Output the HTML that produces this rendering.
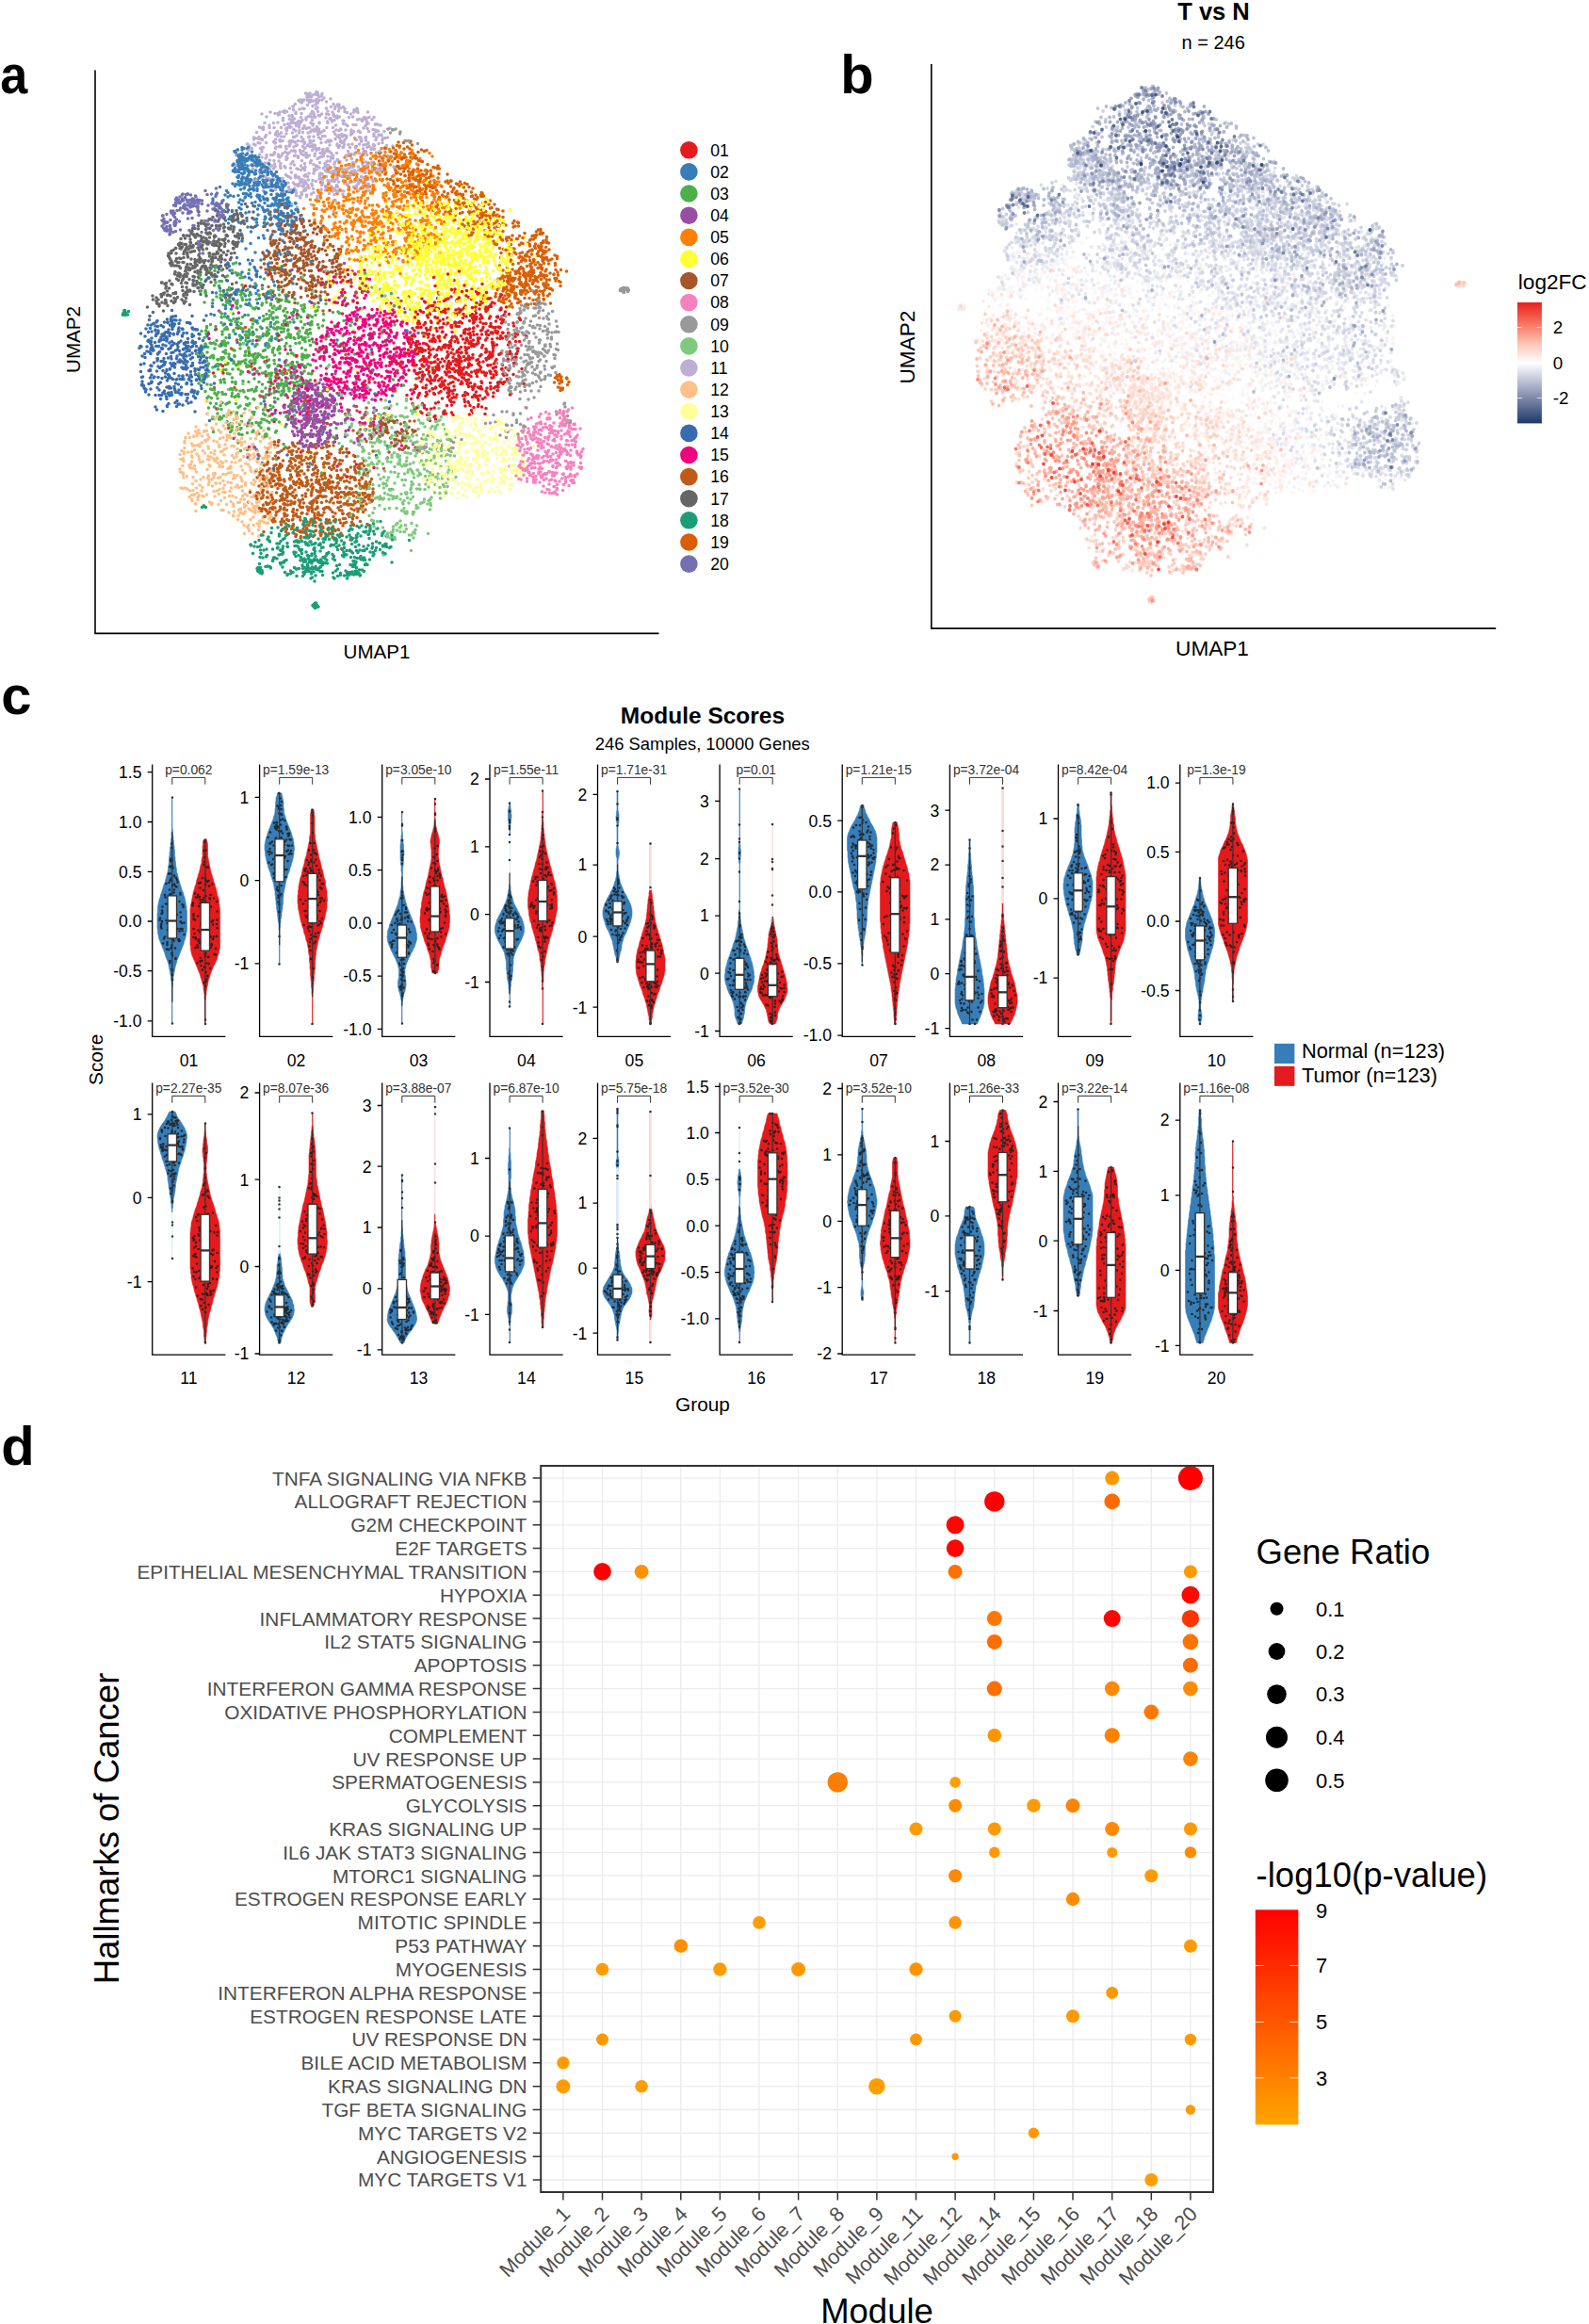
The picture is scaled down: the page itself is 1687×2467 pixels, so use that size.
<!DOCTYPE html>
<html lang="en"><head><meta charset="utf-8"><title>Figure</title>
<style>html,body{margin:0;padding:0;background:#fff}svg{display:block}text{font-family:'Liberation Sans', sans-serif}</style>
</head><body>
<svg width="1687" height="2467" viewBox="0 0 1687 2467">
<defs><linearGradient id="gd" x1="0" y1="0" x2="0" y2="1"><stop offset="0" stop-color="#FF0000"/><stop offset="1" stop-color="#FFA500"/></linearGradient><linearGradient id="gb" x1="0" y1="0" x2="0" y2="1"><stop offset="0" stop-color="#E7211C"/><stop offset="0.205" stop-color="#FA826E"/><stop offset="0.35" stop-color="#FDC8B9"/><stop offset="0.5" stop-color="#FFFFFF"/><stop offset="0.65" stop-color="#BEC3D7"/><stop offset="0.795" stop-color="#7D87AA"/><stop offset="1" stop-color="#1D3869"/></linearGradient></defs>
<rect width="1687" height="2467" fill="#fff"/>
<g id="pa">
<text transform="translate(0.2 99) scale(.9 1)" font-size="58" font-weight="bold">a</text>
<g transform="scale(.5)" stroke-width="7.2" stroke-linecap="round" fill="none">
<path stroke="#BEAED4" d="M638 212zm7 0zm10-12zm2 5zm6-3zm1 12zm8-19zm2 20zm0-16zm4 14zm6-14zm76 40zm-6-3zm-2-3zm-1 5zm-19-7zm-12-9zm0 8zm-1-4zm-8 5zm-3-10zm-15 9zm-19-2zm-4-6zm-5 16zm-2-1zm-5-21zm-35 17zm-14 4zm-53 5zm25 19zm10-17zm2-1zm8 8zm0 5zm13-10zm1 7zm5-8zm1 3zm0 7zm7-14zm22 13zm10-6zm18 14zm0-2zm15-18zm2 16zm1 3zm6-10zm3 7zm5-11zm6-1zm1 4zm11 6zm31-2zm10 2zm10-5zm0 7zm20 21zm-5 6zm0-1zm-11-5zm-3-6zm-4-6zm-14 11zm-6-13zm-6 0zm-24 20zm-6 2zm0 0zm-13-16zm-24 9zm-4 3zm-12-5zm-10-7zm-14 2zm-7-8zm-8 13zm-4-3zm-6-5zm-7 1zm-2 2zm0 4zm-12 5zm-11 0zm-4-11zm-17 16zm-40 19zm1 0zm13-10zm0 10zm3 2zm9-13zm4 0zm2 2zm6-6zm2 12zm19 1zm1-1zm10-4zm2-9zm6 0zm4 21zm7-10zm1 8zm1-4zm11-3zm3-14zm1 20zm9-17zm4 5zm2 9zm12 6zm0-7zm5 7zm3-12zm1 11zm10-18zm4 3zm19 13zm1-10zm15 8zm0 3zm0-19zm5 3zm0 16zm3-10zm7 8zm1-10zm8 10zm13-14zm15 6zm9-1zm0 9zm0-16zm16 16zm1-18zm1 20zm5-17zm12 11zm0-6zm1-4zm5 0zm16 17zm-19 21zm-22 0zm-3-17zm-2 3zm-9 12zm-2-7zm-2 0zm-22 4zm-14-5zm-10-8zm-22 17zm-13-14zm-2 5zm-3 4zm-10 9zm-2-19zm-5 4zm-3-6zm-2 2zm-10 15zm-7-3zm-12-6zm-5 11zm-6-10zm-13 2zm-3 3zm-1-2zm-2-9zm-3 7zm0 0zm-9-11zm-11 3zm-2 9zm-27-7zm-19 41zm12-12zm7 8zm13-8zm4 13zm4-7zm6-4zm1 6zm12 3zm8-4zm2 3zm2-17zm9 18zm8-7zm22 9zm12-13zm2-5zm6 18zm4-6zm1-1zm2-15zm0 16zm4 3zm12-9zm4-4zm0 11zm1-12zm6 0zm2-6zm4 0zm4 8zm6-4zm1 17zm4-14zm2 13zm27-8zm19 2zm1-11zm1 20zm6-4zm3 1zm11 2zm5 0zm4 0zm11-15zm56-3zm-50 21zm-23 0zm-1 1zm-13 19zm-1-5zm-4-11zm-5 12zm-4-2zm-12-9zm-2-4zm-4 4zm-6 1zm-9 7zm-4-6zm0 2zm0-7zm0 11zm-2-14zm-9 1zm-4-1zm-2 6zm-1 5zm-1 12zm-10-17zm-4-1zm-1 18zm-12-14zm-5 3zm0 2zm-30-3zm-2-10zm0 13zm-1-1zm-11 3zm-7-4zm-11 6zm-2-2zm-5-2zm-3-3zm-25 10zm-8-1zm-4-1zm-7-19zm-10 9zm8 30zm12-9zm13 5zm11-9zm3 9zm8-6zm4-1zm2 14zm7 5zm2 0zm2-7zm5-8zm2 3zm13 10zm9-12zm8-3zm3 11zm18-8zm8 11zm0-9zm4 4zm3-12zm5 9zm1-12zm2 0zm0 22zm8-1zm1-12zm4 13zm6-1zm5 1zm1-17zm12-2zm8 10zm6 1zm3-7zm6-5zm8-2zm1 2zm2 6zm15-7zm-126 24zm-15 8zm-15 0zm-7-8zm79 40z"/>
<path stroke="#FF7F00" d="M756 311zm87 21zm-3 3zm-12-3zm-13 2zm-27-9zm-48 4zm-8 5zm-12 11zm5 7zm9-1zm32-11zm10 18zm4-2zm13-11zm5-8zm17 19zm9-17zm3-1zm2 12zm9 7zm22-7zm0 7zm3-12zm1 9zm4-6zm36 14zm-14 6zm-8 15zm-2-5zm-30 3zm-6-1zm-1 1zm-7-8zm-39 7zm-61-15zm-8 0zm-6-5zm-11 8zm-4 9zm0-4zm-24 6zm-8 25zm1 3zm22-17zm31-6zm9 9zm3 10zm13-3zm5 6zm1-1zm17 1zm3-9zm2-6zm3 5zm14-12zm12 0zm11 12zm1-2zm2 5zm10 6zm2-17zm3 10zm10 1zm7-5zm2 13zm2-23zm1 0zm1 10zm1 6zm8 3zm5 2zm21-4zm8-10zm7 14zm1-20zm1 8zm38 37zm-3-12zm-2 0zm-2 2zm-12 4zm-1 3zm-5 3zm-1-1zm-8-21zm-21 23zm-6-13zm-10-7zm-21 7zm-2-3zm-3 3zm-13 7zm-1-9zm-2 11zm-3-9zm-1 10zm0-16zm-10 10zm-8 3zm-31-15zm-6 11zm-8-7zm-13 6zm0 7zm-20-3zm-5 1zm-5 2zm-11 4zm-3-20zm-5 14zm-2 1zm-11 5zm0-10zm-2 2zm-9 6zm-5-19zm-2 5zm19 23zm12 2zm9-2zm9-1zm6 10zm4 3zm2 2zm5-1zm3-6zm0-3zm11 2zm15-3zm9-5zm7 10zm0-10zm34 8zm10-9zm15 4zm15-7zm29 15zm13-9zm9-2zm3 1zm3-1zm4 4zm1 12zm2 2zm14-13zm24 16zm-17 1zm-12 11zm-5-3zm-5 2zm-12 11zm-3-7zm-4-5zm-2 9zm-1-7zm-12 3zm-12-4zm-12-2zm-7 5zm-13-15zm-2 3zm0 18zm-8-11zm-6-4zm-4 11zm-19 1zm-5 2zm-12-5zm0-7zm-4 9zm-5-1zm-5-11zm-24-3zm-5 10zm-15 3zm-37-11zm-14 3zm-16 12zm-3-19zm25 28zm16 17zm3-18zm1 18zm23-15zm15 1zm9 4zm7 3zm19-4zm6 1zm3-6zm0 11zm5-13zm14-1zm2 12zm1-14zm10 10zm21-5zm1 3zm12-4zm5 10zm0 0zm3 7zm6-14zm2-3zm13 14zm26-3zm9-6zm2-6zm2 16zm-19 13zm-3 2zm-4-4zm-2 4zm-16 4zm-9 4zm-4 2zm-2-4zm-2 4zm-5-16zm-2 14zm-8 4zm-18-12zm-4-8zm-8 15zm-15-15zm-6 3zm-4-4zm-2 4zm-6 9zm-15-8zm-9 4zm-7 11zm-8-17zm-12 6zm0-10zm-19 2zm-17 15zm-5 4zm-7-15zm33 29zm28-6zm24-5zm1 18zm22-12zm23 13zm3-9zm23 11zm6-12zm9 0zm1-9zm2 3zm1 13zm11 4zm5-1zm0-8zm6-3zm0 4zm23-11zm24 8zm-78 16zm-31 5zm-3-4zm-57 1zm38 27z"/>
<path stroke="#D95F02" d="M843 309zm32-1zm31 11zm-5 2zm-6-3zm-17 16zm-1-8zm-4-2zm-3 2zm-5-14zm-6 16zm-2 7zm-5-11zm-10 9zm-1-6zm-6-13zm-12 18zm-8 2zm-10-9zm2 25zm4 1zm2 3zm25-17zm5 16zm7 5zm5-22zm1 20zm15-13zm14-7zm3 14zm41 8zm-7 25zm-16-20zm-2-2zm-4 12zm-9 0zm-9 4zm-31-7zm-7-3zm-4-5zm-5 22zm1 7zm9 4zm9 1zm16-4zm6-1zm4 5zm4 1zm2 8zm17 2zm11-13zm4 5zm5-11zm5 4zm10 4zm5 11zm9-18zm5 7zm0-12zm6 18zm13-7zm16-4zm33 25zm0 14zm-21-1zm-1-13zm-2-8zm-18 5zm0 18zm-9-4zm-2-2zm-3-12zm-36 6zm-11-2zm-17-5zm-7 0zm-1 15zm-15-18zm-15 0zm51 31zm20-7zm15 17zm1-8zm2 13zm2-9zm13-4zm6 11zm7-17zm11 14zm3-6zm1 10zm28-17zm4 12zm7-15zm12 0zm5 10zm46 29zm-12 1zm-20 1zm-1-1zm0-13zm-12-5zm-2 15zm0-14zm-6 19zm-2-20zm-7 2zm0 10zm-3-3zm-5-7zm-1-1zm-65 1zm9 28zm18 0zm7 2zm5 6zm2-8zm34 13zm22-10zm26 11zm2-18zm11-2zm38 19zm9-12zm2 10zm11 18zm-8-3zm-4 5zm-2 8zm-10 2zm-12-8zm-4-3zm-11 1zm-3-1zm-4 4zm-4-13zm-2 0zm-12 12zm-10-11zm-8 2zm-15 9zm-4-3zm30 14zm1 8zm0 7zm7-3zm2-14zm4 8zm1 0zm9 11zm6-1zm1-10zm2 13zm0 1zm6-6zm2-1zm11-13zm10 12zm3-8zm8-4zm1 20zm6 0zm2-3zm0-13zm1 13zm5-17zm25 43zm-23-21zm-4 1zm-22 16zm0-12zm-8-1zm-1 18zm-5-6zm0 5zm-2-12zm0 3zm0-1zm-10-9zm-5 17zm-10-12zm-17-4zm-7 13zm-9 6zm-7-10zm5 30zm0-5zm11-3zm1-7zm1 20zm1-5zm4 2zm28-19zm1 6zm0-3zm4 18zm0-6zm5-10zm0-3zm3 17zm1-4zm3-6zm8 6zm8-6zm11 4zm0-5zm14 28zm-3 0zm-1-1zm-6-1zm-4 5zm-2-14zm-16 17zm0-11zm-1 12zm-3 0zm-3-17zm-3 14zm-7-13zm-4-3zm0 5zm-6 3zm-2 10zm-3-16zm-1 15zm0-17zm-10 22zm-2-1zm-5-15zm-3-2zm0 10zm-4-12zm-1 20zm-1-22zm-3 20zm-6-11zm-2 8zm-8-13zm-12 7zm-1-3zm-5 24zm10-4zm7 9zm1-3zm22 4zm14-13zm4 9zm14-2zm2 14zm0-23zm8 9zm20-7zm0 6zm10-5zm13-3zm-79 28zm105 159zm-5 3zm-3 8zm5 7zm4-2z"/>
<path stroke="#FFFF33" d="M1032 422zm-6 7zm-6-21zm-34 14zm-9 0zm-4-3zm-25 1zm-130 33zm37-10zm2-4zm7 5zm10-9zm7 18zm5 2zm7-17zm3 16zm8-9zm31-4zm12 6zm5-14zm17 0zm11 4zm14-2zm90 10zm-19 23zm-5-4zm-3-2zm-7 13zm-8-1zm-4-7zm-4 3zm-2-9zm-3-3zm-12 15zm-4 2zm-6-1zm-4-12zm-1 0zm-1 8zm-2-6zm-2 5zm-3 9zm-4-15zm-1-3zm-9 10zm-5-5zm-2 10zm-10-2zm-16 2zm-5 3zm0-8zm-7-9zm-21 8zm-8-8zm-10 16zm-28-21zm-2 4zm-14 3zm-1 2zm-16-9zm-1 2zm-12 14zm-6-10zm-2-3zm-9 13zm0 0zm7 15zm22-7zm22 15zm23 6zm0-8zm2-8zm1 5zm13 0zm1-1zm5 12zm2-9zm7 1zm8-11zm3 21zm1-5zm1-8zm3 3zm2 3zm3 5zm7-15zm8 7zm1-6zm6 14zm4-10zm3 4zm9 3zm2 0zm13-14zm4 11zm3 5zm0-7zm2 4zm5-12zm2 5zm14 6zm7 6zm0-14zm4-7zm18 9zm18 8zm4 3zm50 3zm-24 7zm-10 7zm-19 8zm-15-2zm-1 3zm-1-13zm-7-1zm-2-6zm-4 9zm-2-11zm-3 17zm-8-3zm-6-11zm-7 15zm-3 4zm-5-15zm-4-4zm-6-3zm-2 0zm-20-1zm-6 9zm-11 2zm-2 11zm-1-8zm-2-12zm-1 7zm-6 0zm-2-5zm-14 13zm-8-10zm-1 11zm0-5zm0-10zm-1-2zm-6 20zm-9-2zm-4-8zm-2 7zm-5-7zm-1-2zm-7 10zm-3-9zm-1 11zm-1-13zm-9 12zm-47 1zm-24 2zm-10-12zm-29 12zm-6-22zm2 46zm26-1zm9-7zm34 8zm2-16zm10 0zm3 16zm19-16zm5 0zm16 0zm8-6zm6 18zm3-19zm3 18zm9-8zm0-7zm1 5zm0 8zm3-15zm0 15zm1-6zm2 4zm1-14zm14 12zm6 7zm4-6zm1 3zm5 1zm2-8zm2 11zm9-4zm9-12zm1 16zm4-8zm7 7zm2 0zm4-4zm13-1zm3-14zm7 23zm3-10zm1-4zm0 11zm1-7zm3 2zm6 1zm2 1zm1-8zm6 8zm3 3zm5-2zm14 0zm5-6zm12 8zm12-13zm9-4zm3-2zm48 13zm-48 12zm-9 20zm-12-21zm-5 4zm-1 11zm-15 7zm-15-7zm-16 7zm-13-19zm-5 5zm0-3zm-3 12zm-14 5zm-3-10zm-11-3zm0-2zm-4-5zm-9 11zm-2-6zm-6-8zm-1 20zm-4-17zm-1-1zm-5 4zm-1 13zm-3 3zm-5 0zm-19-13zm-1 9zm-1-7zm-1-8zm-7 2zm-2 3zm-3 13zm0-3zm-7-6zm0-12zm-5 20zm-4 3zm-10-12zm-5-7zm-7 11zm-5 4zm-1-1zm-6-18zm-3 12zm-1 8zm-5-17zm-7 8zm-18-4zm-1 16zm-28-12zm-14 10zm-22-7zm-46 28zm17 5zm38-8zm13-14zm4 6zm2 15zm6-11zm13-5zm7-6zm2 7zm8 7zm9-8zm2 8zm18-6zm17 2zm13 3zm10 2zm16-5zm10-2zm6-6zm6 7zm13-9zm3 10zm0 11zm4-21zm4 8zm5 14zm1-1zm8-9zm37 10zm15-7zm3 7zm9-19zm1 1zm48 3zm3-1zm15 0zm16 27zm-19 10zm-13-16zm-22 0zm-2-1zm-2 7zm-52-6zm-15 12zm-11-11zm-7 10zm-6-12zm-12 11zm0 10zm-6-16zm-7 12zm-11 2zm-7-4zm-4-1zm-8-2zm-3-2zm-11 11zm-1 0zm-12-3zm-5-20zm-20 7zm-9 5zm-4-1zm-6 6zm-10-1zm0-12zm-7 15zm-10 2zm0-2zm-8 4zm-8-13zm-18-2zm-58 36zm82-18zm21 5zm5-3zm2 3zm2 9zm2-8zm9 14zm2-19zm13 19zm2-2zm16-3zm1-17zm28 19zm18-17zm2 10zm6-10zm5 19zm6 1zm10-6zm3-15zm8 5zm25 5zm0-5zm1 1zm15-5zm1 20zm14-18zm5 19zm5-19zm7-4zm6 0zm47 19zm5 11zm-54-2zm-20 2zm-25 4zm-4 0zm-3 3zm-17-12zm-2 6zm-9-3zm-8 8zm-4 6zm-13-7zm-5-4zm-28 15zm-2-14zm-4 8zm-2-4zm0 10zm0-19zm-19 18zm-7-9zm-2-12zm-11 19zm-15-3zm-15-5zm-46-1zm-95-4zm160 38zm36-19zm11 7zm1-6zm8 7zm28 1zm15 0zm1-4zm-147 34zm-30-10zm130 74zm-213 35zm-39 2zm-14 17zm-179 22zm347 54zm-156 0zm-31-5zm15 63zm173 25zm-96 10z"/>
<path stroke="#377EB8" d="M537 333zm-2-11zm0 12zm-3-3zm-3 4zm-4-19zm-11 2zm0-5zm-3 15zm-4 4zm-2-14zm-1 0zm-3 7zm-3-3zm0-1zm1 36zm6-6zm2-5zm3 7zm0 3zm1 3zm0-17zm2-3zm0 6zm1 13zm1 1zm0-2zm3-17zm1-1zm1 5zm5-4zm3-2zm8 13zm2-11zm2 10zm6-2zm5-7zm1 8zm4-1zm0 6zm13 3zm20 25zm-2-7zm-19-4zm-1-8zm-2 19zm-5-18zm-9 0zm-1 14zm-4 5zm-4-3zm-1-10zm-7-6zm-5 3zm-3-4zm-1 16zm-9-10zm-1 7zm-2-8zm-6 5zm-1 4zm-2-13zm-5 1zm-4-3zm4 33zm7-10zm2 7zm1 1zm4-1zm0-3zm14 1zm1-2zm0-3zm2 2zm4 14zm4-1zm2-12zm0 6zm25 3zm1-5zm9 12zm1-19zm0-1zm3 21zm8-8zm9 6zm2-12zm2 3zm4 0zm8 26zm-2 4zm-8 0zm-4-14zm-1 3zm-9 5zm-2 7zm-1 6zm-17-9zm-3 0zm-3 9zm-2-8zm-9-1zm-1-4zm-1-2zm-14 15zm-11-19zm-46 2zm-26 13zm10 21zm20-10zm1 12zm25-9zm4 3zm17 6zm28-10zm8 7zm3-1zm1-9zm2 16zm14-6zm4-1zm3-6zm3-4zm6-1zm8 4zm0-7zm1 10zm6-7zm3 1zm0 12zm5 5zm5-8zm15 23zm-1-3zm-14 2zm-21-8zm-5 0zm-10-3zm-3 8zm-1-4zm-16 5zm-10-5zm-15-4zm-59 4zm-4 14zm-6-6zm-2-7zm35 35zm25-13zm22 17zm9-11zm28 8zm23-15zm6 11zm8 1zm-2 27zm-7-9zm-24-1zm-24 3zm-27-9zm18 39zm0-12zm48 6zm-7 14zm-15 19zm-1 1zm-22-6zm-1-5zm-15-9zm-13 17zm-1-2zm-4-14zm-9-1zm-39 22zm-4-16zm-35 23zm32 14zm53-1zm31-15zm60 8zm-3 15zm-50 18zm-24-3zm-57-3zm-8 2zm-24 6zm62 6zm5 19zm3-3zm1 3zm0-11zm42-4zm11-5zm12 11zm-91 16zm-11-4zm-2 6zm-12-7zm-1 17zm-30 1zm-10 3zm65 19zm34-12zm14-2zm73 9zm-39 35zm-27-6zm-44 4zm-4-3zm-10-5zm-43-9zm54 21zm53 13zm152-12zm4 117zm76-3zm37 4zm-211 33zm121 34zm-27 23zm-58 16z"/>
<path stroke="#A65628" d="M657 469zm-16 6zm-2-5zm-2-5zm-8-3zm-10-3zm0 18zm-11 0zm-1-16zm-10 13zm-1-8zm4 20zm26 3zm3-7zm9 13zm7-14zm8 17zm36 5zm9-10zm2 9zm-5 8zm-8 10zm-18 3zm-8 2zm-6-10zm-4 3zm-4 4zm-16-11zm-2-5zm0 18zm-9 2zm0-19zm-4 6zm-2-8zm0 21zm-8-2zm-2-9zm-27 6zm4 21zm1 2zm2-11zm4 10zm3 7zm1-19zm12 14zm1-16zm6 5zm14 15zm9 1zm3-2zm2-10zm4 5zm10-9zm2 1zm1-5zm16 20zm3-15zm2-3zm17 9zm29-12zm0 5zm16 39zm-25-6zm-2 8zm-4-17zm-2 9zm0-14zm-20 2zm-10 8zm-2 5zm-10-7zm0-7zm-3 7zm-4 14zm-12-11zm0-5zm-1-5zm-8 17zm-3-1zm-2-15zm-2 10zm-19-11zm-9 1zm-8 12zm-4 2zm-25 3zm-3-12zm8 24zm8 3zm1 6zm18-7zm2 13zm7-5zm0-11zm2 1zm1-6zm8 4zm18 11zm5-13zm7 4zm14 2zm0 13zm3-5zm1-8zm12 2zm7 4zm5-15zm7 0zm6 21zm5-20zm16 0zm6 0zm4 10zm13 6zm29 23zm-28-17zm-55 4zm-10-4zm-10 5zm0 14zm-14-5zm0 1zm-18-3zm-9-9zm-26 4zm-3 9zm-9-9zm16 29zm13-5zm5 12zm41-11zm9 11zm16-6zm43 10zm18 69zm-273-19zm404 107zm-297-1zm190 14zm-216 28zm255 33zm14 8zm35 22zm-6-11zm-8 3zm-13-5zm-3-1zm-13-4zm-12 13zm-1-8zm9 22zm21 18zm2-2zm19-3zm2-15zm1-2zm15 4zm4 33zm-20-3zm-7 8zm-6-1zm-2-18zm-7 10zm-1-10z"/>
<path stroke="#666666" d="M422 450zm42 0zm13-1zm7-14zm19 18zm8 0zm14-14zm13-2zm86 34zm-88-8zm-19 6zm-12-3zm0-3zm-8-7zm-1 6zm-5 4zm-26 0zm-15 13zm-6-13zm-7 13zm-16-5zm-15 19zm1-2zm2-6zm5 0zm4 12zm3-17zm24 5zm0 9zm2 2zm8 6zm13-22zm12 20zm1-1zm2 2zm12-9zm2-10zm8 14zm5-7zm23-7zm9-1zm-27 25zm-14 17zm-4-4zm-19-12zm-6 2zm-17-5zm-3 14zm-7-14zm-5 14zm-1-7zm0 3zm-7-10zm0 8zm-2 8zm-2 6zm-1-15zm-12-7zm-6 21zm-5-11zm-8 12zm-10-9zm-1 10zm-3 0zm0-11zm-1 5zm-24 22zm1-5zm2 10zm2 3zm2-18zm0 4zm11 12zm15-2zm0-8zm10-10zm4 6zm20 12zm1 3zm19-12zm8 2zm2 0zm9-2zm6 9zm6-11zm6 5zm10 6zm0-9zm-9 31zm-3-6zm-1-11zm-11 13zm-10 3zm-14-14zm-10 12zm-2-12zm-6 2zm-1 1zm-4 18zm-2-21zm0 9zm-18 5zm-2-7zm-2 5zm-8-9zm-8 0zm-10 7zm-5-2zm-4-3zm14 33zm2-7zm2 10zm3-7zm1-5zm13 4zm14 0zm2 9zm14-18zm12 5zm0 11zm6-4zm0-11zm4 20zm1-19zm0 3zm2 3zm27 2zm15 15zm-65 7zm-2-5zm-5 6zm-1 0zm-8 8zm-2-13zm-7 10zm-6-15zm-3-1zm-9 1zm-12 22zm-7-19zm-1-1zm-6 9zm-9-9zm-7-3zm-11 32zm19 5zm6-11zm5 2zm10 12zm1-4zm17-8zm5 5zm2-7zm6 21zm23-22zm12 3zm57 6zm-182 18z"/>
<path stroke="#7570B3" d="M471 431zm-20 0zm-31-4zm-4-9zm-1-2zm-2 10zm-4-4zm-1 0zm0 8zm-3-16zm-16 12zm-2-4zm0 3zm-7 6zm-1-7zm-3 2zm-1-6zm-2 3zm-6 26zm6-12zm15 15zm2-15zm2 3zm11 12zm0-19zm1 3zm2 2zm3 0zm8 0zm25-2zm15 11zm1-10zm10 3zm-2 23zm-16 4zm-7 9zm-2-7zm-6 0zm-9 5zm-14 5zm-13-15zm-18 6zm-9 9zm-2-3zm0-2zm-2-17zm-18 14zm-2-6zm0 11zm-2-18zm-2 10zm3 16zm6 1zm8 10zm12-4zm10-3zm19 1zm36 5zm15-5zm5 13zm1-17zm-21 29zm-1-8zm-15 14zm9 18z"/>
<path stroke="#386CB0" d="M442 590zm62-6zm-39 23zm31 29zm51 8zm76 19zm-298 0zm5 29zm12-1zm5 3zm8-16zm6 12zm2-13zm0 4zm1-8zm2 21zm0-9zm1-13zm30 13zm5 0zm134-5zm-112 30zm-13-11zm-2-2zm-12 10zm-10-9zm0 14zm-7-16zm-2 9zm-10 4zm-10-9zm-1 7zm-4 10zm-4-4zm-13-7zm0-4zm-5 11zm-12-16zm-11 17zm-12 25zm2-4zm14 1zm4-14zm5 3zm0 14zm1-6zm2 5zm8-3zm7-13zm19 19zm21-13zm1-1zm4-3zm5 18zm2-13zm3-2zm2 8zm19-8zm12 8zm4-12zm73 4zm-65 33zm-4 7zm-10-3zm-4-7zm-12 2zm-6-5zm-7-8zm-3 18zm-2-9zm-9 9zm-6-8zm-19 4zm-9 1zm-1 6zm-5 0zm-6-17zm-1 12zm-1 4zm-8-22zm-6 7zm-3-4zm-18 27zm20 11zm3-8zm5-7zm19 17zm15-3zm21-15zm11 12zm12 8zm4-18zm5 17zm0-5zm12-3zm6 0zm1-12zm4 18zm4-11zm469 19zm-476 2zm-1 16zm-10-9zm-2-5zm-4 9zm0-1zm-2-11zm-8 5zm-5 6zm-1-1zm-13-6zm-2 6zm-6-7zm-7 16zm-13-15zm-2 3zm-1-7zm-16 17zm-19-2zm-1 3zm-13 13zm35 13zm3-5zm4 2zm9-15zm1 0zm3 3zm1 15zm7-13zm7 7zm2-5zm5-6zm9 15zm12-5zm7-2zm6 6zm9-11zm168-8zm-185 24zm-5 13zm-18 6zm-16-5zm-17 8zm0-2zm-1-14zm357 91zm88 29zm-130 27zm-11-10z"/>
<path stroke="#4DAF4A" d="M678 573zm-212 24zm49-8zm101 10zm215 24zm-41-13zm-219 10zm-57 2zm-27-11zm-5 12zm-7-3zm-10-12zm-7-8zm-22 17zm45 21zm2 4zm3-6zm2 10zm23-20zm12 11zm42-2zm1 7zm12-13zm9 5zm4 7zm17-2zm6 2zm12-6zm6 9zm14 3zm22-2zm12-12zm38 29zm-42-10zm-2 7zm-9-8zm-18 2zm-3 6zm-2-3zm-8 13zm-4 0zm-28-9zm-16-3zm-6 6zm-39-7zm-4-2zm-5-5zm-5 20zm-32-3zm-56 27zm8-4zm27 1zm22-13zm16 10zm3-14zm20 22zm6-15zm5 1zm21-4zm19-3zm1 10zm15 7zm14-7zm15-9zm8 8zm8 6zm12 1zm3-1zm0-6zm13 6zm36 3zm19-11zm17 3zm127 33zm-197-21zm-18 12zm-5 1zm-6 9zm-4 0zm-4-3zm-5-1zm-1-8zm-1-9zm-5-1zm-2 23zm-15-17zm-8-4zm-6 7zm-8 9zm-1-15zm-7-3zm-10 4zm-3 12zm-15 5zm-1-1zm-7-16zm-8 11zm-8-7zm-1 5zm0 3zm-5-8zm0 13zm-7-19zm-3 19zm-11-21zm-15 15zm-4-12zm-3 18zm-8-13zm0 6zm-30-5zm-2 2zm-2 2zm-1-7zm-35 41zm26-9zm3 5zm10-2zm8-8zm5-1zm14 7zm4-2zm4-9zm4 5zm14 13zm1 1zm15-11zm12-9zm4 4zm24-5zm13 21zm6-13zm1 0zm11 9zm17-18zm38 7zm12-3zm1 18zm10-10zm33-13zm36 14zm121 7zm-96 11zm-64-6zm-6 11zm-27-2zm-3 3zm-7-3zm-3 4zm-14-2zm-10-7zm-8 1zm-50-7zm-2 15zm-3-1zm-4-5zm-5 4zm-6-5zm-3 5zm-20 9zm-20-11zm-3 11zm-4-1zm-4-4zm-8-17zm-4 16zm-1-13zm0 12zm-4 0zm-17 1zm0-5zm-13-7zm3 24zm17 2zm3 3zm0-1zm9 11zm7-13zm17-3zm11-1zm14 1zm3 6zm3 1zm0-2zm6 1zm6-7zm1 2zm6 16zm44-11zm2-2zm30 2zm2 13zm2-7zm13 8zm7-3zm95-14zm94 32zm-180-13zm-16 7zm-12 4zm-2 9zm-14-9zm-10 11zm-5-23zm-4 11zm-6 4zm-6 8zm-3 0zm-2-8zm-14-15zm-4 0zm-17 12zm-3-9zm-26-1zm-11 17zm-7-9zm0 9zm-16 1zm-38-12zm-9-3zm0 12zm18 8zm12 22zm4-6zm27-8zm2 10zm42-8zm8-1zm1 3zm1-7zm12-6zm0 15zm7-7zm33 14zm2-8zm1 6zm2-5zm0-8zm11 2zm23-8zm6-1zm8 3zm202-1zm-203 45zm-29-5zm-30-11zm-7 6zm-30-11zm-15 5zm-12-1zm-25 11zm-21 1zm-8-3zm-25 1zm8 8zm12 21zm8-2zm9-3zm18 0zm11 3zm23-8zm3 5zm20-2zm4-13zm15 15zm25-4zm111 33zm-95-19zm-4 0zm-9 16zm-34-9zm-5-3zm-6-3zm-15 6zm-12 5zm-2 1zm-2-11zm-5 12zm-15 7zm-18-2zm-2-10zm-23-10zm83 32zm16 5zm0-4zm19-4zm123 10zm19 20zm-121 1zm-4-6zm-15 32z"/>
<path stroke="#F0027F" d="M736 573zm-49-6zm98 26zm-11 16zm-42 12zm-165 11zm153 0zm7-5zm1 14zm46-8zm47 12zm12 23zm-8-3zm-10 4zm-7-5zm-2 7zm-25-1zm-7-17zm-9 2zm-22 14zm-16-3zm-112 8zm97 20zm7-8zm19-10zm6 1zm19 18zm4 0zm5-11zm3 9zm1-11zm1 5zm14-15zm0 2zm19 20zm7-2zm3-17zm5 14zm6-7zm5 0zm1 2zm14 5zm2-5zm0 8zm12 26zm-1-11zm-33-2zm-4 9zm-1-4zm-10-9zm-3 2zm-7 6zm-1 7zm-11-10zm-3 4zm-3 3zm-1-4zm-14 3zm-6 6zm-5 0zm-25-15zm-12-4zm-3 8zm-27-11zm-1 14zm-8 6zm-2-3zm-3 3zm-237 3zm101 4zm126 19zm1-21zm14 14zm1 3zm22-15zm13 12zm9 4zm4-9zm8 9zm9-8zm4-3zm7 9zm1 5zm13 0zm1-12zm7 6zm19 2zm3 3zm3-6zm37 3zm36-5zm4-8zm-11 38zm-7-8zm-12 0zm-5-10zm-15 8zm0 8zm-4 6zm-4-20zm-7 3zm-4 0zm-4 3zm-20 11zm-4-12zm-2 14zm-7-14zm-1 4zm-13-12zm-4 12zm-1-4zm-4 14zm-4-2zm-6 1zm-1-18zm-1 13zm-9 0zm-3-15zm-6 15zm-19-8zm-31-7zm-12 8zm-2 11zm-97 2zm63 22zm79-20zm4 20zm9-6zm15-12zm5 4zm25 14zm2-9zm0 5zm6-1zm6-4zm4 9zm3-15zm32 4zm19-9zm13 0zm2 13zm4 6zm5-10zm5-9zm11 2zm-17 39zm-4-17zm-4 9zm-10-9zm-16 7zm0 4zm-1 6zm-4-10zm-5 4zm-6 8zm-2-12zm-9-2zm-29-2zm-3 20zm-8-16zm-4 5zm-22-3zm-10 11zm-1-7zm-2 3zm-7 7zm-3-10zm-2-1zm0 8zm-13-3zm-4-15zm-1 14zm-3-4zm-7-7zm-25 17zm-25-15zm-13 3zm-27 0zm-2 18zm41 6zm32 0zm39-1zm20 3zm5 5zm3-9zm4-3zm3 0zm0 5zm7 9zm4-7zm5-5zm9 2zm2 0zm0 12zm6-15zm1 17zm1-18zm0-3zm4 18zm2-5zm1-7zm1 10zm21 4zm9-2zm3-3zm2-14zm4 10zm3-8zm2-3zm11 12zm18-12zm19 10zm-74 12zm-26 4zm-21 2zm-24-1zm-68 5zm-19 2zm-8-3zm-172 19zm135 9zm15-2zm1 11zm53-19zm10 16zm119 13zm-7 8zm-16-5zm-6-2zm-14-6zm-12-3zm-68 4zm129 27zm5 16zm-234 17zm-41-3zm187 41z"/>
<path stroke="#E41A1C" d="M774 574zm-52 14zm31-6zm12 15zm259 6zm-8 18zm-5-2zm-9-5zm-35 4zm-1 4zm-35-1zm-32 2zm-119-11zm0 7zm-16-7zm-8 10zm-28-7zm-27-10zm58 38zm109-13zm28 4zm27 8zm6-9zm3-9zm14 12zm24 4zm1-4zm24-5zm6 4zm19 11zm4-12zm1 8zm5-13zm12 18zm8-3zm12-14zm19 37zm-10 1zm-1 1zm-32-18zm-20 5zm-7 9zm-2-6zm-3 11zm0-15zm-19 14zm-17-3zm-1 3zm-5-4zm-17-4zm-21-7zm-14-6zm-1 16zm-5-9zm-19 12zm-2 28zm3-7zm0 7zm3-8zm3 8zm15-21zm6 21zm15-9zm4-5zm5 14zm9-7zm2-13zm12 16zm4-3zm2-3zm2 8zm5 0zm22-12zm12-6zm5 17zm25-16zm14 6zm4-8zm0-2zm8 0zm0 14zm15 21zm-12 0zm-11-3zm-1 14zm-10-10zm-1-2zm-2 0zm-19-6zm-9 19zm-2-9zm-7 1zm-1-14zm0 0zm-6 20zm-1-10zm-1-9zm-2 11zm-6-10zm-3 2zm-1 6zm-24 8zm-1 2zm-26-21zm-4 19zm-2-12zm-19 13zm-2-15zm-2-4zm-25 5zm-11 27zm3 8zm3-16zm8 21zm8-12zm27-5zm2-1zm1-2zm3 0zm8 15zm2-13zm3 18zm3-5zm3 0zm2 1zm1-6zm20-7zm26 15zm3-2zm5-9zm12 2zm3-7zm1 4zm7 10zm2-5zm20-13zm1 8zm1 11zm29-19zm3 12zm24-7zm-4 21zm-5 12zm-8-6zm-3-6zm-3 5zm-16-1zm-10 13zm-2 4zm-5-22zm-1 10zm-5-2zm0 5zm-2-3zm-5-9zm-1 1zm0 17zm-1-3zm-10-8zm-7 10zm-3 2zm-11-5zm-6 4zm0-8zm-8 9zm-2-8zm-5-9zm-5 16zm-1-7zm0-2zm-3-10zm-1 3zm-12 1zm-6 4zm-1 3zm-12 6zm-12-8zm-3 3zm-1 1zm-12 0zm-15-14zm-12 8zm-3-7zm-319 23zm306 18zm12-10zm0 10zm4-11zm8 8zm9-15zm13 2zm5 14zm3 6zm2-22zm6 5zm1 3zm14 14zm4-13zm2-5zm1 17zm3 1zm6-6zm6-10zm2 2zm4 15zm1-16zm3 5zm3 7zm3-3zm13-12zm30-4zm10 8zm6-1zm0 15zm5-8zm4 6zm2-9zm12 5zm15 2zm10 9zm-14 1zm-5 15zm-10 0zm-13-10zm-2 1zm-2 0zm-2-9zm-9-1zm-39 3zm-2 20zm0-4zm-7-8zm-3-9zm-4 21zm-2-19zm-16 3zm-6 1zm-6-6zm-3 14zm-11-3zm-3 3zm-8-1zm-1 1zm-5-1zm-4-8zm-1 10zm-26-16zm-2 0zm-22 2zm20 23zm3 3zm13 2zm6 1zm8 6zm11 7zm2-14zm7 11zm2-15zm2-3zm0 15zm7-13zm0 8zm9 1zm2 12zm2-9zm6 6zm2-16zm21 19zm8-2zm2-16zm7 0zm6-5zm3 16zm10-11zm11 9zm10-4zm15 3zm27-7zm-37 20zm-22 5zm-12-6zm-3 2zm-15 12zm-1-2zm-6 9zm-1-22zm-1 8zm-22 6zm-6-1zm-3-4zm-2-9zm-49 1zm-7 16zm-21 0zm-3-10zm7 22zm21-3zm6 15zm8-13zm9 15zm20-11zm58 5zm4-12zm26 2zm-119 26zm-322 45zm0 34zm133 44z"/>
<path stroke="#999999" d="M849 284zm22 19zm461 309zm-7 6zm-2-3zm0-4zm-1 6zm-191 0zm8 30zm4 0zm2-2zm0-5zm9 4zm19 17zm-26-8zm-2 7zm-24-6zm-3-2zm-5 6zm-1 0zm-7 3zm-1-6zm-2 12zm-37 6zm44 22zm3-9zm1-3zm3-7zm15 19zm1-2zm34-5zm15-6zm-16 23zm-2 13zm0-20zm-1 12zm-2-8zm-7 1zm-19 5zm-22 3zm-1-3zm-5-11zm-14 4zm-3 18zm-1-8zm-8 2zm-2-14zm3 29zm4 2zm9 3zm3 7zm10-7zm10 2zm6 4zm1 2zm0-5zm21-8zm0-6zm13 13zm0-3zm10-1zm15-1zm-23 37zm-5-11zm-13 1zm-4-6zm-6-5zm0 1zm-7 12zm-39 5zm-11 1zm7 11zm1 5zm11-11zm1 0zm2 3zm5 16zm10-21zm3 18zm5 4zm9-21zm11 12zm29 16zm-12 7zm-8 3zm-6-9zm-27 8zm-5 2zm-1 2zm-1 4zm-1-14zm-9 14zm-35-9zm20 26zm40-12zm-2 29zm-56 26zm115 0zm24 9zm-108 9zm-66 7zm-127 33zm158-8zm50-10zm-158 43zm-27-10zm-24 2zm-1 0z"/>
<path stroke="#984EA3" d="M731 559zm-111 14zm-155 87zm253 75zm118 22zm-11 1zm-205 23zm18-5zm85-7zm-61 46zm-9-5zm-7 3zm-20-21zm-9 20zm18 27zm2-6zm3 3zm8 2zm5-20zm5 5zm11-5zm3-2zm10 20zm7-13zm1 2zm0 4zm2-5zm3 6zm3-4zm3 12zm8-9zm64 21zm-62 0zm-1 13zm0-17zm-2 9zm-4-14zm-2 19zm-3-11zm-1 0zm-5 2zm0-5zm0 10zm-5 2zm-4-18zm0 20zm-2 3zm-9-2zm0-14zm0 6zm-4-1zm-2-3zm0 3zm-1 8zm-1-3zm-3-17zm-17 19zm-13-15zm-2 1zm-5 10zm-7 8zm-34-9zm30 19zm3-6zm2-2zm1 2zm16-2zm11 2zm2 14zm0-17zm1 18zm2 0zm3-17zm0 8zm6 0zm4-9zm2 19zm15-19zm2 17zm8-15zm4 19zm0-5zm3-14zm6 7zm4 8zm1-11zm0 3zm1-6zm65 14zm17-5zm6-5zm-1 35zm-73-7zm-10 1zm-12 1zm-6-13zm-3 11zm-4 7zm-1 5zm-1-14zm-1 2zm-16 10zm-16-12zm-2-6zm0 3zm-7-4zm-4 18zm-2-14zm-2 2zm-10 3zm-3-6zm-3 6zm-1 17zm21 4zm16 1zm1 6zm2-13zm0 8zm17 1zm0-4zm1-4zm0 12zm1 7zm20-10zm1-10zm1 9zm32-8zm51 8zm17 12zm41 7zm-80 2zm-74-4zm-14-4zm-3 7zm-11 2zm-1-4zm-5 10zm-11-3zm-2-6zm-49 18z"/>
<path stroke="#FDC086" d="M469 853zm-29-1zm0 27zm49 2zm29-4zm17 10zm27-17zm7 14zm14 6zm-35 7zm-12 6zm-33-6zm-9 3zm-1 1zm-3 1zm-34-12zm-6 18zm-56 21zm0 1zm9-1zm19-16zm12 2zm1 20zm1-20zm5 8zm3 6zm39 0zm16-1zm14 3zm1-8zm18 8zm11-12zm3 5zm13 3zm1 3zm13 0zm2 18zm-4 4zm-8-2zm-20 3zm-30-8zm-9 8zm-35 6zm-3-10zm-1-4zm-41 1zm-32 5zm0-11zm-8 35zm5-1zm2-14zm8 0zm19 4zm26 12zm9-2zm2-10zm7 9zm11 10zm7-4zm13-12zm15 11zm3-2zm21-9zm7-3zm2 5zm5 11zm13-6zm6-12zm20 27zm0 12zm-9-5zm-5 1zm-13 3zm-26-2zm-1-6zm-9-8zm-2 21zm-30-11zm0-4zm-2 1zm-3 13zm-1-9zm-4 12zm-7-16zm-16 14zm-11-15zm-29 12zm-3-6zm-11-3zm-1-5zm-13 16zm1 10zm7-3zm13 2zm33 4zm7 1zm5-9zm0-1zm4 18zm45-17zm9 8zm8 8zm13 1zm5 3zm18-13zm36-3zm-13 20zm-8 16zm-5-15zm-8 7zm-34 11zm-12-19zm-13 1zm-6 19zm-3-17zm-3 7zm-11 2zm-3 0zm-20-2zm-61-7zm23 34zm4-14zm0 5zm12 12zm32-2zm5-8zm8-6zm13 8zm5 5zm1 5zm5-19zm11 4zm7 17zm19 1zm7-22zm1 18zm13 3zm13-20zm12 7zm0 19zm-1 0zm-5 16zm-6 0zm0 3zm-16-17zm-7 1zm-7-3zm0-1zm-10 21zm-27 0zm-10-9zm-25-11zm48 32zm7 4z"/>
<path stroke="#BF5B17" d="M533 679zm-42 61zm189 2zm53 3zm51 62zm55 23zm38-2zm-139 42zm20 2zm16 8zm119-6zm-80 24zm-41 2zm-7 12zm-43 43zm-14-9zm-15-2zm-7 6zm-15 1zm-3-7zm-8 3zm-2-2zm-16 12zm-12 2zm-3-11zm-16 4zm-61 16zm17-8zm0 9zm22-8zm29 12zm5 1zm4 4zm6-6zm3 10zm3-9zm7 4zm7-16zm15 3zm20 19zm1-1zm5-14zm1 3zm16 2zm16 5zm2-17zm7-1zm79 35zm-37 2zm-5-8zm-18 12zm-2-10zm-8 1zm-7 5zm-2 0zm-13-12zm-2-1zm-17 13zm-10-13zm-6 8zm-13 7zm-10-2zm-11-6zm-2-7zm-6 22zm-5-6zm-6-9zm-4 4zm0 11zm-4-18zm-7 3zm-4 8zm-6-1zm-12-10zm-7 8zm-2 0zm-3-9zm-11 13zm-1 5zm-7-19zm-6 34zm3-7zm1 13zm0 2zm1-14zm14-6zm6 20zm14 2zm3-12zm12-2zm1 2zm8 9zm4-2zm3-15zm7 18zm13-4zm3 3zm7-8zm2 9zm8-4zm1-5zm1-7zm4 11zm0 4zm14-12zm4 12zm2-5zm1-3zm2 7zm1-16zm5 13zm12 3zm5-7zm8-11zm5 13zm1-9zm7 0zm0 3zm9-1zm10 6zm0 7zm6-11zm3-8zm3 20zm4-19zm6 19zm46 11zm-39 6zm-6 6zm-11-4zm-2-11zm-2 14zm-1-3zm0-14zm-28 12zm-3 2zm-5 2zm-20-3zm-1-10zm-2 0zm-6 10zm-12-11zm-3 6zm-2 13zm-3-16zm0-2zm-22 4zm-3-8zm-6 8zm-5 8zm-20 4zm-7 1zm0-8zm-5 4zm-5-1zm-2 5zm-2-3zm0-8zm-2-5zm-2 5zm-1-4zm-1 1zm-2 10zm-10-12zm-34 4zm-6 8zm0-17zm-2 14zm-2 0zm-19 20zm24 13zm6-22zm14 12zm5-4zm3 12zm15-14zm1 13zm2-16zm5 10zm2 8zm1-17zm12 10zm1-1zm6-3zm1 2zm1-12zm0 9zm8-4zm2 11zm7-13zm15 8zm4-3zm1 6zm10-4zm1 12zm1-22zm8 10zm10-3zm5 14zm2-12zm3-5zm15 17zm6-3zm6-5zm5-1zm4 2zm3 1zm3-1zm5 1zm4-4zm6-3zm9-5zm0 18zm2-15zm3 1zm1-8zm13 6zm1 3zm2-3zm-33 37zm0-19zm-7 15zm-9-5zm-14 0zm-20 7zm-2-10zm-18 1zm-4 6zm-8-6zm-13-7zm-9 1zm-12 7zm-10 8zm-9-2zm-2-9zm-25-6zm-10 14zm14 30zm13-19zm9 11zm1-3zm8 13zm0-5zm7-17zm18 11zm2-6zm2-5zm10 5zm0 8zm9-1zm18-6zm12-4zm9 18zm3-20zm7 12zm37-9zm15 6zm-36 33zm-38-18zm-8 6zm-5 3zm-11-3zm-53 2zm-5-4zm101 33z"/>
<path stroke="#7FC97F" d="M823 605zm-16 9zm64 43zm-102-1zm-114 19zm-1 40zm45 60zm148 33zm-277-10zm-54 17zm-31 12zm296-5zm115 38zm-8 2zm-25-15zm0 4zm-80 4zm-15 32zm36-8zm5 2zm23 1zm8 3zm42-11zm2-8zm4-1zm24 11zm29 0zm4 35zm-18-16zm-2 11zm-12-17zm-3 0zm-51 15zm-39-5zm-2-7zm-1 16zm-15 2zm-12-10zm-2-11zm-13 13zm-10 0zm-19 3zm-13-8zm29 19zm1 17zm23-8zm6 2zm1-15zm2 11zm9-1zm5-4zm50 17zm3-9zm14 0zm9-2zm14-1zm0 9zm30 3zm29 24zm-21-2zm-7 2zm0-17zm-3 3zm-9 10zm-5-2zm-8-10zm-1 1zm-18-6zm-14-2zm-44 13zm-5 4zm-20-17zm-6 22zm-26-5zm-2-4zm-1-13zm16 36zm5 10zm11-10zm1-1zm20 3zm9 7zm7-20zm7 4zm1 5zm4-2zm11-7zm6 1zm40 15zm4-16zm35 6zm11 0zm5 34zm-7-11zm-24 16zm-17-2zm-6-4zm-20-2zm-1 0zm-15-13zm-12 1zm0 20zm-14-21zm-7 6zm-37-6zm-8 1zm-4-2zm-4 16zm-2-13zm-14 8zm14 31zm31 0zm31-14zm16 7zm18-5zm24-3zm21 18zm3-18zm1 2zm3 5zm17 7zm16-7zm-17 29zm-37-13zm-19 4zm-18 8zm-9 0zm-21 8zm-28-18zm-31-1zm-6 4zm-36 19zm23 0zm0 10zm72-11zm18 10zm10-10zm3 11zm20 10zm12-12zm13-5zm1 8zm-37 18zm-19-1zm-74 9zm10 23zm41 0zm6-4zm11 2zm9-1zm2 8zm22-7zm-7 15zm0 11zm0-12zm-19-1zm-24 11zm-1-11zm-1 11zm0 4zm-4-2z"/>
<path stroke="#FFFF99" d="M992 880zm7-1zm43 28zm-32-18zm-2 10zm-9-11zm-8 2zm-9-1zm-5 14zm-3 3zm-38 2zm-19 21zm27-12zm23-3zm8 9zm22 0zm8-11zm2 18zm9-14zm36 10zm0 7zm0 1zm20-8zm2-13zm6 22zm19-16zm15 6zm-12 17zm-4-4zm-6 13zm-21-12zm-2 16zm-4-5zm-9-13zm-27 21zm-2 1zm-24-5zm0-13zm-5 0zm-13 0zm-2-1zm-6-3zm-2 5zm-8-2zm-41 9zm-10-1zm-13-2zm-13-1zm6 35zm0-15zm14 7zm0 1zm6-5zm15 3zm10-4zm46 12zm31-15zm6 6zm1-8zm6 16zm7-1zm30 2zm7-15zm7 10zm7-14zm21 46zm-2-6zm-1-6zm-4 3zm-1 6zm-8-15zm-19 10zm-48 8zm-5 0zm-5-20zm0 5zm-1 4zm-20-8zm-1 12zm-13-13zm-3 0zm-13 4zm-1 5zm-2-3zm-5 3zm-1 5zm-5 1zm-3 2zm-30-18zm-13 2zm12 25zm7-3zm1 4zm7 8zm17-9zm17 10zm7 6zm16-15zm1 15zm23-10zm6 12zm13-9zm12-10zm17 15zm5-4zm3-9zm0-3zm30 8zm4-5zm3 5zm-57 25zm-26-3zm-4-6zm-3 18zm-11-14zm-18 3zm-5 10zm-11-5zm-28 8zm-2-8zm28 12z"/>
<path stroke="#F781BF" d="M1116 865zm80 15zm0-4zm2 9zm1 0zm5-11zm11-8zm5 34zm-2 11zm0-10zm-7-8zm-2 15zm0-10zm-9 6zm-3-3zm-7-2zm-2 6zm-16 1zm-5-17zm-5-1zm-23 12zm-38 28zm16 5zm6-17zm3 7zm7-5zm0 7zm1 7zm4-2zm10-7zm0-11zm0 22zm2-20zm16 13zm0-15zm8 23zm11-15zm7 6zm22 9zm6-4zm6-7zm12 29zm-3 6zm-10-1zm-4-14zm0 5zm-24 6zm-13-2zm-3-7zm-3-10zm0 14zm-6-2zm-7 8zm0-12zm-3-2zm-7-5zm-10 4zm-18 10zm-7-12zm-6 15zm-5-10zm-6 12zm-2-10zm-3-1zm12 21zm4-5zm5 0zm1 17zm3-5zm21-5zm7 4zm2 10zm8-20zm1 5zm1-7zm3 21zm19-13zm0 15zm2-12zm4-7zm11 15zm26-13zm7 26zm-24 15zm-3-16zm-4 4zm-21-5zm-9 15zm-13 0zm-13-3zm-4 4zm-8-13zm-3 12zm-4-11zm-3-10zm-44 6zm14 20zm10 8zm13-2zm13-3zm6 5zm11-7zm6 8zm11 9zm35-13zm11-5zm0 10zm5-1zm4-7zm0-3zm-38 28zm0 13zm-1-10zm-3 7zm-3-14zm-3 14zm-6 0zm-13-15z"/>
<path stroke="#1B9E77" d="M267 664zm-2-5zm-4 9zm168 409zm4-3zm2 2zm2 1zm305 20zm-93 5zm-72 19zm20 6zm12-4zm13-5zm35 9zm8-17zm33 11zm6 3zm46-11zm27 6zm9 6zm22-18zm61 40zm-49-9zm-4-10zm-3 4zm-20-4zm-8 0zm-9 2zm-19 19zm-1-7zm-14-6zm-6 4zm-9-3zm-2 11zm-4-8zm-4-4zm-2 12zm-11-14zm-5 11zm-8-12zm-4 18zm-1-7zm-10 0zm-10-15zm-8 21zm-4-8zm-6 9zm-11-22zm-15 2zm-18 12zm-3 2zm-51 2zm-10 13zm7 1zm50 8zm4-9zm0 12zm23 0zm2-13zm2 14zm8-6zm19-9zm15-5zm10 4zm14 18zm15-18zm11 1zm22 11zm1-1zm6 6zm13-17zm8 12zm12-11zm4 14zm4-8zm7 5zm9-16zm11 22zm15 19zm-40-14zm-12 19zm-5 0zm0-10zm-1-2zm-1-3zm-1 5zm-9-4zm-10-2zm-1 16zm-2-1zm-5-15zm-9-5zm-15 21zm-10-10zm-2-8zm-14-5zm-1 13zm-9 10zm-3-6zm-1-5zm-1 6zm-2 0zm-3-3zm0 1zm-7-2zm-6-14zm0 3zm-1 14zm-4 0zm0-5zm-2-2zm-2 12zm-4-6zm-1-3zm-3 4zm-1-5zm-4 0zm-6-9zm-26 10zm-4 2zm-4-15zm-5 19zm-3-17zm-13 13zm-21-7zm-12 23zm6 9zm1-8zm0 4zm0-7zm3 6zm1 4zm15-12zm2 1zm55 4zm1 15zm5-16zm9 8zm2 0zm0 4zm1-14zm3 8zm2-6zm8 7zm1 4zm2-14zm2 2zm4 1zm3 2zm3-1zm1 2zm8 3zm29-1zm2-11zm30 14zm8-15zm4 6zm0 13zm6-9zm6 0zm4 3zm-106 70z"/>
<path stroke="#BEAED4" d="M644 213zm5-15zm4 2zm0 13zm3-1zm5-6zm9 8zm1-1zm1-2zm2-15zm3 10zm6-2zm1 8zm74 21zm0-3zm-26 7zm-13-1zm-2-14zm-5 4zm-6 12zm-10-2zm-21-18zm0 19zm-3-6zm0-14zm-1 13zm-29 0zm-5-14zm-10 5zm-5 5zm-18 9zm0 4zm-3-2zm-35 11zm24-7zm21 22zm4 0zm4-4zm1-5zm5 7zm9-4zm5 2zm0-10zm1 8zm0-16zm20 20zm5 2zm0-15zm4 1zm7-4zm7-3zm15 1zm2 9zm3 2zm5-10zm0-2zm2 13zm5-5zm14 13zm20-15zm14 5zm11-4zm1 4zm4 10zm3-1zm2-13zm6 5zm26 25zm-6 7zm0 1zm-2-21zm-1 0zm-2 21zm-1-1zm-2-22zm-5 0zm-32 17zm-19-5zm-1 10zm-11-10zm-2 11zm-12-10zm-7-11zm-1 19zm-3-5zm-29 1zm-3-3zm0-4zm-2 12zm-1-6zm-1-4zm0-2zm0-5zm-5 5zm-2 4zm-4-2zm-12-3zm-4-6zm0 2zm-10 8zm-1-7zm-5-5zm-14 5zm-2-5zm-6 19zm-4-19zm-31 17zm-43 28zm17-16zm3-3zm2 13zm29-3zm33 9zm7-11zm6 3zm2 7zm4-10zm10 12zm4-9zm6 7zm0-1zm4-18zm1 8zm1 13zm5-3zm26-19zm6 9zm3 3zm4-2zm23 4zm4-2zm5-8zm1-4zm30 3zm1 8zm5 8zm10-5zm0 2zm2 6zm14-14zm23 12zm5 23zm-9-16zm-1 17zm-15 0zm-2-9zm-19-11zm-25 0zm-9 14zm-3-14zm-2 14zm-2 4zm-52 0zm-4 2zm-5-16zm-10 14zm-18 2zm0-8zm-2-11zm-4 7zm-7-2zm-11 1zm-1 11zm-1-11zm0-8zm-5 8zm-25 14zm-3-6zm0 4zm-5-20zm-3 12zm-4 5zm-4 0zm-19 5zm-15-2zm-6-17zm-3 3zm-4 1zm-27 10zm-1 22zm45 3zm9 5zm4-4zm6-19zm9 4zm1 12zm8-11zm10 1zm3 10zm15-16zm8 12zm4-5zm21 14zm16-13zm7 5zm21 8zm3-4zm2-3zm3 9zm15-11zm1 7zm6-16zm19 1zm2 19zm3-2zm4-3zm4-9zm0 10zm2-2zm5-9zm5 10zm9 3zm8-3zm12-10zm1 15zm12-9zm4-1zm1 8zm-2 11zm-1-6zm-6 2zm-20 12zm-4 2zm-24-14zm-26 10zm-5-1zm-4 7zm0-5zm-1 5zm-2-14zm-8 16zm0-15zm-12-3zm0 11zm-1 0zm-12-7zm-8-8zm-17 22zm-2-7zm-12 6zm-3 2zm-4-5zm0-1zm-1 0zm-6-4zm-47 7zm-17-17zm-6 18zm-20 2zm22 22zm5-20zm13 13zm6-5zm1 2zm0 3zm7-1zm27 6zm8-11zm6 0zm1 0zm4-4zm6 6zm0 2zm1-8zm1 6zm0-1zm3-9zm1 20zm7-5zm29-9zm13-6zm8 15zm4 2zm5 6zm17-23zm4 6zm4 5zm13-10zm6-1zm3 20zm3-3zm15-2zm3-8zm1 14zm-85 6zm-25 10zm-33-8zm-12 2zm-16 11zm-11-17zm59 25z"/>
<path stroke="#FF7F00" d="M755 296zm163 36zm-6-7zm-63 4zm-1 6zm-19 0zm-2-18zm-9 6zm-8-8zm-13 15zm-24-8zm-12-3zm-5 5zm-16 25zm2 0zm8 1zm8-10zm9-4zm7 18zm7-1zm1-7zm5-9zm4 16zm5 4zm12 1zm8-10zm3-2zm0 6zm8-15zm6 5zm23 9zm7-2zm6 9zm51 16zm-5-6zm-11 14zm-3 1zm-4-10zm-8-10zm-4 1zm-4 16zm-1-19zm-2 19zm0-20zm-8 14zm-1 6zm-49-14zm-19 2zm-1-1zm-23 8zm-1 6zm-6-18zm-4-1zm-8 8zm-1 6zm-6-5zm-6-3zm-3 10zm-3-4zm-20-8zm-9-3zm-3 6zm-10-9zm-16 27zm12 11zm4 1zm5 1zm0 4zm20-1zm11-18zm7 18zm1-5zm0 1zm26 0zm5-11zm20 5zm0 8zm24-8zm8-3zm1 5zm13 8zm5 4zm7-1zm5-19zm17 12zm5 6zm14-7zm5 5zm25-10zm2 0zm5-7zm14 31zm-12-9zm-1 2zm-9 3zm-3 1zm-21 15zm-1-18zm-2 11zm-5-9zm-5 0zm-4 5zm-2-6zm-25 10zm-4 1zm-9-12zm-20 17zm-5-11zm0 2zm-43-11zm-7 23zm-14-1zm-7-17zm-1 11zm-2-9zm-10 3zm-24 13zm-11-8zm-18 4zm-4 0zm-3-2zm-4 11zm6 7zm12 3zm4-10zm1 12zm0-11zm5 7zm8-3zm1 1zm1-6zm3 3zm1 16zm8-23zm4 9zm7 3zm1-7zm40 13zm1 1zm0-3zm24 5zm5-5zm6-10zm6 10zm3-3zm17 7zm2-14zm3-1zm8 2zm0 12zm5-9zm0-2zm10-3zm52 7zm4-8zm2 5zm1-7zm14 10zm0 9zm2-5zm9 7zm7-17zm-6 33zm-36-12zm-9 4zm0 6zm-5-1zm-22 7zm-6-5zm-3-9zm-1-2zm0 17zm-5 0zm-2-17zm-26-2zm-2 10zm-10-8zm-8 11zm-4-11zm-1 17zm-3-1zm-4-5zm-4 5zm0-18zm-9 16zm-9-12zm-4-4zm-1 22zm-1-7zm0 0zm-2-3zm-1 1zm-3-6zm-3 4zm-3-12zm-4 19zm-6-2zm-3-12zm-3-2zm-4 10zm-5 5zm-19-1zm-3 3zm-27-7zm-1 5zm-13-7zm-2 7zm14 13zm10-1zm2 15zm19 1zm2-20zm0 14zm4 3zm0-5zm1-9zm2 9zm2-13zm4 6zm21 15zm17-7zm1 7zm0 0zm1-10zm5-11zm5-1zm11 18zm1-13zm21 13zm3-1zm19-9zm3-1zm17 2zm5-7zm5 5zm7-6zm1 18zm2-15zm3 10zm3 5zm6-11zm16 14zm3-16zm6 12zm8-1zm3 1zm18 0zm-12 16zm0 4zm-17 5zm-13-18zm-19 8zm-29 13zm-8-13zm-5 7zm-19-4zm-1-5zm-32 7zm-42-11zm-3 6zm-2 1zm-16 25zm2-7zm14 6zm21-8zm4 4zm6 12zm29 4zm8-15zm11 0zm14 10zm9-14zm3 9zm2-5zm42-2zm-28 23zm-97-4zm-6 0zm8 25zm89 4z"/>
<path stroke="#D95F02" d="M857 303zm15-3zm10 30zm-10 4zm-2-18zm-14 18zm-14-7zm-2-8zm-3 7zm-6 7zm-23-9zm-2 1zm-1 17zm6-6zm34 7zm1 10zm1 4zm17-16zm0 0zm1 12zm22 5zm6-16zm4 1zm23 12zm-5 17zm-7-8zm-1 0zm-2 6zm-11-8zm-6 21zm-11-20zm-1 15zm0 0zm-3-12zm-5 12zm-8-5zm-15 10zm-16-2zm-7-1zm-4-10zm27 37zm22-9zm22-10zm2 18zm1-4zm9-10zm3 4zm1 5zm4-6zm4 2zm14 7zm33 3zm4-8zm6 7zm2-15zm5-5zm3 6zm7-3zm2 17zm52 20zm-18-17zm-2 5zm-9 9zm-2-9zm-3 8zm-6-5zm-15 14zm-2-10zm-19 4zm-17-7zm-17 7zm-47-13zm72 34zm2 2zm14-15zm4 1zm25 17zm5-15zm0 13zm5-8zm8 12zm4-7zm0 8zm3-2zm5-3zm13-8zm14 4zm41 27zm-7-3zm-18 9zm-19-20zm-4 1zm-10 4zm-6 12zm-2-17zm-6-1zm-4 4zm0 14zm-7-5zm-10 0zm-2 8zm-19-11zm-7 10zm-14-9zm29 13zm2-1zm7 14zm1-13zm10 1zm17 16zm8-15zm18-2zm38-1zm9 21zm11-6zm16 6zm4-1zm5-8zm4-4zm3 9zm15 6zm0 11zm-1-5zm-14 17zm-1 0zm-10-3zm-7-15zm-3 2zm0 12zm-44 4zm-4-14zm-29 0zm15 35zm6-18zm14 12zm9-13zm12 17zm0-7zm26-6zm12 7zm1 4zm6 2zm7-7zm0-5zm27 11zm-18 16zm-5 12zm-7-18zm-1 0zm-1 18zm-1-1zm-1-8zm-2 5zm-1-6zm-12-10zm-4 6zm-11 7zm-9-13zm-4 15zm-2 4zm-16 1zm-3-20zm-27 46zm0-6zm6 3zm5 1zm7-18zm1 20zm0-1zm6-7zm1 2zm7 3zm3-4zm0-15zm1 5zm5-2zm1-3zm0 2zm1 14zm0 2zm2-13zm0 7zm2 11zm7-16zm1 4zm3 11zm2-14zm6-7zm4 0zm2 4zm1 14zm5-5zm2 4zm3 4zm0-9zm5-4zm4 1zm3-2zm7 10zm6 0zm1-14zm10 11zm2 5zm2-5zm2-13zm1 6zm5 23zm-17 9zm-13-16zm-13 18zm-7 1zm-9-18zm-6 11zm-3-6zm-1 14zm-3-3zm-4-6zm0-9zm-2 15zm-4-12zm-2 12zm0-12zm-14 3zm-8 10zm-6-2zm-3-3zm-6 1zm-13 1zm-3 8zm-1 7zm16 11zm0-8zm10-8zm16 1zm5 17zm3-1zm17 4zm3 1zm10-10zm3 8zm1-21zm3 12zm4 6zm12-6zm-73 14zm126 161zm-5-9zm-11-2zm-1 8zm0-6zm-3-7zm0 3zm-3 9zm-2-10zm-4 5zm11 22zm5 0zm10-7z"/>
<path stroke="#FFFF33" d="M981 397zm55 31zm-32 0zm-10-2zm-87-7zm-27 11zm0 0zm-37 20zm24-6zm11-5zm1 2zm8-9zm1 1zm27 20zm5-17zm0 8zm22-12zm8 0zm1 12zm16-7zm3 6zm1-1zm4 0zm14-5zm9 6zm5-4zm3 15zm63 24zm-10-19zm-8 8zm0 0zm-9 11zm-7-13zm-4 11zm-16 2zm-15-12zm-1 1zm-22 12zm-2-6zm-11-10zm-2-7zm-3 1zm-2 9zm-7-1zm-1-1zm0-3zm-6 1zm-50 16zm-26-4zm-6-18zm-5 19zm-7-15zm-14 4zm-39 35zm46-8zm4 5zm27-7zm11 11zm5 0zm8-6zm1-14zm1 14zm4 0zm1-13zm1 14zm8-12zm8 17zm31-10zm8-7zm4 4zm2 4zm3 1zm8-3zm4 11zm4-4zm1-13zm4 0zm3 1zm3 16zm7-19zm7 19zm4 2zm2-9zm1-7zm5 2zm7 5zm15 4zm11 0zm11-7zm0 10zm52 18zm-38-3zm-2 11zm-16-17zm-23-3zm-7 2zm-3 14zm-13-15zm-2-3zm-4 6zm-2 5zm-1-2zm-8 8zm-1-14zm0 6zm-5 2zm0 10zm-7-18zm-1-2zm-2 0zm-1 2zm-6 3zm0-1zm-4 9zm-7 1zm-10-3zm-10 5zm-2-16zm-2 8zm-1-5zm-6 4zm-2 3zm-14-11zm-9 12zm-2-2zm-7 10zm0-18zm-1 5zm-1-4zm-2-2zm-9 17zm0 5zm-7 0zm-13-12zm-30-2zm-30 10zm-5-17zm-38 39zm11 1zm6-17zm12 9zm11 10zm3-4zm3-13zm1 10zm8 10zm0-15zm16 3zm25 5zm8-11zm6 5zm3-2zm6 6zm0 7zm10-14zm3 13zm5 2zm15-16zm6-5zm1 18zm1-18zm5 20zm4-16zm5 9zm1-2zm10 9zm1 1zm0-14zm2-2zm1-1zm1 13zm0 2zm14-11zm6-2zm2 2zm0 3zm3-9zm5-3zm3 2zm4 2zm0 5zm10 3zm5 9zm1-7zm5 5zm8-5zm8 6zm3-13zm18 13zm1-7zm22-12zm14 14zm4 17zm-13 15zm-1-2zm-3-14zm-11 16zm-8-9zm-1-2zm-2-3zm-2-7zm-13 4zm-10-3zm-16 11zm-2 8zm-4-6zm-4 0zm-15 0zm-5 1zm-7-7zm-1 12zm-6-22zm-8 10zm-5 2zm-1-7zm-11 1zm-4 4zm-2 10zm-9-6zm-7-12zm-1 18zm0 0zm-4-10zm-5-9zm-2 17zm-1-14zm-1 17zm-12-10zm-6-8zm-36 20zm-8-5zm-54-12zm-4 15zm-16-4zm-2-10zm-35 12zm-32 15zm35-7zm27 4zm3 14zm7-7zm9-9zm24 15zm14-17zm8-1zm4 1zm3-1zm26 13zm3-10zm6 7zm8 7zm2-1zm2-10zm11-8zm3 22zm10-20zm1 13zm18-6zm7 0zm1 11zm0-13zm7 3zm1 5zm1-8zm14-4zm0 17zm3-14zm1-5zm9 7zm18-5zm4 18zm1-20zm4 11zm5-7zm3 13zm3-17zm5 16zm11-1zm1 1zm5-14zm5 9zm5-6zm3 9zm19 2zm1-1zm4 4zm-6 8zm-2 2zm-18-1zm-6 11zm-2 0zm-3-3zm-15 1zm-6-4zm-4 12zm-5-1zm-4-2zm-3-14zm-8 17zm0-10zm-7 10zm-7-5zm-16 5zm-7-14zm-15-1zm-2 4zm-19-4zm-6-2zm-5 18zm-5-8zm-21-11zm-3 13zm-9-12zm-3 15zm-2 2zm-10-16zm-8 12zm-9-4zm-2 1zm-2-4zm-4-11zm-4 8zm-5 14zm0-10zm-7 11zm-7-17zm-1 3zm-19 0zm-4 1zm-4 5zm-49 3zm-18-17zm30 30zm60 8zm15-11zm4 16zm1-8zm19-2zm5-2zm6 6zm12-12zm6 6zm4 0zm6 4zm5-11zm0 16zm8 3zm1-1zm3-12zm6-3zm14 12zm3-16zm1 20zm4-12zm19 11zm9-13zm4 16zm2-19zm8 18zm10-21zm2 16zm7-2zm9-3zm18-10zm2 9zm0 5zm1-7zm6 14zm6-17zm6 0zm5 5zm1 7zm3-11zm-15 18zm-13 9zm-6-2zm-12 12zm-11 2zm-8-10zm-19 3zm-16-2zm-1 7zm-1 0zm-24-5zm-16-10zm-11 2zm-1 4zm-5-3zm-9-6zm-17 12zm-2-2zm-8 0zm-17-11zm-15 5zm11 23zm38 3zm5 2zm6 0zm0-1zm20 0zm61 5zm9-5zm7 12zm-21 25zm-23-20zm-14 15zm-438 73zm38-6zm250 9zm160 3zm-459 45zm238-9zm-194 22zm301 35z"/>
<path stroke="#377EB8" d="M544 335zm-2-4zm-4 2zm-3 0zm-5 0zm-3-20zm-2 13zm-3 3zm-4-14zm-3 11zm-7 8zm-14 17zm2-3zm4 11zm4-18zm0 3zm3-4zm0 13zm1-11zm1 14zm1 2zm0-1zm1-2zm1-18zm2 11zm1 1zm1 1zm4 7zm1 0zm3-20zm0 21zm1-17zm1 11zm0 7zm8-19zm1-4zm10 9zm3 0zm9 4zm3 2zm6 4zm5-7zm22 31zm-5-4zm-5-5zm-19-8zm-1 3zm-4 9zm-3-7zm-2-2zm-1 10zm-9 8zm-1-14zm0 12zm0-19zm-12 19zm-6-5zm-6 2zm0-17zm-6 19zm-18-17zm-28 34zm14 8zm20-14zm5 1zm5 10zm3-18zm4 16zm1-2zm0 1zm4-7zm5 12zm11 0zm7-3zm0-7zm0-4zm0 15zm0 0zm1-20zm1 8zm3-6zm5 5zm3 5zm5-9zm0 4zm2 5zm12-13zm2 11zm4-2zm3 4zm0-9zm3 7zm0-6zm4 9zm1-14zm6 14zm2-13zm5 22zm6 0zm6 2zm-11 13zm-2 9zm-2-22zm-5 8zm0 7zm-4-9zm-1 12zm-1-2zm-1-10zm-4-2zm-1-1zm-2 13zm0-4zm0 0zm-18 4zm-3-16zm-3 14zm-4-5zm-7-3zm-4 3zm-1-2zm-4 13zm-14-14zm-7 3zm-1 2zm-3-9zm-10 19zm-1-15zm-10 2zm-7-2zm-5 3zm-12 9zm-13-14zm7 29zm15-8zm18 21zm14-21zm28 4zm18 7zm2 4zm8-3zm3 9zm12-9zm8-14zm5 2zm2 19zm2 0zm0-21zm5 6zm3-4zm2 6zm17-8zm0 13zm1 22zm-3-6zm-10 0zm-3-3zm-2 5zm-4-3zm0 2zm-4 7zm-3 1zm-7-2zm-1-3zm-1 9zm-3 2zm-2-14zm-3-3zm-5 17zm-2-14zm-31 10zm0-7zm-5 1zm-33 6zm95 25zm-41 9zm-58 41zm19-19zm20 8zm63 2zm-6 34zm-55 3zm-1-1zm-12-14zm-3 21zm47 0zm-5 42zm-1-3zm-3 3zm-22 0zm0-17zm-13 15zm-25-6zm-9 7zm-30-10zm-16 32zm37-13zm1 9zm62-6zm26 2zm-57 33zm-65 0zm-4-18zm26 37zm13 0zm89-13zm23 13zm-14 21zm-32-12zm-29 20zm-3 15zm52-9zm8 154zm228 47zm11 23zm-278 8zm3 19zm228 24zm-12-2zm-65-3zm-43-2z"/>
<path stroke="#A65628" d="M574 450zm15-1zm1-2zm8-13zm35 16zm7 7zm-10 22zm-5-2zm-26-21zm-24 10zm23 24zm7 8zm2 2zm10-5zm5-14zm15 18zm8-8zm0-9zm22 4zm2 0zm13 7zm0-8zm0 4zm19 30zm-34 7zm-6-13zm-10 3zm-2-1zm-1 6zm-5-14zm-4 18zm-1-17zm-4 19zm-45-4zm-1 3zm-2-15zm-5 7zm-6-1zm-11 28zm8-8zm3 11zm10-9zm8-4zm0-1zm14 10zm5-3zm3-2zm12 8zm1-4zm12-5zm6-1zm0-7zm8 13zm1 7zm7-4zm6-3zm3 7zm7-22zm13 4zm18-1zm3 13zm3-5zm8 32zm-1-7zm-3 8zm-14-13zm-19 6zm-5 9zm-20 1zm-18-6zm-7 1zm-2 4zm-7-16zm-3 8zm0-3zm-8-10zm-9 9zm-3 1zm-7 3zm-17 4zm-3-12zm-2 10zm-6 4zm22 27zm1-20zm11-2zm6 4zm5 3zm1 15zm5-7zm2 0zm41-4zm4 3zm1 4zm25 4zm4-20zm12 20zm3-11zm25 10zm28-7zm-9 29zm-66 0zm0-10zm-3-7zm-5 17zm-6-20zm-6 7zm-8 9zm-3-8zm-9 9zm-11-7zm-25 11zm-5-16zm-9 15zm-3-11zm-6 1zm-32 15zm49 1zm13 1zm32 1zm9 4zm1-2zm54 13zm9-15zm32 4zm-79 107zm-150 11zm118 29zm132-3zm-133 70zm-35-2zm257 63zm-39-14zm-16 8zm-5-2zm-20 26zm30-10zm11 15zm15-13zm5 3zm27-7zm11 43zm-10-13zm-24-4zm-5 14zm-11-6zm-6-7zm-128 24zm123-4z"/>
<path stroke="#666666" d="M485 446zm8 3zm9-2zm105-6zm-46 32zm-37-10zm-10 8zm0-14zm-2 17zm-7-17zm-2 10zm-5-11zm-1 12zm-2-2zm-1 4zm-18-6zm-1 12zm-1-14zm-11 8zm-2-12zm-2 21zm-13-14zm-18 4zm-38 31zm12 1zm6-10zm11 7zm2-12zm5 15zm11-14zm9-3zm10 16zm10-14zm21 0zm9 1zm5 15zm13-2zm46-19zm62 11zm-115 14zm-3 13zm-9-6zm-10-1zm-7 5zm-2-6zm-11-2zm0 15zm-6-7zm-1-3zm-2 7zm-2-9zm0 9zm-3-2zm-9-1zm-4-11zm-7 6zm-3-7zm-1 5zm-1 13zm-6 2zm-10-3zm-5 3zm0-10zm-10 3zm-2-13zm-1 13zm-5 5zm-3-17zm-11 20zm-14 18zm9-14zm16 18zm7-15zm2-3zm1-1zm4 11zm1 5zm7 4zm7-17zm1 18zm12-1zm23 0zm9-10zm3-5zm4-6zm2 16zm4 5zm13-17zm-4 29zm-11 3zm-4 6zm-6-7zm-6 1zm-3-9zm-2 6zm-10 11zm-1-7zm-1-13zm0 12zm0 7zm-3-14zm-3 7zm-9-13zm0 2zm-3 9zm-2-2zm-1-2zm-1 9zm-4-3zm-9 5zm-6-1zm-1 6zm-14-10zm-3-8zm-2 7zm-2-10zm-9 10zm0-9zm7 27zm8-2zm2 0zm17 1zm12 14zm10-15zm1 8zm1 2zm3-6zm19-8zm12 7zm0 11zm17-9zm84 21zm-19 3zm-21 2zm-15-11zm-1 19zm-26-2zm-45-6zm-6 7zm-10-12zm-10 12zm-6 2zm-2-10zm-2 11zm-6-4zm-1-8zm-14 12zm-5 2zm-13-5zm-2-17zm-6 22zm-3-23zm-19 36zm9 8zm2-8zm6-11zm1 5zm1 12zm20-3zm6-6zm7-2zm13-6zm0 15zm84-12zm-118 21zm-18 1z"/>
<path stroke="#7570B3" d="M436 405zm38 20zm-14 6zm-2-14zm-34 9zm-5-2zm-5 6zm-2-2zm-1-5zm-3 7zm-6-5zm-4-13zm-16 6zm-28 37zm10-3zm3 0zm1-4zm1-12zm2 17zm3-20zm2 14zm6-1zm7-5zm3-7zm5 10zm1-8zm1 17zm5-13zm2 10zm5-13zm9 5zm0-4zm20 10zm12-4zm4-10zm8 4zm2-4zm5 16zm11-15zm1 1zm-10 22zm-14 12zm-2-3zm-16 10zm-13-4zm-6-16zm-14 6zm-33 3zm-1 7zm-3-12zm0 9zm-9-3zm-8 5zm-9-14zm6 29zm4 3zm6-9zm0 16zm50 1zm17-5zm31 22zm-12 0zm-23 23z"/>
<path stroke="#386CB0" d="M463 567zm30 13zm36 10zm13 21zm-91 10zm20 16zm340-9zm-77 21zm-361 22zm-8-12zm-51 31zm20-9zm22 3zm8-2zm5 10zm1-13zm34 8zm86 2zm296 28zm-363 2zm-1-10zm-6-9zm-7-2zm-19 9zm-3 7zm-7-11zm-1-4zm-10 11zm-3-11zm-6 14zm-3-8zm-4 10zm-4-7zm-5 2zm-2 6zm-20 2zm-7-13zm-5-7zm-11 10zm15 16zm6 17zm0-12zm3 11zm2 2zm7-7zm10-13zm1 17zm2 1zm1-8zm2-11zm4 13zm2-10zm6 4zm2 11zm3-14zm11 6zm18 8zm6-4zm9-11zm8 11zm6 5zm2 1zm45-11zm319 12zm63 13zm-361 8zm-55 4zm-2-1zm-1-10zm-6 3zm-4-10zm0-5zm-7 0zm-11 18zm-13-11zm-2 9zm-3-6zm-5-2zm-9-8zm-9 18zm0-13zm-25-2zm-5 14zm-11-17zm-11 2zm-4 13zm-6-3zm17 31zm17-9zm13-5zm12 10zm8-12zm2 9zm18 3zm1-12zm1-2zm4 6zm3-7zm8 9zm17 8zm1-15zm10-2zm131 28zm-131 9zm-5 4zm-5-3zm-18 3zm-3-9zm-6 13zm0-17zm-7 9zm-2-7zm-5 7zm-13-12zm-6 10zm-5-2zm-2 3zm-2 4zm-4-16zm-14 23zm-15-19zm-3 6zm-3 13zm-13-15zm-1 10zm-1-9zm1 15zm18 10zm10 13zm4-16zm4 16zm0-11zm16-6zm4 12zm21-18zm3 20zm4-1zm13 2zm8-21zm1 12zm1 3zm3 3zm8-2zm-5 13zm-15 11zm-2-11zm-17 13zm-5-7zm-18 6zm-5-15zm-23 22zm3 6zm81 4zm156 36zm-125-17zm395 25zm-283 65z"/>
<path stroke="#4DAF4A" d="M529 573zm-106 12zm33 3zm27-2zm17-7zm6 2zm5 2zm50 9zm19 26zm-23-5zm-15-11zm-16 13zm-15 4zm-9 4zm-14-7zm-15 11zm1 20zm7-5zm20 1zm2-18zm15-1zm15 1zm17 2zm16 1zm9 17zm15-5zm16-13zm6 13zm80 5zm41-12zm104 17zm-116 15zm-34 2zm-42-6zm-5-12zm-9 11zm-5-2zm-7 7zm-9-2zm-4-8zm-1 15zm-10-20zm-1 5zm-3-1zm-9-4zm-3 4zm-5 16zm-2-10zm-6 7zm-10-19zm-12 5zm-33-3zm-9 3zm-31 13zm-3-3zm2 10zm0 12zm1-11zm10 21zm2-20zm8 6zm14 3zm32 4zm1-8zm9 6zm6 8zm6-13zm12-5zm12 12zm20-6zm4 7zm2-13zm13 2zm41-5zm22 19zm2-12zm57 11zm130 24zm-146-2zm-69-6zm-1-8zm-6 2zm-16 2zm-4 6zm-1-12zm-7 20zm-11-2zm0-6zm-1 2zm-10-7zm-5-7zm-30-1zm-1 13zm-7 0zm-20 0zm-8 1zm-1-3zm-1-7zm-4 14zm-4-3zm-8-13zm-2-2zm-34 3zm-38-3zm-5 21zm0 20zm12-9zm10 12zm4-17zm6 11zm6-9zm38 5zm1-9zm17 19zm9-17zm9 8zm23 7zm3-16zm2-2zm5 23zm11 0zm4-2zm11-6zm3-6zm20 0zm8-1zm7-7zm14 2zm2 10zm12-6zm43 2zm105-3zm-144 18zm-34 13zm-20-7zm-13 15zm-49-20zm-10 9zm-4 5zm-3-8zm-2 12zm-6-9zm-11-8zm-3 9zm-22-11zm-36 19zm-23 3zm1 13zm4 10zm19-5zm17 1zm3-12zm1-2zm22 13zm6 4zm1-20zm2 22zm9-11zm2-3zm6 2zm5 7zm5-15zm22 19zm6-9zm13-8zm3 14zm1 2zm0-1zm10-8zm9-3zm0-6zm12 2zm24 2zm2 2zm10-3zm7 21zm-2 13zm-9 1zm-4 4zm-4-19zm-5 15zm-7-6zm-5-6zm-22 19zm-3-21zm-2 13zm-1 7zm-20-22zm-1 5zm-2 7zm-46 7zm-12-2zm-28-15zm-5-1zm-8 13zm-6 6zm-27-14zm-20 16zm0-21zm14 38zm43 6zm10-11zm5 2zm12 9zm4-7zm8 2zm14-4zm8 3zm16 0zm9 7zm7-7zm3 5zm8-6zm9 2zm3-15zm1 1zm1 21zm10-2zm2-18zm5 5zm22 11zm14-12zm70 12zm137-17zm-228 38zm-4 7zm0 0zm-20-3zm-42-16zm-9 13zm-14-9zm-10 9zm-7 2zm-16-17zm-9 1zm-30 18zm-6-15zm-3 11zm-10-12zm-6-3zm20 26zm28 8zm12 0zm17-8zm39 2zm4 11zm10 2zm2-14zm5-5zm28 21zm17-3zm37-17zm3 24zm-79 2zm-16 19zm-16-2zm-4-9zm-6-2zm-31-2zm-9 12zm-11-1zm-8-4zm-3-7zm-17-5zm24 27zm14-4zm22 6zm13-5zm110 9zm91 39zm-88 51z"/>
<path stroke="#F0027F" d="M677 574zm32 14zm15 11zm15-16zm9-7zm-63 24zm-23 43zm34-18zm57 3zm24-1zm83 28zm-23 8zm-10 1zm-7 2zm-3-5zm-17 4zm-17 3zm-26-15zm-3 17zm-4-4zm-119 1zm-124-3zm-13-15zm159 24zm64 16zm29-11zm19-5zm5 17zm1-7zm2 7zm10-12zm2-3zm13 16zm1-12zm1 8zm2-9zm13 8zm5-3zm9 3zm11-14zm15 12zm16 22zm-10-4zm-18 5zm-3 10zm-3-2zm-16-8zm-5-3zm-6-1zm-4-5zm-19 0zm-1 10zm-16 5zm-8-15zm-1-2zm-12 9zm-5 14zm-9-11zm-3-12zm-18 6zm-6 5zm-3-8zm-1 7zm-4-7zm-70-2zm-38 26zm14 19zm77-1zm9-5zm9-5zm7 4zm3 7zm2-11zm13-1zm4-2zm6 4zm16-9zm7-2zm4 11zm2-10zm9 10zm1-5zm3 7zm7-14zm7 12zm5-3zm4 4zm15 1zm3-11zm2 9zm1-10zm5 3zm9 3zm30-6zm4-2zm6 36zm-4-7zm-16 6zm-5-5zm-1 7zm-8-1zm-14 0zm-8-8zm-2 2zm-3 8zm-8 5zm-34 4zm-1-5zm-5-6zm-1-8zm-6 2zm-2 1zm-8 11zm-1-1zm-9-9zm-4-8zm-2 17zm-5-16zm-12 0zm-11 18zm-13-16zm-4 2zm-1 12zm0-4zm-8 1zm-1 3zm-3-14zm-6 19zm-136 5zm60 16zm11-19zm13 23zm16-16zm1 3zm2 2zm11 0zm16 8zm8-7zm21 1zm20-6zm0 2zm3 3zm5-11zm9 20zm9-2zm5 0zm0-2zm0-13zm11-4zm8 10zm10 6zm3-13zm0-2zm5 13zm1-1zm3-12zm1 5zm3 16zm7-20zm4 10zm3-11zm7 9zm17-3zm3 14zm1-18zm4 12zm6 4zm2-16zm0-2zm11 2zm1-3zm13-1zm8 7zm-20 27zm-17-4zm-23 15zm-12-18zm-8 17zm-8-20zm-4 11zm-4-6zm-8 15zm-9-6zm-3-2zm-23 6zm-1-16zm-28 7zm0 9zm-10-5zm-6-2zm-23 5zm-26-1zm-28 7zm-8-12zm-4-9zm-13 22zm-3-17zm-37-4zm-10 0zm33 32zm52-7zm27-3zm1 13zm0-11zm25 17zm27-11zm14-2zm13 13zm1-17zm19 15zm4 6zm4-18zm19 11zm4 3zm3-7zm21-10zm3 10zm6 7zm4 4zm1-16zm8 4zm4-2zm2-4zm3 4zm37 11zm14 3zm-93 10zm-40-7zm-31 3zm-2 13zm-38 3zm-7-5zm-20 2zm-36-7zm-19 10zm52 6zm0 14zm17-11zm92 5zm62-8zm-31 42zm-161-15zm-52 1zm158 18zm26 13zm11-14zm11 19zm65-19zm0 34zm-59 47z"/>
<path stroke="#E41A1C" d="M724 589zm16 8zm14-15zm210 13zm54 17zm-2 11zm-35-4zm-15-5zm-167 3zm-30 2zm-87-14zm-151 3zm-10-1zm206 40zm103-3zm71-4zm2 2zm29-1zm20-7zm6-4zm11 9zm6-7zm15-4zm24-4zm5 23zm2-8zm7-11zm11 6zm-7 27zm-10 10zm-12-19zm-7 15zm0-14zm-15-3zm-3 4zm-5 4zm-2 0zm-32 6zm-9-2zm-6-7zm-7 4zm-4-10zm-1 9zm-10-6zm-15 9zm-11 1zm4 24zm13 4zm3-4zm21-12zm0-1zm17 5zm1 9zm16 6zm0-2zm8-7zm2 8zm6-7zm7 1zm22-11zm2 11zm0-7zm1 5zm5-6zm8-1zm1 7zm4-9zm2 20zm14-2zm2-6zm3 7zm7 1zm6-1zm4 1zm28-9zm15-7zm-6 31zm-5-2zm-18 7zm-14 4zm-1-23zm-5 12zm-4-3zm0-3zm-14 9zm-2-9zm-2 16zm-1-8zm-10 0zm-4 8zm-14-14zm-6 8zm-4-12zm-9 4zm-1 3zm-38 4zm-3 5zm-5-11zm-13-8zm-6 15zm-7-12zm-2 9zm-12-2zm-18 7zm-5-17zm-1 16zm-6 6zm-1-2zm-44-21zm43 47zm0-18zm3 2zm3 5zm10-3zm2 4zm11 7zm11-8zm7 11zm4-23zm6 5zm8 14zm21 0zm4-4zm1-12zm3 19zm10-21zm4 20zm4-4zm4-17zm7 2zm3 1zm3 6zm5 6zm5-3zm6-2zm19-8zm15 11zm9-1zm40 28zm-6 0zm-8-11zm-5 6zm0-7zm-16 4zm-20-4zm-36 5zm0 7zm-7 3zm-1-3zm-5-11zm-1 13zm-1-18zm-9 23zm-3-7zm-8 7zm0-4zm-5-11zm-11 15zm-3-10zm0-10zm-2 13zm-34-7zm-10 9zm-1-18zm-2 0zm-2 13zm-3-10zm0 16zm-4 3zm-1-20zm-17 0zm-40 20zm-361 11zm375-5zm2 5zm46-3zm1 3zm3 1zm6 7zm3-3zm2-4zm9 13zm2-1zm2-3zm2-8zm1 3zm4 3zm1-4zm17 2zm4-15zm0 10zm3 4zm1-9zm6 9zm3 7zm9-20zm1 4zm1 13zm1 4zm2 1zm3-9zm3-2zm10-3zm0-5zm12 16zm5-2zm5-17zm18 6zm4 13zm9-16zm18 3zm24-4zm17 12zm13-10zm-8 42zm-36-10zm0 3zm-9 7zm0-2zm0-19zm-4 18zm-7 0zm-3-17zm-13 18zm-10-16zm-8 16zm-1-3zm-11-17zm-12 20zm-3-17zm-1 10zm-5-14zm-9 9zm-6-8zm0 1zm-13 17zm-5 2zm-9-17zm-9 14zm-11-13zm-4 5zm-10 0zm-7 4zm-17-4zm-3-8zm-301 6zm-112-8zm-21 0zm129 32zm171-8zm129 9zm3-5zm4 18zm32-3zm4-11zm0-2zm13-4zm15 15zm17 5zm24-22zm26 9zm3 1zm11-2zm2 14zm13-14zm4-3zm5 1zm-28 22zm-11-4zm-3 19zm-1 4zm0-16zm-12-4zm-5 18zm-11-8zm-4-13zm-15 4zm-4-1zm-4 2zm-4 6zm-7 10zm-24-5zm-38-12zm-233-3zm-2 35zm244 1zm10-8zm16-3zm25 12zm50 2zm26-16zm-98 26zm-107 11zm-138-5zm-154 69zm113-5zm102 1zm13 8zm-156 21zm138 22z"/>
<path stroke="#999999" d="M829 282zm31 17zm7 0zm468 317zm-2 3zm-3-4zm-3-4zm-2 10zm-2-9zm0 8zm-4-7zm-2 4zm-176 23zm24 26zm-22-2zm-5-10zm-1 16zm-3-16zm-18-3zm-9-3zm-7 17zm-2 2zm-18 22zm18-5zm4-10zm11 10zm12 7zm22 0zm7-15zm9 1zm2 1zm21 27zm-5-1zm-10 12zm-25-18zm-8 18zm-2-20zm-18 8zm-3 7zm-6-5zm-7-2zm-5-7zm-20 22zm5 19zm38 5zm4-18zm2 16zm21-19zm10 12zm14-14zm10 21zm-5 12zm-14-4zm-4-3zm-1-2zm-14 4zm0 7zm-10-10zm-7 17zm-4-8zm-2-1zm-3 13zm-11-6zm-11-8zm-8 4zm-8 11zm-2-19zm-8 18zm-3 7zm3 15zm14-6zm8-5zm25 4zm7-11zm12 15zm6-9zm31 4zm8 11zm-24 14zm-9-13zm-2 10zm-6 8zm-2-15zm-6-3zm0 0zm0 21zm-17-16zm-2-1zm-8 19zm-7-16zm-15 15zm-4-4zm-21 18zm23 0zm4 5zm2 3zm0-14zm8 5zm2-5zm7-3zm45 2zm51 35zm-95-9zm-56 34zm57-3zm13-12zm82-2zm9 30zm-112 3zm-20 6zm-36-5zm-86 35zm25 0zm98-16zm8-4zm22 2zm-162 40zm-5-12zm-12 11zm-1-12zm-26 9zm-3-2zm-12 1zm-6 6zm16 5z"/>
<path stroke="#984EA3" d="M782 620zm63 13zm15 30zm-206 24zm171 30zm-30-8zm-171 75zm15-10zm117 37zm-112 2zm-26-15zm-8 16zm-20-19zm-1 25zm39 16zm1-1zm3-6zm12 4zm16-14zm3 4zm6 5zm1 8zm2 3zm3-5zm0-7zm11-11zm15 23zm15-4zm30 2zm44 11zm-84-7zm-1 12zm-2-3zm-7 6zm-9-8zm-1-4zm-1 10zm-12 3zm-3-10zm-10-3zm-1 18zm-4-8zm-2-14zm0 13zm-7 0zm-9-6zm-6 10zm-7-5zm0-1zm-7 7zm-4 5zm-11 0zm-39-4zm43 16zm9 3zm4-11zm1 19zm6-16zm4 5zm4-11zm4 11zm3-1zm3 8zm1-12zm2 2zm3 14zm1-18zm1 16zm6 2zm1-4zm7-15zm2 14zm9-16zm11 13zm0 0zm0 6zm1-5zm9 0zm6 4zm6-16zm30 9zm2-5zm1 10zm66 9zm-3 6zm-19 2zm-41-8zm0-1zm-13 3zm-43-3zm-4 7zm-1-4zm-2 16zm-3 2zm-5-14zm-3 11zm-3 1zm0-16zm-1 8zm-1 8zm-1-6zm-1-8zm-1 5zm-7-6zm-5 9zm-3 2zm-2 4zm-1-19zm-21 17zm-2-1zm-4-8zm-7-6zm-4 10zm24 15zm0 8zm1-7zm7 16zm2-10zm8 0zm22 2zm2-9zm7 18zm3-12zm2-9zm12 17zm2-12zm0 10zm15-3zm18 2zm42 5zm20-18zm-43 26zm-68 3zm-8 4zm-12 1zm-12-12zm-3 11zm-2 0zm-1 1zm-9-11zm-16 3zm-95 31zm297 1z"/>
<path stroke="#FDC086" d="M481 885zm4-9zm49 10zm-5 15zm-23 8zm-4-20zm-22 8zm-6 7zm-23 6zm-13-8zm-22 4zm3 13zm14-3zm8 17zm12-21zm14 19zm7-2zm7 6zm6-10zm5-13zm6 8zm3-7zm42 18zm5-15zm13 12zm2-6zm-10 15zm-14 16zm-2-10zm-6 11zm-26-17zm-1 0zm-12 10zm-11 5zm-5 2zm-22-18zm-17 1zm-6 20zm-11-12zm-11 1zm-17-9zm-6 20zm4 22zm1-16zm34 18zm6-1zm4-18zm6 13zm1-7zm6 2zm8 8zm20-12zm26-2zm0 6zm3-9zm12 8zm13 6zm8-2zm10 8zm16-14zm1 4zm3 4zm4-6zm2-8zm0 38zm-13-15zm-3 14zm-4 2zm-12 3zm-15-17zm-15 4zm-38 17zm-7-19zm-1 3zm-12 14zm-1 2zm-9-20zm-36 7zm-26 2zm7 12zm27 13zm8 9zm17-16zm13 0zm4 12zm9 0zm7-5zm21-5zm4-2zm5 16zm10-9zm25-2zm3 4zm7-13zm3 10zm4-5zm3-1zm1 9zm8-5zm3 14zm-4 11zm-11-6zm-1 18zm-1-16zm-6 13zm-5-2zm-3 5zm0-4zm-6 4zm-3-14zm-11 8zm-5-7zm-28 11zm-13-16zm-8 2zm-1 10zm-26 1zm-7 4zm-2-1zm0-18zm-2 7zm-9 5zm-2-11zm-6 14zm-1-9zm-7 1zm-19-6zm23 24zm1 3zm7 6zm34 2zm1-3zm31 3zm38 0zm0-11zm3 13zm6-8zm7 5zm10-10zm0 7zm1 9zm4-11zm29 2zm-14 28zm-2 1zm-25 2zm0-12zm-7-4zm-20 0zm-1 7zm-14 7zm-22-13zm54 39zm0-7zm1 12zm17-15zm5-6zm5 0zm10 5zm-16 27zm-14-5z"/>
<path stroke="#BF5B17" d="M724 562zm-154 47zm-49 86zm-15 2zm-3 25zm231 31zm-113 16zm-166 54zm43 0zm259 40zm-205-23zm181 39zm45-13zm18 17zm-1 6zm-2 12zm13 26zm17-8zm-31 39zm-67-5zm-29 6zm-13-8zm-40 6zm-11-16zm-9 5zm-5 12zm-4-8zm-11 3zm-5 4zm-15-13zm-14 37zm11-7zm5-6zm16 10zm16 2zm1-20zm32 11zm10 1zm5 7zm3-8zm16 2zm11 1zm16 7zm11-4zm31 3zm20-2zm8 26zm-17-12zm-8 12zm-18-3zm-23-2zm-5-14zm-1 9zm-20 11zm-5 2zm-10-2zm-2-13zm-2-3zm-2 15zm-5-18zm-30 17zm-15-19zm-7 10zm-16-9zm0 8zm-2-3zm-1 12zm-2 0zm-1-7zm-8 4zm-9-4zm-11-7zm-5 10zm-4 5zm-8-4zm2 15zm6-6zm7 2zm5 20zm8-10zm1 4zm5-14zm1 3zm3-3zm3 20zm5-14zm0 11zm2-7zm2 11zm0-17zm1 14zm9-6zm15-9zm17-4zm3 12zm0 6zm3-2zm1 6zm7-17zm1 17zm2-11zm0 6zm10-18zm3 0zm12 11zm7-2zm4 12zm27-14zm1-6zm1 16zm2-11zm28-1zm6 6zm38 19zm-10 13zm-2-15zm-3 19zm0-22zm-12-1zm-5 16zm-4-3zm-6 1zm-5 3zm-2-12zm-9-1zm-2 13zm-2-4zm0 1zm-6-1zm-5 3zm-2 3zm-1-19zm-4 23zm-10-20zm-10 19zm-7 1zm-4-20zm-1 7zm-2 11zm-3-9zm-3-3zm-8-4zm-15 17zm-32-22zm-7 12zm-11 11zm-31-10zm-7-13zm-2 9zm0 11zm-28-7zm20 34zm8-7zm8-1zm0-15zm1 0zm10 0zm1 4zm5 18zm1-13zm1-2zm20 8zm5-7zm7 0zm19 3zm1-4zm28-1zm6 2zm26 14zm7-20zm3 10zm24 2zm20-6zm6-8zm10 5zm1 5zm14-6zm25-2zm-32 24zm-5 5zm-19-4zm-3 10zm-3-13zm-4 11zm-9 10zm-31-19zm-23 12zm-1-1zm0 10zm-8-22zm-1 18zm-1-4zm0-5zm-5-7zm0 3zm-1 16zm-10-11zm-21-8zm-8 5zm0-7zm-19 10zm-1-9zm-4 20zm-6-18zm-11 17zm-13-17zm0 6zm-6-9zm15 24zm6 2zm12 1zm1 6zm6-7zm4 12zm1 5zm23-3zm15-4zm0-9zm3-2zm3 8zm30-2zm11-1zm3-3zm27 2zm28 5zm32 0zm-59 21zm0-4zm-10 12zm-8-3zm-1-9zm-24 5zm-13-1zm-14 4zm-11-10zm-4 0zm0 9zm-1 3zm-9-7zm-1 4zm-15-6zm-6-4zm-47 0z"/>
<path stroke="#7FC97F" d="M692 575zm-59-21zm-17 25zm194 122zm-24 51zm-90 27zm-66 45zm96 14zm99-12zm18 32zm-13 4zm-88 19zm53-8zm22-7zm2 14zm3-15zm3 22zm25-4zm9 3zm18-13zm60 12zm-8 17zm-4-7zm-1 16zm-6-6zm-54 6zm-32-3zm-1-19zm-23-1zm0 20zm-5-5zm-17-11zm-53 30zm43-8zm9 17zm0-17zm6 6zm11 15zm3-19zm63 14zm7-7zm30 10zm45 0zm6 0zm3 18zm-22-4zm-17-4zm-38-4zm-4 17zm-15-20zm-6 2zm-18 1zm-9 7zm-13-8zm-11 1zm-10 1zm-6 0zm-3-1zm-17 20zm-8-22zm-1 7zm-15-8zm24 37zm14-10zm20 16zm2 1zm16-7zm10-2zm0-5zm12 3zm4 11zm15-1zm1-7zm8-9zm10 5zm65 11zm3 25zm-14-14zm-11-6zm-24 12zm-26 6zm-3-6zm-11-7zm-7 1zm-5-4zm-32 14zm-4-15zm-12 9zm-20-6zm-18 18zm18 4zm23-2zm1 23zm3-14zm7-4zm6 18zm4-17zm13 12zm36-3zm3 5zm13 1zm14-1zm2-9zm8-1zm3 4zm9-9zm14-1zm1 17zm2 4zm-41 6zm-10 0zm-15 16zm-5-16zm-36 15zm-2-15zm-4 13zm-2-11zm-11 6zm-26 6zm-7-16zm-21 10zm34 11zm16 2zm2-2zm11 2zm16-3zm8 3zm8 3zm26 10zm0 6zm9-10zm8-9zm7 10zm2-7zm6-7zm-3 26zm-52 8zm-8-6zm-36-3zm-25 8zm-24-8zm21 23zm3 2zm1 0zm6 17zm50-3zm33 5zm27 8zm-35 3zm-24-7zm-27 3zm0 8zm-2-4zm52 33zm-59 9z"/>
<path stroke="#FFFF99" d="M971 885zm63-1zm38 18zm-7 9zm-5-17zm-14 13zm-15-2zm-5-12zm-15 11zm-2-14zm-60 21zm-38 20zm0-13zm24 11zm8-6zm8-2zm0 6zm22-14zm3 9zm23 5zm3-1zm16-13zm2 12zm10-2zm11-11zm1 23zm6-3zm4-12zm5 15zm30-22zm7 12zm5 31zm-2-20zm-1 20zm-16-9zm-7 9zm-4 2zm-15-7zm-9 7zm-5-14zm-12 14zm-4-13zm-9 12zm-1-21zm-22 21zm-5-18zm-9 7zm-2-7zm-1 13zm-43 4zm-1-1zm-3-11zm-1-2zm-34-4zm-37 2zm37 20zm5 20zm3 2zm11 0zm10-4zm3-16zm6 21zm8-14zm12 12zm20-2zm1-1zm8-2zm25-1zm4-15zm46 13zm15 2zm36-1zm5-10zm1 1zm2 15zm-6 24zm-12 0zm-9-2zm0-15zm-2 3zm-15 6zm-5 2zm-27 6zm-3-3zm-3-14zm-28 19zm-2-5zm-2-16zm-1 5zm-7 14zm-4-19zm-5 12zm-6-3zm-4 6zm-1-15zm-8-1zm-2 22zm-7-19zm-9 3zm-8 16zm-3-22zm0 11zm-16 1zm-16-10zm-9 1zm16 40zm0-18zm3 15zm6-4zm9 10zm45-3zm8-3zm7 5zm8-1zm2 2zm0-13zm25 10zm8-5zm7-5zm6 6zm4-5zm23 8zm14 1zm2 1zm-5 11zm-27-6zm-11 4zm-6 6zm-17-8zm-6 19zm-2-9zm-2-11zm-6 7zm0 2zm-8-9zm-16 2zm-19 0zm-31 12zm-10-8z"/>
<path stroke="#F781BF" d="M1148 879zm17 8zm1-8zm17-4zm6-4zm6 10zm12-11zm25 40zm-10 1zm-8 0zm-4-4zm-1-4zm-8-3zm-2-8zm-3 0zm-2 11zm-25 8zm-1-23zm0 16zm-7 4zm-13-12zm-26 14zm-1-20zm-10 17zm-9 26zm8-15zm11 1zm13 4zm9 9zm1-19zm13 16zm5 1zm5-10zm2-8zm1 7zm2-1zm1 1zm1-5zm5 1zm4 12zm20-7zm3-5zm3 2zm2 10zm12 11zm-8 6zm-3 12zm-7-20zm-2 22zm-5-2zm-8-6zm-2-6zm-1 4zm-37-3zm0-5zm-1 11zm-6-4zm-2-9zm-20 15zm-11-8zm-6 12zm0-18zm6 41zm17-16zm3 12zm3-4zm2 0zm5-3zm2 5zm0-1zm12-4zm9 1zm7 7zm11-1zm8-15zm12 18zm5-17zm5 5zm22 4zm1-3zm-4 24zm-17-8zm-1 7zm-5 0zm-10 15zm-8-19zm-7 17zm-1-11zm-3 11zm-4-15zm0 2zm-1 12zm-7-2zm-6 6zm-3-2zm-6-10zm-4-3zm-3 4zm-1-12zm-12 9zm-9-4zm0 14zm-10-7zm-4-3zm-6-3zm17 32zm14 2zm0-7zm18-4zm1-3zm0-2zm26 12zm5 9zm10-13zm4 13zm4-5zm15 1zm-21 16zm-18-8zm-2 13zm-17 0zm-7-2z"/>
<path stroke="#1B9E77" d="M273 661zm-7 8zm-1-7zm-1-3zm-3 9zm329 452zm15 0zm2-8zm38-5zm7 17zm50-14zm10 17zm1-23zm28 23zm3-4zm24-7zm18 5zm47 25zm-1-10zm-33 14zm-4-16zm-11 9zm-1-9zm-17 4zm-8 2zm-1 8zm-3 3zm-9-10zm-24-5zm-12 6zm-13-4zm-31 1zm-5 11zm-9-15zm0 2zm-5 4zm-5 8zm-1-1zm-8 3zm0-3zm-3 0zm-4 2zm-18-13zm-11 12zm-20-18zm-3 19zm-1-2zm-4-3zm-10-9zm-25 22zm4 17zm15-15zm1 8zm2-11zm11 9zm13 0zm10-2zm11 1zm10-5zm21-1zm3 3zm5 8zm2-3zm9-11zm2-2zm1 1zm13 11zm11-9zm6 6zm3-1zm12 11zm4-14zm2-2zm10-4zm1 8zm12 6zm3-11zm1-4zm5 17zm11-14zm10 14zm15-9zm19 1zm1 12zm7-10zm7-10zm1 14zm11-12zm0 5zm3 1zm9 0zm-12 15zm-33 12zm-8 9zm-6-11zm-4 2zm-1-7zm-8 4zm-2 8zm-4-2zm-2 0zm-6 8zm-13-22zm-1 5zm-24-5zm-15 18zm-4-1zm-2 4zm-2-3zm-1-6zm-1 2zm-8-3zm-3-7zm-3 6zm0 0zm-13-1zm-8 0zm-8 4zm-42 8zm-8-12zm-7-2zm-16-2zm-13 1zm-1 14zm-4 14zm1-1zm2-5zm14-2zm11 3zm36 13zm11-4zm3-10zm5 3zm12-8zm0 1zm1 22zm0-16zm6 5zm1-2zm5 3zm8-5zm3 6zm4-11zm0 19zm4-14zm5-3zm6 16zm32 2zm6-6zm0 4zm8 1zm3-10zm3 5zm3 5zm2-5zm4 0zm2-2zm0-1zm6 5zm2-15zm2 9zm3 5zm1-1zm3 4zm-55 7zm-2-2zm-45 0zm-3 2zm13 57zm0 4zm-1-2zm-1-7zm-2 11zm0-10zm-2 7zm0-5zm-1 5zm-2-3z"/>
<path stroke="#BEAED4" d="M634 213zm8 0zm10-2zm0-6zm3-1zm3-6zm2 15zm3 2zm6-15zm2 1zm5 1zm12 6zm14 2zm79 28zm-22-3zm-22 4zm-8-12zm-6 2zm-20-2zm-10-11zm-19 3zm-10 6zm-7-8zm-4 6zm-7 8zm-5-13zm-5 14zm-8 6zm-5-12zm-8 4zm-21 8zm-20 0zm-12 23zm22-20zm6 19zm30 1zm1-5zm4-4zm5 9zm4-2zm8-4zm8-5zm5-3zm5-5zm3 13zm4-12zm12 3zm13 4zm17-5zm12 3zm9 9zm11-8zm4-7zm24 15zm1-5zm24-3zm34 23zm-25 6zm-2-14zm-4 12zm0-12zm-5 11zm-20-3zm-11 7zm-10 0zm-2 3zm-3 3zm0-4zm-8-14zm-4-3zm-10 11zm-1-1zm-9 2zm-20-5zm-6 6zm-24-11zm-5 14zm-5 2zm-2-10zm-9 9zm-8 1zm-6-15zm-8 15zm-14-9zm-10-2zm-5 14zm-3-6zm-4 7zm-13-15zm0-5zm-13 9zm0-5zm-4 2zm-4-2zm-6 11zm-6 11zm2 1zm7 10zm9-7zm28 0zm5-7zm3 22zm1-14zm1 13zm0-10zm5-1zm15 9zm1-9zm5 2zm2-10zm3 0zm14 9zm2-1zm13-8zm6 10zm4 7zm1-18zm3 18zm13-5zm3-14zm7 13zm20-7zm11 6zm4-11zm21 16zm9-9zm6 9zm0-15zm3 5zm10-3zm28 12zm19-13zm4 30zm-20 12zm-1-13zm-11-5zm-1 1zm-17 8zm-5-1zm-1-8zm-1 14zm-1-1zm-6-4zm-1 0zm-7-11zm-2 13zm-1 1zm-17 2zm-7-18zm-9 1zm-4 12zm-12 0zm0 8zm-3-11zm-3-1zm-1-5zm0 16zm-10-15zm-1 4zm-1 5zm-4-1zm-9-9zm-2 10zm-6-7zm-11 15zm-1-4zm-4-15zm-3 14zm-5-3zm-6 9zm-6-5zm-16-5zm-3 8zm-8-7zm-2 4zm-16-3zm-16 2zm0 4zm-7-20zm-2 0zm-1 9zm-3-7zm-2 13zm-11 19zm12 4zm11-5zm18 12zm15-11zm34 11zm3 1zm6-7zm2-11zm6 6zm1 7zm28-18zm3 9zm13 5zm5 1zm4 5zm15-16zm31-3zm30 7zm2 7zm9-3zm23 8zm2 2zm23-4zm-27 7zm-16-1zm-3 21zm-9-2zm-6-12zm-13 14zm-1-19zm-14 1zm-2 9zm-6 6zm-3-1zm0-15zm-4-2zm-4 0zm-1 15zm-9-2zm-5-5zm-1-4zm-5 0zm-4 2zm-12-4zm-2 15zm-4 4zm-2-1zm-1-10zm-4 10zm-11-17zm-1 5zm-2 15zm-8-15zm-14 14zm-3-21zm-12 16zm-8-11zm-19 13zm-1 0zm-31-14zm-4 11zm-13-14zm-7 20zm41 21zm28-6zm1 7zm9-16zm5 16zm8-10zm11 7zm3-1zm0-11zm3 8zm10-3zm8-9zm11 18zm0-1zm3-14zm8 12zm17-15zm2 19zm2-8zm3 1zm2-11zm28 0zm9 9zm6-7zm9 6zm-8 36zm-35-17zm-16 13zm-2-13zm-36 4zm-13-5zm-10 2zm-11-5zm-2 11zm-35-12zm-4 4zm20 21zm12 7z"/>
<path stroke="#FF7F00" d="M875 319zm0 8zm-23-3zm-4-11zm-6 9zm-12 11zm-10-18zm-3 15zm-10 2zm-8 0zm-7 0zm-21-4zm-5 5zm-22-2zm-42 25zm0 0zm13 2zm51 1zm4-14zm3 14zm22-11zm0 11zm16-9zm2-9zm41 12zm11-12zm4 5zm6-9zm10 11zm7-11zm10 26zm-19 20zm-1-7zm-37-10zm-12 9zm-16-13zm-4 19zm-1-16zm-5 16zm-1-9zm-17-7zm-1 11zm-4-13zm0 5zm-4 11zm-14 4zm-12-2zm-16-2zm-4-12zm-3 7zm-13-3zm-13 4zm-17 0zm7 29zm2-13zm48-7zm25 15zm5-4zm16 12zm1-2zm1-9zm3 6zm31 1zm3-4zm23-2zm0-10zm22 8zm1-4zm13 3zm1-6zm5-2zm3 0zm18 8zm6-10zm10 2zm4 8zm-5 29zm-8-11zm0 7zm-1 5zm-16-5zm-10 0zm-8 12zm-4-6zm-1-6zm-10 1zm-3-8zm-5 15zm-12-14zm-1 1zm0 14zm-16-14zm-3 15zm-13-20zm0 6zm-3 8zm-3-12zm-23-1zm-15 16zm-2-15zm-4 4zm-3 5zm-1 7zm-14-5zm-1-14zm-3 14zm-8-10zm-5 7zm-54 1zm-3-10zm-19 14zm-14 19zm21 10zm1-10zm21 6zm23-5zm3 8zm14-7zm1-9zm1 17zm13-9zm14 1zm18-13zm3 9zm11 13zm5 1zm5-3zm2-17zm12 14zm8-10zm0 9zm6 3zm29-6zm10-8zm12 0zm14 13zm7-10zm12 6zm8 1zm6 7zm7-4zm8-9zm2 0zm35 1zm-40 33zm-32 2zm-2-9zm-60 2zm-9 5zm-7-13zm-7-2zm-17 13zm-2-10zm-3 6zm-6 8zm-8-16zm-1 12zm-7-3zm-8-2zm-3-6zm-12 10zm-4 2zm-2 2zm-9-17zm-16 12zm-10-11zm-29-1zm12 29zm0 2zm8 13zm3-16zm11 0zm18 5zm15-11zm22 13zm12-5zm6 10zm3-3zm1-12zm9 8zm22-9zm4 18zm35-18zm5 11zm17 8zm15-14zm9 11zm12 0zm13 9zm-7-4zm0 4zm-4-2zm-15 13zm-6-13zm-2 17zm-2 0zm-10-13zm-8 12zm0-8zm-1 9zm-8 0zm-7-18zm-3 7zm-2-6zm-25 7zm-7 9zm-4-7zm-11-10zm-15 9zm-2 11zm-8-14zm-12 11zm-3-1zm-13-8zm0-7zm-19 14zm-15 3zm10 9zm2-3zm3 8zm1 13zm4-18zm15 0zm10-2zm6 21zm41-23zm1 5zm16 2zm6-7zm13 2zm27 2zm12-4zm-27 28zm-60 7zm-76 10z"/>
<path stroke="#D95F02" d="M846 302zm3 8zm39 13zm-26 11zm-4-18zm-5 19zm-23-13zm-13-8zm-10 35zm10 9zm8-16zm28-4zm7 20zm22-22zm7 5zm19 8zm15 7zm6 0zm1-4zm3 6zm17 12zm-18-1zm-2 9zm-15-16zm0 12zm-4 3zm-6 1zm-8-8zm-4 9zm-6-5zm-4 7zm-6-15zm0 1zm-1 4zm-7 0zm-2-7zm-7 9zm-3-9zm-16 4zm1 27zm27-11zm4 10zm6 4zm7 8zm5-21zm20 3zm5 8zm6 2zm2 0zm22-12zm4-2zm8 0zm11 6zm16 8zm11-1zm8 3zm27 29zm-4-13zm-3-5zm-2 6zm-8 2zm-24 6zm-8-10zm-1 0zm-4-3zm-4 0zm-5 18zm-1-20zm-13 14zm-3-13zm-12 3zm-21 16zm-53-21zm62 30zm3-4zm16 15zm22-7zm14 8zm8-12zm8 15zm1-17zm1 16zm13-8zm3 1zm1-10zm24 6zm7 11zm1-2zm19-3zm-8 29zm0-18zm-4 10zm-3 3zm-3 2zm-2-16zm-11 18zm-5-9zm-4 4zm-1 2zm-5-17zm-1 19zm-2-12zm0 8zm-5 0zm0-13zm-5 17zm-15-1zm-12 2zm-16-9zm-9-10zm30 23zm9 20zm5-1zm4-13zm25 3zm6 13zm2 0zm2-12zm5 12zm5-18zm1 13zm2-7zm7-10zm8 11zm80 1zm5 3zm12 21zm-6 9zm-5-10zm0-3zm-4 11zm-7-1zm-6-4zm0-14zm-4 4zm0 0zm-23-3zm-24 4zm-5-5zm-5 0zm-10 5zm-4-5zm-1 23zm-6-8zm-2-6zm11 24zm10-6zm22 8zm19 4zm2-3zm4-5zm3 11zm1-14zm4 8zm4 11zm8-12zm6-8zm5 2zm0 7zm3 7zm17 3zm6-8zm5 7zm-3 24zm-1-10zm0-4zm-24 0zm-4 10zm-14-7zm-8 6zm-4-15zm-9-1zm-7 17zm-2-14zm0-1zm-4 17zm-3 4zm-11-14zm-27 31zm4-2zm2-4zm4 2zm7 3zm4-13zm0 7zm3 7zm2 5zm1-7zm14 3zm8-9zm4-4zm1 8zm7-2zm1 0zm3-2zm6-5zm0 19zm3-11zm1 8zm2-6zm9-10zm1 14zm1-10zm8-7zm3 9zm15-3zm0 1zm11 14zm3 2zm13-23zm-39 29zm-6 1zm-2 2zm-2-4zm-1 19zm-1-4zm-9-9zm-4 7zm-4 4zm-25-1zm-5 3zm-1-22zm-1 1zm-5 7zm-7 3zm-1 3zm-3 5zm-2-8zm-9-3zm-6 6zm-10-5zm3 15zm1 15zm5-3zm1 6zm2-15zm3 7zm5-5zm2-3zm4 18zm7-14zm1 2zm1 0zm9 7zm1 0zm2-15zm47 10zm9-7zm6 16zm35 160zm-12 3zm-9-4zm-6 9z"/>
<path stroke="#FFFF33" d="M906 388zm85 38zm-22-2zm-37 5zm-26 0zm-12 2zm-7-16zm-70 40zm4-23zm45 2zm21 9zm9 3zm6 8zm21-9zm12-10zm16 5zm2 3zm10 4zm5 6zm33-18zm14 14zm0 3zm3-14zm7-3zm2 11zm14 7zm30 17zm-12 9zm-8-16zm-19 15zm-3-6zm-10 0zm-14-8zm-3-8zm-13 13zm-27-11zm-5 2zm-5 14zm-2-17zm-4 5zm-15-5zm-2 16zm-6-12zm0 3zm-6-4zm-2-3zm-4 22zm-9-18zm-14 11zm-11 5zm-5-20zm-6 18zm-3-18zm-6 22zm-2-2zm-2 1zm-3-1zm-4-11zm-18 1zm-7-10zm-36 38zm16-8zm52 5zm20-11zm2 16zm6-16zm9 1zm3 19zm4-16zm28 8zm8 5zm9-5zm1 5zm3-13zm11 1zm2 9zm4 1zm8 2zm3-7zm2-2zm2 4zm14-11zm6 3zm11-3zm3 4zm4 8zm2-3zm14-1zm1 4zm3-2zm3 2zm3 3zm8-7zm3 7zm1-3zm8-6zm-5 20zm-3 4zm-14 4zm-2-6zm-2 10zm-2 7zm-8-22zm0-1zm-1 4zm-3 16zm-1 1zm-10-19zm-8 15zm-3 3zm-5-1zm-8-5zm-4-1zm-6 6zm0-8zm-4-1zm-5 0zm-2 10zm-5-9zm-4 11zm-9-21zm-4 10zm0 8zm-4-8zm0-7zm-6 16zm-5-2zm-1-14zm-2 2zm-9 15zm-1-3zm0-3zm0-6zm-2 9zm0-13zm-5 15zm0-12zm-1 12zm-2-8zm-1 6zm-3 2zm-7-1zm-1-2zm-2-10zm-7 14zm-3-7zm-2 6zm-4-12zm-1-6zm-1 11zm-3-12zm-1 1zm-16 20zm-12-10zm-14 7zm-7 2zm-2-16zm-6 2zm-11 10zm-8 5zm-10-21zm3 41zm6 3zm0-3zm8-1zm0-17zm1 3zm1-1zm3 9zm30 6zm21-16zm11 21zm11-14zm12 12zm0-5zm1 1zm1-5zm2-9zm3 11zm3 3zm8-7zm3 12zm15-9zm1 5zm8-13zm2 15zm0 3zm0-6zm2 2zm0 1zm1-7zm8 9zm1-19zm1 12zm3 8zm4-9zm1-3zm5 3zm12-5zm5 2zm13-4zm7 4zm1 8zm0 0zm7-8zm6 5zm3-11zm6 11zm4 8zm1-15zm1-6zm0 5zm1-6zm4 3zm2 12zm3-11zm1 9zm2-4zm22 9zm5 3zm6-9zm3 5zm3-18zm0 46zm-3-17zm-1-5zm0 13zm-9-11zm-11 18zm-22-16zm0-3zm-3 21zm-6-16zm-8 6zm-6-11zm-14 17zm0-11zm-2 4zm-2 11zm-4-13zm-2-9zm-3 22zm0-19zm-2 3zm0 2zm-4 11zm-1-18zm-4 4zm-3 16zm-4-7zm-1-8zm-4 8zm-6 7zm-12-12zm-5-8zm-2 5zm-3-3zm0 2zm-7-1zm-2 3zm-1-3zm-5 2zm-2 12zm-9 3zm-3-2zm-1-7zm-1 11zm-7-23zm-8 20zm0-20zm-2 7zm-12 3zm-4-8zm-26 20zm-1-8zm-42-10zm-32-2zm-5 12zm-172-2zm-1 10zm135 18zm19-13zm26 13zm1-11zm2 14zm2-4zm14-14zm5 16zm2-5zm5 11zm4-16zm3 9zm5-7zm0-7zm15 9zm8 10zm24-2zm0-6zm24-7zm5 17zm16-8zm10-14zm7 8zm2-7zm4 3zm1-3zm4 16zm0-6zm5 5zm4-13zm7 15zm2-5zm7 4zm6-15zm2 0zm4 15zm1 4zm3-22zm2 6zm6-5zm6 5zm3 3zm5 7zm2-6zm8-7zm2-3zm5 1zm7 20zm11-16zm0 15zm17-1zm9 3zm11 7zm-9 3zm-4-2zm-6 1zm-2 5zm-4-11zm-13 7zm-13 3zm-1 6zm-14-10zm-3 12zm-9-15zm-5 1zm-11 1zm-2 3zm-1 9zm-2-16zm-12 10zm-2-9zm-7 6zm-2 3zm0 10zm-1-18zm-9 1zm-4-3zm0 20zm-3-16zm-3-3zm-6 17zm-8 2zm-2-6zm-2-10zm-15 7zm-9 0zm-11-13zm-2 19zm-12 0zm-20 1zm-4-15zm-13 7zm-1-8zm-3-3zm0 9zm-2 4zm-7 3zm-12 0zm-1-3zm-4-6zm-13-4zm-3 10zm-12-11zm-35-2zm-39 31zm16 3zm5-4zm80 8zm8-6zm22 4zm3 10zm14-5zm1-8zm5 6zm1-3zm2 4zm12-4zm12 7zm0-17zm16 15zm5-18zm16 4zm5 7zm16 2zm1-5zm0 13zm0 0zm8-8zm6 10zm24-7zm2-16zm8 16zm9-3zm11-6zm8 14zm13-10zm7 4zm1-7zm3-5zm2 10zm4 30zm-41-2zm-7-12zm0 15zm0-11zm-23 13zm-1-10zm-5 6zm-2 2zm-21-11zm0-2zm-7 11zm-3-9zm-11 0zm-8 12zm-1-10zm-18-10zm-11 5zm-7 12zm0-14zm-9 2zm-12 0zm0 3zm-4 7zm-17-8zm-1-4zm-3 9zm-19-11zm-145 2zm-172 11zm270 16zm91-7zm26 2zm0 10zm76-6zm14 25zm-445 44zm-43 21zm134 19zm211 94zm62-2zm-103 13zm-132 73z"/>
<path stroke="#377EB8" d="M549 334zm-14-4zm-17 5zm-3-2zm-3 0zm-2-5zm-5 2zm4 15zm1 9zm2-6zm3 7zm5-5zm2-12zm12 12zm1 1zm5-7zm3 2zm2 5zm0-12zm2 12zm0 0zm1-9zm4 8zm0-7zm4 13zm6-2zm28 28zm-2-7zm-1-10zm-7 8zm-1 9zm-2-13zm-1-4zm-7 0zm0 3zm-1 15zm-9 0zm-6-22zm-11 7zm-6-3zm-3 17zm-3-19zm-2-1zm0 10zm-1 0zm-4 11zm-4-16zm-12-7zm0 5zm-3 11zm-10 14zm16-3zm9 4zm1-3zm1 2zm7-6zm2 18zm0-7zm0-8zm8 7zm5-6zm5 4zm0 1zm12-7zm1 2zm9 9zm6-2zm1-5zm23 14zm6-15zm0 3zm17 12zm4 27zm-12-1zm-4-4zm-6-12zm-4-2zm0 13zm-4-11zm-4 11zm-1 6zm-6-12zm-3 5zm-3-3zm-4-8zm-13-2zm-1-3zm-9 18zm-6-12zm-14 4zm-1-7zm-10 0zm-6 15zm-6-2zm-26-15zm-32 13zm41 25zm29 5zm25-8zm2-8zm2 0zm11 13zm13-12zm3-4zm3 3zm3 13zm4-13zm5 18zm0 1zm0-1zm4-5zm5 4zm3-12zm6-2zm0 14zm3-16zm7 17zm11-8zm0-1zm6 13zm-18 13zm0-3zm-6 10zm-4-18zm0 15zm-3-15zm-6-2zm-27-2zm-6 18zm-3 2zm-1-13zm-2 3zm-1 8zm-15 4zm-22-9zm-38-4zm40 17zm7 10zm42 11zm9-11zm6-12zm2 7zm2-6zm2 4zm5 5zm17-2zm0 8zm30-6zm-41 37zm-23-10zm-52 0zm-18-5zm0-1zm44 25zm31 1zm2 12zm5-9zm17-3zm1-2zm46 20zm-42-3zm-19 14zm-6 4zm-21-12zm-41 2zm-17 18zm6 10zm25-1zm0-5zm1-6zm7 12zm28 10zm2 8zm-52 2zm-9 9zm-18 2zm-3-3zm-65 5zm-17-21zm84 43zm19 3zm41-17zm45 2zm-59 24zm-70 0zm5 17zm19 5zm41 6zm31 10zm0-8zm289 17zm-275 6zm-12 10zm-40-13zm-21-1zm-2 13zm-27 0zm43 7zm6 6zm6 5zm22-5zm2-1zm313 21zm-286 14zm-136 14zm284 48zm-60 15zm5 76z"/>
<path stroke="#A65628" d="M609 441zm59 32zm-7 5zm-2 0zm-15-8zm-20 4zm-14-14zm-5 19zm-9-1zm-22 0zm-12 3zm18 10zm27 9zm1-2zm2-6zm8 4zm1-3zm10 3zm0-11zm36 9zm8 3zm2-15zm5 9zm6-11zm21 43zm-19-7zm-25-4zm-1 8zm-2 2zm-12-18zm-3 6zm-3-6zm-6 4zm-5-2zm-7 9zm0 2zm-7-12zm-2-1zm-3 23zm-18-18zm0-1zm-2 9zm-10-1zm0 2zm-1-7zm-7-3zm-15 30zm2 12zm1-7zm8-1zm1-7zm12 3zm2 13zm2-8zm14-12zm7 10zm12 1zm20-11zm7 6zm2 8zm2 5zm4-11zm5 1zm6-6zm6 15zm12-20zm27 20zm6-1zm1-5zm1-14zm1 33zm-4 4zm-1-11zm-15-2zm-8 14zm-9 4zm-5-14zm-4 9zm-20-4zm-2 1zm-1-5zm-4 16zm-1-8zm-9-14zm-5 1zm-8 7zm0 1zm-8 14zm-6-23zm-4 21zm-2 1zm-11-2zm-5-13zm-1 12zm-4-5zm-2 2zm-8 7zm-1-2zm0 2zm-18-7zm17 14zm13-2zm5 17zm9-21zm0 8zm10 7zm7 6zm3 1zm14-22zm8 13zm2 5zm4 2zm14-9zm15 8zm28-18zm11 5zm8 0zm57 10zm-2 15zm-7-5zm-1 19zm-4-8zm-64-4zm-15-5zm-16 14zm-6-10zm0 1zm-1-7zm-6 5zm-4-6zm-2-1zm-1 12zm-26 9zm-12-18zm-33 18zm14 15zm19-8zm12-3zm15 6zm23-7zm8 4zm2 2zm8-2zm15-3zm55 15zm98 12zm-389 47zm204 21zm30 20zm30-8zm-254 42zm375 13zm-276 84zm275 22zm-6 4zm-12-1zm-4 10zm0 5zm-25 0zm-101-12zm117 22zm10-8zm2 6zm14 14zm3-14zm2 6zm11-10zm0 20zm1-13zm0-7zm0 14zm10-9zm17-5zm-15 36zm-8 0zm-21-5zm-139 1z"/>
<path stroke="#666666" d="M458 445zm24-6zm39-6zm17 17zm78 8zm-5 11zm-92 6zm-5-16zm-21 0zm-20-3zm-5 22zm-16-17zm-14 15zm-5-1zm-6-1zm-38 26zm8 0zm9-4zm5 2zm2 3zm8-1zm17-6zm1-9zm2 12zm22-17zm12 4zm1 7zm1-9zm8 2zm5 2zm1-6zm8 21zm4 1zm6-2zm69-2zm-72 16zm-3 9zm-3-8zm-5 12zm-1-11zm-17 7zm-7-4zm-3 2zm-1-5zm-1-8zm-4 5zm-1 8zm-4-2zm-2-7zm-11 1zm-7 1zm-8 9zm-11-6zm-7 4zm-6-13zm-1 14zm-6 3zm-12 0zm-5-6zm-1 0zm-6 8zm-11 11zm12 0zm7 10zm3-20zm13 8zm11-2zm14 8zm1-11zm8-1zm8-2zm6 10zm0 6zm6 2zm2 2zm5-1zm6 4zm5-19zm1 10zm19 9zm7-23zm2 9zm-25 35zm-4-16zm-18-2zm-3 16zm-2-2zm-6 6zm-1-4zm-2-1zm-3-3zm-6 2zm-2 4zm0 0zm-12-15zm-1 9zm-3 3zm-5-8zm0 9zm-2 3zm-2 0zm-11-16zm-7 12zm-17-11zm-6 38zm12-19zm0 2zm15 16zm2-3zm0-6zm1 1zm2-4zm2-7zm2 11zm6 6zm11-5zm1-11zm4 20zm21-18zm17 7zm7-8zm81 6zm-51 29zm-61-8zm-3 2zm-1-2zm-3-4zm-7 2zm-8-1zm-12 14zm-34-13zm-11 5zm-1 4zm-3 10zm-25 6zm8 11zm1 5zm5 2zm9-21zm3 19zm2-6zm1 5zm2-16zm14 16zm1-2zm16-5zm5 8zm3-4zm85-8zm6-5zm6-1zm-144 34zm-29 11z"/>
<path stroke="#7570B3" d="M459 400zm2 10zm-12 2zm-9 1zm-11 13zm-5-1zm-4 6zm-11-8zm-4 3zm-6-14zm-1 17zm-2-5zm-1-11zm-2 6zm-5 4zm0-11zm-1 1zm0 1zm-3 14zm-2 3zm-7-4zm-2 3zm-10 18zm0 1zm2 3zm7-16zm11 6zm8-5zm2 7zm7 4zm4 1zm9-17zm7 15zm2-15zm7 1zm21-1zm5 11zm7 10zm1-19zm1 4zm1-1zm6 7zm4 3zm7-5zm-7 18zm-1-3zm-5 3zm-2-4zm-11 14zm-46 9zm-38-2zm-1 2zm-10 0zm-5-7zm-3 1zm-5-2zm-1-1zm-3 10zm6 9zm3-4zm0 5zm1-9zm4 7zm2 10zm1-2zm1-6zm1-4zm5 7zm72-9zm24 5zm-39 29zm-4-5z"/>
<path stroke="#386CB0" d="M509 560zm-22 5zm-3-4zm-48 36zm24-10zm23 9zm32 20zm-36 10zm21-1zm158 15zm23-3zm-273 34zm-91 8zm4 11zm5-3zm6-3zm3 9zm14-9zm7 1zm11 4zm4-1zm3-8zm6 7zm2-7zm51 0zm7 34zm-21-14zm-3-1zm-5 14zm-3 2zm0-5zm0-14zm-9 23zm-11-20zm-11 10zm-16-2zm-6 12zm-3-14zm-6 9zm-11-6zm-3 1zm-2-9zm0 2zm-8 2zm-22 32zm16-11zm3 1zm10 1zm8 8zm1-10zm6 16zm20-7zm3-2zm3-3zm7 13zm1-6zm12 5zm1-11zm2 1zm5 9zm1-13zm7 10zm2-10zm1 8zm3-6zm1 0zm15 8zm0 6zm8-8zm-3 21zm-6-7zm-4 7zm-8-11zm-7 5zm-6-5zm-6 11zm-10 11zm-5-22zm-6 16zm-7-13zm-5 9zm-10-6zm-18 1zm-28-1zm-8 38zm7-17zm10 15zm2 0zm2-11zm13 12zm6-7zm4-3zm4-3zm1 0zm3-6zm3 18zm0-2zm8-14zm3 6zm0-2zm4 0zm3-2zm6-5zm8 12zm2 1zm7 3zm0-8zm2-8zm1 13zm11-5zm11 8zm10-14zm5-2zm2 8zm3 9zm1 1zm14 28zm-17-21zm-1 4zm-2 4zm-3 3zm-27-8zm-9 19zm-20-10zm-2 1zm-7-1zm-9-9zm-7 4zm-7 3zm-8-2zm-8-1zm-2 2zm0 0zm-4 9zm-21 7zm4 1zm1 5zm3 8zm1-5zm6 11zm33-8zm8 5zm2-11zm0 15zm5-6zm1 5zm5-17zm2 8zm1 4zm12 5zm42-19zm400 34zm-266-1zm-146-7zm-19 6zm-18 7zm-3 5zm-15-23zm-19 7zm5 26zm264 93zm-29 29z"/>
<path stroke="#4DAF4A" d="M577 573zm-76-15zm-6 2zm-2 14zm-23 0zm-12-8zm-2 9zm-11-1zm-18 19zm44 4zm39-7zm265-10zm-183 35zm-17 2zm-61-12zm-46 13zm-13-12zm-18 17zm-10-5zm0-16zm7 40zm18-5zm8-7zm8-4zm0 7zm34 7zm1 6zm1-8zm0 4zm10-10zm1 5zm14-10zm16 9zm0 0zm5-10zm7 18zm18-20zm18 2zm5 11zm9 2zm230 10zm-130 14zm-37-2zm0 8zm-12 1zm-4-1zm-23-9zm-6-3zm-18 14zm-5-11zm-13-5zm-11 9zm-3-16zm-1 21zm-15 2zm-101 22zm19-21zm10 7zm13 4zm7 10zm0-17zm55 2zm12 11zm6-11zm9-4zm0 21zm1-11zm9 6zm5 0zm1-9zm2 9zm3-5zm1 4zm0 2zm28-18zm19 13zm180 4zm-140 24zm-47-11zm-2 4zm-2 11zm-4-22zm-9 21zm-17-4zm0 4zm0-6zm-5-11zm-4 17zm-14-21zm-11 2zm-6 17zm-6-7zm-4-4zm-2 8zm-15 4zm-4-1zm-37-3zm-13-8zm0-3zm-68 2zm8 27zm1 1zm21 0zm16-2zm4 4zm1 1zm5-6zm26 12zm7-11zm11 9zm16-6zm25-2zm3 5zm16-15zm3 20zm2-4zm1 4zm22-5zm25 4zm24-13zm8 4zm-21 24zm-3 5zm-7 4zm0-11zm-17 2zm-31-4zm-11 4zm-1 11zm-3-17zm-8 16zm-5-6zm-18-7zm-6 14zm-4-12zm-6 13zm-3-20zm-1 9zm-6 9zm-1-10zm0-7zm-23 10zm-12 1zm0-6zm-7-2zm-8 13zm-7 0zm-1 1zm-14-8zm-3 3zm-16-8zm-2 2zm-11-2zm35 29zm11-7zm12 12zm19-1zm3-15zm4 6zm3-1zm3-6zm3 4zm20 19zm0-23zm15 22zm7-9zm12-11zm4 7zm4-1zm13 14zm0 1zm1-7zm13 5zm13-14zm2 11zm7-14zm3 5zm4 2zm3-10zm18 9zm10-3zm125 3zm-122 15zm-24 13zm-7 5zm-10 1zm-2-16zm-10-3zm0 19zm-2-3zm-6-14zm-13 3zm-10 16zm-4-10zm-3-11zm-1 18zm-20 0zm-50 4zm-24-10zm-8 2zm-12-8zm-28 10zm0-11zm12 18zm7 10zm5 1zm3 1zm1 7zm4 2zm12-4zm1 4zm29-9zm14 1zm11 0zm47-9zm8 14zm7-18zm2 8zm12 5zm1-10zm10 11zm9-5zm3 13zm5-19zm5-1zm5-2zm38 19zm36 23zm-72 3zm-15-10zm-9 0zm-36-6zm-9 16zm-48 0zm-4-18zm-12 19zm-9-21zm-9 0zm-5 13zm-4 2zm-43-11zm3 21zm19 12zm8-9zm36-4zm34 10zm5-9zm64 17zm3 0zm6-18zm20 1zm-45 30zm-10-6zm-5 2zm-7 19zm-15-21zm-2 7zm-4 6zm-15-4zm-23 10zm-3-8zm-23 7zm-15-20zm-3 2zm-17-1zm2 28zm39-3zm15 7zm1 1zm6 1zm22-6zm25 10zm3-5zm23-7zm96-1zm-158 41zm-14 2zm-5-17zm256 63zm-79 1z"/>
<path stroke="#F0027F" d="M725 621zm-10-21zm-16 37zm14 5zm18-4zm19 0zm84 20zm-1 9zm-32-10zm-6 13zm-5-13zm-5 14zm-25-13zm-1 10zm-5-6zm-2 9zm-4-7zm-12 7zm-129 18zm97-5zm13 9zm19-6zm0-7zm3-3zm2 4zm13 7zm3-8zm1-4zm13 2zm5 0zm8 12zm10 0zm8-7zm11-3zm1-3zm5 14zm3-4zm6-12zm2 16zm34-4zm15 23zm-16 2zm-4 4zm-2-8zm-15 4zm-13-11zm-24-1zm-14 17zm-1-4zm0 5zm-4-8zm-3 1zm-11-9zm-19 4zm-11 2zm-7-12zm-4 14zm-12-7zm-10 8zm-6-11zm-7 8zm-3 6zm-250-5zm229 20zm8 9zm2-14zm21-2zm5 5zm27 6zm4-8zm1 17zm1-22zm8 23zm16-22zm4 10zm16 3zm10-6zm13 5zm5-7zm9 15zm9-18zm11 17zm0-2zm9 5zm6-2zm1-12zm1 12zm9-18zm9 4zm22 2zm-19 21zm-2 7zm0 8zm-1 1zm-2-20zm-2 21zm-5-14zm-1 12zm-5-15zm-2 6zm0-7zm-1 0zm-11 10zm0-5zm-6-6zm-1 18zm-7-8zm-4 3zm-1 0zm-22-6zm-2-10zm-15 3zm-9 11zm-2 0zm-8-11zm-16 17zm-12-4zm-3-17zm-15 16zm-1-15zm-4 4zm-8 4zm-1-2zm-11 6zm-7-13zm-5 20zm-161 25zm14-6zm55-6zm8 7zm14-4zm90-11zm0 10zm13-7zm11-2zm4-2zm1 1zm5 1zm1 20zm3-9zm11-3zm1-10zm15 0zm0 1zm12 5zm6 12zm6-9zm5-6zm5 5zm2-1zm1-5zm11 18zm3 1zm1 1zm17-17zm16 7zm22 8zm26-14zm-51 26zm-4 2zm-4 5zm-9-14zm-34 20zm-7-18zm-5 9zm-6-4zm-2 12zm-9-3zm-4 6zm-11-23zm-4 23zm-1-16zm-5 14zm-8-15zm-4-6zm-7 20zm-12 0zm-2-7zm-1 0zm-11-10zm-3 14zm-6-4zm-55-2zm-57 6zm-9 3zm-4 26zm64-11zm6-6zm8 4zm2-3zm4 4zm39-10zm5 3zm4-3zm17 5zm7 9zm28-2zm14 1zm4-6zm1 6zm4 6zm26-16zm0 14zm2-11zm22 4zm10-8zm6 0zm1-2zm34 17zm22 28zm-104-11zm-20-6zm-13-1zm-1 1zm-10-4zm-43 9zm-14 13zm-41-11zm-3-8zm-27 4zm-55 25zm8 7zm7-8zm35 14zm17-6zm88-14zm83 42zm-14-4zm-19-5zm-122-9zm116 34zm39-9zm-240 85z"/>
<path stroke="#E41A1C" d="M573 581zm121 0zm13 15zm21-1zm193-6zm30-7zm24-6zm58 45zm-42-4zm-5-11zm-27 9zm-35-8zm-178 1zm-36 34zm28 3zm205-6zm4-3zm65 7zm24-9zm9 8zm20-16zm10 26zm-2 10zm-9-5zm0-3zm-2 4zm-19-7zm-7 3zm-1 4zm-3-6zm-1 4zm-11 12zm-21 2zm-15-3zm-8-4zm-2-7zm-6 2zm-16-2zm-7 1zm-3 5zm-1-1zm-25-12zm-3 18zm-6 3zm-8-7zm-7-4zm-192 0zm143 22zm38-7zm8 8zm14 3zm12-3zm1 3zm13-10zm22 11zm8 9zm18-12zm6-8zm7-3zm17 11zm2-11zm3 1zm14 14zm6 0zm9-15zm1 21zm13-20zm8 5zm5 5zm1-4zm22 13zm12-16zm15 38zm-24 1zm-15-8zm-5 7zm-7-8zm0 12zm-3-1zm-1-4zm-14-17zm-6 10zm-11-1zm-11-3zm-5 16zm-1 0zm-9-22zm-15 22zm-3-10zm-9 5zm-10 4zm-3-3zm-6-9zm-20-1zm-7 10zm-1 4zm-11 0zm-12-7zm-4-3zm-5 6zm-308-2zm245 29zm45 1zm2-10zm1-7zm0 14zm5 0zm3 0zm11-9zm6 11zm1-5zm2-12zm7 17zm8 2zm15-10zm7 1zm4-1zm1-7zm1 10zm1-7zm16-2zm15 10zm0-9zm2 14zm10-17zm4 6zm1-9zm2 13zm25 6zm13-14zm3 1zm1 6zm33-8zm13-1zm5 15zm-3 11zm-1 8zm-17 3zm-19-9zm-14-3zm-1 4zm-1 4zm-6 3zm-1-3zm-6-10zm-12 8zm-27 6zm-2-12zm-11-1zm-1 11zm-5-12zm-6 16zm-5 3zm0-8zm-18 8zm-14-4zm-19-5zm0-9zm-6 14zm0 4zm-5-4zm-10-18zm-3 6zm-21-1zm-236 5zm198 14zm49 1zm14 21zm6-1zm11-22zm3 21zm5-19zm4 16zm2-17zm10 15zm3-15zm5 9zm16-7zm11 16zm5-18zm1 18zm1-15zm1 0zm0 9zm4 7zm11 3zm3-11zm2-6zm6 1zm0 15zm14-18zm0 17zm3-13zm1 9zm2-5zm2 10zm4 0zm21-9zm6 9zm12-7zm8-2zm-4 16zm-22-1zm-18 0zm-17 3zm-13 0zm-11 8zm-3-11zm-4 18zm-2-4zm-7-3zm-6-3zm-3-2zm-7-2zm-16 13zm-3-11zm-13-3zm-4-7zm-6 22zm-14-18zm-3 4zm-1-3zm0 8zm-3 5zm-306-16zm276 45zm27-4zm14-17zm0 15zm2 4zm11-12zm1 1zm17-5zm11 2zm3 11zm2-18zm1 8zm7 6zm5-2zm23 5zm5 3zm11-9zm1-3zm2 15zm1-20zm0 19zm7-16zm1 1zm18 11zm8-13zm6 13zm8-5zm1-9zm1-4zm25 22zm-67 12zm-57 10zm-8-17zm-12 3zm-8 8zm-122-6zm76 18zm37 19zm20-6zm0-4zm17 1zm3 5zm39-10zm29 8zm-389 39zm116 68z"/>
<path stroke="#999999" d="M850 280zm-10-6zm-6 2zm-1-1zm-9-1zm38 25zm25 6zm446 307zm-3 2zm-7 0zm-6 1zm-189 30zm16-8zm5 7zm9 2zm-5 13zm-8-6zm-12 18zm-20-21zm-7 14zm-1-2zm-31 9zm-1 13zm26 0zm28-2zm14 8zm4-15zm12 18zm4-21zm22 21zm-4 12zm-7 1zm-49 1zm-3-2zm-2 12zm-19-14zm-9 15zm-8-8zm-1 4zm7 23zm25-15zm10 6zm8 9zm22 4zm16-5zm16 7zm-6 11zm-1 7zm-13-17zm-9 12zm-6-5zm-3 13zm0-15zm-3 18zm-7-20zm-5-1zm-1 14zm-17-7zm-18 11zm-4-1zm-15-7zm-8 6zm-3-17zm-11 26zm22 12zm32 7zm10-15zm6-3zm5 7zm18 11zm8-13zm1 7zm16-3zm4-3zm-12 18zm-7 3zm-47-5zm-10 6zm0 0zm-17 7zm-2-4zm-9-10zm9 30zm23 9zm9-11zm1 8zm2-12zm7-1zm4 14zm16 0zm54 28zm-64-14zm-58 30zm14 4zm0 3zm92-1zm15-5zm14 22zm-7-1zm-89 10zm-3-2zm-7-3zm-18 2zm-12-1zm-23-6zm-156 35zm12-6zm11 3zm48 0zm107-13zm1 14zm25-7zm-137 17zm-1 12zm-4-15zm-5 17zm-14-8zm-2 5zm-15-4zm-17 3zm-4-1zm-2 7zm-4-8zm-2 6zm-2 5zm-7-6zm-7-11z"/>
<path stroke="#984EA3" d="M583 574zm-3 56zm209 41zm-33 0zm-134-1zm266 37zm-193-4zm-78 40zm-32 41zm20-15zm76 8zm111 9zm-80 7zm-31 13zm-3 7zm-24-2zm-13-18zm-12 8zm-9 0zm-33 30zm19 8zm19-5zm7 1zm2-3zm1-12zm12 14zm6-16zm5 5zm5-3zm7 13zm5-10zm2 16zm9-9zm1-8zm1 7zm73-1zm16-4zm-25 38zm-44-15zm-2-2zm-13 16zm-10-9zm0-11zm-1 13zm-6-13zm-1 18zm-3-9zm-7 9zm-1-3zm-1-8zm-6-4zm-6 14zm-4-13zm0 14zm-2-17zm-3 2zm-3-4zm-5 18zm-3-6zm-3 4zm0 0zm-6-15zm-1 12zm-12-13zm-51 2zm46 24zm8 7zm7-4zm16 0zm18 15zm6-9zm3 1zm3-2zm3 11zm2-12zm4 8zm7-7zm7 12zm2-12zm1 1zm2 12zm1-22zm11 18zm15-11zm6 1zm51 2zm17-9zm-25 22zm-35 2zm-16 10zm-8-3zm-9 5zm-13-11zm-3 16zm-2-2zm0 4zm-4-14zm-1-4zm0 4zm-5 1zm-1-7zm-11 16zm-1-16zm-5 3zm-4 6zm-1-6zm-4 8zm-5 3zm-1 8zm-10-2zm-2-19zm-2 5zm-4 3zm0-9zm-95 9zm-31 33zm128-9zm1 3zm11-9zm5 12zm1-11zm5 11zm6-5zm11 4zm2-5zm7 1zm3-1zm0 9zm4-16zm14 4zm1 12zm2-6zm62 6zm1 5zm-52 3zm-17-2zm-14 2zm0 7zm-10 2zm-5-4zm-1 4zm-2-3zm-9 0zm-13-4zm-96 9zm-2-2zm9 17z"/>
<path stroke="#FDC086" d="M440 878zm20 7zm22-6zm4-8zm10 3zm6 11zm0-2zm2 1zm26-13zm18-6zm-16 39zm-12-3zm-9-3zm-7-10zm-7 3zm-1 0zm-3 8zm-15 11zm-19-10zm-59 20zm11 6zm0 1zm4-11zm0 0zm1 0zm2 9zm6-5zm5 6zm10-11zm25-2zm4 4zm1 1zm13 6zm8 6zm15 5zm52-8zm3-13zm24 36zm-7-11zm0 3zm-5 0zm-25 16zm-11-13zm-13 6zm-3-13zm-1 15zm-6-13zm-3-2zm-13 9zm-19-3zm-6 14zm-11-20zm-5 19zm-13-5zm-1-4zm-13-8zm-1 0zm-4 8zm-2-4zm-2 1zm-6 1zm-1 9zm-6-13zm0 17zm-25 6zm25 15zm0-12zm1 3zm14-2zm1 6zm25-14zm10 17zm2-6zm2 11zm7-3zm23 1zm5-9zm3 10zm25-17zm22 14zm11-6zm4-1zm14 28zm-21-14zm-2 9zm-8 2zm-11 4zm-19-3zm-24 5zm-51-6zm-27-8zm-8-3zm-17 3zm-3 14zm-2-1zm26 25zm17-9zm6-5zm11-3zm0 19zm1-6zm19-8zm5-2zm9 17zm7-6zm7 1zm6-16zm14 4zm10 17zm42-2zm3-17zm12 34zm-63 8zm-8-18zm-29 10zm-17-3zm-5 12zm-5-22zm-28 20zm-10-2zm-6 1zm-5 4zm-4-17zm-9-1zm56 29zm60 1zm4-1zm30 10zm3-1zm33 17zm-2 3zm-2-10zm-12 12zm-1 2zm-16-10zm-9-5zm-5-4zm-7 6zm-4 5zm-4-2zm-3-9zm-3 3zm-1 12zm-9-9zm-11 2zm-13-5zm-57 2zm98 23zm24 7zm11 10zm1-7zm1-6zm10-3zm8 1zm-50 23z"/>
<path stroke="#BF5B17" d="M852 639zm-166 21zm211 47zm-85-1zm-278 72zm72 9zm313-6zm-354 17zm84 51zm123 37zm42 1zm66 7zm-10 0zm-81 10zm-304 5zm107 26zm120-4zm38-17zm9 6zm4 7zm15 10zm-42 16zm-39-15zm-3 11zm-27-4zm-12 11zm-21-3zm-12 4zm0-14zm-3 15zm-5 1zm-24-13zm-7-8zm32 41zm5-14zm9 4zm2 0zm0 2zm3-3zm6 1zm0-1zm1 10zm14-4zm3-14zm2 9zm0-8zm7 20zm0-4zm3-13zm3-2zm26 2zm0 7zm15 6zm8-16zm14 8zm15-2zm22 37zm-4-20zm-4 1zm-2 2zm-3 6zm-7 4zm-29 1zm-4-12zm-13 3zm-7 4zm-2-9zm-11 2zm-33 12zm-13-12zm-3 14zm-7-6zm-3 6zm-6-6zm-8-5zm-17 0zm-15 0zm-14-5zm-1 16zm-11 28zm3-11zm15 9zm2-10zm4 5zm2 0zm3-11zm8-2zm3 11zm21-11zm6 14zm5 7zm3-6zm4-6zm1 10zm44 2zm2-18zm6 15zm1-17zm1 16zm0 4zm4-4zm7-2zm2-10zm4 11zm20-10zm4 8zm11 2zm12-6zm14-4zm9 9zm2 6zm7-6zm3-6zm3 31zm-12 4zm-14-15zm-3 14zm-7-19zm-5 21zm-4-15zm-8 12zm-3-16zm-3 19zm-9 2zm-3-18zm-7 9zm-9-12zm-1 6zm0 5zm0-4zm-5-4zm-3-5zm-11 9zm-3 12zm-1-16zm-1 9zm-5 8zm-10-19zm-3 9zm-1 8zm0-5zm-12-15zm-7 20zm-7-17zm-9 5zm-7-5zm-4 2zm-7 4zm-2-7zm-1 2zm-9 17zm-9-7zm-10-13zm-1 18zm-19-5zm-13 7zm2 6zm9-1zm10 9zm3 4zm6 8zm6-10zm1-1zm19-6zm3-3zm1 10zm5-13zm2 16zm27 5zm5 0zm2-9zm7 8zm6 2zm3-9zm1 7zm3-9zm6-9zm3 18zm17 2zm3-1zm23-11zm0-9zm3 10zm3-1zm15-2zm0 8zm29 2zm4 0zm7-4zm6-14zm-21 24zm-3 6zm-11 16zm-1-3zm-6-4zm-4-3zm-9 9zm-1-10zm-2-7zm-5-1zm-9 20zm0-13zm-19 13zm-5-22zm-1-1zm-12 20zm0-7zm-7 8zm-13-17zm-15 6zm-3 8zm-8-7zm-1 3zm-6 8zm-12-8zm-1-11zm0 20zm-1-8zm-4 1zm0-6zm-16-3zm-1 1zm-8-7zm-6 6zm-7-2zm-4 12zm-5-17zm-2 5zm25 21zm0 2zm20 16zm1-16zm11 7zm0-10zm7 18zm2-19zm0 14zm14 9zm9-4zm0-10zm7 8zm13-12zm3-4zm3 22zm1-1zm14-8zm1 3zm8-12zm2 14zm3-19zm6 17zm2-3zm3 6zm9 1zm11-14zm5-2zm12 0zm-48 23zm-9 11zm-4-14zm-6 3zm0-4zm-21 10zm-3 1zm-1-1zm-3-2zm-2-6zm-2 1zm-9-3z"/>
<path stroke="#7FC97F" d="M643 588zm21 31zm154 9zm-234 26zm52 52zm-119 24zm18 37zm342 93zm-58-10zm-367 35zm283-3zm45-5zm74 6zm8-17zm3 19zm8-13zm3 6zm3-14zm31 13zm2 4zm20-14zm9 34zm-7-9zm-2 1zm-18 17zm-6-19zm-6 15zm-4-7zm-5-1zm-4-6zm-1 19zm-24-7zm-2-4zm-19-3zm-30 12zm-15-2zm0-1zm-51-6zm-9 24zm26-4zm10-8zm28 19zm11-13zm18 12zm1-5zm7-1zm17-2zm12 6zm32 0zm14-2zm34-4zm-11 32zm-2-18zm-15 8zm-14 15zm-14-9zm-65-2zm-9-4zm-9-7zm-6 20zm-12-9zm-18 9zm-28-20zm-25 4zm40 28zm17 9zm28-18zm1 3zm17 17zm26-2zm0-3zm29 7zm7-20zm6 18zm4-2zm10 0zm10-1zm7-9zm0 4zm15-4zm13-3zm15 3zm-12 30zm-40 5zm-14-16zm-6 20zm-2-3zm-13 2zm-3-5zm-8-3zm-1 5zm-2-16zm-18 19zm-8-3zm-8-1zm-57-2zm19 29zm22-1zm5-1zm3-7zm32-1zm4 11zm16 0zm14-20zm24 1zm7-3zm20 8zm13 1zm16-4zm-18 20zm-4 11zm-12 3zm0-12zm-11 11zm-38-8zm-12-2zm-10 13zm-2-3zm-9 3zm-25-10zm-3 11zm-17 5zm0-1zm-43-18zm-33 21zm29 0zm6 6zm19 4zm10 12zm6-23zm5 17zm0-13zm21 19zm7-20zm8 20zm14-9zm2 9zm14-19zm24 7zm19 6zm20-15zm-56 29zm-2 5zm-13-6zm0 4zm-119 4zm56 13zm12 13zm22 4zm8 2zm1-15zm6-5zm24 5zm7 21zm-12 4zm-11-7zm-19 16zm-1-4zm-8-10zm-7 6z"/>
<path stroke="#FFFF99" d="M961 887zm7 0zm7-2zm90 14zm-7 2zm-2 0zm-1-10zm-2 11zm-45-1zm-9 2zm-16-6zm-2 12zm-4-20zm0 10zm-14-5zm-1 0zm-62 34zm11-15zm3 16zm0-7zm3 8zm4-7zm2 2zm31-8zm8 10zm4-13zm4 12zm7-8zm7 4zm5 0zm1 6zm20 2zm17-6zm14 5zm34-15zm12 1zm46 33zm-46 3zm-32 4zm-8 0zm-1-1zm-16-15zm-1-1zm-6 12zm-5-12zm-7 18zm-1-17zm0 2zm-36 12zm-19-9zm-3 5zm-6 5zm-3-11zm-10 4zm-10-1zm-1 9zm-25 3zm-1-14zm-7 35zm23-6zm16-10zm16-1zm10 15zm15-16zm5 0zm2 21zm2-9zm0-2zm1 4zm10-14zm3 11zm19 0zm1 8zm1-20zm1 9zm0-3zm14 2zm2-1zm5 6zm1-12zm17 3zm9 2zm4-6zm0 5zm2 8zm7 6zm13-14zm2 8zm3-11zm5 1zm9 12zm6 13zm-5 0zm-5 10zm-6-2zm-5 2zm-5 2zm-15-8zm-8 12zm-1-9zm-1 1zm-12-7zm-2 12zm-32-6zm-13 10zm-8-3zm-3-12zm-2 13zm-22-5zm-3 3zm-8-11zm-10 16zm-9-1zm-19-4zm-20 15zm3 2zm11 3zm1-7zm28-2zm2 9zm8 3zm4-9zm8 3zm36-10zm62 6zm2 2zm4 5zm3 1zm6-8zm4 16zm4-15zm-21 31zm-5-4zm-22 2zm-15-1zm-10-8zm-21 19zm-33-7zm-1-1zm-13-6z"/>
<path stroke="#F781BF" d="M1128 887zm17-2zm14-10zm30 2zm0 10zm8-14zm23 29zm-14-9zm-3-2zm-6-1zm-3 6zm-18 2zm-8 6zm-6-14zm-3 17zm-1-7zm-5 8zm-4-8zm-5-2zm-6 9zm-1-1zm-2 5zm-2-5zm-25 25zm3-17zm5 13zm10-1zm2 5zm3 3zm6-17zm6 3zm21 13zm0-5zm5-16zm1 0zm7 20zm1-8zm1-1zm6-7zm7-2zm0 18zm7-10zm4 13zm5-13zm15 7zm0-1zm-4 8zm-11 9zm-6-1zm-1 12zm-2-3zm-5 6zm-2-8zm-3 6zm-18-9zm-13 11zm-4-9zm-12 6zm-2-17zm-16 15zm-4-12zm-14 8zm0 30zm6-14zm18 17zm0-18zm1 3zm3 12zm2-7zm4-6zm15 12zm5-12zm2 12zm7-10zm1 7zm0 2zm4-14zm0 13zm6 6zm1-22zm1 22zm5-15zm17-3zm3 18zm5-2zm6 1zm7-20zm6 2zm2 19zm1 12zm-8 11zm-8-18zm-6 8zm-6-7zm-4 3zm-7 15zm-15-2zm-13-3zm-12 5zm-8-23zm-3 19zm-8-19zm-10 3zm-2 16zm-4-5zm-1-5zm-3 3zm0 3zm-1-1zm-4 0zm-5-5zm-2-6zm-2 30zm10-8zm13 0zm2-1zm0 1zm7 11zm0 2zm3 2zm1-13zm8 13zm3-10zm11 2zm7 4zm4-2zm2-8zm4 0zm3 12zm8 0zm12-9zm1 8zm6-9zm1 19zm6-21zm0 11zm5 4zm-42 20zm-11-5zm-4-1z"/>
<path stroke="#1B9E77" d="M271 668zm-7-8zm0 0zm-2 5zm385 436zm-47 23zm14-7zm11 8zm6-4zm13-7zm1-3zm3 16zm4-19zm12 7zm1-9zm15 13zm1-15zm1 21zm0 2zm10-18zm5 16zm9-3zm6-14zm33 8zm3 8zm10-7zm5 3zm23-4zm7-4zm9 10zm10 10zm-1 5zm-29-2zm-4-7zm-6 1zm-12 4zm-3 4zm-8 6zm-2 3zm-35-3zm-2 3zm-3-12zm-15 5zm-1 6zm-30-17zm-1 7zm-1 0zm-4 6zm-3-1zm-2 2zm-15 9zm-25-16zm-17-1zm0 4zm-23 2zm-15-4zm-13 15zm-10 5zm22 19zm6-7zm28-14zm2 8zm3-8zm2 14zm6 5zm9-20zm1 8zm29 6zm1 8zm9-3zm12-16zm5-1zm0 12zm1 8zm0-12zm1 7zm11-16zm0 16zm23-13zm14 10zm13 5zm1-9zm15 8zm9-10zm5 12zm4-5zm10 1zm0-1zm5-3zm12-11zm22 4zm0 15zm0-13zm7-5zm7 8zm-33 13zm-39 20zm-22-19zm-4 2zm-2 0zm-20 7zm-12 10zm-3-16zm-2 6zm-4-3zm-5 12zm-4-2zm-13-2zm-2 5zm-1-6zm-5-9zm-3-2zm-14 4zm-11-2zm-3-5zm-22 18zm-3 0zm-3-17zm-13 7zm-4 4zm-13-9zm-19 26zm0 8zm4-5zm1 8zm3 2zm12-16zm32 2zm5 11zm5 6zm7-9zm0 6zm30-3zm6-14zm1 2zm3 4zm23 6zm1-10zm26 13zm10-8zm20 13zm2-6zm4 3zm4 1zm2-16zm1-2zm1 19zm2-18zm1 11zm7 4zm3 5zm-27 6zm-69 6zm8 54zm-2 0zm-5-7z"/>
</g>
<path d="M101 74.4V672.4H699.5" stroke="#000" stroke-width="1.6" fill="none"/>
<text x="400" y="698.5" font-size="20.6" text-anchor="middle">UMAP1</text>
<text transform="translate(85 360.5) rotate(-90)" font-size="20.6" text-anchor="middle">UMAP2</text>
<g font-size="17.7">
<circle cx="731.4" cy="159.3" r="9.3" fill="#E41A1C"/><text x="754.2" y="165.6">01</text>
<circle cx="731.4" cy="182.4" r="9.3" fill="#377EB8"/><text x="754.2" y="188.7">02</text>
<circle cx="731.4" cy="205.5" r="9.3" fill="#4DAF4A"/><text x="754.2" y="211.8">03</text>
<circle cx="731.4" cy="228.7" r="9.3" fill="#984EA3"/><text x="754.2" y="235">04</text>
<circle cx="731.4" cy="251.8" r="9.3" fill="#FF7F00"/><text x="754.2" y="258.1">05</text>
<circle cx="731.4" cy="274.9" r="9.3" fill="#FFFF33"/><text x="754.2" y="281.2">06</text>
<circle cx="731.4" cy="298" r="9.3" fill="#A65628"/><text x="754.2" y="304.3">07</text>
<circle cx="731.4" cy="321.1" r="9.3" fill="#F781BF"/><text x="754.2" y="327.4">08</text>
<circle cx="731.4" cy="344.3" r="9.3" fill="#999999"/><text x="754.2" y="350.6">09</text>
<circle cx="731.4" cy="367.4" r="9.3" fill="#7FC97F"/><text x="754.2" y="373.7">10</text>
<circle cx="731.4" cy="390.5" r="9.3" fill="#BEAED4"/><text x="754.2" y="396.8">11</text>
<circle cx="731.4" cy="413.6" r="9.3" fill="#FDC086"/><text x="754.2" y="419.9">12</text>
<circle cx="731.4" cy="436.7" r="9.3" fill="#FFFF99"/><text x="754.2" y="443">13</text>
<circle cx="731.4" cy="459.9" r="9.3" fill="#386CB0"/><text x="754.2" y="466.2">14</text>
<circle cx="731.4" cy="483" r="9.3" fill="#F0027F"/><text x="754.2" y="489.3">15</text>
<circle cx="731.4" cy="506.1" r="9.3" fill="#BF5B17"/><text x="754.2" y="512.4">16</text>
<circle cx="731.4" cy="529.2" r="9.3" fill="#666666"/><text x="754.2" y="535.5">17</text>
<circle cx="731.4" cy="552.3" r="9.3" fill="#1B9E77"/><text x="754.2" y="558.6">18</text>
<circle cx="731.4" cy="575.5" r="9.3" fill="#D95F02"/><text x="754.2" y="581.8">19</text>
<circle cx="731.4" cy="598.6" r="9.3" fill="#7570B3"/><text x="754.2" y="604.9">20</text>
</g>
</g>
<g id="pb">
<text x="892.2" y="99.1" font-size="58" font-weight="bold">b</text>
<text x="1288.5" y="20.6" font-size="25.5" text-anchor="middle" font-weight="bold">T vs N</text>
<text x="1288.2" y="52.4" font-size="20" text-anchor="middle">n = 246</text>
<g transform="scale(.5)" stroke-width="7.6" stroke-linecap="round" fill="none" stroke-opacity="0.8">
<path stroke="#F6F4F6" d="M2516 403zm146 28zm-395 23zm307 17zm-198 7zm-248 0zm532 25zm11 8zm-2 16zm-37-10zm-53 1zm-211 5zm-71-7zm-113-3zm-28 32zm9 0zm25 0zm4 6zm0-9zm7 2zm25-2zm29 9zm21-5zm66-14zm9 4zm31-4zm21 3zm32-7zm90 11zm46-1zm87-8zm57 3zm229 7zm-228 31zm-51-11zm-58 7zm-97 0zm-19-13zm-13 11zm-20-6zm-22 4zm-44 4zm-24-7zm-21 3zm-27 7zm-38-1zm-14-1zm-5-15zm-21 0zm-4 13zm-14 2zm-12-11zm-10 3zm-4 13zm-8-17zm-19 19zm-5 0zm-11-7zm7 29zm8-9zm16-5zm2 1zm9 15zm4-6zm12-11zm4-4zm7 9zm82 9zm74-14zm7 9zm4-4zm48 9zm4-13zm15 10zm3-5zm16-2zm8-10zm55 9zm73 8zm32-17zm5 12zm66-7zm46 12zm99-13zm-61 37zm-30 2zm-83-7zm-88-12zm-11 0zm-5 7zm-38 0zm-43 8zm-14 4zm-51-7zm0-8zm-48 5zm-35 8zm-12 3zm-16 2zm-25-19zm-25 4zm0 6zm-4-3zm-9-6zm-9 16zm-3-15zm-9-5zm-29 16zm0-5zm-41 3zm-24-5zm-5 2zm-5 5zm-30 16zm32-5zm29 1zm87-2zm8 2zm22 10zm79-10zm16 15zm1-16zm18 18zm88-15zm21 7zm26-6zm1 15zm8-2zm42 3zm6-19zm17 18zm6 1zm4-21zm2 2zm5 14zm10 1zm6-6zm101 9zm7-2zm15-10zm0-9zm86 15zm28-12zm10 43zm-230-21zm-7 12zm-26-2zm-15 10zm-2-15zm-16 9zm-1-15zm-4 19zm-11 3zm-2-4zm-39 0zm-3-3zm-1 4zm-2-10zm-4-4zm-15 5zm-6 10zm-23-18zm-19 4zm-17 2zm-13 1zm-36 8zm-12-2zm-8-16zm-27 9zm-8 8zm-16-2zm-7 8zm-24-14zm-5 4zm-25-10zm-7 12zm-6-3zm-28-5zm-78 12zm-4-7zm-3 5zm-102-9zm68 32zm20-16zm53 1zm26 18zm61-15zm24 10zm15 6zm16-4zm27 0zm2-11zm1 4zm1-8zm14-1zm21 18zm17-6zm30 3zm86-8zm18 7zm33-8zm10 10zm15-9zm10-5zm23-2zm8 18zm11 4zm8-4zm7-16zm53 19zm50-6zm9 8zm6-3zm20-4zm11 2zm7 4zm10-1zm37-19zm16 11zm6-11zm20 7zm-20 15zm-16 17zm-14 3zm-25-20zm-11 12zm-33 11zm-13-2zm-28-8zm-37 3zm-3-6zm-11-6zm-10-3zm-35 12zm-9 4zm-2-7zm-7 11zm-39-6zm-49-10zm-31 12zm-12 5zm-29-16zm-15 10zm-40-3zm-9-4zm-9 0zm-12-2zm-4 2zm-20-3zm-12 4zm-7 12zm-1 0zm-2-21zm-15 7zm-28 1zm-13-3zm-7 13zm-32-2zm0-15zm-13 21zm-13-3zm-35-15zm30 35zm38-14zm0 10zm55 10zm18-1zm17-15zm38 4zm12 8zm74-10zm17 12zm11-3zm37 2zm6-9zm21-8zm7-2zm27 18zm3-18zm25 6zm5 5zm8-2zm15 5zm5 4zm2-5zm0-3zm1-9zm13 7zm0 7zm7-3zm137 11zm36 0zm62-4zm5-3zm-22 25zm-55 0zm-11-10zm-18 13zm-25-11zm-17-9zm-15 11zm-8 2zm-10-10zm-38-2zm-13 21zm-6-11zm-7 10zm-1-3zm-5-8zm-15 9zm-26 2zm-9-4zm0-7zm-5-5zm-4 6zm-2 5zm-1-11zm-20 14zm-22-9zm-4 12zm-4-19zm-6 8zm-11-11zm-16 4zm-6 14zm-4-5zm-2-8zm-35 14zm-62 1zm-9-19zm-31 22zm-2-2zm-25-13zm-26-5zm-5 4zm-16 14zm-17-7zm-69 6zm152 19zm6-3zm10-5zm13 11zm116 3zm50-13zm1 12zm5-14zm63-5zm4-1zm26 13zm2 0zm20-8zm5 9zm9-10zm33 5zm21 2zm2 3zm2-8zm3 5zm0 10zm28-13zm14 2zm25 6zm155 6zm5 9zm-20 3zm-75 1zm-44 0zm-12 5zm-48-4zm-13-10zm-1 15zm-13-7zm-29 13zm-17-11zm-11 6zm-2-14zm-4 17zm-11-19zm-9 17zm-17 2zm-58-7zm-9 1zm-11 0zm-19-12zm-7 17zm-8-2zm-13-18zm-35 4zm-5-3zm-5 0zm-2-1zm-16 12zm-18 7zm-32-10zm-13 13zm-17-2zm-16-17zm-122-1zm26 35zm138-5zm27 13zm10-10zm4 2zm2 0zm21 0zm28-6zm12 0zm30 15zm9-15zm14 1zm24 3zm52 8zm2-11zm5-3zm9 6zm16-6zm16 2zm33-2zm1 16zm6-19zm22 10zm24-1zm49-10zm-98 24zm-13 19zm-20-16zm-98 11zm-4-2zm-28 8zm-16-7zm-83-4zm-11-8zm0 7zm-3 2zm-10 7zm-24 2zm26 24zm59 1zm62-8zm36-3zm2-4zm47 12zm16-17zm11 4zm7 12zm49 1zm15-5zm33 0zm190 11zm-170 23zm-31-20zm-25 20zm-9-9zm-18 8zm-37-4zm-9-12zm-38-2zm-7 18zm-2-7zm-4-15zm-9 19zm-19-6zm-11 8zm-13-15zm-3 17zm-3-11zm-29 8zm-80 23zm78 1zm42-9zm27 5zm8-5zm15 0zm4 3zm19 5zm24-15zm2 18zm2-14zm3-7zm11 3zm3 18zm5-4zm29-9zm7-6zm4 1zm17 12zm14 1zm99-5zm21-3zm-30 32zm-63 5zm-11-1zm-38-17zm-1 9zm-1-8zm-22-4zm-21 22zm-17-18zm-4 8zm-3-2zm-4-8zm-10 2zm-1 5zm-24-7zm-18 3zm-24 6zm-132-11zm196 30zm21-6zm11 5zm3 6zm29-7zm28 9zm5-7zm88 0zm32-4zm-22 40zm-10-17zm-4 12zm-23 8zm-9-14zm-49-1zm-37-5zm-61 6zm-6 34zm6 1zm41-18zm1 14zm55-6zm9 1zm74-4zm148-1zm-47 22zm-158 7zm-31-3zm-49 7zm-128 2zm79 56zm-338 97z"/>
<path stroke="#F7F8FA" d="M2363 406zm382-12zm16 25zm-208 10zm-257-21zm15 43zm38 2zm191-3zm53-7zm91 12zm93-11zm-10 26zm-334-13zm-78 22zm-60-16zm-86 0zm-72 21zm69 17zm6-7zm2 5zm65-9zm3 12zm69 0zm40-1zm3-17zm1 11zm28-3zm87-12zm30 10zm110 4zm25 8zm110-14zm12 2zm-74 24zm-40 12zm-4-2zm-31-1zm-44-13zm-37 5zm-39 0zm-34 2zm-12-6zm-60 14zm-26-11zm-16 3zm-19 10zm-89-11zm-6 10zm-22-6zm-5 6zm-40 0zm-30-8zm-4 9zm-10-20zm-1 0zm-19 29zm54 3zm11-1zm25 0zm1-4zm34 12zm10 2zm69-15zm28 4zm12 14zm21 0zm18-20zm29 6zm14 6zm67-3zm24-1zm16-5zm49 6zm41-3zm4 10zm6-15zm5 13zm40-7zm65-4zm134 41zm-59-19zm-10 18zm-6-11zm-54-1zm-18 8zm-6-5zm-21-11zm-5 16zm-23-10zm-30-8zm-55 7zm-15 7zm-45 4zm-9-1zm-6-1zm-9-3zm-36-4zm-43-6zm-6 7zm-6-6zm-58 7zm-23-5zm-1 1zm-4-2zm-5-3zm-3 2zm-7 7zm-2-2zm-7-1zm-21 3zm-15-2zm-59 1zm-4-3zm-10 12zm-2-18zm-2 21zm-3-3zm-13-18zm-16 15zm-9 7zm-28-4zm-1-3zm-1-15zm-9 12zm46 20zm1 3zm38-6zm8 13zm1-10zm5 0zm58-7zm6 4zm3 15zm5-7zm73-5zm6 5zm18 8zm0-21zm23 5zm39 11zm22-6zm4-4zm43 3zm4-3zm5-3zm2 12zm0 6zm95-15zm30-4zm37 6zm30 1zm30 9zm41-4zm2 6zm57-16zm49 30zm-136-2zm-33-9zm-17 2zm-15 20zm-13-21zm-22 19zm-3-11zm-7-4zm-3-1zm-4 7zm-27-4zm-5 11zm-5-6zm-32 3zm-20 1zm-2 3zm-1-3zm-10-14zm-24 19zm-45-18zm-4 6zm-44 7zm-10-10zm-7 1zm-6-4zm-7 2zm-11-5zm-61 9zm-4 3zm-2 8zm-10-3zm-13-2zm-5-4zm-27 1zm-15-1zm-12 3zm-2 5zm-7-8zm-22-1zm-36-4zm-12 1zm-8-1zm-45-6zm-12 11zm-4 7zm-9 14zm2-8zm14 8zm36-8zm18 11zm47 4zm45-15zm8 18zm1-16zm42 6zm29 1zm16 9zm16-18zm7 5zm12 17zm0-15zm13 6zm29 5zm24-9zm12-1zm6-2zm27 3zm53 12zm46-8zm34 8zm46-8zm15-8zm13 11zm2-5zm2-1zm28 12zm2 0zm1 0zm1 0zm30-6zm20 4zm28-18zm59 14zm5-5zm16-11zm-12 46zm-45-15zm-18 11zm-9-5zm-17-6zm-26 11zm-5-8zm-43-5zm-5 3zm-29 7zm-6-1zm-16-4zm-20-3zm-7 7zm-2-14zm-17 21zm-22-9zm-24-3zm-45 14zm-5-10zm-10-2zm-11 6zm-1-8zm-7 11zm-50-20zm-17 1zm-16 8zm-22 6zm-1-6zm-11-4zm-9-2zm-72 17zm-31-16zm-16 17zm-36-12zm-142 21zm125 3zm32-8zm10 12zm1-2zm21-6zm13 15zm8 0zm43 0zm22-9zm8 2zm5-6zm1 7zm9-9zm21 8zm3 6zm23-17zm46 13zm7-7zm5-3zm1 4zm34 9zm1 4zm22-13zm42 8zm21-17zm27 23zm13-23zm14 3zm3 8zm36-9zm18 2zm37 19zm20-11zm37 10zm19-10zm0-1zm35 2zm26 10zm19-17zm45 15zm-41 23zm-22 0zm-42-18zm-65 8zm-4 12zm0-20zm-14 7zm-3 12zm-16-16zm-14 12zm-6-8zm-26-3zm-3 1zm-7 10zm0-3zm-6-2zm-9-4zm-9-2zm-19 0zm-11 5zm-2-2zm-76 0zm-1-7zm-13 20zm-25-14zm-10-8zm-1 12zm-40 11zm-30-10zm-24-3zm-13-4zm-22-5zm-43 21zm-3-1zm-53-12zm-3 4zm-32 29zm64 1zm7 3zm14-11zm18-4zm30 12zm19 4zm18-12zm17 10zm14-15zm10 11zm3-2zm37-2zm1-6zm2 6zm3-12zm4 19zm7-5zm2-4zm11 7zm4-13zm3 11zm41-15zm14 17zm20-10zm7 1zm2 9zm6-9zm3 8zm7 1zm6-18zm13 7zm43 4zm4-6zm5 5zm2-5zm10 10zm0-13zm29 15zm12 0zm32 4zm23-3zm43-13zm70 9zm-28 33zm-36-19zm-2 3zm-10 13zm-86 1zm-1-13zm-11-7zm-8 16zm-2 2zm-13-8zm-5 4zm-6 1zm-27-14zm-8 12zm-39 0zm-3-3zm-6 1zm-5 9zm-2-21zm-6 13zm-7-10zm-5 13zm0-2zm-4-2zm-35 2zm-2 1zm-20-12zm-1 20zm-1-23zm-37 18zm-5-14zm-13 0zm-3 12zm-38-15zm-35 2zm-55 5zm-4 13zm-31-18zm-2-1zm-7 36zm21-14zm59 21zm53-4zm10 6zm15-2zm15-19zm16 6zm62 9zm10 2zm7 4zm17-19zm3 9zm1 5zm58-1zm19-6zm12-9zm4 3zm14 5zm15 9zm2-17zm10 5zm6 1zm4-6zm3-2zm7 0zm55 1zm6 9zm15-2zm21 7zm30-5zm64 13zm7 5zm-122 5zm-4-1zm-31 12zm-13 1zm0-4zm-12-2zm-4 5zm-12-13zm-12-1zm-13-6zm-24 14zm-4-8zm-5 9zm-9 4zm-63-14zm-40 12zm-19-8zm-7-1zm-17 12zm-3-7zm-79-12zm-24 42zm17-18zm20 20zm11-21zm24 9zm10 2zm8-2zm15-5zm11 16zm20 0zm24-8zm29 7zm2-8zm7-11zm82 11zm6 6zm43-2zm12 4zm20-13zm12 8zm81-12zm17 0zm-78 44zm-108-14zm-57 1zm-25 12zm-34-15zm-12 4zm-3-9zm-177 15zm-4-9zm129 22zm26 3zm16 8zm2-12zm39 17zm51-20zm22 16zm39-8zm26-5zm3 8zm31 11zm60-21zm25 28zm-38 11zm-67-13zm-68 19zm-14-21zm-30 21zm-22-10zm-9-6zm-15 5zm-32-6zm-36 17zm-90-4zm93 6zm35 22zm24-11zm16-10zm6 2zm49 1zm38 4zm2 3zm52 5zm19-3zm1 1zm11 5zm22 22zm-9-15zm-8 7zm-16 9zm-2 1zm-9-4zm-16-10zm-46 13zm-6-2zm-9 2zm-13-13zm-6 14zm-20-19zm-5 9zm-15-8zm-38 15zm110 22zm10-3zm1 11zm10-13zm2-9zm1 2zm21 10zm13-5zm22-7zm37 19zm35 2zm65 24zm-40-5zm-22-7zm-7-8zm-15 2zm-24 16zm-18-5zm-8 6zm-24 1zm-30-21zm-46 8zm-12 8zm-12-10zm0 21zm3-2zm33 11zm23-6zm18 1zm14 13zm6-7zm11 9zm46-22zm13 9zm6-2zm89 5zm8 4zm13-8zm-20 16zm-10 2zm-129-3zm-46 10zm-34-7zm-1-1zm-61 21z"/>
<path stroke="#FFF8F7" d="M2413 446zm5 7zm-101 16zm-36 15zm108 9zm292-10zm37 3zm-228 41zm-353 20zm20-11zm34 11zm32 3zm36-1zm25-1zm22 0zm31-10zm48 4zm62-4zm59 9zm434-6zm-226 33zm-46-13zm-131 10zm-42-11zm-73 2zm-153 0zm-45-4zm-9 4zm-14 4zm-31-3zm33 35zm0-8zm8-5zm42-9zm37 17zm2 6zm41-5zm12 3zm20-12zm2 10zm6-8zm167-2zm20-4zm238 4zm296 16zm-504 3zm-4 1zm-90 15zm-64-18zm-32 7zm-38 13zm-15-14zm-3 0zm-19 6zm-17-1zm-4 2zm-13-11zm-1 6zm-10-3zm-1 6zm-29 3zm-1-1zm-37-6zm-10-3zm-1 7zm-31 8zm-51 9zm9 1zm3 6zm78-7zm18 2zm19-7zm11 5zm9 14zm32-19zm3 10zm20-11zm0 0zm31 0zm14 5zm2-5zm5 1zm49 16zm52-16zm66 21zm76-16zm9-1zm21-5zm4 19zm14-13zm58-6zm24 4zm72 11zm3-9zm113 4zm-172 23zm-53 12zm-45 1zm-41-18zm-19 11zm-3-11zm-5 19zm-40-13zm-9 8zm-13-10zm-18 13zm-20-16zm-58 8zm-8 2zm-24-8zm-8-4zm-1 7zm-42 8zm-2-14zm-19 17zm-62-4zm-9 2zm-3-7zm-46-2zm-65 10zm-56-9zm-3 34zm16-3zm5-9zm30 1zm1 5zm23 8zm19-10zm30-1zm1 11zm57-6zm0 3zm16-17zm16 13zm38-4zm33-6zm12 1zm18 6zm22 4zm3-14zm5 20zm2-18zm14 0zm50 10zm11 4zm13 2zm20-15zm18 8zm28 6zm0-18zm8 10zm15-6zm4 17zm21-5zm24 5zm28-22zm24 19zm27-1zm18 4zm88-23zm99 22zm-8 12zm-141-8zm-22 15zm-46 1zm-11-9zm-24 7zm-2 1zm-91-11zm-30 15zm-10-19zm-22 12zm-29-14zm-8 5zm-14 16zm-1 2zm-31-15zm-16 10zm-18-1zm-16-16zm-14 2zm-6 0zm-4 18zm-15-17zm-16 3zm-5-7zm-7 4zm-29 18zm-14-19zm-34 6zm-3 11zm-4 1zm-26-1zm-11-9zm-6-10zm-30 6zm-61-1zm-9 11zm-39-17zm90 34zm35 2zm17-7zm45 15zm9-9zm4 1zm11-4zm0-8zm19 8zm1 10zm14-18zm15 13zm21-2zm3 11zm11-4zm11-15zm17 15zm68-4zm18-11zm20-1zm59 18zm4-4zm28 2zm3-9zm34 14zm6-5zm13-4zm9 6zm18-8zm13 9zm6-12zm25-9zm18 20zm85-18zm31 17zm42 3zm10-7zm22-6zm32 2zm-210 29zm-7-5zm-16 11zm-52-10zm-20 8zm-13-11zm-16 3zm-26-10zm-11 0zm-4 21zm-25-4zm-27-9zm-4-1zm0 4zm-67-8zm-17 5zm-7-2zm-10-6zm-9 18zm-3-13zm-24 9zm-12-2zm-74-4zm-26 13zm-2-5zm-35 0zm-19-18zm-4 3zm-12 9zm-1-12zm-5 3zm3 38zm13-8zm72 1zm22-5zm3 9zm4-4zm13 2zm6-3zm22 11zm7 3zm31-13zm15 10zm16-7zm8 0zm30-11zm19 11zm1-5zm4-7zm20 13zm6 4zm0-8zm29 5zm13 8zm60-11zm7 10zm4-2zm53-18zm6 20zm5-16zm0 5zm5 8zm31-9zm19 3zm11 10zm5-11zm3 3zm7 4zm11-6zm10-13zm9 17zm13 5zm7-14zm127 24zm-22-7zm-59 17zm-32-17zm-7 7zm-94 8zm-46-13zm-3 7zm-18-9zm-12-1zm-58 5zm-15 2zm-4 7zm-35 5zm-1-8zm-12 6zm-3-10zm-4 5zm-38-1zm-24 10zm-10-19zm-22 1zm0 16zm-5-13zm-11-3zm-8 13zm-5 4zm-3-20zm-4 21zm-7-11zm-13 1zm-139 18zm9 4zm155 14zm10-18zm16 8zm22-7zm4 1zm23 15zm22-5zm36-17zm2 16zm10 0zm5 0zm0-13zm20 19zm7-17zm5-5zm6 7zm3 15zm73-15zm64 16zm13-7zm20-11zm4 4zm24 22zm-10 6zm-5 6zm-7-16zm-93 11zm-18 0zm-2 8zm-3-10zm-79 7zm-79 1zm-6-14zm-10 15zm-6-7zm-4-1zm-1-4zm-29 3zm-30-6zm-3-1zm-7 6zm-137-9zm208 26zm14 1zm28 7zm70 11zm16-18zm1 15zm13-1zm51-3zm5 6zm34-3zm7-3zm27-5zm1-6zm85 0zm-43 31zm-28 6zm-10-4zm-31-6zm-18-3zm-3 5zm-27 1zm-6 4zm-63 0zm-1 2zm-5-8zm-2-6zm-3 5zm-32 6zm-89 3zm-49 20zm70-9zm55-1zm30 0zm38 3zm1-5zm28 5zm40-2zm4 16zm8-13zm12-6zm4 17zm2 0zm6-13zm40 10zm2-2zm102-2zm-33 20zm-22 7zm-2-12zm-61 1zm-3 8zm-13-5zm-6 15zm-9-10zm-4-10zm-10-1zm-31 14zm-7-6zm-34 13zm-18-21zm-43 15zm-43-2zm-13-13zm-29 45zm85-6zm5-5zm89 0zm23 0zm46 8zm8 0zm17-12zm27 12zm6-15zm11 20zm0 0zm79-7zm10 25zm-34 0zm-80 0zm-18-13zm-8 1zm-1 17zm-13-14zm-4 2zm-7 6zm-2-6zm-19-5zm-31 9zm-21-12zm-49 2zm-42-2zm115 40zm33-9zm4 1zm21-5zm18-3zm14 14zm8 5zm8-7zm23-4zm4-3zm1 13zm171 1zm-179 11zm-94-6zm-149 141zm-168 28z"/>
<path stroke="#F0F1F5" d="M2323 330zm-35 3zm418 7zm-387 31zm-13-2zm-12 17zm455 21zm-56 11zm-250 13zm-52-8zm-9 6zm-50-1zm-91-6zm-82-6zm110 21zm10 4zm36 13zm44-17zm159 12zm31 0zm61-3zm16 7zm102-15zm43 30zm-5 3zm-124-8zm-6 1zm-30-3zm-45-1zm-55 2zm-41 12zm-65-9zm-16 0zm-47 4zm-86 10zm-37-15zm-87 11zm-8-19zm94 39zm43-7zm27 6zm97 9zm19-3zm14-17zm150 3zm126 11zm26 6zm49-10zm2-12zm97 35zm-26-1zm-30 2zm-35-1zm-75 1zm-11-1zm-15 2zm-5-8zm-10 7zm-17-5zm-11 11zm-11-19zm-118 13zm-14 2zm-14-6zm-36-3zm-19 16zm-29-4zm-11-3zm-7 3zm-4 3zm-17 0zm-40-20zm-34 20zm-40-20zm-27 13zm-24 4zm-12-8zm-23 1zm-8 6zm11 16zm8 0zm37 3zm6-2zm27-10zm18 10zm91-7zm23 8zm5-1zm37-7zm5 10zm13 6zm7 4zm11-9zm13 9zm17-22zm14 17zm57-3zm10-9zm1 4zm32 9zm127-18zm6 14zm61-9zm1 10zm3-7zm1-8zm27 5zm7-4zm113 12zm-2 32zm-27 0zm-42-8zm-74 1zm-22 0zm-32-13zm-17 18zm-46 2zm-118-12zm-5-5zm-29 4zm-17 5zm-11-3zm-12 11zm-22-13zm-48-8zm-5 22zm-5-14zm-45 8zm-87-7zm-6-5zm-9 3zm-4-7zm-24 14zm-5 0zm-3-7zm-31-2zm-10 17zm-6-1zm-14-22zm-3 15zm-3-15zm-27 36zm10 1zm7-5zm4 7zm21-2zm5-9zm7 18zm13-8zm4 4zm13-13zm1 12zm16-15zm11 16zm29-10zm32-7zm37-1zm31 18zm13 3zm20-10zm26-11zm28 19zm5-12zm0 5zm15 4zm0 6zm24-10zm0-1zm50-8zm5 11zm5 8zm71-4zm75-17zm10 18zm3-5zm6-11zm18 12zm32-6zm52 12zm23-14zm1-1zm4 16zm1-5zm85 3zm-19 16zm-57-1zm-7 5zm-12 7zm-30-19zm-9 19zm-3-18zm-16-3zm-16 21zm-3-13zm-11 13zm-14-23zm-15 18zm-6-7zm-24-1zm-4 6zm-49 4zm-23-14zm0 14zm-4-20zm-33 21zm-4-14zm-16-7zm-3 2zm-24 14zm-58-3zm-3 7zm-42-20zm-25 23zm-2-10zm-2 2zm-1 4zm-8-3zm-4-2zm-9-6zm-6 6zm-2-11zm-12 3zm-4-1zm-11 18zm-6-10zm-53-10zm-15-1zm-22 19zm-78-8zm-14 6zm-7 2zm-15-6zm-6-5zm-24 6zm-59 31zm103-16zm4-7zm17 4zm84 7zm20 3zm9-7zm2-1zm18 4zm18 10zm25-14zm29-4zm0 12zm49 9zm18-16zm4 8zm3-6zm23-8zm37 4zm21-1zm7 13zm8 2zm28-16zm0 0zm37 13zm17 7zm33-8zm6 5zm4-7zm2 10zm11-17zm7 10zm14 7zm7-4zm15 2zm7-1zm18-16zm14 14zm22-15zm7 7zm11 6zm7 0zm2-15zm37 6zm9 11zm8-2zm25 6zm1 0zm25-11zm43 35zm-8-21zm-69 18zm-86-2zm-7-4zm-8-6zm-14 1zm-5-1zm-7 16zm-1-14zm-26-7zm-3-1zm-6 0zm-8-1zm0 7zm-18 15zm-7-8zm-27-10zm-6 16zm-4-14zm-45-2zm-2 1zm-76-1zm-10 13zm-20-15zm-80 21zm-4-14zm-30 1zm-25-7zm-201 36zm112-10zm39 18zm72-19zm15-4zm26 12zm61 4zm0-16zm8 10zm3 8zm21-6zm12-12zm20 11zm10-8zm22 0zm10 14zm4 2zm11-14zm5 3zm23 0zm35 3zm9 12zm16-7zm3-5zm10 2zm2 6zm32-8zm11-2zm3-8zm1 8zm45-9zm12 3zm33-1zm15 21zm10 11zm-13 2zm-3-6zm-25 14zm-34-9zm-19-10zm-13 11zm-62-2zm-16 12zm-5-1zm-8 1zm-4-5zm-8-15zm-4 3zm-6 14zm0 2zm0-9zm-39 3zm-45-15zm-10 19zm-8-9zm-6 0zm-27 12zm-3-20zm-16 12zm-6-11zm-6 11zm-20-9zm-66 4zm-30 3zm-116 13zm93 1zm25 9zm4-7zm99 8zm0-8zm30-4zm12 13zm19 7zm36-10zm18-1zm9-7zm25 4zm18 11zm36-5zm11-12zm3 9zm5 2zm41-7zm5 6zm13 6zm21-10zm10 15zm18-15zm2-5zm16 20zm5 2zm1-10zm0-6zm14 13zm17-4zm9 4zm10-1zm29-10zm8 4zm14 4zm15 0zm19-8zm-4 37zm-36-21zm-18 13zm-18-10zm-12-2zm-41 9zm-35 2zm-13-9zm-8 12zm-2 2zm-20-17zm-6 19zm-16-8zm-23 5zm-18-15zm-6 5zm0 11zm-6 4zm-21-8zm-11-2zm-18-11zm-1 15zm-69 4zm-52-16zm-7 10zm-7 6zm-18 3zm-78 12zm1 11zm42-8zm96-6zm23 9zm9-6zm8 4zm26 4zm2-9zm19-3zm12 15zm25-16zm32 13zm9-9zm26 6zm13-12zm5 5zm12 1zm5-6zm47 12zm10-8zm7-6zm1 19zm7-6zm12-12zm16-2zm52 4zm39-4zm7 10zm14 33zm0 3zm-109-5zm-3-8zm-5-4zm-1-2zm-19 14zm-9 2zm-8-11zm-18-3zm-29 6zm-40 8zm-13-11zm-21 13zm-16-2zm-56-17zm-111 3zm-34 6zm-7 11zm-27-16zm-18 12zm-71-8zm200 19zm55-4zm70 11zm2-4zm17 0zm8-3zm21 6zm3-10zm9 13zm44-5zm27 0zm21-9zm27 2zm38 17zm-4 18zm-42 8zm-144-7zm-263-15zm120 37zm41 4zm84-4zm12 1zm15-14zm7 2zm20 9zm7-2zm28-8zm5 22zm26-15zm22 7zm5 3zm12 8zm-19 0zm-12 10zm-65 10zm-65-9zm-57 9zm-34-11zm-9 13zm18 6zm0 16zm48-5zm36-12zm3 1zm10 17zm9-11zm5 7zm26-3zm11 6zm12-18zm13-2zm1 15zm4-11zm17 15zm31-8zm6-13zm144 38zm-177-4zm-15 2zm-5 0zm-17-3zm-47 5zm-58-6zm64 25zm16 9zm6-5zm19 5zm40-12zm88 0zm11-2zm13 27zm-25 13zm-6-7zm-115 8zm-30-4zm-5-7zm-7 9zm-13-3zm-23-4zm25 32zm88-19zm5 22zm6-20zm6 20zm5-10zm12-11zm5 0zm62 2zm42 22zm-24-2zm-179 2zm-41 2z"/>
<path stroke="#FFF2EE" d="M2692 507zm-270 11zm-177-11zm-39 19zm-45-11zm-27 11zm609 2zm161 28zm-199 13zm-333 5zm-26-4zm-1-16zm-70 13zm-55-5zm-25 1zm-10-10zm-8 8zm-5-7zm-32 37zm38-10zm55 7zm243 9zm46-1zm16 0zm10-18zm47 11zm506 20zm-393 3zm-68 8zm-138-4zm-46 5zm-42-2zm-59-1zm-48-9zm-57-1zm-38-3zm-42 4zm-7-4zm-15 6zm130 23zm0 7zm41 0zm36 1zm7 3zm2-2zm44-11zm43 8zm234-16zm11 23zm79 11zm-42 10zm-91 1zm-6-12zm-30 13zm-11-7zm-13-4zm-21 0zm-1 4zm-9 3zm-131-17zm-13-1zm-57 10zm-2-10zm-7 7zm-29 10zm-33 0zm-9-11zm-24 0zm-207-6zm63 27zm5-3zm15 10zm50-9zm1 22zm11-9zm7 2zm42 0zm14 4zm30-8zm5-3zm28 2zm52-11zm1 15zm19-10zm1 1zm2-5zm90 14zm5 7zm3 1zm24-11zm5-9zm84 20zm43-20zm56 10zm172-5zm39 3zm-45 35zm-22-13zm-19 10zm-10-9zm-45 4zm-32 1zm-80 4zm-10-4zm-25-11zm-6 16zm-18-2zm-13-10zm-11 12zm-8-11zm-3-6zm-14 20zm-61-8zm-23-7zm-32-1zm-80 5zm-10 10zm-11-13zm-3 5zm-11-13zm-25 8zm-3 4zm-2-9zm-5 10zm-67 8zm-50-18zm-34 5zm-5 4zm-16-12zm-9 24zm55 3zm14 19zm6-15zm6 14zm2-17zm9 8zm1-1zm8 5zm4-14zm114 17zm31-17zm22 6zm21-6zm27 17zm4 3zm34-13zm5-7zm25 7zm25 2zm1-12zm4 12zm2-5zm36-5zm32 1zm38 19zm20 1zm16-22zm6 13zm100-4zm105 17zm-78 17zm-22-16zm-21 4zm-52 5zm-39 6zm-2 1zm-3-19zm-3 6zm-78 14zm-21-7zm-28-9zm-12 7zm-28 0zm-1 11zm-8-22zm-20 1zm-21 17zm-15-16zm-10 16zm-28-7zm-22 4zm-17-6zm-1-8zm-24 12zm0-5zm-1 7zm-6-5zm-44-4zm-12 11zm-3-14zm-1-1zm-12 4zm-20 9zm-47 4zm9 20zm36-10zm145 4zm21 12zm6-15zm7 9zm5-12zm5 4zm34 0zm42 7zm38-7zm17 11zm64-10zm62 5zm12 6zm29-3zm48-1zm2-16zm123 20zm14-14zm30 16zm43-7zm-57 18zm-27 2zm-20-8zm-132 9zm-4 7zm-17-15zm-7-1zm-39 14zm-32-3zm-8 0zm-6 0zm-13 8zm-10-13zm-10 9zm-34-10zm-21 1zm-14 8zm-3 0zm-4 3zm-5-12zm0-7zm-6 7zm0 10zm-16-13zm-46 5zm-15 7zm-1-5zm-4-8zm-24 17zm-3-13zm-6 7zm-9-2zm-20-10zm-4 4zm-35 16zm-45-2zm-36-11zm-22-10zm22 24zm104 14zm2 3zm12-14zm10 14zm4-14zm13 5zm6 3zm11-9zm5 21zm25-6zm3 4zm9 1zm3-10zm37 9zm8-4zm9-10zm5 4zm5-1zm23-10zm3 18zm67-17zm21 1zm147 18zm117-1zm-72 20zm-68-13zm-41 12zm-26-9zm-4 17zm-12-5zm-4-12zm-15 9zm-136 7zm-15-10zm-27-3zm-5-4zm-11-4zm-1 8zm-7 2zm-5 3zm-13 9zm-13-18zm-3 14zm-6-12zm-1 9zm-2-9zm-48 13zm9 21zm0-12zm72 2zm19-1zm0 11zm5-11zm15 3zm0-5zm10 0zm47 10zm22-2zm8 11zm17-22zm11 3zm5 9zm17-1zm83 4zm4-10zm0-5zm12 7zm0 12zm13-10zm39 14zm7-2zm82 2zm-112 18zm-12-16zm-18 10zm-45 6zm-38 1zm-16 1zm-22-9zm-8 4zm0-11zm-1-2zm-25 22zm-23-18zm-45 9zm-14-1zm-25-8zm-3 16zm-35-16zm-3 35zm32-4zm150 0zm14 2zm20 9zm22-12zm3 12zm1-11zm5-6zm18 8zm8 0zm3 6zm8-11zm10-7zm18 21zm5 21zm-5-12zm-17 12zm-11-19zm-2 0zm-4 6zm-1 6zm-11-11zm-5 6zm-15 6zm-97-3zm-48 25zm62-12zm10 21zm98-13zm7 7zm6-9zm1 9zm6-14zm24 11zm21 6zm1 5zm6-3zm7-13zm10-3zm15 11zm0 15zm-32 16zm-7-18zm-4 17zm-14-1zm-11-3zm-1-2zm-14 0zm-7 8zm-5-23zm-13 2zm-42 14zm-72-8zm-31 20zm34 9zm16-4zm98 0zm22-8zm29 8zm11-5zm109 2zm104 2zm18 1zm-213 29zm-36-11zm-35 19zm-36-17zm-27 8zm21 22zm57-10zm-94 67zm3 1zm3 26zm-74 20z"/>
<path stroke="#E8EAF1" d="M2283 330zm-11 6zm310 1zm37 31zm-307 3zm-7 4zm-142 25zm93-7zm38-5zm222 12zm251 14zm-19 7zm-154-5zm-14 10zm-194-14zm-1 18zm-17-17zm-7-4zm-17 16zm-59-13zm-28 14zm-1-4zm23 33zm1-4zm1-6zm56-8zm23-2zm8 8zm0-1zm39-8zm136 4zm60 17zm33-8zm7-15zm28 10zm21 6zm46-4zm51-11zm36 6zm-48 19zm-55 17zm-43-6zm-13 1zm-10 3zm-9-10zm-4-1zm-33 1zm-9 15zm-18-20zm-163 0zm-14 9zm-5 10zm-2-15zm-5 8zm0-5zm-19 9zm-3-1zm-5-11zm-3 2zm-21 13zm-53-18zm-51 18zm-113-18zm108 43zm37-1zm16-17zm2 4zm67 11zm26-11zm1-2zm9-3zm13 1zm1 10zm31 7zm20-20zm14 17zm39 4zm58-18zm26 13zm42-3zm31 5zm16 3zm3-9zm8-1zm9 4zm58-3zm16-6zm38 7zm0-7zm26 1zm59 10zm9-2zm28 6zm-84 12zm-13 11zm-18-13zm-38 14zm-32-15zm-17 15zm-26-14zm-21-2zm-3 15zm0-21zm-32 20zm-24-6zm-19 9zm-14-14zm-2 8zm-3-8zm-79 7zm-16 0zm-33-16zm-21 18zm-27 4zm-16-21zm-11 20zm-7 1zm0-14zm-14-7zm-8 0zm-13 18zm-4-3zm-7 6zm-55-19zm-8 0zm-32 5zm-9-5zm-12 19zm-60-10zm-10 10zm-10-1zm-6 6zm15 11zm32 7zm29-3zm2-5zm7 1zm37 8zm10-11zm1-4zm13 0zm33 6zm24 7zm64 0zm12-12zm14 2zm12-4zm48 3zm13 13zm42-16zm1 13zm20-13zm6 3zm25 2zm8 12zm14-23zm63 4zm2 11zm34-13zm10 7zm5-3zm0 2zm1 2zm8 5zm1-14zm22 14zm13 3zm9-16zm20 16zm22-10zm29 9zm5-16zm1 11zm26-2zm16 11zm38-1zm12 23zm-16-11zm-10-1zm-17 8zm-12 3zm-8-2zm-9 1zm-29-8zm-14-9zm-46 15zm-6-3zm-3 1zm-21-3zm-27 3zm-28 1zm-1 8zm-3-10zm-8-6zm-1 2zm-11-1zm-1 2zm-1 2zm-12 1zm-38-9zm-1 19zm-8-12zm-9 10zm-7 3zm-2-9zm-29 5zm-22 4zm-4-6zm-34 2zm-17-1zm-15-15zm-15 0zm0 8zm-4 2zm-24 9zm-4 0zm-13-2zm-10-14zm-39 14zm-4-20zm-1 3zm-5 4zm-4 9zm-1-6zm-3-4zm-7 11zm-4-9zm-23 4zm-1 8zm-17-3zm-13-3zm-57-12zm-1 2zm0 7zm-8 6zm-4-5zm-6-3zm-1 10zm-4-17zm-9 18zm-10-7zm-23 6zm-20-1zm-5 22zm12-9zm9 0zm34-5zm0-2zm7 19zm4-2zm23-17zm10 20zm55-20zm10 20zm47-15zm4 5zm10 12zm17-5zm14-13zm7 11zm12-9zm21-6zm8 17zm12-13zm14 2zm30-2zm10 6zm69-2zm13-6zm6 21zm54-17zm12 5zm5-1zm8 7zm2-14zm4 15zm19 5zm6-17zm15 15zm6-13zm16-2zm23-6zm45 17zm4-3zm13 4zm1-14zm27 13zm19-3zm2-3zm1 6zm5 4zm19-6zm1-2zm7-12zm52 10zm-24 14zm-84 14zm-31 3zm0-1zm-10 4zm-7-3zm-3-3zm-1 7zm-9-10zm-5-1zm-5-4zm-4 13zm-1 2zm-47-19zm-3-1zm-34 6zm-7 6zm-16-3zm-5-10zm-2-1zm-7 1zm-9 12zm-36-5zm-23 8zm-3 3zm-9-8zm-29 4zm-20-7zm-24 13zm0-2zm-1-10zm-65 11zm-4 0zm-10-4zm-45 3zm-24-4zm-13-4zm0-3zm-4 3zm-66-7zm-6 18zm-35-4zm-61-10zm-1-4zm-73 20zm67 8zm61-7zm35 9zm6 3zm38 0zm5 5zm47 0zm11 1zm18-15zm49 12zm38 7zm18-16zm95-7zm8 9zm10-1zm20 4zm11-7zm23 2zm8 9zm9-12zm5 15zm2 4zm19-13zm0 11zm7-14zm4 14zm17-8zm2-4zm12-5zm21 17zm10-2zm3-2zm8-10zm10-4zm13 19zm29-4zm0 3zm0-17zm49 10zm26 4zm5-7zm1-2zm4-1zm-47 23zm-31 1zm-29 4zm-20-1zm-2-3zm-11 7zm-2 8zm-4-8zm-12-3zm-21-6zm-3-6zm-6 6zm-10 9zm-14-15zm-7 18zm-43 2zm-10-6zm-44-6zm-6-7zm-35 13zm-1-2zm-7 6zm-121 5zm-24-10zm-49 1zm-3 0zm-46 6zm-274-16zm0 5zm207 21zm4 9zm39-1zm40-1zm48-7zm8 10zm73-8zm86 10zm1-18zm1 6zm10 0zm26 4zm0 9zm20-12zm22-2zm25 8zm23-7zm6 7zm28-1zm18-10zm6 5zm10-6zm18 19zm11-6zm9-1zm21-10zm18 19zm13-12zm22 13zm81-5zm2-4zm3 7zm5 15zm-2 11zm-6-21zm-28-2zm-19 3zm-21 4zm-27 3zm-11 0zm-42 0zm-24 0zm-2 10zm-1-20zm-15 19zm-4-10zm-106-5zm-22 5zm-45-8zm-7 4zm-3 7zm-13-8zm-20 11zm-44 4zm-14-17zm-32 10zm-3-12zm-71 1zm-3 10zm-41 4zm-17-6zm-2-3zm-9 16zm12 25zm158-17zm30 7zm23-3zm35-10zm27 1zm19 15zm16-7zm15 14zm6 0zm14-6zm9 1zm2-8zm8 3zm41-6zm11-2zm9 16zm1-14zm2-6zm16 15zm61 0zm2-2zm6 2zm5 6zm21-9zm10 3zm6-10zm35-3zm15 2zm19 14zm6-17zm1 10zm1-12zm1 35zm-13-3zm-52 6zm-1 0zm-41 9zm-11-21zm-5 0zm-5 3zm-17 11zm-17-9zm-2 9zm-6-10zm-32 11zm-4-6zm-14 11zm-9-2zm-5 3zm-12-9zm-6-2zm-4-6zm-8 1zm-19 3zm-34-10zm-6 1zm-9 12zm-31 2zm-23-3zm-20-4zm-10-3zm-2 9zm-53-6zm-10-3zm-222 17zm120 14zm117 2zm134 9zm26-2zm37 1zm31-12zm10-6zm17 10zm5 6zm3-18zm0 18zm7 2zm12-21zm6 13zm15 2zm30-6zm16 3zm27 4zm3-4zm1-12zm6 5zm17 13zm4 1zm1-11zm7 11zm35-2zm13-14zm1 15zm7-3zm28 4zm-2 24zm-6-17zm-28-3zm-8 17zm-25-2zm0-3zm-20 3zm-10 8zm-51-1zm-1-5zm-19-8zm-8 9zm-36-7zm-5-8zm-35 11zm-3 3zm-51-1zm-27-2zm-19 7zm-4-19zm-63 15zm140 9zm24 1zm4 15zm12-3zm14-15zm19 11zm25 4zm23-13zm83-1zm74 0zm-202 33zm-81 7zm-121 23zm64-9zm15 2zm94-9zm40 3zm10 11zm21-11zm12 19zm125-19zm16 1zm40 31zm-14-3zm-37 10zm-6-6zm-7-12zm-175 22zm-9-16zm-23 15zm-2-10zm-106 6zm-31-16zm41 38zm41 8zm11-4zm14 1zm1-1zm7 1zm9 3zm3-2zm30-19zm11 7zm61 2zm29 4zm23-14zm-21 31zm-3 2zm-4 7zm0-5zm-12 4zm-27-5zm-15-3zm-57 1zm-18-7zm80 36zm33 3zm14 6zm19-21zm23 19zm5-13zm123 3zm-61 27zm-28-14zm-45 22zm-4-8zm-32-6zm-29-3zm-33 0zm-21 23zm40 11zm180-11zm-21 23zm-115-1z"/>
<path stroke="#FEEBE6" d="M2240 497zm160 6zm-235 32zm121 36zm-161 20zm3 5zm45-7zm21 2zm68 8zm15-11zm41 11zm188-10zm99 10zm506 5zm-6-1zm-764 13zm-9-15zm-72 14zm-16-9zm-126 7zm-11 7zm-68 27zm74-9zm1-4zm14-8zm18 3zm112 1zm4-6zm14 7zm55 5zm323 22zm-36 11zm-29-4zm-14-12zm-5 5zm-43 1zm-13 5zm-180-5zm-23 9zm-3-1zm-25-3zm-8 7zm-29-9zm-1-1zm-2-10zm-34 17zm-61-9zm-17 7zm-8-18zm-14 21zm-60-20zm-10-1zm59 44zm14 2zm21 1zm4-17zm5-1zm13-2zm7 11zm61-9zm58 8zm15-2zm16 10zm46-17zm12 8zm7 8zm29-7zm5 9zm23-16zm102 6zm291 6zm131 28zm-168-6zm-224-11zm-25 8zm-13 10zm-22-3zm-38-14zm-19 16zm-30-12zm-8 10zm-8 1zm-1-10zm-38-11zm-20 4zm-23 3zm-16 9zm-2-12zm-1 15zm-4-4zm-9-6zm-13-8zm-41 14zm-11 6zm-8-15zm-18 5zm-8 8zm-2 2zm-13-10zm-23-10zm-9 0zm-3 16zm-12-10zm-11 1zm-2 6zm-24 3zm-2-1zm-6-10zm-8 22zm27 8zm99-3zm3 12zm2-14zm63 3zm4 13zm23-8zm7-9zm15-3zm19 9zm17 4zm12-8zm26 3zm35 11zm8-21zm12 9zm4 2zm1 3zm41-12zm7 10zm10 8zm29-21zm7 16zm11 4zm60-4zm10-3zm15-2zm215 6zm15-9zm-119 20zm-42 9zm-82 3zm-19-6zm-7 10zm-7 1zm-27-13zm-17 8zm-5-10zm-8 17zm-6-11zm-7-6zm-18 8zm-27-7zm-57 15zm-1 1zm-5-5zm-22-5zm0 3zm-29 3zm-59 2zm-2-9zm-6 11zm-4-8zm-14-3zm-10 1zm-9-8zm-9 7zm-15 9zm-81-13zm-64 21zm102-1zm2 19zm30-11zm21 0zm54-3zm34 3zm25 6zm0 5zm1-16zm1 11zm15-14zm6 9zm10-12zm7 11zm3 10zm137-14zm8-5zm8-1zm17-1zm5 14zm23 4zm14-11zm16 4zm1-5zm10-1zm28 4zm22-9zm5 21zm191 19zm-171 5zm-19-2zm-20-6zm-11-8zm-12 8zm-35-10zm-17 19zm-49-5zm-12-7zm-12 0zm-15 11zm-22-5zm-12-11zm-3 14zm-6-5zm-3-14zm-4 3zm-17 19zm-11-4zm0-3zm0 6zm-3-7zm-6 7zm-2-8zm0-2zm0 2zm-2-10zm-13-2zm-3 21zm-5-14zm-19 1zm-32 0zm-4-10zm-30 18zm-17-11zm-98-2zm-67 15zm109 9zm27 10zm24 0zm4-14zm5-1zm24 3zm10 7zm37-7zm4 6zm8-7zm5 21zm4 0zm13-4zm5-3zm2-11zm2 13zm25-13zm13 7zm3 8zm8-18zm3 19zm3-10zm9-10zm1 21zm46-8zm7 1zm22-15zm11 21zm2-9zm65 11zm166-7zm-43 9zm-90 7zm-9 2zm-3 4zm-8-6zm-94-5zm-26 8zm-19 7zm-27 3zm0-3zm-18-14zm-12 18zm-3-9zm-5-4zm0-4zm-7 0zm-5 16zm-1 2zm-5-2zm0-6zm-5-3zm-7-3zm-9 3zm-5-8zm-9 11zm-14-7zm3 23zm4 0zm34 7zm5-14zm1 8zm0 0zm5 9zm8-4zm2-4zm0-2zm8 13zm3-5zm8 5zm1-5zm47-9zm0 8zm48 2zm11 4zm15-1zm0-5zm11 9zm2-9zm9-1zm7 8zm136 16zm-29-2zm-20-5zm-10 16zm-50-11zm-2 2zm-4-9zm-41-3zm-5 17zm-7-2zm-2-13zm-8 8zm-6-7zm-6 2zm-10 6zm-2-12zm-13 20zm-16-13zm-60-2zm-5 14zm-6-10zm-10 13zm-21-19zm-74 19zm-17-19zm-89 35zm176 3zm4-13zm9 17zm8 1zm2-19zm4 0zm8-2zm8 9zm18-4zm11 16zm2-8zm42 2zm7-9zm16 1zm3 5zm23-6zm4-4zm32 6zm1 6zm1 7zm3-4zm42-18zm39 22zm3-1zm61-6zm53-10zm-26 37zm-56-15zm-22 6zm-5-2zm-3 8zm-29-14zm-4 16zm-3-5zm-33 1zm-55-1zm-8-2zm-28-9zm-30 13zm-36 2zm-58-16zm-11 5zm33 24zm91 9zm35 0zm31-6zm14 11zm11-16zm5 15zm17-5zm27-5zm8-3zm26 6zm4 12zm56-23zm19 0zm22 15zm-28 19zm-1-1zm-3 3zm-5-9zm-35 2zm-11 2zm-24 10zm-6-17zm-1 16zm-4 6zm-5-9zm-31 5zm-4-12zm-21 17zm-130-3zm-25 3zm85 16zm22-4zm66 8zm1-3zm2-13zm2 5zm28 0zm6 6zm10 6zm22-7zm2-12zm18 15zm33-8zm17 7zm46 7zm-111 5zm-1-3zm-2 10zm-73 6zm-7-3zm-3-11zm-7 21zm-25-15zm24 32zm8 6zm26-12zm-65 62zm-268 17zm172 22zm-131 19z"/>
<path stroke="#E0E2EC" d="M2609 264zm4 50zm-342 37zm56-1zm1-1zm3 6zm12 4zm245-13zm-52 33zm-236-15zm-5 12zm-5-12zm15 26zm33 6zm3-11zm249 20zm82 2zm144 23zm-2-8zm-86 9zm-10-2zm0-9zm-15-2zm-34 1zm-15 10zm-39-14zm-14-5zm-114 4zm-6 5zm-101 10zm-10-14zm-45 9zm-28-3zm-108-7zm58 24zm5 11zm47 2zm83-2zm2-2zm13-5zm106-9zm35 19zm7-7zm76 9zm6-3zm14-3zm27-10zm27-6zm4 1zm8 12zm4 4zm14 0zm16-3zm33-14zm47 12zm43 18zm-27 14zm-11 2zm-21-1zm-1-18zm-8 17zm-2-16zm-25 2zm-7 9zm-2 1zm-20 3zm-13-13zm-10-4zm-35 6zm-6 12zm-8-10zm-17 6zm-19-5zm-2-2zm-43-3zm-21 17zm-7-18zm-7 7zm-60 7zm-8-11zm-97-7zm-9 0zm-4 21zm-31-16zm-6 0zm-1 7zm-15-3zm0-6zm-54 8zm-33-10zm-8 9zm-37 6zm-1-6zm-30 9zm-21 2zm-8-5zm14 8zm16 14zm27-9zm9 0zm64 3zm90 7zm33-8zm12-7zm23 11zm48 6zm8-17zm22 1zm17 20zm13-6zm86 5zm3 0zm23-1zm9-7zm15-3zm17-10zm19 11zm7 5zm2-7zm7 12zm11 2zm61-5zm4-14zm102 8zm-30 15zm-34 0zm-21 16zm-32-14zm-33 3zm-54-7zm-1 12zm-5-13zm-3 22zm-6-15zm-16-1zm-1 2zm-3-1zm-3-1zm-2 1zm-4-3zm-17 6zm-14 5zm-9-8zm-9 5zm0 8zm-8-5zm-18 7zm-69-4zm-49 1zm-12-15zm-11-2zm-38 8zm-1 1zm-21 4zm-9 7zm-6-17zm-19 15zm-16 0zm-48-20zm-16 1zm-26 2zm-9-1zm-3 10zm-13-4zm-7 2zm-10-5zm-29 0zm-4 36zm21 4zm9-11zm18-3zm44 0zm10 5zm2-11zm107 18zm16-14zm4 17zm9-9zm9-4zm8 5zm15-9zm2 13zm13 3zm37-8zm14 2zm56-1zm8 9zm29-19zm3-3zm49 3zm5 0zm2 19zm20-23zm0 15zm6-9zm5-5zm8 3zm3-2zm12 16zm8-9zm6 6zm3-8zm7 1zm1 13zm4-11zm3 7zm36-5zm9 9zm9-13zm4-5zm16 12zm62 6zm13-2zm47 4zm4-9zm8-7zm18 16zm-32 5zm-36 3zm-10 5zm-1 3zm-4 2zm-8-9zm-6 2zm-28-8zm-6 9zm-15-7zm-16 12zm-32-12zm-5 3zm-25 8zm-4 3zm-6-10zm-13 11zm-6-9zm-12 11zm-6-15zm-5 14zm-11-14zm-40 5zm-3-5zm-5-4zm-5-2zm-23 18zm-1-4zm-8 5zm-21-10zm-42-7zm-22-2zm-76 2zm-9 5zm-27 10zm-2 3zm-2-11zm-7-7zm-1 0zm-5 6zm-16 1zm-32 14zm-2-13zm-2-5zm-78-2zm-62 3zm-6-1zm-11 0zm-7 16zm-32 15zm75 11zm5-10zm6 10zm50-16zm40 12zm23-1zm47-7zm44-6zm17 7zm2 1zm10 1zm12-14zm10 16zm2-1zm15-2zm9-13zm34 6zm20 9zm11 4zm17 1zm3 1zm18-5zm3 4zm45-8zm4-11zm64 8zm5-9zm7 10zm8 4zm13-7zm23 11zm11-14zm9 18zm25-2zm28-10zm1-5zm17 5zm7-6zm8 16zm9-14zm7 11zm8-7zm37 6zm1-2zm6-2zm6 24zm-30-4zm-2 0zm-21 13zm-36-17zm-45 5zm-9 13zm-10-20zm-38 18zm-2-2zm-1-12zm-4 6zm-11 6zm-7-3zm-3-15zm0 10zm-8 3zm-11 8zm-3-14zm-11 16zm-33-12zm-9 4zm-4-7zm-8-1zm-5 3zm-11 11zm-21-16zm-6-3zm-5 14zm-1-6zm-5-8zm-8 3zm-2 4zm-14-1zm-2-1zm-7-2zm-4-2zm-14 7zm-66-2zm-8 0zm-9 10zm-10 0zm-115-13zm-27 11zm-10-2zm-27-10zm-93 12zm-34-2zm173 10zm19 19zm34-5zm91 9zm2-16zm5-6zm47 10zm3-9zm5 9zm65 10zm6-4zm16-5zm0-11zm24 0zm26 15zm7 6zm11-15zm29 15zm1-13zm11 0zm1 0zm10-6zm3-3zm24 23zm7-21zm12 12zm16 4zm2 1zm2-8zm1 12zm11-13zm8-7zm3 2zm6 10zm24 7zm46-10zm8 3zm12-6zm4-8zm3 17zm30 24zm-32-7zm-33-6zm-26-3zm-64 10zm-37-11zm-30 1zm-6 0zm-3 4zm-2 0zm-18 1zm-2-3zm-46 9zm-6-10zm-6-3zm-14 7zm-32-3zm-18 7zm-62-5zm-113 8zm-13-14zm-22 15zm55 31zm17-3zm43-7zm24-10zm4 21zm71-1zm5-15zm33 14zm53-10zm18-9zm4 15zm33-6zm18-2zm4-2zm4-3zm20 13zm20-17zm21 11zm13-2zm2 0zm10 2zm41 6zm6-17zm10 22zm45-3zm25 2zm-31 17zm-36-11zm-29 15zm-3-13zm-3 2zm-31-7zm-40 3zm-7 1zm-33 2zm-4 1zm-17 1zm-24 6zm-8 2zm-3-13zm-3 1zm-2-4zm-19 17zm-2 4zm-59-12zm-19-8zm-15 9zm-316 11zm184 4zm104 19zm15-10zm12 10zm15-7zm64 8zm19-2zm5-12zm18 10zm17 5zm15-21zm15 2zm13 10zm5-4zm4 7zm53-1zm47-15zm4 14zm12 6zm12-19zm6 20zm9-14zm54 14zm2 8zm-24-5zm-28 6zm-30 2zm-18 3zm-10-1zm-2 9zm-12-4zm-13 4zm-41-15zm-22 0zm-3 9zm-2 3zm-23-16zm-39 2zm-101 12zm-26 4zm-11-5zm-61 9zm-72-21zm-12 22zm-59 19zm321-7zm30 1zm59-5zm6 9zm29-7zm19 3zm8-2zm23-6zm3 10zm10-11zm36 14zm2-16zm32 11zm41 6zm17 19zm-2-13zm-55 3zm-31 10zm-2-11zm-17 8zm-46 7zm-51 0zm-13-14zm-76 2zm-92 14zm-238 7zm430 11zm45-13zm142 28zm-1 2zm-1 17zm-15 0zm-24 0zm-43-10zm-100-2zm-73 12zm-21 10zm105 8zm171-3zm13 3zm8 8zm-70 11zm-14-1zm-14 8zm-9-5zm-11 8zm-13-9zm-10-10zm-3 11zm-1-1zm-8-2zm-7-10zm-2 0zm-4 19zm-22-15zm-23-4zm-18 21zm-13-19zm-33 14zm-23 6zm30 4zm67 11zm10-14zm24 9zm29 14zm30-2zm124 14zm-1 9zm-9-6zm-75-11zm-25 3zm-12 11zm-9-8zm-6 6zm-6-12zm-37 4zm-8-1zm-18 4zm-13-1zm-26 4zm-11 10zm-33-16zm-8-1zm-79-3zm120 35zm89-7zm14 11zm24-10zm115 32zm-14 0zm-46-7zm-1 11zm-11-5zm-32-15zm0 3zm-9 1zm-6 17zm-4-21zm-28 0zm-7 18zm-15-13zm-21 5zm-34-2zm27 30zm25 3zm40-10zm69 5zm26-10zm28 9zm8-6z"/>
<path stroke="#FEE5DE" d="M2258 574zm-101 2zm180 4zm410 10zm351 18zm-615 15zm-107-19zm-86 16zm-4-13zm-32 7zm-11 0zm-65-10zm-55 9zm-35 27zm52 7zm244-20zm193 39zm-149-5zm-50 9zm-57-1zm-19-12zm-48-3zm-115 16zm-39-19zm-63 2zm-1 3zm58 29zm37-13zm2 16zm11-8zm12 11zm28-7zm2 3zm26 3zm5 3zm41-6zm28-3zm70 0zm16 9zm10-16zm205 17zm136-21zm73 17zm-163 6zm-98 13zm-63-13zm-5 12zm-21 7zm-14-4zm-9-5zm-30-5zm-19 8zm-6 2zm-35-10zm-8 3zm-13 7zm-6-13zm-51 7zm-36-8zm-6 22zm-14-21zm-2-1zm-10 20zm-3-19zm-65 0zm-12 3zm-10 5zm-2 8zm12 9zm26 6zm36-2zm15-4zm25 2zm19 18zm15-20zm56 11zm1-14zm4 14zm20 5zm45-11zm62 15zm22-10zm1-6zm5 2zm27 10zm161-14zm298-1zm-133 39zm-159-10zm-1-9zm-43 2zm-27 18zm-59-11zm-11 5zm-28-1zm-55 4zm-48 3zm-37 1zm-35-6zm-7 5zm-8-10zm-6 2zm-29 5zm-44-7zm-1-6zm-4 7zm-14-10zm-35 10zm-10-11zm-56 31zm60 11zm9-15zm8 13zm11 4zm26-4zm22 3zm12-14zm13 0zm13 17zm52-14zm20 8zm10 1zm11-13zm1 10zm13 0zm13-8zm26 5zm91-1zm14-4zm1-5zm9 18zm6-7zm20-9zm11 3zm38 4zm119-7zm128 22zm-248 21zm-37-22zm-16 5zm-13 16zm0-19zm-31 6zm-15-7zm-7 7zm-21-8zm-11 9zm-8-5zm-1 10zm-23-6zm-10 5zm0 1zm-15-6zm-30 8zm-16-8zm-1 8zm-16-4zm-18-12zm-23 11zm-32 12zm9 1zm44 19zm6-18zm20 15zm18-10zm8 13zm7-8zm2-9zm27 17zm3-11zm4 8zm0 5zm19-6zm2-14zm3 15zm12-16zm4 22zm10-14zm4 8zm0-14zm6 21zm13-10zm2 6zm2-1zm11-11zm7-5zm0 15zm25-5zm25-5zm112 3zm-95 28zm-83 1zm-7-14zm-2 7zm-20-8zm-19 15zm-1-2zm-8-11zm-3 4zm-5-5zm-2 17zm-7-4zm-20 1zm-15-6zm-18-7zm-36 11zm-86 3zm-26-16zm175 39zm14 4zm23-14zm3 1zm3 15zm11-3zm14 2zm4-15zm3 18zm6-12zm2 12zm1-14zm38-6zm8 2zm4 9zm25 9zm2-13zm1-6zm7-3zm7 21zm21-17zm31 4zm4 12zm16-11zm17-8zm-14 37zm-1-15zm-7 15zm-6 5zm-45 2zm-6-16zm-47 8zm-11-1zm-67 10zm-12-9zm21 20zm9 3zm4-6zm5-3zm60 8zm9 0zm16-5zm2-6zm32 19zm20-8zm4-11zm48 20zm5-14zm4 1zm63 7zm22 2zm30-5zm-61 17zm-32 2zm-21-7zm-28 15zm-18-8zm-6-2zm-26 0zm-32-5zm-30 21zm-9-2zm-92-6zm-17-4zm25 24zm47-4zm45 16zm21-5zm8-4zm12-12zm1 22zm2-15zm18-6zm37 13zm36-8zm2 2zm6 6zm13-9zm20 13zm11-11zm119 19zm-97 0zm-38 20zm-16-4zm-28-16zm-79 19zm-4-9zm-22-4zm-153-4zm-12 8zm-214 34zm301-2zm66-7zm13-7zm38 5zm6 8zm4 0zm43-9zm132 13zm-63 3zm-70 0zm-22 14zm-132-12zm-131 39zm276 3zm1-4zm4-18zm10 19zm30-17zm-31 22zm-4 19zm-84-7zm-9 9zm-184-5zm189 8zm95 16zm-137 14zm-201 5zm15 33zm39-7zm31 4zm122 10zm0 10zm-71 4zm-16 21zm79-9zm12-4z"/>
<path stroke="#D8DBE7" d="M2594 281zm-304 25zm334-5zm-317 18zm-13 8zm-11 1zm-1 13zm7-5zm2 2zm19 14zm2-13zm4 19zm12-1zm16-4zm8 4zm53-11zm83 8zm217 12zm-7 15zm-18-15zm-15 10zm-33 6zm-224 1zm-15-17zm-31 10zm-2 5zm-2 0zm-55-21zm-21 1zm-10 44zm14-15zm12 9zm1 1zm5 3zm46-11zm18 11zm4 0zm9-6zm187-13zm89 13zm24 10zm1 0zm11-20zm31 19zm72-4zm4 16zm-151-10zm-17 19zm-14-14zm-9 4zm-94-5zm-126 13zm-25-1zm-13 1zm-8-12zm-17 11zm0-14zm-8 7zm-27-3zm-3 8zm-5 7zm-1-11zm-124 12zm-12 11zm17-1zm15 0zm70 6zm2-1zm18-10zm18 6zm3 4zm34-1zm15 4zm6-14zm4 9zm38-2zm0 10zm5-5zm96 2zm29-8zm81 5zm5-6zm28 8zm8-2zm9 0zm14-2zm16 6zm0-7zm13-1zm8 8zm10 5zm63-16zm3 17zm21-4zm3-2zm8-12zm1 0zm16 9zm21 3zm74 27zm-41-8zm-11 2zm-73 4zm-2-8zm-11 0zm-7-9zm-21 10zm-20 7zm-10-11zm-10 0zm-14 15zm-5-8zm-6-3zm-14-10zm-20 8zm-5 4zm-8 2zm-6 1zm-2-9zm-11 10zm-39-9zm-11-6zm-6 3zm-37-1zm-4 2zm0 13zm-3-14zm-10-2zm-45 13zm-8 5zm-2-15zm-6 8zm-29 0zm-16 3zm-1-3zm-4-11zm-4-3zm-6 10zm-10 1zm-8-1zm-22 0zm-63-4zm-22 12zm-10-18zm-20 17zm-32-12zm-20 18zm-51-19zm-9 4zm-3 4zm45 20zm25 4zm7-4zm10 12zm5 2zm2 0zm6-20zm1 10zm8 8zm2-12zm10 8zm6 1zm5 2zm5-12zm34 7zm43-6zm2 6zm41-9zm16 8zm7-12zm20 17zm10 5zm46-13zm6-1zm6-5zm34 9zm38-10zm29 10zm16 1zm27-11zm10 6zm3-2zm6 14zm2-14zm1-6zm5 7zm5 0zm4 15zm3-10zm1-11zm5 7zm23 5zm17 7zm2 0zm16-18zm9-3zm8 23zm6-10zm4 0zm1-10zm4 5zm2-3zm14 18zm25-21zm15 18zm5 1zm4-5zm9 1zm10-1zm1-4zm1 8zm19-5zm56 5zm4 21zm-8-16zm-4 9zm-20-7zm-3 16zm-17 3zm-13-2zm-5-5zm-7 7zm-32-22zm-4 22zm-13-3zm-1 1zm-27-9zm-38-8zm-20 2zm-28 13zm-23-13zm-1 7zm0 7zm-3-7zm-3-6zm-2 3zm-1 8zm-2-1zm-13 1zm-3-9zm-12 2zm-7 0zm-24 12zm-1-17zm-7-5zm-7 7zm-2 16zm-44-7zm-4-7zm-22 13zm-34-19zm-1 2zm-23 7zm-1 4zm-9-6zm-12 4zm-10 7zm-7-12zm-32 2zm-25-9zm-78 5zm-44-2zm-32 5zm-2-8zm-20-2zm-6 13zm-7 2zm-8-6zm-3 2zm-23 18zm3 6zm36-10zm18 20zm15-7zm20 2zm2-8zm6-1zm9-2zm102-3zm7 16zm32-17zm2 11zm13 9zm3-3zm4-3zm25-5zm4 5zm8-12zm10 14zm64-7zm22-5zm12 1zm8-3zm35 8zm3 3zm3 4zm8-7zm0 4zm4-10zm25 11zm15-8zm11-1zm5 16zm3-3zm6-16zm4 12zm4-3zm9 1zm33 6zm2-16zm13 16zm6 2zm12-2zm9-18zm4 21zm2-4zm1-19zm2 11zm34 7zm13-17zm14 16zm2-9zm4 2zm3 9zm3-18zm13 13zm22-2zm0-3zm23 7zm3 6zm11 23zm-34-2zm-10-12zm-3 7zm-1-3zm-23 3zm-11 5zm-28-1zm-19-18zm-3 13zm-38 5zm0-17zm-1 11zm-2 0zm-9 3zm-12-15zm-23 10zm-5 4zm-9-1zm-8-4zm-1 5zm-27 6zm-5-9zm-13 6zm-24-9zm-20 7zm-3 6zm-46-2zm-9-6zm-7 5zm-6-6zm-1 3zm-19-1zm-32-1zm-1 4zm-9-16zm-12 1zm-42 10zm-16 6zm-13-5zm-10 2zm-1-5zm-22 10zm-15-16zm-81 17zm-64-16zm-7 4zm-38-9zm45 42zm3-18zm195 3zm10 7zm28-2zm13 12zm1-9zm4 10zm30-10zm79-7zm1 17zm5 0zm18-16zm1 13zm26-1zm14-8zm24-8zm71 7zm14 8zm6-14zm36 13zm34-10zm0-1zm11-4zm17 19zm15-18zm1 14zm9 6zm3-10zm2-5zm9-4zm36 2zm28 43zm0-8zm-19-6zm-4-4zm-22 2zm-9 16zm-4-2zm-3-2zm-8-16zm0-3zm-1 6zm-3 1zm-5 2zm-6-7zm-1 19zm-7-3zm-13-18zm-19 17zm-12-17zm-17 23zm-10-18zm-1 11zm-14-6zm-1-7zm-1 16zm-7-9zm-14 0zm-21-1zm-35 13zm-2-10zm-25-7zm-11 3zm-18 14zm-11-20zm-42 12zm-30 6zm-86-13zm-149-2zm-168 1zm124 37zm23-15zm14-3zm14 10zm129-7zm92-2zm23 15zm33-3zm5-6zm16 2zm2 10zm7-6zm44 4zm27-14zm16 2zm2 12zm12 1zm42-15zm39 16zm24-9zm26-6zm13 9zm4-5zm17-3zm2-2zm11 7zm29-7zm3 13zm7-9zm1-8zm-10 24zm-2 4zm-7 6zm-30-6zm-3 12zm-29-5zm-6 8zm-11-5zm-1-2zm-4 10zm-14-6zm-27-11zm-84 17zm-29-19zm-4-2zm-9 20zm-29-2zm-7-18zm-13 2zm-53 5zm-30-6zm-123-2zm-268 21zm115 7zm329 10zm10-6zm5-5zm67 1zm116-2zm9 6zm28-5zm3 7zm36-5zm29 6zm15-4zm56 13zm-63 10zm-24-6zm-31 11zm-24-8zm-20 7zm-3 10zm-10-6zm-58-11zm-73 6zm-48 8zm-13 1zm-142 3zm-36-1zm254 11zm56-1zm33-1zm9 0zm2 13zm12-15zm5-3zm1 3zm38-2zm9-1zm5 21zm4-3zm31-17zm25 20zm4-17zm1 5zm13 6zm5 8zm-11 5zm-6 12zm-6 3zm-3-9zm-5 2zm-21 3zm-5-7zm-16-2zm-37 2zm-31 11zm-10-13zm-23 1zm-21-3zm-3 7zm-45-4zm-71-7zm72 40zm112-10zm34 16zm30-6zm5 7zm1-21zm29 14zm19-4zm18-2zm20 7zm3-17zm20 27zm-80 1zm-3 6zm-27 9zm-11-12zm-10 0zm-57 16zm-4-14zm-43 0zm-12-5zm-11-3zm82 45zm71-14zm48 8zm-112 20zm-29-11zm-63 1zm51 35zm9 1zm62 6zm44-4zm71-4zm22-11zm5 4zm4 4zm0 7zm0-7zm13 12zm-9 23zm-2-16zm-4-3zm-18 22zm-8-11zm-1 0zm-37-6zm-11 4zm-17-9zm-30 14zm-32-8zm-25 6zm-37-4zm-38 34zm13 1zm54-5zm42-5zm46 11zm4 1zm55-17zm-64 33zm-105 23zm29 6zm115 2zm16-9zm27-7zm42 42zm-4-9zm-1-14zm-19 20zm-33-9zm-3-2zm-18 6zm-1 7zm-4-1zm-7-9zm0 1zm-1 0zm-11-11zm-7 20zm-16-20zm-14 16zm-153-5zm107 13zm103 0zm12 2zm20-4zm21 2zm13-1zm-18 29z"/>
<path stroke="#FEDED5" d="M2280 572zm5 6zm483 14zm337 10zm-5 4zm-1-4zm-1-2zm-716 15zm-156-6zm-119 18zm20-2zm205 7zm15 32zm-300-8zm38 30zm11-8zm36 15zm14-17zm10 8zm7 3zm16-12zm15 13zm40-1zm46-15zm32 4zm46 10zm67 9zm45-4zm93 6zm-31 19zm-103-19zm-14 6zm-111-6zm-18 21zm-35-6zm-76 3zm-9 3zm0-1zm-36-5zm-6-16zm-28 17zm12 10zm2 17zm3-17zm1 12zm5-6zm3-9zm5 2zm1 17zm25-9zm12-1zm6-6zm5 0zm1 8zm26-9zm29 6zm21-7zm42 22zm1-1zm17-1zm104-14zm81-4zm44 9zm18-8zm52 17zm47-21zm16 25zm-71 4zm-59 18zm-13-1zm-12-5zm-22-4zm-42 8zm-49-8zm-8 8zm-16-12zm-2 4zm-24-4zm-17 5zm-2-2zm-25-11zm-12 19zm-15-4zm-16-6zm-4-1zm-27 11zm-11-16zm-11 15zm-33 1zm-4-14zm-7 6zm-8-8zm-42 7zm-45 33zm57 1zm27-21zm29 15zm16-15zm8 5zm23-1zm10 3zm16 7zm5-10zm12 0zm31 11zm15-14zm13 17zm20-14zm1 2zm6 16zm7-13zm47-1zm123-4zm19 8zm92-4zm-27 30zm-80 0zm-13-14zm-27 14zm-36-9zm-8 14zm-2-1zm-29 1zm-3-12zm-2 7zm-2 4zm-25-9zm-23 10zm-12 1zm-1-4zm-4-13zm-4 17zm-5-9zm-26-4zm-50 0zm-24-6zm-29 12zm-14-12zm-10 1zm-39 16zm-26 2zm-49 8zm44 15zm56-16zm6 14zm41-9zm3 3zm43-11zm90 4zm5 6zm12 2zm12 1zm4-3zm9-6zm4 8zm9-2zm16 10zm6-12zm2 3zm5 2zm51-8zm48 3zm26 2zm12-5zm64-5zm109 12zm-71 28zm-28-3zm-15 7zm-95 3zm-14 0zm-54-8zm-2-12zm-16 11zm-1 8zm0 1zm-8-21zm-24 4zm-18-6zm-5 13zm-5 10zm-6-12zm-1-11zm-4 13zm-9 10zm-25-4zm-3-18zm-12 19zm-8-7zm-33-8zm-61-4zm-22 3zm-47 0zm68 34zm17-10zm18-4zm0 4zm58 11zm2-10zm10 16zm9-2zm13-18zm25 20zm2-8zm17 7zm12 2zm0-12zm7 0zm27 6zm3-6zm17-3zm21 16zm14-23zm3 5zm53 2zm10 13zm37-3zm43-14zm77 15zm-87 29zm-11-3zm-48-12zm-40 4zm-12-10zm0 10zm-32 10zm-30-21zm-1 22zm-12-12zm-5-4zm-10 9zm-8-14zm-33 15zm-9 5zm-19-16zm-153 6zm197 35zm9-2zm41 2zm16-17zm18-3zm4-3zm25 9zm1 11zm2-18zm41 13zm35-6zm11 13zm19-10zm47 19zm-27-5zm-8 2zm-39 18zm-7-9zm-5 5zm-1 5zm-26-8zm-5 8zm-1-4zm-8-9zm-21-5zm-35 7zm-53-9zm-43 17zm29 26zm146 1zm31-10zm3-5zm0 6zm13 3zm3-2zm57-15zm55 22zm-47 12zm-16-2zm-11 14zm-4-2zm-38 3zm-36-5zm-57 0zm-12-10zm-11 8zm-7-15zm-14 1zm-34 7zm-29 14zm-12 13zm131-3zm130-2zm104 18zm-100 16zm-13-1zm-48-11zm-16 5zm-3 5zm-26-4zm-21-4zm-2 5zm-72-1zm-128 9zm-174-14zm169 31zm190-3zm47 3zm10-2zm87 3zm1-9zm-335 33zm213 22zm42-10zm-2 28zm-11 15zm-23-11zm-197 10zm-18 24zm57-9zm30 6zm75-10zm73 5zm-47 13zm-51 10zm-71 11zm-5-17zm-81 10zm-8 8zm0 7zm54 3zm20 2zm44 62zm-7 3z"/>
<path stroke="#D1D4E2" d="M2440 251zm198 36zm-324-3zm-14 20zm2-3zm26 2zm287 4zm30-3zm4 8zm-41 18zm-4-10zm-24-7zm-18 12zm-247 7zm-14-4zm-4-11zm-12 16zm-6-1zm12 15zm1 10zm2-2zm1-10zm2 0zm4 6zm10 2zm7-3zm25 3zm13-7zm6 7zm191-10zm40 15zm58 1zm13-8zm6-1zm37 7zm41 22zm-57-19zm-9 16zm-70 0zm-24-7zm-1 3zm-19 9zm-190-8zm-29 5zm-9-5zm-17 8zm-4-11zm-14 5zm-3 3zm-5 0zm-8 2zm-9-16zm-69 29zm23 8zm8-16zm17 21zm55-18zm24 11zm21-13zm2 21zm4-6zm9-3zm15-3zm11-7zm24 4zm18 5zm8-5zm7-2zm37 4zm39-8zm13 10zm69-10zm10 1zm3-2zm9 21zm22 1zm0-22zm9 21zm3-15zm64 4zm61 1zm4 27zm-8 1zm-13-8zm-5 15zm-14-22zm-50 3zm-1 3zm-3 8zm-3 4zm-1-10zm-1 11zm-18-2zm-43-6zm-14 7zm-15-4zm-84-13zm-31 16zm-18 4zm-5-21zm-10 8zm0 7zm-76 3zm-5-8zm-9 3zm0 0zm-14-10zm-3 12zm-12-14zm-8 1zm-79 16zm-9-12zm-53 11zm-27 2zm59 21zm23-1zm11 5zm0-19zm12 10zm66 7zm11-7zm9 3zm13 7zm2-10zm15 2zm6-10zm7 13zm2 6zm8-2zm3-8zm50-9zm21-4zm24 3zm8-3zm58 19zm42-13zm6 9zm7-14zm5 11zm20-3zm15-7zm20 11zm15-4zm2-5zm18 10zm0-1zm7 0zm5-10zm13 18zm10 2zm5-4zm9-9zm0-1zm14 5zm16 0zm6 7zm6-12zm10 6zm18 19zm-3 12zm-6-13zm-19 1zm0-4zm-2 16zm-1-7zm-5-13zm-21 12zm-1 4zm-2-11zm-7 6zm0 0zm-5 4zm-11-5zm-12 6zm-9 5zm-20-6zm-21-2zm-28 6zm-3-21zm-59 12zm-1 7zm-9-4zm-9-3zm-11-8zm-1 1zm-3 14zm-8-2zm-1-10zm-9-2zm-7-3zm-11 0zm-28-1zm-19 16zm-11 2zm-26 0zm0 4zm-14-5zm-1-12zm-18 16zm-30-2zm-25-1zm-85-15zm-11 15zm0-19zm0 14zm-12-8zm-8 8zm-1-6zm-12-6zm-19 15zm-8-6zm-15-5zm-50 5zm-11 2zm-7-9zm43 28zm9-4zm6 2zm6-1zm29-1zm8 8zm6 9zm25-1zm28-1zm80-2zm6 2zm6-13zm23 8zm9 2zm28-14zm37 9zm9-2zm5-2zm1 7zm19-2zm0 9zm4-6zm19 6zm0-7zm5-4zm1-8zm28 15zm0-13zm5 18zm7-8zm3-8zm5-4zm10 21zm41-10zm0-11zm12 18zm3-11zm4 12zm9-12zm10-7zm23-1zm2 11zm7 4zm5 0zm9-3zm14-9zm3 8zm10 6zm23-3zm5-13zm11 8zm16-4zm5 9zm6-10zm3 5zm21-1zm2 9zm18-1zm43-1zm2-7zm34 15zm-8 22zm-9-7zm-10-13zm-12 14zm-7-14zm-9 18zm-27-8zm-6 7zm-5-6zm-3 0zm-34 3zm-1-5zm-11-3zm-2 1zm-2 7zm-24-9zm-3 14zm-16-1zm-23-2zm-19-1zm-13-12zm-4 4zm-3-3zm-5 2zm0 0zm-3-2zm0 3zm-5-2zm-20 16zm-6-1zm-1-21zm-1 8zm-31 3zm-8-8zm-31 15zm-7-10zm-2 1zm-12 3zm-36 3zm-8-3zm-83 6zm-6-14zm-1 1zm-63 11zm-83-10zm-6 4zm-20 9zm-24-18zm-7 20zm-4-20zm-18 13zm-6-14zm-3 16zm-8-7zm-1 9zm-2-13zm-11 12zm0-15zm-4 5zm-15 3zm-5 4zm-3 31zm1-4zm23-1zm29 6zm4-9zm0-12zm36-2zm6 11zm6 5zm62 4zm56-17zm9-3zm22 12zm1-10zm18 10zm17-9zm0 19zm50-3zm54-7zm30 6zm14-2zm69-2zm10-7zm7 5zm3-9zm0 5zm13 15zm18-16zm12 11zm3 0zm0-14zm2 9zm1 1zm5-2zm13-11zm8 21zm9-15zm39-4zm14 5zm34-1zm63 16zm4-5zm16 4zm7-22zm9 7zm21-3zm-27 41zm-22-11zm-4-6zm0 9zm-6 9zm-4-2zm-6 3zm-2-10zm-3-8zm-4 2zm-21 14zm-50-4zm-18-6zm-16-7zm-4 6zm-15-5zm0 6zm-9-2zm-28 7zm-10-9zm0 5zm-28 2zm-109-2zm-5 1zm-27-4zm-50-6zm-38 7zm-43-4zm-9-4zm-10 18zm-49-5zm-110 7zm-9-18zm-7 2zm-12-2zm-1 4zm-28 9zm-5-5zm263 31zm24-7zm41-12zm2 1zm8-1zm89 12zm3 4zm36-13zm13 13zm37 3zm15 0zm4-4zm23-8zm39 10zm13-14zm3 7zm18 5zm35 2zm2-13zm15 5zm4 6zm2-13zm9 5zm3-4zm4 18zm6-21zm28 10zm4-6zm0-2zm6 20zm6-17zm34-2zm-12 22zm-4-1zm-15 7zm-11 0zm-2-2zm-13-5zm-1 21zm-8-9zm-4-7zm-17 6zm-8-3zm-39-8zm-20 20zm-14-4zm-14-9zm-11 7zm-20-9zm-22 13zm-16 2zm-36-18zm-1 14zm-1-13zm-39 11zm-22 8zm-43-11zm-25-11zm-44 6zm-26 7zm-202-12zm-140-1zm289 44zm184-9zm17-1zm6 6zm4-13zm20 5zm11 0zm31 11zm6-6zm17-9zm33-4zm49 12zm30-4zm70 2zm2 8zm19-14zm12 19zm2 17zm-38 0zm-12-15zm-3 13zm-3-7zm-34 6zm-40 2zm-19 4zm-9 2zm-21-18zm-7 6zm-16 9zm-44-16zm-42 18zm-121-2zm-27 25zm44-8zm201-3zm17-6zm14 14zm10-3zm52 7zm56-20zm23 12zm11 2zm19-10zm17 5zm-11 23zm-58 6zm-25-3zm-43 9zm-12-18zm-29 21zm-178-21zm-453 34zm537-8zm82 4zm139 6zm1 0zm24 31zm-16-1zm-44-3zm-10-17zm-8 6zm-60-6zm-4 7zm-28 2zm-48-3zm-9 1zm-163-7zm7 29zm137 4zm21-8zm36 6zm22 4zm151-10zm39 21zm11 0zm-5 20zm-47-12zm-55 12zm-60 4zm-7-3zm-24-8zm-240 18zm241 3zm17-4zm73 6zm131 28zm-10 8zm-4-10zm-203-3zm-48 0zm42 19zm204 0zm1-4zm14 31zm-12 15zm-28-3zm-21-5zm-38-7zm-12 12zm-14-6zm-157 22zm21-2zm61-3zm38 2zm23-6zm43-1zm48 17zm45 3zm6-10zm8 14zm-19 9zm-12 6zm-4 7zm-21-15zm-3 14zm-36-6zm-6-11zm-9 13zm0-2zm-1 2zm-22-6zm-1-9zm-22-1zm-30 11zm-67 0zm101 14zm39 18zm10 0zm7-6zm16-13zm2 10zm37 9zm9-6zm11-8zm1 0zm11 5zm-1 23zm-56 0zm0 12zm-4-9zm-3 4zm-5-8zm-20-3zm-15 1zm-2 14zm-20-16zm32 20zm18 2zm45 16z"/>
<path stroke="#FED8CD" d="M2236 575zm867 24zm-6 6zm-950 23zm540 8zm-307 33zm-43-3zm-180 2zm-21 27zm5-22zm51 14zm41-6zm89-7zm77-2zm23 5zm191 26zm-262 8zm-4-1zm-179 9zm-9-7zm-5 4zm-8 1zm-36-21zm-15 21zm-8 7zm9 3zm22 0zm22-5zm18 18zm13-6zm32 3zm0-6zm8-8zm39 12zm17-7zm315 15zm0 8zm-167 11zm-93-17zm-13 21zm-2 0zm-4 0zm-6-14zm-49 13zm-2-14zm-1-4zm-7 5zm-28 4zm-1-2zm-10-10zm-27 12zm-27 7zm-5-13zm-2-5zm-19 21zm-8 23zm3-20zm16 4zm4 17zm30-3zm16-10zm23 9zm158-7zm2-3zm6-1zm10 6zm16 8zm53-20zm65 11zm107 24zm-9 5zm-3 4zm-79-2zm-17 3zm-45-2zm-6-8zm-13 0zm-23 3zm-1 6zm-2-12zm-16 6zm-5 0zm-15-15zm-2 15zm-13-2zm-12-8zm-11 17zm-72-11zm-7-4zm-5 15zm-20-14zm-17 15zm-4-1zm-8-10zm-17-2zm-48-8zm-20 2zm30 30zm29-8zm22 1zm4 14zm4-3zm16-5zm33 4zm9 8zm5-7zm10-13zm1 3zm22-1zm1 17zm11-8zm1 2zm4-11zm68 3zm4 1zm1 10zm2-16zm0 6zm3 4zm1-4zm11-1zm13 10zm11 3zm8-12zm14 11zm9-8zm54-10zm54 8zm-51 36zm-17-1zm-45-15zm-22 3zm-2-6zm-2 20zm-6-14zm-1-3zm-10-3zm-7 14zm-1-8zm-7 16zm-11-19zm-2-1zm-4 18zm-3-4zm0-6zm-14 3zm-60 0zm-157-6zm-10-2zm63 20zm12 7zm9-7zm52 5zm22 16zm4-19zm4 17zm26-13zm34-8zm15 14zm9 0zm13 4zm4-12zm1 7zm5 3zm2-3zm3 3zm19-9zm3 12zm10-17zm3 11zm60 2zm62 7zm2-11zm20 7zm20-11zm16 11zm-61 24zm-1-11zm-11 0zm-64 8zm-16-15zm-18 18zm-20-8zm-1 13zm-6-16zm-20 16zm-5-15zm-1-8zm-22 6zm-64 8zm-36 5zm-85-4zm-2-13zm-44 28zm15 16zm183-8zm80 5zm6 3zm11-6zm24-9zm74 8zm2-8zm1 9zm12-5zm36 11zm1-22zm37 2zm100 16zm-127 26zm-95 1zm-17-16zm-8 8zm-3-8zm-40-3zm-13 12zm-26-14zm-4 9zm-3 3zm-28 4zm-221-4zm237 28zm24-4zm5 7zm6-5zm3-7zm29-5zm12 15zm9 1zm37 1zm21-2zm49-17zm26 6zm14 1zm48-7zm2 10zm39 19zm-2 11zm-84-9zm-6 3zm-21-3zm-24 10zm-30-13zm-6-3zm-15-1zm-11 18zm-15-2zm-34-15zm-15 2zm-306-3zm241 26zm31 5zm46-1zm18 0zm56 2zm3 11zm6-2zm1-9zm2-5zm41 18zm7-2zm4-13zm19 4zm62-10zm54 8zm32 10zm77 1zm-206 16zm-12-9zm-7 17zm-42-5zm-14-2zm-10 6zm-1-9zm-8 7zm-8-4zm-5-9zm-1 19zm-27-8zm-12-12zm-261 17zm-62-12zm31 26zm113 2zm29-2zm198-7zm15 19zm2-10zm62-9zm2 16zm26-13zm-35 33zm-226-11zm-74 23zm44 16zm13-15zm16-1zm36 17zm184-9zm6-6zm61 13zm-70 12zm-68 15zm-15-18zm-10 13zm-11-15zm-69 15zm-34-4zm-21 10zm-18-7zm-21-6zm-36 27zm16 8zm15-4zm89 2zm61-14zm57 32zm-8-11zm-10 5zm-1 11zm-62-15zm-12-1zm-13 19zm-7-11zm-109 16zm1 4zm57 3zm39-7zm10 2zm64 3zm-48 71zm-3 1z"/>
<path stroke="#C9CDDE" d="M2450 206zm153 54zm-28 20zm-53-7zm-198 18zm118 7zm90 1zm64 4zm54 4zm-5 7zm-55 8zm-4 2zm-41 9zm-201 1zm-20-1zm-8 2zm-4-14zm-3 7zm-28-10zm1 35zm4-11zm2-6zm1 10zm2-9zm4 12zm4-3zm13 0zm16-8zm0 1zm7 13zm10 4zm132-2zm13-6zm22 2zm21 8zm14-11zm2 0zm28 9zm18-2zm20-4zm6-9zm9 0zm61 15zm62 18zm-8 4zm-46-2zm-2-4zm-1 9zm-1-19zm-5 11zm-4 3zm-16-2zm-12-10zm-22 8zm-25-11zm-13 21zm-1-14zm-49 8zm-40-4zm-3 0zm-10-11zm-5 20zm-107-4zm-1 3zm-9-1zm-20-1zm-2-5zm-12 3zm-4-2zm-12 6zm-4-4zm-4 6zm-2 0zm-10-10zm-8-6zm-1 13zm-6-2zm-5 3zm-59 20zm41 3zm17 0zm10-4zm15 0zm3-10zm15 17zm2-3zm44-12zm5-5zm20 9zm8-3zm17 1zm5 9zm10-2zm42-8zm48 4zm46-6zm45 14zm9-10zm2 8zm7 1zm4-15zm3-2zm15 13zm9-5zm26 8zm14-6zm12-1zm39 8zm2-2zm1-15zm39 11zm20 32zm-26-3zm-14-9zm-15 8zm-9 0zm-10-4zm0-9zm-1 6zm-16 3zm-4 5zm-17-15zm-18 13zm-7-7zm-11 0zm-3-7zm0 16zm-13-8zm-27-8zm-17 6zm-4 10zm-57 3zm-8-21zm-1 7zm-1 4zm-5-11zm-12 2zm-17 5zm-21-1zm-14-3zm-37 1zm-31 7zm-14-5zm-5-4zm-2 16zm-4-14zm-1 11zm-10-4zm0 9zm-6-15zm-1 6zm-7 2zm-13-11zm-40 17zm-60-1zm-4-7zm-9 0zm-1 1zm-39-9zm-14 6zm-1-5zm-7 13zm-9-6zm-32 34zm116-15zm29 9zm1 7zm2-10zm0 6zm6-15zm20 5zm7-2zm17-6zm12 1zm6 2zm9 3zm16 14zm0-4zm0-13zm4 9zm8-3zm1 0zm4 9zm9-1zm14-16zm3 5zm52 13zm10-19zm13 5zm1 6zm83-9zm1 11zm17-9zm4 11zm3 0zm3 1zm2-12zm21 3zm7 9zm1-4zm11 5zm45 0zm16 3zm8-20zm2 6zm13 0zm11 16zm6-8zm14-5zm23 13zm2-15zm13-2zm8-3zm0 8zm5 3zm23 6zm3-6zm1-13zm3 18zm1-17zm26 0zm-22 44zm-7-20zm-6 5zm-14 1zm-22-4zm-15 14zm-9-16zm-10 1zm-5 21zm-11-23zm-6 23zm-44-19zm0 11zm-11-15zm-5 12zm-1-3zm-9-5zm-14 17zm-6-8zm-12-5zm-5 13zm-38-2zm-28 2zm-13-8zm-4-13zm-1 1zm-45 2zm-9 11zm-31 3zm-13 1zm-24-5zm-22 0zm-32-1zm-30-7zm-34 9zm-2-13zm-40 15zm-10 0zm-12-4zm-37-6zm-54 5zm-11 0zm-7 2zm-1 4zm-2 4zm11 8zm31 9zm12 8zm16-1zm6-2zm2-18zm10 1zm2 3zm13 15zm42-20zm4 23zm2-13zm7-2zm25-8zm15 13zm27-2zm9-11zm1 19zm9-3zm20-4zm22 4zm37-11zm16 6zm82-9zm11 21zm2-10zm11-6zm8-7zm11 19zm31-15zm15 12zm13 6zm2-17zm14 13zm8-3zm2-5zm0-8zm0 17zm4-5zm1 8zm4-2zm0 0zm2-19zm1 14zm2-12zm3 2zm4 3zm5-7zm3 3zm4 2zm10 7zm1 10zm1-9zm28 8zm14-7zm15-13zm14 13zm10 1zm3-15zm1 12zm2 3zm7 5zm7 1zm7-17zm9 7zm71 4zm14-11zm2-5zm2 5zm3 18zm12 15zm-23 9zm0-5zm-13-4zm-23-14zm-14 20zm-4-7zm-11 1zm-3 1zm-35 2zm-4-13zm-6 10zm-10-11zm-12 18zm-7 1zm-18-21zm-2 21zm-1-7zm-25-15zm-1 17zm-4-3zm-3-12zm-2 5zm-42 1zm-1 7zm-15 5zm-4-18zm0 0zm-21 10zm-1 9zm-4-2zm-43 0zm-12-4zm0-10zm-20-3zm-11 12zm-20 3zm-29 6zm-35-19zm-2 9zm-54-8zm-41 2zm-1 3zm-122-10zm-5 19zm-6-14zm-33-1zm-36-3zm-24 21zm61 19zm22-13zm7-4zm120 18zm10-14zm29-3zm32 13zm69-10zm4 4zm2-5zm1 19zm86 1zm40-14zm11 7zm9 0zm9 6zm10-10zm11-4zm6 2zm23-10zm1 16zm3-11zm1 2zm6 10zm6 1zm25-6zm10-12zm4 3zm36 1zm3 1zm31 16zm29-15zm4 9zm20-10zm12 9zm4-11zm10-3zm21 32zm-3 7zm-16 2zm-13-16zm-5 18zm-80-9zm-35-4zm-3 0zm-38 3zm-26 12zm-6-19zm-2 19zm-81-15zm-36 5zm-93 7zm-69-18zm-2 5zm-4 11zm-4-6zm-30 0zm-6-2zm0 4zm-21 11zm-3-19zm-116-4zm-21 2zm-25 0zm207 26zm88 4zm1 3zm31-2zm12-6zm26 0zm29-1zm3 2zm51 13zm77 0zm9 3zm17-4zm10 5zm29-15zm16 17zm26-10zm14 3zm1 6zm1-18zm5 4zm13-5zm27 10zm9 1zm2-4zm0-10zm0 18zm6 0zm2-10zm7-1zm26 11zm2 5zm20-15zm7 1zm-13 19zm-17 0zm-13 10zm-25-9zm-9 3zm-16 13zm-3-18zm-11 15zm-11-12zm-6 7zm-10-2zm-14 11zm-3 0zm-8-6zm-13-4zm-11 4zm-6-7zm-25 3zm-65 2zm-20 5zm-68 1zm-174 15zm200-3zm31-3zm3 13zm51-17zm10 0zm13 18zm36-2zm16 4zm13-10zm55-4zm26 0zm35 2zm35-1zm-6 33zm-58-15zm-35 7zm-6 3zm-76-5zm-5 8zm-51-8zm-8 6zm-15-4zm-156 19zm146 19zm61-2zm72 0zm34 1zm2 1zm51-2zm4 20zm-25-15zm-11 1zm-7 3zm-3 5zm-47 3zm-74 7zm-82-14zm157 26zm134 3zm-10 12zm-11 11zm-16 2zm-39-9zm-15 5zm-26 7zm-5-14zm-6 3zm-114 7zm-236-11zm236 30zm14 15zm63-12zm182 7zm11 14zm-244 23zm21 4zm48 2zm62-12zm25 4zm91 41zm-255 6zm149 2zm7 16zm30-10zm37 0zm12 11zm26-7zm30 19zm-12-10zm-7 11zm-5-8zm-29 12zm-6-1zm-5-10zm-1 0zm-7 4zm-8 0zm-15-2zm-1 11zm-13-1zm-36-13zm-72 13zm-18 7zm1 4zm53-1zm23 3zm23 9zm12 6zm10-5zm23-7zm81-4zm-20 37zm-5-9zm-7-5zm-2-1zm-3 18zm-25-1zm-7-17zm-15 19zm0-2zm-10-2zm-15-4zm-9-11zm-68 27zm17-4zm13 0zm18 17zm1-3zm21 1zm5 0zm23-4zm12 8zm27-1zm31-2zm6-8zm19 11zm3 3zm-33 20zm-24-5zm-3-7zm0 2zm-7-4zm-15 7zm-40-12zm22 24zm44 0z"/>
<path stroke="#FDD1C5" d="M3108 607zm-1-7zm-237 14zm-408 54zm-222-20zm-57 11zm-143-9zm91 23zm197 9zm124 2zm183 20zm-115 3zm-199 12zm-8-20zm-106 12zm-45-9zm-31 5zm-14 3zm-44 13zm27 7zm12 8zm32-2zm154-1zm292 6zm14-6zm-207 30zm-10-2zm-39 1zm-34-6zm-54 1zm-20-8zm-5 11zm-23-7zm-12-3zm-34 7zm-21 0zm-22 4zm-6-8zm-6-5zm-14 15zm0 19zm5 6zm25-10zm19-12zm28 1zm15 7zm1-5zm7 10zm15-7zm6 12zm88-7zm10-8zm30 10zm54 3zm12-16zm4 23zm7-23zm174 8zm41 7zm-98 30zm-62 0zm-96-16zm-6 6zm-10 0zm-48 11zm-110-14zm-5 13zm-21-9zm-17-11zm-6 0zm-4 11zm-64-1zm27 24zm38-11zm1 8zm31-2zm43 1zm7 11zm17-9zm31-7zm92-1zm8 15zm44 7zm114-22zm5 0zm44 37zm-93-1zm-37-7zm-5 6zm-17 10zm-17-11zm-14 6zm-4-17zm-16 21zm-2 0zm-33-9zm-16-5zm-3-7zm-2 18zm-23 5zm-6-4zm-23-6zm-6-8zm-21 1zm-99 0zm59 21zm62 6zm0 4zm17-12zm15 9zm23 4zm11 4zm15-4zm1-13zm2 14zm23-6zm2 1zm9-1zm18-6zm15 15zm0-3zm6-9zm29 15zm1-19zm5 21zm3-11zm37 4zm35-4zm47-10zm95 11zm-45 19zm-33 0zm-10 11zm-28-10zm-5-9zm-42 0zm-33 0zm-13 2zm-11 4zm-7 2zm-1 6zm-3 1zm-11-7zm0-8zm-20 4zm-9 7zm-11-5zm-32-5zm-9 14zm-17-4zm-1-1zm-19 11zm-15-18zm-10 1zm-40 4zm-52 8zm-14 29zm153-3zm53-17zm6-1zm28 23zm1-2zm14-9zm1-5zm1 16zm3-20zm17-2zm1 13zm10 1zm8-14zm4 16zm26-5zm17 1zm47 0zm47 3zm25-1zm-54 10zm-105 12zm-62-13zm-3 12zm-3-4zm-5 15zm-266 4zm205 20zm29-22zm9 5zm13-5zm83 4zm4 1zm38 7zm0 7zm4 3zm8-17zm25 7zm92 2zm-22 9zm-26 10zm-15-4zm-49 8zm-8-10zm-12 3zm-8 16zm-15-18zm-2-4zm0 15zm-22-13zm-129 2zm-18 17zm-158-5zm196 24zm76 0zm12-2zm8 0zm10 1zm6-11zm13-3zm33-2zm2 17zm12-14zm37 13zm102 20zm-75 1zm-17-7zm-12 10zm-30-9zm-5 4zm-15-4zm-24-4zm-47 7zm-94 6zm-19 7zm-11-11zm-128-6zm79 27zm30 9zm9-6zm44-10zm7 13zm155-3zm8 7zm34-14zm72 14zm6-8zm-39 32zm-52-5zm-51-9zm-33 0zm-97 18zm-32-7zm-41-10zm-20 17zm88 22zm15-6zm9-10zm1 5zm19 9zm9 3zm60-13zm24-2zm1-7zm50 18zm18-2zm11 0zm12-8zm22 5zm16 7zm8-11zm-150 38zm-45-12zm-29-1zm-6-10zm-1 2zm-9 7zm-6 2zm-48 3zm-17-14zm-21 7zm-9 13zm-7-2zm63 11zm4 4zm61 6zm7-9zm204-1zm-109 41zm-12-19zm-56 5zm-15-2zm0 9zm-5-11zm-8-2zm-4 1zm-1 17zm-6-15zm-2 10zm-5-11zm-15 15zm-32-13zm-24-3zm-26 25zm64-4zm0 6zm5-3zm22 8zm3-8zm0 0zm88-3zm3 9zm-70 62zm6 5z"/>
<path stroke="#C1C6D9" d="M2432 205zm63 19zm-11 9zm-142 3zm225 27zm-202 14zm-16-7zm-29-1zm-41 37zm22-12zm13 0zm57 4zm247-1zm16 7zm13-13zm24 15zm11 1zm-24 17zm-1-6zm-3 4zm-4 3zm-7 3zm-2 1zm-3-7zm-22-7zm-33 7zm-1-2zm-30-7zm-116 16zm-13 6zm-3-18zm-99 10zm-7 1zm-9-7zm-4 8zm-18-7zm-13 28zm5-5zm5-6zm7 4zm1 13zm13-16zm3 15zm12-17zm4 1zm12 3zm3-3zm6 4zm11 10zm28-12zm87-3zm5 15zm11 4zm35-2zm9 4zm32-3zm9-8zm3-3zm5 10zm3-17zm8 0zm1 4zm28 14zm16-4zm3-7zm38 13zm10-6zm12-9zm61 37zm-44 2zm-9-2zm-5-9zm-8 11zm-17-8zm-9-3zm-5 0zm-14-9zm-10-1zm-5 14zm-20-3zm-10 11zm-1-5zm-18-18zm-26 4zm-17 12zm-8-7zm-16-3zm-3 12zm-17-17zm-29 4zm-52 6zm-5 9zm-23-18zm-6 20zm-5-15zm-9 3zm-2-7zm-3 20zm-6-13zm-14 10zm-3-4zm-4-7zm-8-3zm-10 10zm-11 0zm0-16zm-15 8zm-4 7zm-4-10zm0 8zm0 7zm-4-1zm-3 4zm-84 21zm44-16zm89 14zm11 4zm0-21zm27 6zm11 11zm3 3zm1-5zm22-5zm14 10zm6-21zm7 4zm45 4zm5 7zm10-10zm5 6zm27-4zm10-6zm3 3zm5 5zm6-4zm7 13zm18-7zm23 12zm11-20zm12 15zm8-7zm9 6zm16-1zm16-6zm2 7zm0 2zm4-13zm3 9zm18-14zm10 15zm0-14zm54 14zm5 3zm20-7zm9 6zm26 14zm-10 1zm-15-6zm0 18zm-8-2zm-30-12zm-3 16zm-22-23zm-5 21zm-8-6zm-14-11zm-4 10zm-2 7zm-38-2zm-3-4zm-10-8zm-10 16zm-6-3zm-1-17zm-5 16zm-7-2zm-35-2zm-10 1zm-15-10zm-27 16zm-14-17zm-5 11zm-2 1zm-11-5zm-22-9zm-14-3zm-50 20zm-12-4zm-4-6zm-4-4zm-2 8zm-9-10zm-5 1zm-2 7zm-7-11zm-6 0zm-18 10zm-23 6zm-57-2zm-16 7zm0-5zm-2 1zm-8 5zm-26-17zm-10 1zm-3 11zm-30-16zm-13 8zm-12 37zm46-4zm36 3zm6 1zm3-23zm5 3zm10 9zm3-12zm3 12zm3 8zm0-15zm7 1zm6 10zm16 6zm6-22zm49 5zm8-3zm34 13zm5 1zm2 0zm10-1zm10 3zm36-6zm33 4zm15-8zm13-8zm11 15zm8-8zm10 7zm13-10zm15 13zm14-13zm1 4zm6 7zm13-6zm12-1zm5 12zm6 2zm87-14zm1 2zm17 8zm2-15zm9 13zm1-14zm2 11zm4 6zm40-1zm12-16zm6 10zm9 2zm2 3zm18 6zm17-19zm26 32zm-25 11zm0-17zm0 1zm-4-7zm-6 11zm-5 11zm-4-15zm-2 1zm-21-3zm-5 15zm-5-18zm-7 12zm-3-12zm-1 16zm-5 4zm-1-2zm-21-11zm-2 12zm-17-6zm-17-12zm-15-3zm-13 1zm-13 17zm-6 4zm-12-2zm-1 2zm-1-9zm-8 6zm-2-3zm-29 7zm-20-19zm-30 5zm-5 8zm-4 5zm-15-11zm-10-11zm0 23zm-47-18zm-2 10zm-15 7zm-12-21zm-14 6zm-8 3zm-16-10zm-3 7zm-32 0zm-16 6zm-29-5zm-27 7zm-21-14zm-30 17zm-18-6zm-10-1zm-2-9zm-4 19zm-12-5zm-4 3zm-64 4zm-19-18zm48 28zm25 0zm17 12zm3 2zm8-13zm45-1zm15 11zm82-15zm25-5zm12 2zm9 13zm6 8zm44-14zm24-7zm31 8zm16-7zm36 14zm13 2zm60 1zm2-18zm7 20zm26-16zm5 13zm9-13zm13 14zm6-4zm5-15zm14 20zm0-18zm11 3zm7-5zm36 11zm25-2zm12-5zm5 0zm5 1zm19 17zm8-15zm15 1zm12-6zm39 0zm5 30zm-33-3zm-4-6zm-19 4zm-21 6zm-35 1zm-15-11zm-3 6zm-8 15zm-21-13zm-7 1zm-1 7zm-4-2zm-4-2zm-12-10zm-14 8zm-16 11zm-8 0zm-9-19zm0 11zm-9-7zm-29 5zm-7 9zm-21-14zm-6 15zm-51-9zm-4 6zm-10-16zm-13 10zm-1-7zm-54 18zm-51-16zm-7 2zm-10-9zm-17 11zm-6-3zm-14 11zm-32-17zm-1-2zm-114 5zm-3 8zm-10-8zm-57 4zm-16-9zm-18 39zm107-13zm84 10zm26-10zm6 1zm48 7zm26 11zm46-8zm190-1zm15-3zm28-9zm1 7zm17 15zm51-21zm5 12zm7-11zm4 1zm4 8zm7 5zm12-10zm21 8zm0-1zm9-1zm1-7zm30 1zm8-2zm8 9zm15-11zm33 8zm6 9zm-3 23zm-8-2zm-10-4zm-3 8zm-5-1zm-21 3zm-22-19zm-27 7zm-2 12zm-24-22zm-43 2zm-7 2zm-11 17zm-2-8zm-23 7zm0-5zm-44 6zm-6-13zm-37 0zm-31 9zm-114-8zm-4-2zm-72 16zm-52-9zm-114 25zm173-12zm80 9zm56-1zm18 11zm110-4zm22-18zm7 6zm51-1zm39 2zm7 11zm2-8zm8-8zm22 17zm13-15zm37 2zm0 14zm17-18zm5 4zm4 11zm13-14zm-33 41zm-23-12zm-14 5zm-2-8zm-41 9zm-60-1zm-23-6zm-213 2zm83 36zm11-3zm145-9zm17-3zm119-5zm1 16zm21 13zm-252 16zm-94-16zm10 35zm73-16zm40 2zm136 12zm19-15zm47 38zm-7-6zm-74-3zm-70 10zm-128-1zm123 22zm131-1zm39-8zm-81 21zm-52 12zm-240 2zm-151 8zm378 21zm6-14zm90 5zm22 2zm7 3zm-520 17zm466 21zm123 37zm-102 8zm43 1zm14 9zm28 11zm16-16zm14 19zm-26 1zm-26 17zm-29-20zm-1 7zm-4 16zm-21-19zm-1 10zm-1 4zm-65-11zm-26 18zm108 6zm17 10zm4-7zm1 11zm12-15zm3 3zm27-7zm13 10zm11 8zm6 0zm5-20zm11 29zm-5 18zm-8-13zm-14 9zm-14-12zm-9-7zm-4 5zm-23 9zm-18-6zm-12 12zm-3-17zm-32 5zm-130 12zm140 6zm30 19zm26-14zm8-3zm14 14zm23-7zm1 8zm4 0zm6-9zm0 6zm-4 22zm-14 3zm-3-7zm-2 1zm-13-3zm-15-2zm-44 1zm-21 0zm-40-7zm150 24zm3 1zm-57 25z"/>
<path stroke="#FDCBBC" d="M2105 680zm230 17zm-73 2zm-17 19zm-60-6zm-15 3zm-19 4zm-7-21zm-8 3zm-31 14zm-23 24zm6-5zm10-2zm1-4zm1-2zm40 11zm44 1zm20-13zm284 16zm254 21zm-468-17zm-12 1zm-24 15zm-29-17zm-1 12zm-23-9zm-16 5zm-3 5zm-13-1zm-16 3zm-13 2zm0 2zm-15-9zm0-5zm-28 11zm-5 29zm16-14zm3 15zm42-19zm8 10zm25-9zm42 13zm1-4zm46 0zm27 1zm91 1zm40-2zm143 19zm-189 6zm-7-2zm-14-12zm-11 20zm-66-1zm-30-16zm-12 16zm-27-14zm-27-3zm-25-1zm-35 7zm-8 11zm-12-13zm-5 28zm56-5zm13 2zm9 2zm14-9zm2 13zm8-5zm2-4zm85 5zm147 3zm35-11zm84 10zm191-3zm-350 27zm-6 12zm-4-12zm-79-4zm-13 3zm-15 12zm-13-18zm-27 8zm-49-10zm-32 9zm101 20zm10-7zm18 12zm70-5zm20 13zm26-10zm6 7zm2 6zm28-18zm5 8zm3 10zm144 15zm-33-12zm-12 14zm-80-7zm-16 13zm-24-14zm-1 9zm-1 1zm-5-2zm-3 0zm-24-15zm-24 17zm-14-8zm-23 6zm-9-2zm-147 26zm27-15zm16 10zm56-5zm132 16zm46-2zm8-5zm126-4zm53-6zm69 33zm-203-7zm-22 9zm-29-13zm-3 13zm-8 5zm-9-4zm-10 4zm-11-10zm-1 10zm-1-21zm-13 11zm-4-7zm-18 8zm-25 0zm-161-1zm-8 1zm-9 14zm24 15zm200 0zm9 5zm10-22zm8 14zm19-14zm11 17zm14-16zm9 11zm4 0zm12 10zm1-9zm35 7zm18-5zm57-13zm44-2zm55 13zm-42 21zm-88 11zm-17-9zm-49 11zm-8-4zm-14-5zm-10 5zm-8-8zm-2 4zm-4 8zm-3-20zm-1 6zm-23 8zm-16 4zm-2-14zm-23-5zm-18-2zm-208 40zm33 0zm26-7zm11 14zm62-1zm6-17zm73 6zm0-3zm34 1zm7-2zm17-7zm0 6zm10 2zm14-1zm19 5zm0-5zm10-4zm86 15zm22-10zm4 19zm-29 18zm-14-1zm-3-1zm-5 0zm-7 2zm-3-20zm-7 1zm-4 3zm-13 0zm-19-3zm-52-2zm-53 6zm-9-1zm-6 14zm-7 0zm-32-8zm-64 10zm-25-16zm-9 5zm-22 22zm51 12zm10-18zm47 5zm0 14zm151-12zm24 1zm4 5zm5 1zm114 30zm-32-7zm-79 4zm-51-8zm-10-8zm-59-1zm-9 14zm-2-6zm-15 5zm-6-8zm-5-4zm-7 16zm-3-15zm-17 16zm-31-4zm4 25zm10-11zm65 16zm7-14zm0 0zm30-3zm93 15zm25-12zm33 11zm3-7zm2-7zm16 1zm11 10zm36-3zm13-6zm7 24zm-36-3zm-16 16zm-4 0zm-59-9zm-78 6zm-67 3zm0-7zm-58 7zm-5 1zm-15-5zm48 10zm20 10zm35 3zm6-12zm66 19zm22-7zm3-2zm1 0zm25-8zm6 16zm6-16zm2 17zm7-21zm7 7zm5-8zm2 16zm0-7zm1 3zm-9 12zm-5 11zm-3-2zm-22-1zm-1 4zm-43-11zm-26 10zm-4-8zm0 4zm-16 11zm-2-2zm-2-14zm-4 17zm-10-2zm-2-17zm-3 12zm-17 5zm-25-1zm-20-16zm-5 16zm0 2zm-6-4zm76 13zm5-2zm5 0zm5 15zm6-14zm41 2zm4 12zm3-16zm3 11zm14-1zm10 0zm11-2zm-80 60z"/>
<path stroke="#B9BFD4" d="M2447 183zm-1 6zm-13-3zm74 39zm-39-7zm-30 7zm-49 9zm-12 5zm-51 19zm22-4zm42-13zm28 20zm126-17zm13 6zm25 4zm1 0zm26 9zm-36 22zm-15-18zm-25 18zm-11-16zm-61 8zm-65 10zm-23-17zm-5 3zm-29 6zm-6 5zm-2-1zm-5-4zm0 4zm-52 26zm19-6zm12-5zm2 8zm53-15zm30 6zm12-7zm153 11zm15 3zm22-2zm18-4zm43 16zm-3 1zm-3 16zm-28-11zm-19 7zm-9-8zm-1 3zm-9 8zm-15 2zm-29-19zm-6 19zm-59-12zm-83-8zm-3 1zm-3 14zm-14-5zm-19-5zm-12 17zm-11-3zm-8 3zm-5-13zm-10 5zm-9 6zm-4-18zm-5 2zm-3 18zm-1-14zm-6-3zm-1 30zm9-3zm2 3zm4-4zm1 2zm13 5zm16-8zm2-6zm1 3zm8 3zm0-6zm3 7zm5 7zm4 1zm6-11zm0 7zm3-7zm31 19zm11-5zm38 2zm14-15zm21-3zm19 13zm14-7zm6 12zm21-4zm23-10zm3 0zm7 9zm11-4zm5-1zm6-8zm5 1zm1 14zm33 1zm1-9zm4 13zm9-20zm4 4zm3 10zm18-16zm19 13zm2 9zm23-12zm47 37zm-18-11zm-42-10zm-27 14zm-2-14zm-17 18zm-1-12zm0 4zm-23 11zm-3-14zm-61 10zm-6-5zm-19-10zm-12 8zm-3-6zm-36-3zm-7 12zm-2-4zm-18-9zm-17 16zm-7-8zm-1 11zm-24-1zm-4 0zm-28-6zm-8 3zm-8-8zm-12-2zm-2 4zm-4-7zm-4 7zm-12 2zm-1 9zm-1-11zm-12-1zm-3 13zm-21-2zm-16-3zm-111 28zm10 1zm6-7zm80 2zm55 4zm12-2zm0-11zm20 4zm13-4zm21-1zm5 10zm8-17zm5 6zm22 6zm11 8zm14-16zm11 6zm17-9zm17 15zm5-8zm15 1zm41-7zm0 16zm51-19zm14 16zm3-9zm15-7zm2 22zm11-9zm10-4zm2 13zm5-6zm14-11zm6-5zm0 11zm34-11zm11 22zm9-22zm7 3zm8 13zm17-6zm43 16zm-2 7zm-3 8zm-22-1zm-5-1zm-24 7zm-1-8zm-1 8zm-4 0zm-18-12zm-3 2zm-10 9zm-5 0zm-14-5zm-1 1zm-22-10zm-11 5zm-7-2zm-14 7zm0-3zm-48-9zm-36-4zm-74 18zm-8-1zm-11-1zm-15-16zm-2 22zm-2-18zm-31-5zm-28 20zm-2-1zm-7-14zm-1 7zm-15-7zm-50 6zm-68 9zm-49-16zm-6 8zm-1-4zm-9 5zm-1-8zm-4 11zm-22-10zm-1-6zm-29 38zm111 9zm6-14zm2 13zm111-4zm8-16zm3 16zm2-13zm5 5zm5-1zm3 5zm8 2zm19 7zm37-14zm73-3zm10-5zm45 8zm1 11zm31-20zm1 18zm7 0zm36 4zm29-3zm6-18zm5-1zm46 2zm10 21zm17-16zm15 3zm8 10zm0-10zm9-2zm12 0zm5 15zm8-9zm15 0zm1-2zm5 8zm31 5zm-38 2zm-11 19zm-4-22zm-2 8zm-43 8zm-18 5zm-23 1zm-15-4zm-8-13zm-14 6zm-19 6zm-36 2zm-4-5zm-13-12zm-32 12zm-17 2zm-1-13zm-26 1zm-17-4zm-25 19zm-31 1zm-56-18zm-41 4zm-65 8zm-38-12zm-53 7zm-33 8zm-1 6zm-6-2zm-39-3zm-5 2zm-3 2zm-8-6zm44 16zm15-7zm22 13zm31 9zm314-5zm40-13zm21 17zm19-22zm14 23zm59-1zm43 0zm8-5zm16 6zm1-7zm4 4zm1 1zm17-20zm11 11zm0 1zm54-1zm29 1zm30-6zm7 26zm-11-2zm-43 5zm-124 9zm-33-5zm-7-10zm-29 2zm-1-1zm-19 4zm-9-3zm-28 11zm-8 0zm-15 0zm-60-1zm-18 3zm-16-14zm-71 16zm-40-1zm-40-21zm-164 6zm391 22zm2 3zm16-1zm8-2zm79 16zm21-5zm10 6zm74-15zm14-2zm11-1zm50-1zm4 17zm17-5zm7-12zm3-3zm16 11zm1 1zm7 5zm41-8zm20 27zm-19 2zm-4-5zm-28-4zm-10 0zm-16-5zm-49 11zm-9 7zm-9-10zm-30 7zm-123-9zm-20 12zm-82 0zm-39-16zm-107 9zm-53 8zm-175-18zm-55 27zm416 18zm52-3zm191-11zm38-8zm7 13zm5-5zm21 5zm9 10zm28-22zm48 18zm-43 11zm-51 8zm-5-14zm-16 23zm-19-20zm-28-2zm-9 16zm-107-13zm-31 7zm-116-10zm-286 36zm438 8zm229 18zm-205 3zm26 6zm1 8zm190 1zm-55 32zm-11 52zm-125-13zm-17-7zm-57 26zm219 11zm10 96zm24-5zm2 11zm15-6zm26-3zm6 9zm1-4zm13 25zm-21-12zm-16 1zm-3 6zm-9-5zm-17 13zm-85 15zm44 7zm2-3zm35-9zm26 14zm24 0zm14-9zm16 1zm-6 20zm-14-3zm-10 8zm-4 7zm-7-18zm-8 19zm-25-1zm-31-14zm-15 2zm-30-1zm45 25zm37 15zm5-16zm14-1zm10 5zm23 9zm1 3zm22 11zm-46-1zm-32-3z"/>
<path stroke="#FDC3B3" d="M3109 600zm-11 3zm-5 0zm-742 33zm-259 31zm200 50zm-156-1zm-64 11zm20 8zm76 4zm30-11zm43-6zm159 20zm-124 21zm-61 4zm-16-9zm-14 1zm-28-2zm-7-8zm-9 14zm-17-14zm-21 9zm-8 6zm-20 13zm58 6zm1 1zm1 3zm63-14zm13 16zm16-21zm167 0zm14 19zm-35 15zm-81-5zm-40 3zm-60-5zm-15-2zm-5 8zm-87 14zm-8-11zm28 23zm9 0zm57 12zm176-13zm151 20zm-56 9zm-93-6zm-19-4zm-197 0zm-28 7zm152 15zm14 12zm7-8zm27 9zm20 7zm28-20zm44 19zm12-4zm36-2zm3-3zm38 8zm89 22zm-9 1zm-5-6zm-109 8zm-25-20zm-89 20zm-20-3zm-23-18zm-8 8zm-18-9zm-1 6zm-7 3zm-18 8zm-26 6zm-5-8zm-12 5zm-9-4zm-13 13zm41 0zm148 6zm40 6zm9-8zm6 14zm1-19zm13 13zm2 3zm31 0zm188 24zm-212-4zm-3-16zm-11 3zm-25 18zm-10-4zm-45-17zm-184 3zm40 29zm149 15zm14-10zm25 6zm15 0zm19 0zm19 1zm38-11zm0-8zm42 7zm17 4zm1-11zm3 5zm33 2zm-37 36zm-16-19zm-10 18zm-17-1zm-10-5zm-14 4zm-18 4zm-12-5zm-4-8zm-30-4zm-48 2zm-16-2zm-178 11zm-14-9zm27 39zm15-11zm130 9zm13 4zm23-6zm25 0zm3-2zm20-8zm13-3zm38 1zm0 4zm4-4zm5 12zm7-3zm10-2zm48-5zm2 5zm7 4zm41-10zm97 37zm-85-3zm-29-2zm-17-6zm-5-5zm-4 3zm-5 8zm-5-10zm-22 2zm-5 3zm-3 4zm-11 10zm-6-21zm-14 20zm-38-19zm-1 5zm-27 10zm-22-14zm-1 5zm-23-7zm-15 11zm-28-1zm0 11zm-4-12zm-109-1zm-9-2zm10 21zm16-2zm1-3zm110 4zm79 5zm19 1zm5 8zm25-5zm43-11zm4-1zm11 11zm19-12zm128 1zm-32 46zm-67-3zm-10-17zm-33 0zm-13-3zm-74 23zm-19-8zm-48 7zm-22-22zm-6 18zm-6-13zm-6 9zm48 14zm55 15zm20-7zm24 6zm3-16zm35 9zm1 9zm18-3zm2-13zm3 18zm3-22zm3 13zm5-10zm17-1zm18 19zm4-9zm15 33zm-2-19zm-8 13zm-8 3zm-7-5zm-23 5zm-25-18zm-12 1zm-46 4zm-20 9zm-3-10zm-22-2zm-23 6zm-35 1zm-44 19zm36-4zm0 22zm11-21zm1 7zm39-5zm14 19zm9-10zm4 11zm29-11zm34-4zm13-3zm0-1zm7 6zm8 11zm60-10zm15 19zm-58-5zm-6 21zm-15-8zm-36 6zm-41-15zm-7 10zm-8-10zm-8 8zm-6-12zm-39 0zm-55 19zm-6 2zm0-5zm0 6zm-2-4zm134 6zm4 0zm53 4zm2-2zm4 3zm5-3zm10-2zm7 9zm-98 61zm3-2zm-1 10zm-3-3z"/>
<path stroke="#B1B7CE" d="M2438 190zm-7-2zm5 6zm3 19zm7-12zm80 25zm-111 3zm-19 4zm-65-3zm3 28zm13 1zm47-1zm16-13zm25 4zm13 13zm107-1zm87 26zm-17-15zm-38 13zm-44 2zm-34-23zm-22 9zm-88 6zm-3-9zm-26 17zm-97 23zm58-5zm3-4zm6-10zm52 2zm7 15zm36-9zm1-10zm134 16zm62-14zm31 20zm-19 23zm-4-5zm-1 0zm-9-5zm-1 2zm-1-14zm-11 3zm-14 11zm-16 5zm-15-13zm-5 2zm-20-8zm-2 5zm-3 7zm-45 7zm-42 2zm-4-9zm-2 1zm-41-5zm-22-5zm-12 3zm-26 10zm-6-11zm-11 5zm-6 12zm-5-11zm-10 1zm0-6zm-6 5zm-6 3zm-7-5zm-4 9zm-7-1zm-4-16zm-2 40zm1-14zm7 9zm3-3zm1-1zm10-6zm22 19zm8-5zm13 1zm102 3zm15 0zm25-1zm6-3zm1 4zm15-3zm1-5zm9-1zm12 7zm1-13zm10 1zm16 11zm3-9zm25 6zm2 6zm2-7zm35 6zm12-16zm14 7zm7 9zm10-9zm16 5zm5-14zm22 7zm-1 30zm-13 8zm-1-1zm-8-2zm-6 1zm-9-19zm-1 12zm-2 9zm-6-17zm-1 6zm-1-3zm-2 0zm-2-2zm-1 0zm-3 16zm-10 0zm-12-13zm-6 2zm-28 10zm-18-9zm-10-8zm-13 5zm-14 0zm-5 14zm-4-10zm-10 2zm-2 8zm-8-10zm-2-11zm-14 1zm-11 9zm-7 6zm-16-11zm-12 6zm-7-2zm-10-8zm-6 9zm-3 9zm-2 1zm-9-16zm-38 6zm-6 11zm-1-20zm-2 0zm-1 20zm-12-15zm-7 12zm-1-10zm-10 10zm-8 1zm-25-10zm-128 30zm90-4zm63 9zm23-21zm7 1zm19 15zm2-1zm9-5zm6-3zm16 11zm11-2zm39 2zm27-9zm10 5zm19 8zm5-20zm27 0zm68 6zm3 6zm20-4zm13-4zm5 9zm9-7zm31-9zm2 12zm3 9zm8-7zm21 8zm12-16zm4 8zm29-13zm18 22zm37 15zm-56 1zm-1-9zm-10 10zm-15 7zm-3-18zm-11 17zm-32-6zm-4 4zm-30-7zm-1-2zm-159 6zm-9 4zm0-10zm-15 5zm-95 5zm-1-9zm-13 4zm-111-1zm-1 1zm-59-11zm-14 12zm-2 1zm-1-16zm-4 14zm-15-13zm-2 2zm-33 30zm17 6zm12-15zm58 2zm6 17zm23-5zm76 5zm25-12zm36 7zm18-7zm4-8zm55 1zm4 3zm52 10zm20-15zm9 7zm12 10zm32-12zm3 13zm78-15zm14 12zm35-4zm7 9zm1 1zm7-17zm9 9zm33 7zm2-2zm31-4zm4 7zm22-6zm89 28zm-115 3zm-8-9zm-4-6zm-2 16zm0-20zm-6 4zm-31 1zm-7-3zm-37-4zm-14 20zm-17-20zm-13 3zm-40 6zm-22 10zm-29-12zm-80 5zm-77 10zm-136-2zm-67-13zm-16-2zm-52-1zm-3-3zm-2 4zm-23-4zm58 38zm33-14zm140 4zm212 1zm6 6zm6 1zm69 0zm30 4zm18-12zm3 1zm4 11zm35 5zm10-17zm11 2zm25 13zm6-5zm23-16zm3 2zm23 15zm75-5zm2-12zm21 17zm-8 24zm-9-11zm-6 5zm-7 5zm-34 7zm-33-13zm-69 8zm-18 3zm-96-14zm-123 7zm-15-10zm-51 12zm-37 2zm-254 12zm202 9zm70-5zm254 9zm15-13zm22 2zm5 10zm17 0zm6 3zm95-19zm59 44zm-18-2zm-32-8zm-17-11zm-78 21zm-28-12zm-87-10zm-162 7zm-288-5zm170 41zm193-19zm78 3zm100 15zm65-15zm28 5zm20 1zm28-5zm4 12zm43 24zm-137-4zm-27 7zm-66-9zm-72 15zm51 7zm230-2zm-256 28zm-279 1zm510 33zm-336 8zm176 37zm152 61zm79 61zm-7 3zm22 22zm3-3zm3 5zm-2 24zm-35-3zm-4-8zm-19-11zm-6 13zm-57 2zm-12-13zm26 26zm7 3zm9-4zm4 15zm10-8zm3-9zm8 13zm23-10zm13-4zm15 8zm36 34zm-27-10zm-39 4zm-2 7zm-86-3zm27 26zm3-3zm21-3zm4-1zm5-3zm1-7zm0-1zm7 1zm8-1zm31 11zm3 0zm50 9zm-83 21zm-56-9zm-74 2zm140 33zm4 1z"/>
<path stroke="#FCBAAA" d="M3092 605zm-909 110zm-92-5zm47 17zm54 12zm0-16zm-20 21zm-61 22zm-34-22zm24 46zm19 1zm2-16zm14-3zm27-3zm38-1zm50 5zm166 8zm-11 18zm-203-2zm-1 10zm-9-13zm-32-1zm-19 0zm-7 16zm-37-10zm-15 15zm-3-7zm-3-9zm58 29zm5-1zm11 13zm3-18zm36 12zm34 0zm127 24zm-35 6zm-20-7zm-61-11zm-16 9zm-4-14zm-68 3zm-17 6zm137 15zm6 15zm7-7zm6 14zm73-8zm38 9zm4-17zm139 15zm133 2zm-112 5zm-71 5zm-72 11zm-106-3zm-2-15zm-6-1zm-20 0zm-16 8zm0-8zm-7 1zm-7 8zm-5-6zm-10 9zm-44 6zm-19 1zm24 26zm17-13zm32-4zm39 2zm8 7zm37-11zm8-1zm18 12zm83 7zm129-5zm-60 29zm-40 2zm-28 0zm-49-13zm0 2zm-13-11zm-36 3zm-2 17zm-22-14zm-17-6zm-23 12zm-81-13zm-2 21zm-32-6zm-2 26zm19-9zm72-1zm102 10zm14 4zm19-14zm8-5zm9 21zm14-18zm42 9zm1 6zm35-7zm40 21zm-9-5zm-35 13zm-37-10zm-10 15zm-23-5zm-8-14zm-11 10zm-12 3zm-39-5zm-12-8zm-9 10zm-74-6zm-31 1zm-4 13zm-8-4zm-15 4zm-9-16zm-3-6zm-24 18zm-2-6zm4 28zm16-9zm8-6zm45 21zm80-19zm49 4zm12 12zm24 1zm15-15zm19 7zm10-8zm6-1zm59 11zm0-13zm45 15zm38-9zm-56 20zm-39 8zm-6 11zm-1-9zm0-6zm-28 3zm-9-8zm-4 11zm-10 5zm-28 5zm-28-23zm-53 13zm-45 3zm-93-13zm-11 16zm-1-3zm9 25zm58-2zm43 8zm39-6zm11-14zm7 16zm19-3zm3-8zm27 12zm2-19zm18 8zm2-9zm24 22zm1-9zm29-3zm26-3zm20-4zm14 9zm12-6zm71 5zm-92 14zm-16 8zm-70 8zm-14-3zm-12-8zm0 6zm-9-10zm-21 1zm0 17zm-25-11zm-77-6zm43 30zm10 11zm18-15zm14-1zm10 4zm9-1zm4 10zm16 2zm10 4zm8-8zm10-4zm28-9zm41 19zm31 0zm0-20zm19 13zm9-5zm28-5zm20 9zm45 1zm-60 25zm-63 6zm-8-15zm-23 2zm-11-4zm-4 2zm-7 13zm-23-2zm-19-7zm-15-9zm-5 7zm-37-5zm-44 25zm79 2zm1 13zm27 4zm1-12zm24 5zm2-5zm42-6zm72-2zm7 11zm-124 17zm-9-2zm0-4zm-4 5zm-2-3zm-2-3zm-21 19zm-10 0zm-3-19zm-88 9zm-2 8zm119 29zm2-12zm37 4zm29 2zm9-13zm11 4zm4-1zm2-1zm11-4zm-104 68zm-5 4z"/>
<path stroke="#A9B0C9" d="M2449 184zm-21 15zm49-1zm57 25zm-13 7zm-25 6zm-12-4zm-25-2zm-23 0zm-22 7zm-29-12zm-17 6zm-8-2zm-22 20zm27-1zm31-6zm14 16zm7-15zm160 9zm23 10zm15 0zm10 6zm-45 6zm-6-7zm-5 5zm-32-6zm-9 15zm-4-11zm-89-2zm-1 18zm-17 1zm-128 14zm12-7zm2 13zm28 3zm29-18zm1 11zm21-4zm2 5zm44-8zm19 11zm28-18zm56 12zm11-13zm8 22zm2 0zm7-11zm23 10zm5-18zm53 9zm22-7zm31 27zm-29 9zm-17-7zm-12-6zm-7-4zm-11 9zm-4 4zm-8-4zm-1 2zm-6-3zm-6-2zm-4 11zm-30 5zm-12-7zm-30-10zm-5 1zm-4 4zm-25 2zm-3-3zm-20-7zm-5 8zm-9-8zm-29 15zm-31-5zm-19-8zm-7-4zm-2 3zm-33 7zm-38-6zm-7 36zm6-11zm1 5zm24-8zm0 1zm8 17zm4-17zm7 14zm1-6zm2-10zm5 5zm7 3zm2-9zm12 0zm1 6zm11-2zm11 4zm27 3zm45-3zm6 13zm19-13zm28 14zm3-3zm3-2zm4-16zm6 14zm30-5zm4-5zm17 5zm9-9zm10-1zm0 10zm21-1zm25-8zm11 17zm3-3zm4-2zm7-11zm58 36zm-70 5zm-14-7zm-1-11zm-8 14zm-61-2zm-11-9zm-1 3zm-6 5zm-14 0zm-12 2zm-9-12zm-1 5zm-1-2zm-2-3zm-7 1zm-3-1zm-9 6zm-8-3zm-3 7zm-19-3zm-4 6zm-19 7zm-16-20zm-2 14zm0 6zm-16-22zm-1 5zm-1-4zm-26 22zm-22-11zm-2 11zm-1-11zm-30 6zm-20-11zm-11 5zm-117 28zm43 1zm20-3zm59-11zm69 13zm3-15zm3 1zm20 4zm6 7zm3-5zm24-3zm6-4zm3 2zm18 18zm3-7zm4 0zm1-7zm15-4zm9 0zm15 4zm21 10zm35-7zm2-9zm51 2zm13 8zm21 2zm12-4zm3-7zm33 7zm8 8zm6-9zm16 13zm9-6zm73 5zm-26 21zm-15-6zm-29-7zm-23 5zm-34 2zm-45-3zm-78 4zm-11-2zm-91-3zm-12 7zm-99-11zm-8 3zm-13 12zm-111-5zm-5-7zm-3 6zm-2-1zm-6-1zm-44 6zm-4 16zm2 5zm1-9zm24-4zm11 5zm54-4zm3 13zm1-10zm13-1zm24 8zm170 12zm88-11zm0-11zm33 9zm39 3zm7-1zm33 0zm42-10zm9 1zm5 7zm19 8zm7-18zm38 16zm38-14zm3 11zm21 10zm10-8zm39 13zm-47 0zm-22 4zm-14-3zm-10 1zm-1 12zm-101-9zm-58 11zm-49-19zm-29 3zm-17 3zm-18 11zm-268 0zm-20-2zm-7 1zm-3-16zm-15 17zm-40-16zm-11 6zm57 35zm32-9zm20 5zm232-5zm78 9zm41-10zm8 12zm62-7zm17 7zm15 2zm10-22zm41 14zm13-7zm15 6zm26-4zm1 8zm17 2zm95 11zm-123-1zm-77 14zm-41-17zm-133 3zm-136 9zm-24 8zm-188-16zm523 19zm25 15zm149-11zm36 39zm-39-6zm-54-5zm-314 8zm108 13zm200 13zm37 1zm7-6zm36-5zm-48 24zm-16 3zm-279-8zm269 66zm-101-13zm-21-6zm-91 20zm194 12zm-227 26zm152 33zm151 4zm-175 18zm158 6zm-221 61zm139 3zm23-13zm169 77zm-12 4zm-21 1zm0 4zm-76-5zm31 24zm3 8zm59-3zm22-15zm-42 32zm-10-13zm-38 0zm-44 25zm33 0zm7 21zm36-13zm4-4zm11-1zm-70 22z"/>
<path stroke="#FCB2A1" d="M3098 599zm-959 62zm15 32zm-33 35zm41 14zm16-9zm-7 30zm-23-2zm-22-4zm-17 19zm60-7zm118 7zm-116 27zm-25 11zm-14-22zm-3 18zm-32-9zm-1 13zm-15-2zm43 6zm1 6zm4 6zm4-8zm3 6zm39-3zm175-1zm-49 25zm-53-6zm-5 6zm-53 13zm-60-11zm-9 10zm100 20zm6-4zm5 1zm9 0zm14 7zm2-12zm64 12zm3 0zm114-21zm16 19zm27-12zm-27 32zm-29 8zm-8 0zm-20-7zm-57 6zm-10-14zm-45 3zm-20-9zm-20 16zm-10-18zm-7 17zm-31-4zm-7 3zm-23 21zm15 5zm16 2zm31-8zm12 9zm21-20zm17 12zm32 8zm10-21zm14 6zm17 12zm6 2zm19-1zm98-19zm45 13zm200 30zm-292-6zm-35-3zm-29 3zm-5-11zm-13 2zm-6 15zm-24-17zm-72 9zm-26-7zm-1 16zm-34 3zm-21-14zm3 22zm14 14zm38-18zm27 5zm103 15zm25-6zm2-1zm37-6zm85 4zm172 21zm-114 2zm-47-1zm-85-2zm-32 10zm-22-8zm-19-9zm-17 17zm-101-8zm-13 2zm-45 28zm69 1zm25-3zm39 5zm19-9zm7 5zm6-9zm8 4zm1-12zm2 4zm27 6zm3-8zm4 19zm27-6zm28 5zm2-3zm15 5zm64-5zm3 1zm17-2zm59-16zm-15 38zm-15-13zm-1 3zm-23 12zm-16 4zm-48-6zm-22 9zm-8-23zm-1 23zm-30-7zm-17-3zm-4-12zm-1 8zm-3 11zm-2-15zm-38-4zm-23 13zm-12-5zm-35 13zm-14-13zm-17-8zm-1 0zm-61 24zm49 2zm81 3zm14 3zm6 8zm3-1zm0 6zm2-5zm3-6zm6-10zm5 14zm19-14zm0 9zm1 12zm24 1zm11-1zm12 1zm10-22zm2 2zm64 20zm10-19zm15 11zm1-15zm15 13zm33 26zm-37 0zm-17-8zm-18 2zm-8 3zm-9-1zm0 1zm-1 4zm-12-4zm-3 4zm-3 1zm-1 2zm-9-17zm-4 0zm-12 7zm-8 3zm-4 11zm-3-1zm-8-1zm-1 1zm-21-12zm-2 2zm-7 1zm-5-2zm-30 2zm-6-3zm-14-3zm-7 13zm-13 3zm-43-19zm40 37zm19 3zm55-1zm12-19zm30 8zm1 12zm19-10zm7-10zm2 3zm2 15zm8-1zm5 5zm3-17zm20 3zm5 8zm60 2zm47-3zm8 10zm-108 15zm-10-16zm-9 3zm-8 14zm-13-14zm-23 20zm-14-23zm-1 14zm-18 8zm-69 4zm0 16zm27-4zm97 8zm20-5zm18-14zm8 11zm28-10zm2 13zm32-12zm-40 37zm-5-7zm-3-1zm-1 5zm-5-4zm-28 2zm-31-3zm-1-3zm-7 15zm-2-2zm-22-10zm-23 10zm117 11zm15-2z"/>
<path stroke="#A1A8C3" d="M2428 188zm-30 26zm22-14zm0 1zm8 0zm6 3zm4-1zm8 7zm6-16zm8 6zm3-4zm16 19zm5-6zm28 18zm-20 7zm-42-9zm-6 12zm-3-11zm-1 10zm-41-15zm-50 5zm7 23zm82-6zm31 16zm11-13zm45 7zm29-2zm1-5zm80 41zm-62-23zm-4 13zm-17 9zm-22-2zm-33-3zm-26 5zm-6-9zm-10-8zm-3-3zm-3 2zm-8 10zm-50 9zm-59-2zm-15-4zm-36 25zm75-17zm12 10zm12 12zm11-15zm4 12zm20-20zm4 11zm0 10zm2-16zm2-3zm16 6zm18-5zm48-2zm13 12zm6-7zm13 13zm10-11zm5-1zm6-2zm11 2zm1 2zm10-4zm44 5zm24-10zm40 25zm-20 12zm0 5zm-30 3zm-6-11zm-31-2zm-27-8zm-5 21zm-28-12zm0 7zm-2-15zm-17 2zm-3 4zm-24 14zm-2-5zm-15-4zm-43 8zm-1 2zm-26-11zm-42-3zm-25 1zm-21 12zm-10-11zm-40 17zm32 8zm26-10zm10 11zm21 10zm12-13zm43-5zm34 0zm22 2zm7 2zm6 8zm4-9zm0 16zm41-9zm9 0zm8-12zm1 13zm0-6zm8-6zm16 10zm41-7zm20 2zm12-8zm2 23zm7-5zm73 4zm37 19zm-36-5zm-18 2zm-22-9zm-7 5zm-21-1zm-6 10zm-1 4zm-46-14zm-22 0zm-18 0zm-12-6zm-7 19zm-5-8zm-72-11zm-2 20zm-6-5zm-2-10zm-1 13zm-33-4zm-4-16zm-4 8zm0 1zm-6 12zm-1-17zm-2 0zm-9 11zm-18 1zm-12-10zm-3 3zm-10-9zm-38 7zm-20 12zm-136 21zm19 1zm10 4zm143-13zm45 3zm92-9zm22-2zm12 21zm11-20zm80 11zm70-11zm7 14zm7-11zm19-3zm77 19zm3-17zm0 16zm20-5zm-47 11zm-38 11zm-60 4zm-20 0zm-75-1zm-23-9zm-63 4zm-31 5zm-211-2zm-14 2zm-33-14zm-2 16zm-14-4zm-14-10zm-6-1zm-10 25zm1 4zm3-3zm55 1zm0 7zm52 5zm88 4zm30-1zm5-16zm133 4zm226 2zm64-2zm81 20zm-30-3zm-20 14zm-57-6zm-21-3zm-125 2zm-48-2zm-50 6zm-3-5zm-61 4zm-92-12zm-221 9zm41 24zm18 3zm206-5zm15-1zm10 14zm101 2zm3-22zm102 2zm27 11zm89-9zm106 15zm70 4zm-19 24zm-87-20zm-93 13zm-567-13zm132 33zm82 0zm259-2zm73-10zm175 12zm21-10zm16 8zm25-8zm-50 31zm-160-7zm-428 1zm627 27zm-61 29zm-1-5zm-71-2zm-31 6zm-9-3zm-26-1zm-140-3zm254 24zm-50 22zm112 237zm5 25zm-23 3zm85 1zm-16 32zm-6-2zm-30 2zm-39 2zm-16-5zm29 16zm89 37zm-44 24z"/>
<path stroke="#FCA998" d="M2118 679zm10 14zm81 12zm-54 10zm-31-14zm19 19zm63 19zm-25 26zm-107-3zm19 13zm47 16zm24-5zm14 2zm224-17zm15 33zm-268-2zm-4 7zm29 24zm127 1zm119-4zm-159 29zm-153-1zm128 15zm7 0zm60 13zm157 24zm-177-1zm-4-14zm-1 6zm-92 13zm10 19zm8-5zm1-14zm108 17zm23-15zm13 2zm85 15zm144 12zm-30 0zm-74 14zm-4-3zm-60 0zm-37-11zm-26 12zm-32-21zm-1 5zm-7 1zm-9-3zm-12 6zm-6-4zm-24-1zm-75 34zm55-14zm37 0zm61 1zm8 13zm52-2zm39 0zm31-1zm124 2zm18-4zm-167 27zm-32-2zm-15 12zm-43-13zm-3-8zm-3 2zm-10 1zm-5 8zm-3 2zm-11 9zm-41-10zm-7-6zm-35 6zm-3-2zm-21 6zm-2 22zm29-9zm81 3zm19 12zm22-8zm47-8zm3-2zm59 6zm7-7zm5 1zm3 18zm9-5zm42-4zm13 29zm-9-4zm-1-1zm-35-11zm-18 1zm-41 21zm-16-13zm-22 12zm-3 1zm-13-3zm-32-4zm-1-4zm-6-7zm-22 0zm-1 3zm-2 7zm-2 1zm-5-9zm-94 15zm-44-11zm31 19zm37 9zm53-10zm16 5zm29-7zm19 17zm20-17zm5 1zm5-1zm4 15zm2-5zm30-5zm1 6zm4-14zm6 13zm11-5zm23 2zm31 12zm14 0zm-1 5zm-60 9zm-4-11zm-3 0zm-5 6zm-23 2zm-61-7zm-24 15zm-3-12zm-8 9zm-22 21zm22 11zm25-7zm32-7zm16 8zm1-7zm3 14zm2-3zm2-15zm8 9zm4-7zm7-2zm18 15zm2-9zm11-2zm1 2zm3-6zm6 18zm8-7zm4-8zm7 0zm10 12zm111 0zm21-20zm16 20zm9-5zm-43 9zm-44 21zm-6-18zm-23 14zm-42 1zm-10-16zm-3-1zm-15 4zm-29 11zm-7-15zm-24 18zm-8 13zm4 1zm18 13zm99-3zm28 1zm1-16zm-101 41zm-120-4zm-1 3zm110 10zm84-1zm3-3zm5 5z"/>
<path stroke="#99A1BE" d="M2431 200zm17 5zm0-6zm1 4zm39 11zm17 1zm44 22zm-16-16zm-4 3zm-13 13zm-65-4zm-8-2zm-39-5zm-14-8zm-55 45zm51-4zm5-1zm5-14zm8 11zm17 2zm82-13zm10 11zm21-13zm11-2zm28 12zm4 0zm28 18zm-6 10zm-8-13zm-10 8zm-3-9zm-9 7zm-28 7zm-129-15zm-2 5zm-1 17zm-26-15zm-14 13zm-59 18zm8-7zm9-4zm34 8zm40 8zm1-18zm0 20zm10-3zm26 0zm6-11zm2 8zm16 1zm29-11zm5 3zm10-2zm43 15zm15-5zm39 5zm7-8zm7 8zm33-14zm11 28zm-32-1zm-4-6zm-2 6zm-8 0zm-20 11zm-12-22zm-19 1zm-18 5zm-13 10zm-5-12zm-14 3zm-23-6zm-21 17zm-4 5zm-23-16zm-11-1zm-6-5zm0 2zm-12-1zm-12 4zm-5 13zm-14-10zm-15 9zm-11-1zm-2-12zm-28-1zm-17 5zm-11 4zm94 20zm8-7zm14 11zm3-4zm6 14zm17-22zm2 14zm0-4zm5 1zm10 10zm40-10zm28-12zm15 11zm34 5zm29-14zm21 8zm28 2zm13 8zm67 16zm-48 11zm-9-12zm-7-4zm-14-1zm-99 3zm-14-6zm-1 8zm-68 8zm-19-19zm-1 8zm-78 14zm-40-20zm-8 13zm-164 27zm140-10zm18 1zm30 8zm11-16zm42 12zm86-13zm26 7zm21 1zm29 6zm92 3zm139 4zm-55 20zm-15 3zm-21-15zm-14 11zm-95 3zm-4-16zm-75 1zm-115 8zm-157-1zm-7 3zm-11-12zm-1 5zm-43 3zm0-7zm-3 3zm-16 0zm-17 11zm26 16zm21-6zm170-1zm43-1zm427 35zm-28-2zm-3-6zm-36 14zm-130-15zm-395 7zm-107 20zm270 13zm524 1zm-45 5zm-29 1zm-173 5zm-44 8zm-379 2zm442 7zm9 4zm117-4zm12 7zm84-2zm42 28zm-485 5zm370 35zm-6 2zm-399 13zm-141 16zm506 10zm34-17zm35 18zm-328 27zm322 21zm19 14zm-17 23zm32 178zm17 22zm5-3zm19-2zm9-8zm-50 78z"/>
<path stroke="#FBA08F" d="M2112 690zm45 43zm407 28zm-461 27zm26-13zm85 13zm223 15zm-298 18zm9-4zm380 33zm-132-9zm-3 12zm-147 4zm19 30zm45-12zm19 10zm6-19zm55 0zm-83 25zm-24 19zm-91-6zm50 15zm11 13zm4-20zm16 23zm7-12zm8 10zm30-14zm79 26zm-58-7zm-38 5zm-8 14zm-15-5zm-9 3zm-27-18zm-24-1zm-25 16zm5 11zm24 15zm42 1zm66-5zm8-14zm5 3zm19 0zm5-3zm9 6zm16 2zm72 2zm218 18zm-32 1zm-209 7zm-1-11zm-49 2zm-27-3zm-12 0zm-57 9zm-5-7zm-58 7zm-2 9zm-11 3zm-58-14zm89 34zm2-7zm11 13zm12-9zm59 7zm6-15zm0 4zm3 4zm9-1zm40-1zm34-1zm3 9zm11-5zm20 1zm49 0zm4 28zm-45 0zm-21-6zm-30-6zm-4 11zm-34-4zm-3 3zm-15 3zm-9-14zm-33-1zm-10 5zm-5 10zm-24 2zm-3-11zm-25 1zm-2 26zm35 6zm1-9zm20 2zm8 4zm3-4zm22-1zm8-12zm9-1zm16 12zm7 11zm15-21zm43 6zm26 12zm15-6zm39 9zm7 11zm-26 8zm-13-4zm-8 4zm-4 0zm-5-1zm-17-9zm-6 9zm-4-3zm-8 3zm-85-10zm-7-4zm-61 8zm20 16zm35 10zm76-2zm11-10zm1 10zm3 10zm16-8zm3-12zm11 20zm26-15zm6 5zm146 2zm-25 11zm-27 13zm-7 10zm-9-9zm-34-6zm-42 13zm-5-4zm-57-2zm-26 4zm28 27zm26-16zm17 3zm8 4zm-105 17zm46 25zm76 2z"/>
<path stroke="#919AB8" d="M2452 190zm-8-2zm-34 13zm18 10zm21-4zm9-15zm99 34zm-29-5zm-30-4zm-7 21zm-5-3zm-3-5zm-9 1zm-19 3zm-7-15zm-17 16zm-10-16zm-41 4zm-7 36zm9 2zm3 0zm5-10zm5-2zm1-6zm5-3zm8 7zm5 0zm7 8zm4-13zm8 17zm21-9zm17-4zm28 17zm5-12zm2-6zm41 15zm6 19zm-17-12zm-24 10zm-5 8zm-11-10zm-20 11zm-24-6zm-1-6zm-22-4zm-11-1zm-43 18zm-3-9zm-11-4zm11 26zm8 11zm16-22zm17 20zm21-10zm57-2zm14 4zm41 3zm11-13zm46 14zm69 26zm-70-6zm-26-4zm-2-1zm-6-1zm-16 13zm-6-16zm-17-1zm-5 18zm-32-6zm-14-14zm-16 6zm-61 0zm-74 10zm-27-15zm123 28zm27-1zm16 9zm7-11zm16 15zm5-5zm7-9zm40 10zm15-6zm11-3zm20 3zm3 0zm2 6zm89 1zm2 1zm15-8zm69 35zm-215 1zm-139-4zm-58-8zm-121 37zm325-12zm9 0zm178 37zm-123 0zm-26-10zm-71-2zm-139-10zm-192 22zm-31-1zm77 22zm540-14zm32 18zm36 11zm-80 3zm-30-8zm-82-5zm-214 5zm-9 5zm-59-8zm-189 9zm207 17zm437-2zm45 13zm51 23zm-4-4zm-159-8zm41 30zm8 5zm13 1zm93-11zm15 7zm-80 29zm-380 0zm-298-11zm738 51zm-306 4zm138 16zm27 26zm150 26zm-48 55zm81 8zm-218 57zm247 83zm-107 39zm65-6zm57 11zm-71 44z"/>
<path stroke="#FB9885" d="M2095 739zm177 20zm-188-12zm43 41zm54 9zm-47 12zm-18 26zm5-13zm122 55zm14 6zm12 4zm173 9zm-19 15zm-134 0zm0 0zm-13-10zm-8-1zm-1 2zm14 26zm5-2zm2 2zm48-13zm16 12zm119 20zm-31-11zm-33 23zm-28-18zm-18 15zm-11-7zm-28-3zm-20 13zm-51-5zm-4-8zm-69 30zm41-1zm9-13zm6 4zm9 10zm6-5zm18-2zm39 11zm17-18zm5 21zm32-6zm8 1zm6 0zm55 8zm-58 21zm-3-6zm-1-11zm-6 8zm-4-11zm-25 16zm-46-2zm-16 3zm-10 8zm29-3zm43 20zm25-20zm99 8zm162 25zm-36 0zm-77-9zm-51 8zm-3 1zm-14 11zm-33-13zm-19 4zm-33 9zm-11 2zm-16-2zm-3-19zm-20 20zm-113-16zm83 25zm16 14zm15-9zm12-4zm2 7zm5-7zm5 3zm32 4zm47 0zm11 6zm13-5zm20-5zm12 1zm53-9zm53 35zm-45 3zm-96-1zm-6 3zm-43-4zm-6 20zm10 2zm14-11zm16 11zm141-1zm-20 21zm-87 4zm-20 3zm-2-5zm-76-1zm9 34zm85-18zm19 17zm74-10zm-86 35zm-36-18zm-8 18zm-26-17zm-8 4zm-24 8z"/>
<path stroke="#8992B2" d="M2402 209zm10-5zm16-11zm2-1zm10 10zm120 35zm-53-18zm-15 19zm-6-19zm-5 7zm-4 13zm-74-10zm-24-2zm-22 32zm20-15zm10 7zm12 12zm6-14zm6 4zm4-8zm10 16zm24-4zm3 5zm20-13zm14-6zm46 10zm7-12zm13 14zm33 20zm-58-8zm-25 6zm-3 14zm-3-12zm-9 8zm-9 4zm-30-23zm-5 2zm-13 13zm-10 5zm-41-6zm-17-8zm27 19zm34 14zm19 0zm18 6zm16-13zm39-1zm24-1zm53 10zm14 17zm-75-9zm-19 16zm-42 3zm-11-10zm-33 0zm-137 6zm43 17zm137 8zm8-8zm8-8zm31 9zm1-8zm8 1zm5 16zm40-18zm66 10zm54 4zm19-4zm-196 35zm-6-19zm-27 8zm-125 13zm-36-14zm-4 23zm21-5zm224-3zm8 5zm34 2zm96 16zm118 7zm-363 1zm-274 13zm111 19zm60 7zm290-22zm-59 28zm-227 4zm-231-5zm14 24zm77 19zm472-15zm16 0zm10-1zm16 3zm54 22zm-3-2zm-29 14zm-498-12zm-47-3zm140 41zm286-8zm118-6zm5 6zm133 31zm-10 120zm25 219zm7 9zm97 32zm-23 27zm-87 7zm-18-1z"/>
<path stroke="#FB8F7C" d="M2206 758zm268 56zm-206 9zm-21 53zm17-7zm17 28zm-8 11zm-103 9zm158 8zm58 29zm-45 5zm-17-6zm-9-1zm-13 1zm-7-12zm-44 1zm-50 27zm96 3zm40 0zm24 3zm45 7zm124 24zm-7-5zm-154 1zm-12-4zm-5 6zm-1-16zm-9 11zm-1 3zm-1-1zm-5 1zm0 3zm-3-19zm-25 0zm-28 11zm-36 4zm-39 29zm22-10zm16-6zm7-5zm40 12zm38-13zm9 0zm13 6zm7-5zm12-1zm10 18zm186 24zm-4 5zm-81-22zm-22 8zm-10 11zm-103-19zm-21 1zm-28 3zm-100 12zm-4 9zm65 1zm27 12zm3-1zm92 0zm88-4zm17-10zm4 22zm38-18zm1 41zm-6-19zm-62 18zm-16-7zm-55 0zm-79-2zm-4 12zm110 13zm41 4zm14 5zm12-9zm22-12zm92 22zm-116 19zm-18 5zm-48-20zm-69 3zm84 34zm78 3zm-89 19zm-85 14z"/>
<path stroke="#818BAD" d="M2459 187zm-43 19zm79 8zm1-4zm28 26zm-106-18zm-88 42zm64-13zm11 6zm22 7zm13-6zm13-6zm56 4zm41-11zm16 1zm19 32zm-45-5zm-29 12zm-48-16zm-21 22zm-27-8zm-11-13zm-2 13zm2 18zm19 5zm5-5zm13-1zm4 5zm22 8zm3-5zm2 5zm22-8zm21 8zm15-7zm91 29zm-93-17zm-37 14zm-5 4zm-30-19zm-29 9zm-109-3zm-24 9zm-1-5zm-5-2zm106 15zm71 5zm8 7zm97 2zm47 33zm-9-20zm-49 16zm-8 4zm-1-17zm-44 11zm-43-14zm-88 4zm-72 6zm60 12zm103 7zm68 2zm268 10zm-41 6zm-341 21zm-163-1zm559 21zm-99 15zm-331 14zm406 2zm-619 42zm516 26zm241-3zm1-12zm-73 35zm-94 16zm-185 140zm351 231zm-33 20zm52 0z"/>
<path stroke="#FA8673" d="M2140 765zm251 113zm-200 16zm-2 40zm78 1zm7-19zm91 18zm52-4zm-110 25zm-76-10zm-8 13zm-34-15zm52 36zm8 0zm10 4zm7-1zm22-4zm35-9zm33-7zm204 15zm-206 24zm-25-13zm-2 3zm-7-4zm-10 2zm-22 16zm-14-3zm36 12zm21 2zm5 4zm5-4zm41 6zm78 4zm18 23zm-135-5zm-8-4zm-29-7zm-5 7zm-11 1zm5 18zm240 15zm16-4zm-126 48zm5 8zm41-15zm10 9zm1 2zm25 18zm-77 6zm-54-13zm-47 30zm42-7zm71-1zm108 2zm-103 118z"/>
<path stroke="#7984A7" d="M2450 187zm-52 27zm16-14zm79 10zm2 8zm-126 8zm-3 3zm185 52zm-30-17zm-1 10zm-24-9zm-41 6zm-13-5zm-81 18zm73 8zm18 11zm180 20zm-168-10zm-37 5zm-87 6zm180 32zm98-15zm26 25zm-32 13zm-126-6zm-4-12zm-154 2zm-32 43zm81-9zm218 6zm60-19zm-169 29zm-91 8zm-237-2zm411 24zm19-10zm235 8zm-427 18zm376 29zm-91 29zm-76 6zm355 49zm-69-4zm-183 27zm205-12zm24 77zm12 292z"/>
<path stroke="#F97E6B" d="M2096 729zm36 19zm-56 58zm38 10zm174 67zm19 9zm-36 27zm10 6zm-44 46zm0-10zm99 15zm94-14zm249 37zm-362-8zm-61 4zm-36 16zm60 7zm81-2zm86 13zm14 0zm57 4zm-146 8zm67 30zm94 16zm-65 4zm-47 5zm153 15zm79 19zm-252 34zm187-3z"/>
<path stroke="#717DA2" d="M2433 193zm2 8zm37 23zm-22-8zm-3 2zm-3 44zm63 13zm-174 26zm57-3zm81 6zm15 52zm4-10zm3-1zm-3 23zm-3 24zm16 9zm145-14zm60 20zm-49 6zm-182 16zm-330-5zm-25 22zm29 8zm307-7zm144 8zm229 14zm-190-11zm-16 7zm39 21zm47 10zm225-5z"/>
<path stroke="#F87563" d="M2338 858zm-59 27zm126 12zm-180-1zm-39 19zm70 8zm141 8zm-57 19zm-158 6zm131 5zm9 7zm0-1zm94-1zm59 15zm-95 43zm84-10zm18-2zm196 15zm-168 10zm-261-4zm-54 11zm102 30zm155 2zm66-16zm-93 30zm36 42zm-36 28z"/>
<path stroke="#68769C" d="M2478 242zm60 37zm-82 4zm-19-19zm-127 46zm96-14zm195 34zm-47-13zm-38-2zm-210 36zm198-3zm169 13zm-126 4zm-73 7zm-64-8zm-20 0zm-3 12zm-63 28zm18-19zm158 8zm90 6zm124 3zm30-1zm-511 24zm-95 12zm661 26zm-583-6zm423 25zm180 3zm116 37zm-210 15zm167 52zm-59 215zm120 120zm43-5z"/>
<path stroke="#F66D5C" d="M2196 786zm-83 17zm145 114zm49 2zm-42 59zm11-8zm26 4zm30-3zm-168 54zm215 5zm-175 35zm236 33zm-22 20zm13 9zm61-3zm-81 31z"/>
<path stroke="#606F96" d="M2418 201zm116 17zm-36 44zm74-10zm17 29zm-274-1zm281 17zm-134 48zm105 2zm17-1zm9 3zm48-8zm-68 27zm-95 20zm71 11zm13-1zm51 8zm143-21zm-35 23zm-47 20zm-524-7zm-8 19zm602 1zm-547 27zm578 101zm167 308zm25 25zm-10 32zm-11 2z"/>
<path stroke="#F46555" d="M2140 827zm125 78zm-82 77zm104-18zm18-1zm38 9zm-179 20zm197 26zm53-9zm51 20zm-260 12zm126 32zm228 30zm-180-19zm61 43zm51 9zm-91 2zm141 71z"/>
<path stroke="#586891" d="M2424 186zm44 18zm-92 21zm127 53zm-98-2zm49 29zm152 5zm70-1zm-103 16zm-10 11zm2 17zm-9 14zm-62 7zm-8-3zm-164 18zm359 11zm84 13zm-516 0zm633 129zm18 23zm4 40zm48 315z"/>
<path stroke="#F35C4E" d="M2227 898zm-20 47zm-50 8zm255 44zm-90 5zm-50 72zm38-16zm232 4zm-16 41zm-89-13zm24 27zm63 14zm-159 19zm136 3zm-38 29z"/>
<path stroke="#4F618B" d="M2569 237zm-15 2zm-19-12zm-135 22zm90 15zm9 25zm122 1zm-39 23zm-88 46zm27-17zm155 19zm-216 15zm-51 4zm69 4zm288 43zm-19-14zm-596 22zm24 1zm0 16zm702 83zm-40 21z"/>
<path stroke="#F15447" d="M2133 823zm70 105zm323 113zm-146 8zm-48-15zm28 32zm48 19zm-137-3z"/>
<path stroke="#475A85" d="M2446 202zm21 36zm-70-2zm-31-4zm123 22zm-119 34zm68 11zm44 19zm-111 17zm153 8zm204 34zm-207-17zm-35 68zm-173 10zm432 48zm71 18zm138 488z"/>
<path stroke="#EF4B40" d="M2209 903zm116 53zm-6-15zm-100 23zm64 2zm-45 37zm174 58z"/>
<path stroke="#3E5480" d="M2482 259zm62-14zm-41 55zm63 2zm-278 23zm135 22zm71 7zm74-8zm-100 42zm314 22zm-599 8zm-17 7zm-16-10zm22 17zm31 25z"/>
<path stroke="#EE4339" d="M2181 820zm209 118zm-74 19zm-85-5zm-7-3zm-13 1zm176 32zm77 15zm-64 18zm13 1zm6 3zm78 6zm-36 18zm-37-7zm-35 69zm5 6z"/>
<path stroke="#364D7A" d="M2475 240zm66 44zm-50-6zm-32-10zm-75-3zm-19 2zm-25 8zm251 46zm-115 9zm-90-17zm-11 1zm-17-2zm303 40z"/>
<path stroke="#EC3A31" d="M2384 1030zm-75 42zm89 29zm76 21zm-70 14zm28 40z"/>
<path stroke="#2E4674" d="M2379 253zm-56 29zm-7 38zm189 31zm-323 87z"/>
<path stroke="#EA322A" d="M2236 856zm-23 69zm122-10zm-1 47zm45 44zm132 91zm-74 19z"/>
<path stroke="#253F6F" d="M2412 220zm-23 33zm196 50zm8 8zm-71 14zm-15 23zm77-3zm11-5z"/>
<path stroke="#E92923" d="M2232 966zm1 48zm33-1zm206 100zm18 28z"/>
<path stroke="#1D3869" d="M2454 201zm15 29zm-33 6zm-10 2zm58 30zm-51 10zm-34 22zm68-10zm9 20zm25-19zm-163 60zm85-2zm47-2zm8 7zm31-15zm41 16zm129-5zm-211 13zm87 24zm354 101z"/>
<path stroke="#E7211C" d="M2300 953zm-23 5zm67 11zm21 35zm-12-6zm-20-12zm-13-1zm-70 10zm-34-10zm66 38zm14-5zm40-7zm120 12zm42 31zm-123-11zm-81 5zm-32-7zm220 34zm25-17zm-26 51zm-23 42zm2 58z"/>
</g>
<path d="M988.8 68V667.1H1588.2" stroke="#000" stroke-width="1.6" fill="none"/>
<text x="1287" y="696.4" font-size="22.6" text-anchor="middle">UMAP1</text>
<text transform="translate(971.3 368.6) rotate(-90)" font-size="22.6" text-anchor="middle">UMAP2</text>
<text x="1611.8" y="306.6" font-size="22.6">log2FC</text>
<rect x="1610.9" y="321" width="26" height="128.4" fill="url(#gb)"/>
<path d="M1610.9 347.5h5.2M1636.9 347.5h-5.2" stroke="#fff" stroke-width="1" opacity="0.7"/>
<text x="1648.8" y="354.4" font-size="18.8">2</text>
<text x="1648.8" y="392.2" font-size="18.8">0</text>
<path d="M1610.9 422.5h5.2M1636.9 422.5h-5.2" stroke="#fff" stroke-width="1" opacity="0.7"/>
<text x="1648.8" y="429.4" font-size="18.8">-2</text>
</g>
<g id="pc">
<text x="1.2" y="757.5" font-size="58" font-weight="bold">c</text>
<text x="746" y="767.5" font-size="24.5" text-anchor="middle" font-weight="bold">Module Scores</text>
<text x="745.8" y="796" font-size="18.4" text-anchor="middle">246 Samples, 10000 Genes</text>
<text transform="translate(109.3 1124.8) rotate(-90)" font-size="20.8" text-anchor="middle">Score</text>
<text x="746" y="1497.8" font-size="20.8" text-anchor="middle">Group</text>
<rect x="1353" y="1107.8" width="21.4" height="21.2" fill="#377EB8"/>
<rect x="1353" y="1131.8" width="21.4" height="21" fill="#E41A1C"/>
<text x="1382" y="1123.2" font-size="21.8">Normal (n=123)</text>
<text x="1382" y="1149.4" font-size="21.8">Tumor (n=123)</text>
<path transform="scale(.5)" d="M366 1693l0 5l0 4l0 5l0 5l0 5l0 5l0 5l0 5l0 5l0 5l0 5l0 5l0 5l1 5l0 5l0 5l1 5l0 5l1 5l0 5l1 5l0 4l1 5l0 5l0 5l1 5l0 5l1 5l0 5l1 5l1 5l0 5l2 5l1 5l1 5l2 5l1 5l2 5l1 5l2 5l2 4l1 5l2 5l1 5l1 5l1 5l1 5l0 5l1 5l0 5l0 5l0 5l0 5l0 5l0 5l0 5l0 5l-1 5l-1 5l-1 5l-1 4l-2 5l-1 5l-2 5l-2 5l-2 5l-2 5l-2 5l-2 5l-2 5l-1 5l-2 5l-1 5l-1 5l-1 5l-1 5l-1 5l0 5l-1 5l0 4l0 5l-1 5l0 5l0 5l0 5l0 5l0 5l0 5l0 5l0 5l0 5l0 5l0 5l0 5l0 5l0 5l0 5l-1 0l0-5l0-5l0-5l0-5l0-5l0-5l0-5l0-5l0-5l0-5l0-5l0-5l0-5l0-5l0-5l0-5l-1-5l0-4l-1-5l0-5l-1-5l-1-5l-1-5l-1-5l-1-5l-1-5l-2-5l-2-5l-2-5l-1-5l-2-5l-2-5l-2-5l-2-5l-2-5l-2-5l-1-4l-1-5l-1-5l0-5l-1-5l0-5l0-5l0-5l0-5l0-5l0-5l1-5l0-5l0-5l1-5l1-5l1-5l2-5l1-5l2-5l1-4l2-5l1-5l2-5l2-5l1-5l1-5l2-5l1-5l1-5l0-5l1-5l1-5l0-5l0-5l1-5l0-5l1-5l0-5l1-4l0-5l1-5l0-5l1-5l0-5l0-5l1-5l0-5l0-5l0-5l0-5l0-5l0-5l0-5l0-5l0-5l0-5l0-5l0-5l0-4l0-5zM598 1684l1 5l1 5l1 5l1 5l0 5l0 5l1 5l0 5l1 5l2 5l1 5l2 5l2 5l2 5l2 5l2 5l2 5l1 5l2 5l1 5l1 5l0 5l1 5l0 5l-1 5l0 4l-1 5l-1 5l-1 5l-2 5l-1 5l-2 5l-1 5l-2 5l-2 5l-1 5l-2 5l-1 5l-1 5l-1 5l-1 5l-1 5l-1 5l0 5l-1 5l0 5l0 5l-1 5l0 5l-1 5l-1 5l0 5l-1 5l-1 4l0 5l-1 5l0 5l-1 5l0 5l0 5l0 5l0 5l0 5l0 5l0 5l0 5l0 5l0 5l0 5l0 5l0 5l0 5l0 5l-1 0l0-5l0-5l0-5l0-5l0-5l0-5l0-5l0-5l0-5l0-5l0-5l0-5l0-5l0-5l-1-5l0-5l0-5l-1-5l-1-5l0-4l-1-5l0-5l-1-5l-1-5l0-5l-1-5l0-5l-1-5l0-5l-1-5l0-5l-1-5l-1-5l-1-5l-1-5l-2-5l-1-5l-2-5l-1-5l-2-5l-2-5l-1-5l-2-5l-1-5l-1-5l-1-5l-1-5l0-4l-1-5l0-5l0-5l1-5l1-5l1-5l2-5l1-5l2-5l2-5l2-5l2-5l2-5l2-5l1-5l2-5l1-5l0-5l1-5l0-5l0-5l1-5l0-5l2-5l1-5zM854 1724l0 5l0 5l0 5l0 5l0 5l0 5l0 5l0 5l1 5l0 5l0 5l1 5l0 5l1 5l0 5l0 5l1 5l0 5l-1 5l0 5l0 5l-1 5l0 5l-1 5l0 5l0 5l0 5l0 5l0 5l0 5l0 5l1 5l0 5l1 5l1 5l1 5l1 5l1 5l2 5l1 5l2 5l2 5l2 5l2 5l2 5l2 5l2 5l2 5l2 5l1 5l1 5l1 5l0 5l0 5l-1 5l-2 5l-1 5l-3 5l-2 5l-3 5l-2 5l-3 5l-2 5l-2 5l-2 5l-1 5l-1 5l0 5l0 5l1 5l0 5l1 5l0 5l0 5l-1 5l-1 5l-2 5l-1 5l-1 5l-1 5l-1 4l0 5l0 5l0 5l0 5l0 5l0 5l0 5l0 5l0 5l-1 0l0-5l0-5l0-5l0-5l0-5l0-5l0-5l0-5l0-5l-1-4l-1-5l-1-5l-1-5l-2-5l-1-5l-1-5l0-5l0-5l1-5l1-5l0-5l0-5l0-5l-1-5l-1-5l-2-5l-2-5l-2-5l-3-5l-2-5l-3-5l-2-5l-2-5l-2-5l-2-5l0-5l-1-5l1-5l0-5l1-5l2-5l1-5l2-5l2-5l2-5l2-5l2-5l2-5l2-5l2-5l2-5l1-5l1-5l2-5l1-5l0-5l1-5l1-5l0-5l0-5l1-5l0-5l0-5l0-5l-1-5l0-5l0-5l-1-5l0-5l-1-5l0-5l0-5l0-5l0-5l0-5l0-5l1-5l0-5l1-5l0-5l1-5l0-5l0-5l0-5l0-5l0-5l0-5l0-5l0-5l0-5zM1083 1705l1 5l0 5l1 5l0 5l1 5l0 5l-1 5l0 5l-1 5l-1 5l0 5l0 5l0 5l0 5l0 5l0 5l0 5l0 5l0 5l0 5l0 4l0 5l0 5l0 5l0 5l0 5l0 5l0 5l0 5l0 5l0 5l0 5l0 5l0 5l0 5l1 5l0 5l1 5l1 5l1 5l2 5l1 5l2 5l2 4l3 5l2 5l3 5l2 5l3 5l2 5l2 5l1 5l1 5l0 5l0 5l-1 5l-2 5l-2 5l-2 5l-3 5l-2 5l-3 5l-2 5l-2 5l-2 5l-1 5l-1 4l0 5l0 5l-1 5l0 5l0 5l-1 5l0 5l-1 5l-1 5l-1 5l0 5l-1 5l0 5l-1 5l0 5l0 5l0 5l0 5l0 5l0 5l-1 0l0-5l0-5l0-5l0-5l0-5l-1-5l0-5l-1-5l0-5l-1-5l-1-5l-1-5l0-5l-1-5l0-5l-1-5l0-5l0-5l0-5l-1-5l-1-4l-1-5l-1-5l-2-5l-3-5l-2-5l-3-5l-3-5l-2-5l-2-5l-2-5l-1-5l0-5l0-5l1-5l2-5l1-5l3-5l2-5l3-5l2-5l3-5l2-5l2-4l2-5l2-5l1-5l1-5l1-5l1-5l1-5l0-5l0-5l1-5l0-5l0-5l0-5l0-5l0-5l0-5l0-5l0-5l0-5l0-5l0-5l0-5l0-4l0-5l0-5l0-5l0-5l0-5l0-5l0-5l0-5l-1-5l0-5l-1-5l0-5l-1-5l0-5l0-5l0-5l0-5l1-5l1-5l0-5zM1312 1680l0 5l0 5l0 4l0 5l0 5l0 5l0 5l0 5l1 5l1 5l0 5l0 5l0 5l-1 5l-1 5l0 5l0 5l0 5l0 5l0 5l0 5l0 5l0 5l1 5l1 5l1 5l0 5l-1 5l-1 4l-1 5l0 5l0 5l0 5l0 5l1 5l1 5l1 5l1 5l1 5l2 5l2 5l2 5l2 5l3 5l3 5l2 5l3 5l2 5l2 5l1 5l1 5l0 5l0 5l-1 5l-1 4l-1 5l-2 5l-2 5l-2 5l-2 5l-2 5l-3 5l-2 5l-1 5l-2 5l-1 5l0 5l-1 5l-2 5l-1 5l-1 5l-1 5l-1 5l-3 0l-1-5l-1-5l-2-5l-1-5l-1-5l-1-5l-1-5l-1-5l-1-5l-2-5l-2-5l-2-5l-2-5l-3-5l-2-5l-2-5l-1-5l-2-5l-1-4l-1-5l0-5l0-5l1-5l2-5l1-5l3-5l2-5l3-5l3-5l2-5l3-5l2-5l2-5l1-5l2-5l1-5l1-5l0-5l1-5l0-5l0-5l0-5l0-5l0-5l-1-4l-1-5l0-5l0-5l1-5l1-5l0-5l0-5l0-5l0-5l0-5l0-5l0-5l0-5l0-5l-1-5l-1-5l0-5l1-5l0-5l1-5l0-5l0-5l0-5l0-5l0-5l0-4l0-5l0-5zM1571 1675l0 5l0 5l0 5l0 5l0 5l0 5l0 5l0 5l0 5l0 5l0 5l0 5l0 5l0 5l0 5l0 5l0 5l0 5l0 5l0 5l0 5l0 5l0 5l1 5l0 5l1 5l0 5l0 5l-1 5l0 5l0 5l-1 5l0 5l0 5l0 5l0 5l0 5l0 5l0 5l0 5l0 5l0 5l0 5l0 5l0 5l0 5l0 5l0 5l0 5l0 4l0 5l0 5l1 5l0 5l0 5l1 5l0 5l1 5l1 5l1 5l1 5l1 5l1 5l1 5l2 5l1 5l2 5l2 5l2 5l1 5l2 5l2 5l1 5l2 5l1 5l1 5l1 5l1 5l0 5l1 5l-1 5l0 5l-1 5l-2 5l-1 5l-2 5l-3 5l-2 5l-2 5l-2 5l-2 5l-1 5l-1 5l-1 5l0 5l-1 5l-1 5l-1 5l-2 5l-1 5l-9 0l-1-5l-2-5l-2-5l-1-5l0-5l0-5l-1-5l-1-5l-1-5l-2-5l-2-5l-2-5l-3-5l-2-5l-2-5l-1-5l-2-5l-1-5l-1-5l0-5l0-5l1-5l0-5l1-5l2-5l1-5l1-5l2-5l2-5l2-5l1-5l2-5l2-5l1-5l2-5l2-5l1-5l1-5l1-5l1-5l1-5l1-5l0-5l1-5l1-5l0-5l0-5l0-5l1-5l0-5l0-4l0-5l0-5l0-5l0-5l0-5l0-5l0-5l0-5l0-5l0-5l0-5l0-5l0-5l0-5l0-5l0-5l0-5l-1-5l0-5l-1-5l0-5l0-5l0-5l0-5l1-5l0-5l1-5l0-5l0-5l0-5l0-5l0-5l0-5l0-5l0-5l0-5l0-5l0-5l0-5l0-5l0-5l0-5l0-5l0-5l0-5l0-5l0-5l0-5l0-5zM1834 1710l1 5l2 5l1 5l3 5l2 5l3 5l2 5l3 5l3 5l2 5l3 5l1 4l1 5l1 5l0 5l0 5l0 5l0 5l0 5l0 5l-1 5l0 5l-1 5l0 5l-1 5l-1 5l-1 5l-1 5l-1 5l-1 5l-1 5l-1 5l-1 5l-1 5l-1 5l-1 5l-1 5l-1 5l-1 5l-1 5l-1 5l0 5l-1 5l0 5l-1 5l0 5l0 5l0 5l0 5l-1 5l0 5l-1 5l-1 5l0 5l-1 5l-1 5l-1 5l-1 5l0 5l-1 5l0 5l-1 5l0 5l0 5l-1 5l0 5l0 5l0 5l-1 0l0-5l0-5l0-5l0-5l-1-5l0-5l0-5l-1-5l-1-5l0-5l-1-5l-1-5l-1-5l0-5l-1-5l-1-5l0-5l-1-5l0-5l-1-5l0-5l0-5l0-5l-1-5l0-5l0-5l-1-5l-1-5l0-5l-1-5l-1-5l-1-5l-2-5l-1-5l-1-5l-1-5l-1-5l-1-5l-1-5l-1-5l-1-5l-1-5l-1-5l-1-5l0-5l-1-5l0-5l0-5l-1-5l0-5l0-5l0-5l0-5l0-5l1-5l1-5l2-4l2-5l2-5l3-5l3-5l3-5l2-5l3-5l2-5l2-5l1-5l1-5zM2060 1783l0 5l0 5l0 5l0 5l0 5l1 5l0 5l0 5l1 5l0 5l1 5l0 5l0 5l1 5l0 4l1 5l0 5l1 5l0 5l1 5l0 5l0 5l0 5l1 5l0 5l0 5l0 5l0 5l0 5l0 5l0 5l0 5l0 5l1 5l0 5l0 4l0 5l1 5l0 5l1 5l0 5l1 5l1 5l1 5l0 5l1 5l1 5l1 5l1 5l1 5l1 5l1 5l1 5l1 5l1 5l1 5l0 4l1 5l1 5l1 5l0 5l1 5l0 5l1 5l0 5l0 5l0 5l0 5l0 5l0 5l-1 5l-1 5l-2 5l-1 5l-2 5l-2 5l-2 4l-2 5l-2 5l-32 0l-2-5l-2-5l-2-4l-2-5l-2-5l-1-5l-2-5l-1-5l-1-5l0-5l0-5l0-5l0-5l0-5l0-5l1-5l0-5l1-5l0-5l1-5l1-5l1-5l0-4l1-5l1-5l1-5l1-5l1-5l1-5l1-5l1-5l1-5l1-5l1-5l0-5l1-5l1-5l1-5l0-5l1-5l0-5l1-5l0-5l0-4l0-5l1-5l0-5l0-5l0-5l0-5l0-5l0-5l0-5l0-5l0-5l1-5l0-5l0-5l0-5l1-5l0-5l1-5l0-5l1-5l0-4l1-5l0-5l0-5l1-5l0-5l1-5l0-5l0-5l1-5l0-5l0-5l0-5l0-5l0-5zM2290 1708l1 5l0 5l1 5l0 5l1 5l1 5l1 5l0 5l1 5l0 5l0 5l0 5l0 5l0 5l1 5l0 5l0 5l1 5l0 5l1 5l2 5l1 5l2 5l2 5l2 5l2 5l1 5l2 5l2 5l2 5l1 5l1 5l1 4l0 5l0 5l0 5l0 5l-1 5l0 5l-1 5l-1 5l-2 5l-1 5l-1 5l-2 5l-1 5l-2 5l-1 5l-2 5l-1 5l-2 5l-1 5l-1 5l-1 5l0 5l-1 5l0 5l0 5l-1 5l-1 5l-1 5l-1 5l-1 5l-1 5l-6 0l0-5l-2-5l-1-5l-1-5l-1-5l0-5l-1-5l0-5l0-5l-1-5l-1-5l-1-5l-1-5l-1-5l-2-5l-1-5l-2-5l-1-5l-2-5l-1-5l-2-5l-1-5l-1-5l-1-5l-1-5l-1-5l0-5l-1-5l0-5l0-5l1-5l0-4l1-5l2-5l1-5l2-5l2-5l2-5l2-5l2-5l2-5l1-5l2-5l1-5l1-5l1-5l0-5l1-5l0-5l0-5l0-5l0-5l0-5l0-5l1-5l0-5l1-5l1-5l0-5l1-5l1-5l0-5l1-5l0-5zM2549 1864l0 5l1 5l0 5l1 5l1 5l1 5l1 5l1 5l2 5l1 5l2 5l2 4l2 5l2 5l2 5l2 5l2 5l2 5l1 5l2 5l1 5l1 5l0 5l0 4l0 5l-1 5l0 5l-1 5l-1 5l-1 5l-2 5l-1 5l-2 5l-1 5l-2 5l-1 5l-2 4l-1 5l-1 5l-2 5l0 5l-1 5l-1 5l0 5l-1 5l-1 5l-1 5l-1 5l0 5l-2 4l0 5l-1 5l-1 5l0 5l-1 5l0 5l1 5l1 5l1 5l0 5l-1 5l-1 4l-1 5l-2 0l-1-5l-2-4l0-5l0-5l1-5l0-5l1-5l0-5l0-5l0-5l-1-5l-1-5l-1-5l-1-4l-1-5l-1-5l-1-5l0-5l-1-5l-1-5l0-5l-1-5l-1-5l-1-5l-1-5l-2-5l-1-4l-2-5l-1-5l-2-5l-1-5l-2-5l-1-5l-1-5l-1-5l-1-5l-1-5l0-5l0-5l0-4l0-5l1-5l1-5l1-5l2-5l2-5l2-5l2-5l2-5l2-5l2-5l2-4l1-5l2-5l1-5l2-5l1-5l1-5l1-5l0-5l1-5l0-5l1-5zM372 2360l2 5l2 5l3 5l4 5l3 5l3 5l3 5l2 5l2 5l1 5l0 5l-1 5l0 5l-1 4l-1 5l-1 5l-1 5l-2 5l-1 5l-2 5l-2 5l-1 5l-2 5l-2 5l-1 5l-1 5l-1 5l-1 5l-1 5l-1 5l-1 5l0 5l-1 5l0 4l-1 5l-1 5l-1 5l-1 5l0 5l-1 5l0 5l-1 5l0 5l0 5l0 5l0 5l0 5l0 5l0 5l0 5l0 5l0 5l0 5l0 4l0 5l0 5l0 5l0 5l0 5l0 5l0 5l0 5l0 5l-1 0l0-5l0-5l0-5l0-5l0-5l0-5l0-5l0-5l0-5l0-4l0-5l0-5l0-5l0-5l0-5l0-5l0-5l0-5l0-5l0-5l0-5l-1-5l0-5l-1-5l0-5l-1-5l-1-5l-1-5l0-5l-1-4l-1-5l0-5l-1-5l-1-5l0-5l-1-5l-1-5l-2-5l-1-5l-2-5l-1-5l-2-5l-2-5l-1-5l-2-5l-1-5l-2-5l-1-5l-1-5l-1-4l0-5l-1-5l0-5l1-5l2-5l2-5l3-5l3-5l4-5l3-5l3-5l2-5l3-5zM594 2520l0 5l0 5l0 5l0 5l0 5l0 4l0 5l0 5l0 5l0 5l0 5l0 5l0 5l0 5l0 5l0 5l0 5l0 5l0 5l0 5l0 5l0 5l0 4l0 5l0 5l0 5l0 5l1 5l0 5l1 5l1 5l0 5l1 5l0 5l1 5l0 5l0 5l1 5l0 5l1 5l2 4l1 5l2 5l3 5l2 5l3 5l2 5l3 5l2 5l1 5l2 5l0 5l1 5l-1 5l-1 5l-2 5l-3 5l-3 5l-3 4l-3 5l-3 5l-2 5l-3 5l-2 5l-1 5l-1 5l-1 5l-5 0l-1-5l-1-5l-2-5l-2-5l-2-5l-2-5l-3-5l-3-5l-3-4l-3-5l-3-5l-2-5l-1-5l-1-5l0-5l1-5l1-5l2-5l2-5l3-5l2-5l3-5l2-5l2-5l2-5l2-5l1-4l1-5l1-5l0-5l1-5l0-5l0-5l1-5l1-5l0-5l1-5l1-5l0-5l1-5l0-5l0-5l0-5l0-5l0-4l0-5l0-5l0-5l0-5l0-5l0-5l0-5l0-5l0-5l0-5l0-5l0-5l0-5l0-5l0-5l0-5l0-4l0-5l0-5l0-5l0-5l0-5zM854 2495l0 5l0 5l0 5l0 5l0 5l0 5l0 5l0 5l0 5l0 4l0 5l0 5l0 5l0 5l0 5l0 5l0 5l0 5l0 5l0 5l0 5l0 5l1 5l0 5l0 5l1 5l0 4l1 5l0 5l1 5l0 5l1 5l1 5l0 5l0 5l1 5l0 5l0 5l0 5l0 5l0 5l0 5l0 5l0 5l0 5l1 4l1 5l1 5l1 5l1 5l2 5l2 5l2 5l2 5l2 5l2 5l2 5l2 5l1 5l1 5l1 5l0 5l-1 4l-2 5l-3 5l-3 5l-4 5l-4 5l-3 5l-3 5l-3 5l-1 5l-8 0l-2-5l-3-5l-3-5l-3-5l-4-5l-3-5l-4-5l-3-5l-2-5l-1-4l1-5l0-5l1-5l1-5l2-5l2-5l2-5l2-5l2-5l2-5l2-5l2-5l1-5l2-5l1-5l0-5l1-4l0-5l0-5l0-5l0-5l0-5l0-5l0-5l0-5l0-5l1-5l0-5l1-5l0-5l1-5l0-5l1-5l1-5l0-5l1-4l0-5l0-5l1-5l0-5l0-5l0-5l0-5l0-5l0-5l0-5l0-5l0-5l0-5l0-5l0-5l0-5l0-4l0-5l0-5l0-5l0-5l0-5l0-5l0-5l0-5l0-5zM1083 2395l0 5l0 5l0 5l0 5l0 5l0 5l0 5l0 5l0 5l0 5l1 5l0 5l0 5l1 5l0 5l0 5l0 5l0 5l0 5l0 5l0 5l-1 5l0 5l0 5l0 5l1 5l0 5l1 5l1 5l1 5l2 5l1 5l1 5l1 5l1 5l0 5l0 5l1 5l0 5l0 5l1 5l1 5l1 5l1 5l1 5l2 5l1 5l2 5l2 5l1 5l1 5l2 5l1 5l0 5l1 5l0 5l0 5l0 5l-2 5l-2 5l-2 5l-3 5l-3 5l-3 5l-3 5l-3 5l-2 5l-2 5l-1 5l-1 5l-1 5l0 5l0 5l1 5l1 5l0 5l0 5l0 5l-1 5l-1 5l-1 5l0 5l-1 5l0 5l0 5l0 5l0 5l0 5l0 5l0 5l0 5l-1 0l0-5l0-5l0-5l0-5l0-5l0-5l0-5l-1-5l0-5l-1-5l-1-5l-1-5l-1-5l0-5l0-5l1-5l0-5l1-5l0-5l0-5l0-5l-1-5l-2-5l-2-5l-2-5l-3-5l-2-5l-4-5l-3-5l-3-5l-2-5l-2-5l-1-5l-1-5l0-5l0-5l1-5l1-5l1-5l1-5l1-5l2-5l1-5l2-5l2-5l1-5l1-5l2-5l1-5l1-5l0-5l0-5l1-5l0-5l0-5l1-5l1-5l0-5l2-5l1-5l1-5l1-5l1-5l1-5l1-5l0-5l0-5l0-5l0-5l0-5l0-5l-1-5l0-5l0-5l0-5l0-5l1-5l0-5l0-5l1-5l0-5l0-5l1-5l0-5l0-5l0-5l0-5l0-5l0-5l0-5l0-5zM1312 2354l0 5l0 5l0 4l0 5l0 5l0 5l0 5l0 5l0 5l0 5l0 5l0 5l0 5l0 5l0 5l0 5l0 5l0 5l0 5l0 5l1 5l1 5l0 5l0 5l-1 5l0 5l-1 5l0 4l0 5l0 5l0 5l0 5l0 5l0 5l0 5l0 5l0 5l0 5l0 5l0 5l0 5l0 5l0 5l0 5l0 5l0 5l0 5l0 5l0 5l0 5l0 5l0 4l0 5l0 5l0 5l0 5l0 5l0 5l1 5l0 5l1 5l1 5l1 5l0 5l1 5l0 5l1 5l1 5l1 5l2 5l3 5l3 5l4 5l3 5l3 5l2 5l2 4l0 5l0 5l-2 5l-2 5l-3 5l-4 5l-3 5l-4 5l-2 5l-2 5l-1 5l-1 5l-1 5l-1 5l-1 5l-1 5l-1 5l0 5l-1 5l0 5l0 5l0 5l-2 0l0-5l0-5l0-5l0-5l-1-5l-1-5l-1-5l-1-5l-1-5l0-5l-1-5l-2-5l-1-5l-3-5l-3-5l-4-5l-3-5l-4-5l-2-5l-2-5l0-5l1-5l1-4l3-5l3-5l3-5l3-5l3-5l3-5l2-5l2-5l1-5l0-5l1-5l0-5l1-5l0-5l1-5l1-5l1-5l0-5l0-5l0-5l0-5l0-5l0-5l0-5l0-4l0-5l0-5l0-5l0-5l0-5l0-5l0-5l0-5l0-5l0-5l0-5l0-5l0-5l0-5l0-5l0-5l0-5l0-5l0-5l0-5l0-5l0-5l0-5l0-4l0-5l-1-5l-1-5l0-5l1-5l1-5l0-5l0-5l0-5l0-5l0-5l0-5l0-5l0-5l0-5l0-5l0-5l0-5l0-5l0-5l0-5l0-5l0-5l0-5l0-4l0-5l0-5zM1571 2394l0 5l0 5l0 4l0 5l0 5l0 5l0 5l0 5l0 5l0 5l0 5l0 5l0 5l0 5l0 5l0 5l0 5l0 5l1 5l1 5l0 5l1 5l0 5l0 5l0 5l-1 5l0 5l-1 5l0 4l-1 5l0 5l0 5l0 5l0 5l1 5l0 5l0 5l1 5l0 5l1 5l1 5l1 5l1 5l1 5l1 5l1 5l2 5l1 5l2 5l2 5l1 5l2 5l2 5l2 4l1 5l2 5l1 5l1 5l1 5l1 5l0 5l1 5l-1 5l0 5l-1 5l-1 5l-2 5l-2 5l-2 5l-2 5l-3 5l-2 5l-2 5l-2 5l-2 5l-1 5l-1 5l-1 5l-1 5l0 4l0 5l-1 5l0 5l-1 5l-1 5l-1 5l0 5l-1 5l0 5l0 5l0 5l0 5l-1 0l0-5l0-5l0-5l0-5l-1-5l0-5l-1-5l-1-5l-1-5l0-5l-1-5l0-5l-1-4l0-5l-1-5l-1-5l-2-5l-1-5l-2-5l-2-5l-3-5l-2-5l-2-5l-2-5l-2-5l-2-5l-1-5l-1-5l-1-5l0-5l0-5l1-5l1-5l1-5l1-5l1-5l2-5l1-5l2-4l2-5l1-5l2-5l2-5l2-5l1-5l2-5l1-5l1-5l1-5l1-5l1-5l1-5l0-5l1-5l1-5l0-5l0-5l0-5l1-5l0-5l0-5l0-5l-1-5l0-4l-1-5l-1-5l0-5l-1-5l0-5l1-5l0-5l1-5l1-5l0-5l1-5l0-5l0-5l0-5l0-5l0-5l0-5l0-5l0-5l0-5l0-5l0-5l0-5l0-5l0-5l0-4l0-5l0-5zM1831 2354l0 5l0 4l0 5l0 5l0 5l0 5l0 5l0 5l0 5l1 5l0 5l1 5l1 5l1 5l1 5l1 5l1 5l1 5l0 5l1 5l0 5l0 4l0 5l1 5l1 5l1 5l2 5l1 5l2 5l2 5l2 5l1 5l2 5l2 5l1 5l1 5l1 5l1 5l1 5l0 5l0 4l-1 5l-1 5l-1 5l-1 5l-1 5l-2 5l-2 5l-1 5l-2 5l-2 5l-2 5l-2 5l-1 5l-2 5l-1 5l-1 5l-1 5l-1 5l0 5l0 4l0 5l0 5l-1 5l0 5l-1 5l-1 5l-1 5l-1 5l0 5l-1 5l0 5l0 5l0 5l0 5l0 5l1 5l1 5l1 5l-1 5l-1 4l-1 5l-1 0l-1-5l-1-4l0-5l0-5l1-5l1-5l0-5l0-5l0-5l0-5l0-5l0-5l-1-5l-1-5l-1-5l-1-5l0-5l-1-5l0-5l0-5l0-5l0-4l-1-5l0-5l-1-5l-2-5l-1-5l-1-5l-2-5l-2-5l-2-5l-2-5l-1-5l-2-5l-2-5l-2-5l-1-5l-1-5l-1-5l-1-5l0-5l-1-4l1-5l0-5l1-5l1-5l1-5l1-5l2-5l2-5l2-5l1-5l2-5l2-5l2-5l1-5l1-5l1-5l1-5l0-5l0-4l1-5l0-5l0-5l1-5l1-5l1-5l1-5l1-5l1-5l1-5l0-5l1-5l0-5l0-5l0-5l0-5l0-5l0-5l0-5l0-4l0-5zM2067 2562l2 5l1 5l0 5l1 5l1 5l2 5l2 5l2 5l2 5l2 5l1 5l2 5l2 5l1 5l1 5l1 5l0 5l0 5l0 5l0 5l-1 5l-1 5l-1 5l-1 5l-1 5l-1 5l-2 5l-1 5l-2 4l-1 5l-2 5l-1 5l-1 5l-2 5l0 5l-1 5l-1 5l0 5l-1 5l0 5l-1 5l0 5l-1 5l-2 5l-1 5l-1 5l-1 5l-1 5l0 5l-1 5l0 5l0 5l0 5l0 5l0 5l0 5l0 5l0 5l-2 0l0-5l0-5l0-5l0-5l0-5l0-5l0-5l0-5l-1-5l0-5l-1-5l-1-5l-1-5l-1-5l-2-5l-1-5l0-5l-1-5l0-5l-1-5l0-5l-1-5l-1-5l0-5l-2-5l-1-5l-1-5l-2-5l-1-5l-2-4l-1-5l-2-5l-1-5l-1-5l-1-5l-1-5l-1-5l-1-5l0-5l0-5l0-5l0-5l1-5l1-5l1-5l2-5l2-5l1-5l2-5l2-5l2-5l2-5l2-5l1-5l1-5l0-5l1-5l2-5zM2290 2355l0 5l0 5l0 5l0 5l0 5l0 5l0 5l0 5l0 5l0 5l0 5l1 5l0 5l1 4l1 5l1 5l1 5l1 5l0 5l1 5l1 5l0 5l1 5l1 5l1 5l1 5l2 5l1 5l2 5l2 5l2 5l2 5l2 5l1 5l1 4l2 5l1 5l0 5l0 5l0 5l0 5l0 5l0 5l0 5l0 5l0 5l0 5l0 5l0 5l0 5l0 5l0 5l-1 5l0 4l-1 5l-1 5l-1 5l-1 5l-1 5l-1 5l-1 5l-2 5l-1 5l-1 5l-2 5l-1 5l-1 5l-2 5l-1 5l-1 5l-1 5l-1 5l-1 5l-1 5l-1 4l0 5l-1 5l-1 5l0 5l-1 5l-6 0l0-5l-1-5l-1-5l0-5l-1-5l-1-4l-1-5l-1-5l-1-5l-1-5l-1-5l-1-5l-1-5l-2-5l-1-5l-1-5l-2-5l-1-5l-1-5l-1-5l-2-5l-1-5l-1-5l-1-5l-1-5l0-5l-1-4l-1-5l0-5l0-5l0-5l0-5l0-5l0-5l0-5l0-5l0-5l0-5l0-5l0-5l0-5l0-5l1-5l1-5l1-5l1-4l2-5l2-5l1-5l2-5l2-5l2-5l2-5l1-5l2-5l1-5l1-5l0-5l1-5l0-5l1-5l1-5l1-5l1-5l1-5l0-5l1-4l1-5l0-5l0-5l0-5l0-5l0-5l0-5l0-5l0-5l0-5l0-5l0-5l0-5zM2550 2357l0 5l0 5l0 5l1 5l0 5l0 5l0 5l1 5l0 5l1 5l0 5l1 5l1 5l0 5l1 5l0 5l1 5l0 5l0 5l1 5l0 5l0 5l0 5l1 5l0 5l0 5l1 5l0 5l1 5l0 5l1 5l0 5l1 5l1 5l0 5l1 5l1 5l0 5l1 5l1 5l0 5l1 5l1 5l0 5l1 5l1 5l0 5l1 5l0 5l1 4l1 5l0 5l1 5l0 5l0 5l1 5l0 5l1 5l0 5l0 5l0 5l1 5l0 5l0 5l0 5l0 5l0 5l0 5l0 5l0 5l0 5l0 5l0 5l0 5l0 5l0 5l0 5l0 5l0 5l0 5l0 5l0 5l0 5l0 5l-1 5l-1 5l-1 5l-2 5l-1 5l-2 5l-2 5l-2 5l-2 5l-2 5l-2 5l-2 5l-2 5l-1 5l-2 5l-13 0l-1-5l-2-5l-1-5l-2-5l-2-5l-2-5l-2-5l-2-5l-2-5l-2-5l-2-5l-1-5l-2-5l0-5l-1-5l0-5l0-5l0-5l0-5l0-5l0-5l0-5l0-5l0-5l0-5l0-5l0-5l0-5l0-5l0-5l0-5l0-5l0-5l0-5l0-5l0-5l0-5l0-5l0-5l1-5l0-5l0-5l1-5l0-5l1-5l0-5l1-5l0-5l1-5l0-4l1-5l0-5l1-5l1-5l0-5l1-5l1-5l0-5l1-5l1-5l0-5l1-5l1-5l0-5l1-5l0-5l1-5l1-5l0-5l1-5l0-5l1-5l0-5l1-5l0-5l0-5l1-5l0-5l0-5l0-5l0-5l1-5l0-5l1-5l0-5l1-5l1-5l0-5l1-5l0-5l1-5l0-5l1-5l0-5l0-5l0-5l1-5l0-5l0-5z" fill="#377EB8" stroke="#377EB8" stroke-width="1.2" stroke-linejoin="round"/>
<path transform="scale(.5)" d="M439 1783l1 5l1 5l0 4l0 5l0 5l0 5l0 5l1 5l1 5l1 5l1 5l1 5l1 5l1 5l2 5l1 5l2 5l1 5l2 5l1 5l2 5l1 5l1 5l1 5l2 5l1 5l0 5l1 4l0 5l1 5l0 5l0 5l0 5l0 5l0 5l0 5l0 5l0 5l0 5l0 5l0 5l0 5l0 5l0 5l0 5l0 5l-1 5l-1 5l-1 5l-2 5l-1 5l-2 4l-2 5l-3 5l-2 5l-2 5l-2 5l-2 5l-1 5l-2 5l-1 5l-1 5l-1 5l-1 5l-1 5l0 5l-1 5l0 5l-1 5l0 5l0 5l0 5l0 5l0 5l0 5l0 5l0 4l0 5l0 5l-1 0l0-5l0-5l0-4l0-5l0-5l0-5l0-5l0-5l0-5l0-5l-1-5l0-5l0-5l-1-5l-1-5l0-5l-1-5l-2-5l-1-5l-2-5l-1-5l-2-5l-2-5l-2-5l-2-5l-2-5l-2-5l-2-4l-2-5l-2-5l-1-5l-1-5l0-5l-1-5l0-5l0-5l0-5l0-5l0-5l0-5l0-5l0-5l0-5l0-5l0-5l0-5l0-5l0-5l0-5l1-5l0-5l1-4l1-5l1-5l1-5l1-5l1-5l2-5l1-5l2-5l1-5l1-5l2-5l1-5l2-5l1-5l1-5l1-5l2-5l0-5l1-5l1-5l0-5l0-5l0-5l0-5l1-4l0-5l1-5zM666 1719l1 5l0 5l1 5l0 5l0 5l0 5l0 5l0 5l0 5l0 5l1 5l0 5l1 5l1 5l1 5l1 5l1 4l1 5l1 5l1 5l1 5l2 5l1 5l1 5l1 5l2 5l1 5l1 5l1 5l2 5l1 5l0 5l1 5l1 5l1 4l0 5l0 5l1 5l0 5l-1 5l0 5l0 5l-1 5l-1 5l-1 5l-1 5l-1 5l-2 5l-1 5l-1 5l-2 5l-1 5l-2 5l-1 4l-1 5l-2 5l-1 5l-1 5l-1 5l-1 5l-1 5l0 5l-1 5l0 5l-1 5l0 5l0 5l0 5l-1 5l0 5l-1 5l0 4l0 5l-1 5l0 5l-1 5l0 5l0 5l-1 5l0 5l0 5l0 5l0 5l0 5l0 5l0 5l0 5l0 5l0 5l0 5l0 4l0 5l-1 0l0-5l0-4l0-5l0-5l0-5l0-5l0-5l0-5l0-5l0-5l0-5l0-5l-1-5l0-5l0-5l-1-5l0-5l0-5l-1-5l0-5l-1-4l0-5l0-5l-1-5l0-5l0-5l-1-5l0-5l0-5l-1-5l-1-5l0-5l-1-5l-1-5l-1-5l-2-5l-1-5l-1-5l-2-4l-1-5l-1-5l-2-5l-1-5l-2-5l-1-5l-1-5l-1-5l-1-5l-1-5l-1-5l0-5l-1-5l0-5l0-5l0-5l1-5l0-5l1-4l0-5l1-5l1-5l1-5l1-5l2-5l1-5l1-5l1-5l2-5l1-5l1-5l1-5l2-5l1-5l1-5l1-5l1-4l1-5l1-5l1-5l0-5l1-5l1-5l0-5l0-5l0-5l0-5l0-5l0-5l0-5l0-5l1-5l1-5zM924 1696l0 5l0 4l0 5l0 5l0 5l0 5l0 5l0 5l0 5l1 5l0 5l1 5l1 5l1 5l2 5l1 5l1 5l1 5l0 5l-1 4l0 5l-1 5l0 5l0 5l0 5l1 5l0 5l1 5l1 5l1 5l1 5l1 5l1 5l2 5l1 5l1 5l1 5l1 4l2 5l1 5l1 5l1 5l1 5l1 5l1 5l1 5l0 5l1 5l0 5l1 5l0 5l0 5l0 5l-1 5l0 5l-1 4l-1 5l-2 5l-1 5l-2 5l-1 5l-2 5l-2 5l-2 5l-1 5l-2 5l-1 5l-2 5l-1 5l-1 5l0 5l0 5l0 5l-2 4l-1 5l-11 0l-1-5l-1-4l-1-5l0-5l0-5l-1-5l-1-5l-1-5l-2-5l-2-5l-1-5l-2-5l-2-5l-2-5l-1-5l-2-5l-1-5l-2-5l-1-5l-1-4l0-5l-1-5l0-5l0-5l1-5l0-5l0-5l1-5l1-5l0-5l1-5l1-5l1-5l1-5l1-5l2-5l1-5l1-4l1-5l1-5l2-5l1-5l1-5l1-5l1-5l1-5l1-5l1-5l1-5l0-5l0-5l0-5l0-5l-1-5l0-5l-1-4l0-5l1-5l1-5l1-5l2-5l1-5l1-5l1-5l0-5l1-5l0-5l0-5l0-5l0-5l0-5l0-5l0-5l0-4l0-5zM1153 1679l0 5l0 5l0 4l0 5l0 5l0 5l0 5l0 5l0 5l0 5l0 5l0 5l0 5l1 5l0 5l0 5l1 5l0 5l1 5l0 5l1 5l1 5l0 5l1 5l1 5l1 5l1 4l1 5l1 5l2 5l1 5l1 5l2 5l1 5l1 5l2 5l1 5l1 5l2 5l1 5l1 5l1 5l1 5l0 5l1 5l0 5l0 5l0 5l0 5l0 4l0 5l-1 5l-1 5l-1 5l-1 5l-1 5l-1 5l-2 5l-1 5l-1 5l-2 5l-1 5l-2 5l-1 5l-1 5l-2 5l-1 5l-1 5l-1 5l-1 5l-1 5l-1 5l-1 5l0 4l-1 5l-1 5l0 5l-1 5l0 5l0 5l0 5l-1 5l0 5l0 5l0 5l0 5l0 5l0 5l0 5l0 5l0 5l0 5l0 5l0 5l0 5l0 5l0 5l0 4l0 5l0 5l-1 0l0-5l0-5l0-4l0-5l0-5l0-5l0-5l0-5l0-5l0-5l0-5l0-5l0-5l0-5l0-5l-1-5l0-5l0-5l0-5l0-5l-1-5l0-5l-1-5l0-5l-1-5l0-5l-1-4l-1-5l0-5l-1-5l-1-5l-2-5l-1-5l-1-5l-1-5l-2-5l-1-5l-1-5l-2-5l-1-5l-2-5l-1-5l-1-5l-2-5l-1-5l-1-5l-1-5l0-5l-1-5l-1-5l0-4l0-5l0-5l0-5l1-5l0-5l1-5l1-5l1-5l1-5l1-5l1-5l1-5l2-5l1-5l1-5l2-5l1-5l1-5l2-5l1-5l1-5l1-5l1-4l1-5l1-5l1-5l1-5l1-5l0-5l1-5l0-5l1-5l0-5l0-5l1-5l0-5l0-5l0-5l0-5l1-5l0-5l0-5l0-5l0-5l0-5l0-5l0-4l0-5l0-5zM1382 1791l0 5l0 5l0 5l0 5l0 5l0 5l0 5l0 5l0 5l0 5l0 5l0 5l0 5l0 5l0 5l0 5l0 5l0 5l1 5l0 5l1 5l1 5l0 5l1 5l1 5l0 5l1 5l0 5l1 5l0 5l1 5l1 5l0 5l2 5l1 4l1 5l2 5l1 5l2 5l1 5l2 5l1 5l2 5l1 5l1 5l1 5l1 5l1 5l1 5l0 5l0 5l0 5l0 5l0 5l-1 5l-1 5l-1 5l-2 5l-1 5l-2 5l-2 5l-1 5l-2 5l-2 5l-2 5l-1 5l-2 5l-1 5l-2 5l-1 5l-1 5l-1 5l-1 5l0 4l-1 5l-1 5l0 5l-4 0l0-5l-1-5l0-5l-1-4l-1-5l-1-5l-1-5l-1-5l-1-5l-2-5l-1-5l-2-5l-2-5l-1-5l-2-5l-2-5l-2-5l-1-5l-2-5l-1-5l-2-5l-1-5l0-5l-1-5l0-5l0-5l0-5l1-5l0-5l1-5l1-5l1-5l2-5l1-5l1-5l2-5l1-5l2-5l1-5l2-5l1-5l2-5l1-4l1-5l1-5l1-5l0-5l1-5l0-5l1-5l0-5l1-5l0-5l1-5l1-5l0-5l1-5l1-5l0-5l0-5l0-5l0-5l0-5l0-5l0-5l0-5l0-5l0-5l0-5l0-5l0-5l0-5l0-5l0-5l0-5l0-5l0-5zM1641 1750l0 5l0 5l0 5l0 5l0 5l0 5l0 5l0 5l0 5l0 5l0 5l0 5l0 5l0 5l0 5l0 5l0 5l0 5l0 5l0 5l0 5l0 5l0 5l0 5l0 5l0 5l0 5l0 5l0 5l0 5l0 5l0 5l0 5l0 5l0 5l0 5l0 5l0 5l0 5l1 5l1 5l0 5l1 5l1 5l1 5l1 5l1 5l1 5l1 5l0 5l1 5l0 5l1 5l0 5l1 5l2 5l1 5l2 5l1 5l2 5l1 5l2 5l1 5l2 4l1 5l1 5l1 5l1 5l0 5l1 5l0 5l-1 5l-2 5l-2 5l-2 5l-3 5l-3 5l-3 5l-2 5l-2 5l-1 5l0 5l-1 5l-2 5l-2 5l-11 0l-3-5l-1-5l-1-5l-1-5l-1-5l-1-5l-3-5l-2-5l-3-5l-3-5l-3-5l-2-5l-1-5l-1-5l0-5l0-5l1-5l1-5l1-5l1-5l1-5l1-4l2-5l1-5l2-5l2-5l1-5l2-5l1-5l1-5l1-5l1-5l1-5l0-5l1-5l0-5l1-5l0-5l1-5l1-5l2-5l1-5l1-5l0-5l1-5l0-5l1-5l0-5l0-5l0-5l0-5l0-5l0-5l0-5l0-5l0-5l0-5l0-5l0-5l0-5l0-5l0-5l0-5l0-5l0-5l0-5l0-5l0-5l0-5l0-5l0-5l0-5l0-5l0-5l0-5l0-5l0-5l0-5l0-5l0-5l0-5l0-5l0-5l0-5l0-5zM1905 1746l1 5l1 5l1 5l0 5l1 5l0 5l0 5l1 4l1 5l1 5l1 5l2 5l2 5l1 5l2 5l1 5l2 5l1 5l2 5l1 5l1 5l2 5l0 5l1 5l1 5l0 5l0 5l0 5l0 5l0 5l0 5l0 5l0 5l0 5l0 5l0 5l0 5l0 5l0 5l0 5l0 5l0 5l0 5l-1 5l0 5l0 5l-1 5l0 5l-1 5l-1 5l0 5l-1 5l-1 5l-1 5l-1 5l-1 5l-1 5l-1 5l-1 5l-1 5l-1 5l-1 5l-1 5l-1 5l-1 5l-1 5l-1 5l-1 5l-1 5l0 5l-1 5l-1 5l-1 5l0 5l-1 5l0 5l-1 5l0 5l-1 4l0 5l0 5l-1 5l0 5l0 5l-1 5l0 5l-3 0l0-5l0-5l-1-5l0-5l0-5l-1-5l0-5l-1-4l0-5l-1-5l0-5l-1-5l0-5l-1-5l-1-5l0-5l-1-5l-1-5l-1-5l-1-5l-1-5l-1-5l-1-5l-1-5l-1-5l-1-5l-1-5l-1-5l-1-5l-1-5l-1-5l-1-5l-1-5l0-5l-1-5l-1-5l-1-5l0-5l-1-5l0-5l-1-5l0-5l0-5l-1-5l0-5l0-5l0-5l0-5l0-5l0-5l0-5l0-5l0-5l0-5l0-5l0-5l0-5l0-5l0-5l0-5l1-5l0-5l1-5l1-5l1-5l1-5l1-5l2-5l1-5l2-5l1-5l2-5l2-5l1-5l2-5l1-5l1-5l1-5l1-4l1-5l0-5l0-5l0-5l1-5l1-5l1-5zM2130 1673l0 5l0 5l0 5l0 4l0 5l0 5l0 5l0 5l0 5l0 5l0 5l0 5l0 5l0 5l0 5l0 5l0 5l0 5l0 5l0 5l0 5l0 5l0 5l0 5l0 5l0 5l0 5l0 5l0 5l0 5l0 5l0 5l0 5l0 5l0 4l0 5l0 5l0 5l0 5l0 5l0 5l0 5l0 5l0 5l0 5l0 5l0 5l0 5l0 5l0 5l0 5l0 5l0 5l0 5l1 5l0 5l1 5l0 5l1 5l0 5l1 5l0 5l1 5l0 5l1 5l0 5l1 4l0 5l1 5l0 5l1 5l0 5l1 5l1 5l1 5l1 5l2 5l1 5l1 5l2 5l1 5l2 5l2 5l1 5l1 5l1 5l1 5l1 5l1 5l0 5l0 5l0 5l-1 5l-1 5l-1 5l-2 5l-1 5l-2 4l-2 5l-3 5l-2 5l-32 0l-2-5l-3-5l-2-5l-2-4l-1-5l-2-5l-1-5l-1-5l-1-5l0-5l0-5l0-5l1-5l1-5l1-5l1-5l1-5l1-5l2-5l2-5l1-5l2-5l1-5l1-5l2-5l1-5l1-5l1-5l1-5l0-5l1-5l0-5l1-5l0-5l1-4l0-5l1-5l0-5l1-5l0-5l1-5l0-5l1-5l0-5l1-5l0-5l1-5l0-5l0-5l0-5l0-5l0-5l0-5l0-5l0-5l0-5l0-5l0-5l0-5l0-5l0-5l0-5l0-5l0-5l0-5l0-5l0-4l0-5l0-5l0-5l0-5l0-5l0-5l0-5l0-5l0-5l0-5l0-5l0-5l0-5l0-5l0-5l0-5l0-5l0-5l0-5l0-5l0-5l0-5l0-5l0-5l0-5l0-5l0-5l0-5l0-5l0-5l0-4l0-5l0-5l0-5zM2360 1683l0 5l0 5l0 5l0 5l0 5l1 5l0 5l0 5l1 5l0 5l1 5l0 5l1 5l1 5l0 5l1 5l1 5l1 5l2 5l1 5l1 5l2 5l1 4l2 5l1 5l2 5l1 5l2 5l1 5l1 5l1 5l1 5l1 5l1 5l1 5l0 5l0 5l0 5l0 5l0 5l0 5l0 5l0 5l0 5l0 5l0 5l0 5l0 4l0 5l0 5l0 5l0 5l0 5l0 5l0 5l0 5l0 5l0 5l0 5l-1 5l-1 5l-1 5l-1 5l-2 5l-2 5l-2 5l-2 5l-2 5l-2 5l-1 5l-2 5l-1 4l-1 5l-1 5l0 5l-1 5l0 5l-1 5l0 5l-1 5l0 5l-1 5l-1 5l0 5l-1 5l-1 5l0 5l0 5l-1 5l0 5l0 5l0 5l0 5l0 5l0 5l0 5l0 4l0 5l0 5l-2 0l0-5l0-5l0-4l0-5l0-5l0-5l0-5l0-5l0-5l0-5l0-5l-1-5l0-5l-1-5l0-5l-1-5l0-5l-1-5l-1-5l0-5l-1-5l0-5l-1-5l0-5l-1-5l-1-5l-1-5l-1-4l-1-5l-2-5l-2-5l-1-5l-2-5l-2-5l-2-5l-2-5l-2-5l-1-5l-1-5l-1-5l0-5l0-5l0-5l0-5l0-5l0-5l0-5l0-5l0-5l0-5l0-5l0-4l0-5l0-5l0-5l0-5l0-5l0-5l0-5l0-5l0-5l0-5l0-5l1-5l0-5l1-5l1-5l1-5l1-5l2-5l1-5l1-5l2-5l1-5l2-5l1-5l2-4l1-5l1-5l2-5l1-5l1-5l1-5l1-5l1-5l1-5l0-5l1-5l0-5l1-5l0-5l1-5l0-5l0-5l0-5l0-5l0-5l0-5l0-5zM2619 1707l0 5l1 5l1 5l0 5l1 5l1 5l0 5l0 5l1 5l1 5l1 5l1 5l2 5l2 5l2 5l2 5l3 5l2 5l2 5l2 5l2 5l1 5l1 5l1 5l0 5l0 5l0 5l0 5l0 5l0 5l0 5l0 5l0 5l0 5l0 5l0 5l0 5l0 5l0 5l0 5l0 5l0 5l0 5l0 5l0 5l0 5l0 5l0 5l0 5l0 5l-1 5l-1 5l-1 5l-1 5l-2 5l-1 5l-2 5l-2 5l-2 5l-2 5l-2 5l-1 5l-2 5l-1 4l-2 5l-1 5l-1 5l-1 5l-1 5l-1 5l-1 5l0 5l-1 5l0 5l0 5l0 5l-1 5l0 5l0 5l0 5l0 5l0 5l0 5l0 5l-1 0l0-5l0-5l0-5l0-5l0-5l0-5l0-5l0-5l0-5l-1-5l0-5l0-5l-1-5l0-5l-1-5l-1-5l-1-5l-1-5l-2-5l-1-5l-1-4l-2-5l-2-5l-2-5l-2-5l-1-5l-2-5l-2-5l-2-5l-1-5l-2-5l-1-5l-1-5l0-5l0-5l0-5l0-5l0-5l0-5l0-5l0-5l0-5l0-5l0-5l0-5l0-5l0-5l0-5l0-5l0-5l0-5l0-5l0-5l0-5l0-5l0-5l0-5l0-5l0-5l0-5l0-5l1-5l2-5l1-5l2-5l3-5l2-5l2-5l3-5l2-5l2-5l2-5l1-5l1-5l1-5l0-5l1-5l0-5l0-5l1-5l1-5l1-5l0-5l1-5zM436 2385l0 5l0 5l0 5l1 5l0 5l1 5l1 5l0 5l1 5l1 5l0 5l0 5l-1 5l0 5l-1 5l0 5l-1 5l0 5l0 5l0 4l0 5l1 5l0 5l1 5l1 5l1 5l1 5l1 5l1 5l1 5l1 5l2 5l1 5l2 5l2 5l1 5l2 5l1 5l2 5l1 5l2 4l1 5l1 5l1 5l0 5l1 5l0 5l0 5l0 5l0 5l0 5l0 5l0 5l0 5l0 5l0 5l0 5l0 5l0 5l0 5l0 5l0 4l0 5l-1 5l0 5l-1 5l-1 5l-1 5l-1 5l-1 5l-2 5l-1 5l-2 5l-1 5l-2 5l-1 5l-1 5l-2 5l-1 5l-1 5l-2 5l-1 5l-1 5l-1 4l-1 5l0 5l-1 5l-1 5l0 5l-1 5l0 5l-1 5l0 5l0 5l-3 0l0-5l0-5l-1-5l0-5l0-5l-1-5l-1-5l0-5l-1-5l-1-5l-1-4l-1-5l-1-5l-1-5l-2-5l-1-5l-1-5l-2-5l-1-5l-2-5l-1-5l-2-5l-1-5l-1-5l-2-5l-1-5l-1-5l-1-5l0-5l-1-5l0-5l-1-5l0-4l0-5l0-5l0-5l0-5l0-5l0-5l0-5l0-5l0-5l0-5l0-5l0-5l0-5l0-5l1-5l0-5l1-5l0-5l1-5l2-5l1-4l1-5l2-5l1-5l2-5l2-5l1-5l2-5l1-5l2-5l1-5l1-5l2-5l1-5l1-5l1-5l0-5l1-5l0-5l1-5l0-5l0-4l0-5l0-5l-1-5l0-5l-1-5l0-5l-1-5l0-5l1-5l0-5l1-5l0-5l1-5l1-5l0-5l1-5l0-5l0-5l0-5zM664 2363l0 5l0 5l0 5l0 5l0 5l1 5l0 5l0 5l1 5l0 5l1 5l1 5l0 5l1 5l0 4l1 5l0 5l0 5l0 5l1 5l0 5l0 5l0 5l0 5l0 5l0 5l0 5l1 5l1 5l0 5l1 5l1 4l1 5l1 5l1 5l1 5l1 5l1 5l1 5l1 5l2 5l1 5l1 5l1 5l1 5l1 5l1 5l1 5l0 4l1 5l1 5l0 5l0 5l0 5l1 5l0 5l-1 5l0 5l-1 5l-1 5l-1 5l-2 5l-1 5l-2 5l-2 4l-2 5l-1 5l-2 5l-2 5l-1 5l-2 5l-1 5l-2 5l-1 5l-1 5l0 5l-1 5l1 5l0 5l0 5l0 5l-2 4l-1 5l-5 0l-2-5l-1-4l0-5l0-5l0-5l0-5l0-5l0-5l-1-5l-2-5l-1-5l-1-5l-2-5l-1-5l-2-5l-2-5l-2-5l-1-5l-2-4l-2-5l-1-5l-2-5l-1-5l-1-5l-1-5l0-5l-1-5l0-5l0-5l1-5l0-5l0-5l1-5l0-5l1-4l1-5l1-5l1-5l1-5l1-5l1-5l1-5l1-5l1-5l2-5l1-5l1-5l1-5l1-5l1-5l1-5l1-4l1-5l0-5l1-5l0-5l1-5l0-5l0-5l0-5l0-5l0-5l0-5l0-5l0-5l1-5l0-5l1-5l0-4l1-5l0-5l1-5l0-5l1-5l0-5l1-5l0-5l1-5l0-5l0-5l0-5l0-5l0-5zM924 2350l0 5l0 5l0 5l0 5l0 5l0 5l0 5l0 5l0 5l0 5l0 5l0 5l0 5l0 5l0 5l0 5l0 5l0 5l0 5l0 5l0 5l0 5l0 5l0 5l0 5l0 5l0 5l0 5l0 5l0 5l0 5l0 5l0 5l0 5l0 5l0 5l0 5l0 5l0 5l0 5l0 5l0 5l0 5l0 5l0 5l0 5l0 4l0 5l0 5l1 5l1 5l1 5l1 5l1 5l1 5l1 5l0 5l1 5l0 5l0 5l0 5l0 5l1 5l1 5l1 5l2 5l2 5l2 5l2 5l2 5l2 5l2 5l2 5l1 5l1 5l1 5l1 5l0 5l-1 5l0 5l-2 5l-1 5l-2 5l-2 5l-3 5l-2 5l-3 5l-2 5l-2 5l-2 5l-2 5l-1 5l-12 0l-2-5l-2-5l-2-5l-2-5l-2-5l-3-5l-2-5l-2-5l-3-5l-2-5l-1-5l-1-5l-1-5l-1-5l1-5l0-5l1-5l1-5l2-5l1-5l2-5l2-5l2-5l3-5l2-5l1-5l2-5l1-5l1-5l1-5l0-5l0-5l0-5l1-5l0-5l1-5l1-5l1-5l1-5l1-5l1-5l0-5l1-5l0-5l0-5l0-4l0-5l0-5l0-5l0-5l0-5l0-5l0-5l0-5l0-5l0-5l0-5l0-5l0-5l0-5l0-5l0-5l0-5l0-5l0-5l0-5l0-5l0-5l0-5l0-5l0-5l0-5l0-5l0-5l0-5l0-5l0-5l0-5l0-5l0-5l0-5l0-5l0-5l0-5l0-5l0-5l0-5l0-5l0-5l0-5l0-5l0-5zM1155 2359l0 5l1 5l0 5l0 5l1 5l0 5l0 5l1 5l0 5l1 5l0 5l1 5l1 5l0 5l1 5l1 5l0 5l1 5l1 5l0 5l1 5l1 5l1 5l1 5l1 5l0 5l1 5l1 5l1 5l1 5l1 5l0 5l1 5l1 5l1 5l0 5l1 5l1 5l0 5l1 5l0 5l1 5l0 5l1 5l0 5l0 4l0 5l0 5l0 5l0 5l0 5l0 5l0 5l-1 5l0 5l-1 5l-1 5l0 5l-1 5l-1 5l-1 5l-1 5l-1 5l-1 5l-1 5l-2 5l-1 5l-1 5l-1 5l-1 5l-1 5l-1 5l-1 5l-1 5l-1 5l-1 5l0 5l-1 5l-1 5l-1 5l0 5l-1 5l0 5l-1 5l0 5l-1 5l0 5l0 5l-1 5l0 5l0 5l0 5l-3 0l0-5l-1-5l0-5l0-5l-1-5l0-5l0-5l-1-5l0-5l-1-5l0-5l-1-5l-1-5l0-5l-1-5l-1-5l-1-5l-1-5l-1-5l-1-5l-1-5l-1-5l-1-5l-1-5l-1-5l-1-5l-1-5l-1-5l-1-5l-1-5l-1-5l-1-5l-1-5l-1-5l-1-5l-1-5l0-5l-1-5l0-5l-1-5l0-5l0-5l0-5l0-5l0-5l0-5l1-4l0-5l0-5l1-5l0-5l0-5l1-5l1-5l0-5l1-5l1-5l0-5l1-5l1-5l1-5l1-5l0-5l1-5l1-5l1-5l1-5l1-5l1-5l0-5l1-5l1-5l1-5l0-5l1-5l1-5l1-5l0-5l1-5l0-5l1-5l1-5l0-5l1-5l0-5l0-5l1-5l0-5l1-5l0-5l0-5l0-5zM1382 2360l0 5l0 5l0 4l0 5l0 5l0 5l0 5l0 5l0 5l0 5l0 5l0 5l0 5l0 5l0 5l0 5l0 5l0 5l0 5l0 5l0 5l0 5l0 5l0 4l0 5l0 5l0 5l0 5l0 5l0 5l0 5l0 5l0 5l0 5l0 5l0 5l0 5l0 5l0 5l0 5l1 5l1 5l1 5l1 5l1 5l1 4l1 5l1 5l1 5l1 5l2 5l2 5l2 5l2 5l3 5l2 5l3 5l2 5l1 5l1 5l0 5l0 5l0 5l-1 5l-2 5l-1 5l-2 4l-2 5l-2 5l-3 5l-2 5l-2 5l-1 5l-1 5l-1 5l-1 5l-1 5l-1 5l-1 5l-1 5l-2 5l-1 5l0 5l0 5l0 5l0 5l0 5l-1 5l-1 4l0 5l0 5l0 5l0 5l0 5l0 5l0 5l0 5l0 5l0 5l-2 0l0-5l0-5l0-5l0-5l0-5l0-5l0-5l0-5l0-5l0-5l0-4l-1-5l-1-5l0-5l1-5l0-5l-1-5l-1-5l-1-5l-1-5l-2-5l0-5l-1-5l-1-5l-1-5l-1-5l-2-5l-2-5l-2-5l-2-5l-2-5l-2-5l-2-4l-2-5l-1-5l-1-5l-1-5l0-5l0-5l1-5l2-5l2-5l2-5l2-5l3-5l2-5l3-5l2-5l1-5l1-5l1-5l1-5l1-5l1-4l2-5l1-5l1-5l1-5l0-5l0-5l0-5l0-5l0-5l0-5l0-5l0-5l0-5l0-5l0-5l0-5l0-5l0-5l0-5l0-5l0-5l0-4l0-5l0-5l0-5l0-5l0-5l0-5l0-5l0-5l0-5l0-5l0-5l0-5l0-5l0-5l0-5l0-5l0-5l0-5l0-5l0-5l0-4l0-5l0-5zM1650 2364l1 5l2 5l1 5l1 5l1 5l2 5l1 5l1 5l2 5l1 5l1 5l2 5l1 5l1 5l1 5l1 5l0 5l1 5l0 5l0 5l1 5l0 5l0 5l0 5l0 5l0 5l0 5l0 5l0 5l0 5l-1 5l0 5l0 5l-1 5l0 5l-1 5l-1 5l-1 5l0 5l-1 5l-1 5l-1 5l-2 5l-1 5l-1 5l-1 5l-1 5l-1 5l-1 5l-1 5l0 5l-1 5l-1 5l0 5l-1 5l0 5l0 5l-1 5l0 5l-1 5l-1 5l0 5l-1 5l-1 5l-1 5l-1 5l0 5l-1 5l-1 5l0 5l-1 5l0 5l0 5l-1 5l0 5l0 5l0 5l0 5l0 5l0 5l-1 0l0-5l0-5l0-5l0-5l0-5l-1-5l0-5l0-5l-1-5l0-5l-1-5l0-5l-1-5l-1-5l0-5l-1-5l-1-5l-1-5l-1-5l0-5l-1-5l0-5l-1-5l0-5l-1-5l0-5l-1-5l0-5l-1-5l-1-5l0-5l-1-5l-1-5l-1-5l-1-5l-2-5l-1-5l-1-5l-1-5l-1-5l-1-5l-1-5l-1-5l0-5l-1-5l-1-5l0-5l0-5l-1-5l0-5l0-5l0-5l0-5l0-5l0-5l0-5l0-5l0-5l0-5l0-5l1-5l0-5l1-5l0-5l1-5l1-5l1-5l1-5l1-5l2-5l1-5l1-5l2-5l1-5l1-5l2-5l1-5l1-5l1-5l2-5zM1904 2458l1 5l1 5l0 5l0 5l0 5l0 5l0 5l1 5l0 5l1 5l1 5l1 5l1 5l1 5l1 5l1 5l1 5l1 5l1 5l1 5l2 5l1 5l1 5l1 5l1 5l1 5l2 5l0 5l1 5l1 4l1 5l1 5l0 5l0 5l1 5l0 5l0 5l0 5l-1 5l-1 5l-1 5l-1 5l-1 5l-1 5l-2 5l-2 5l-1 5l-2 5l-1 5l-2 5l-1 5l-1 5l-2 5l0 5l-1 5l-1 5l0 5l-1 5l-1 5l-1 5l0 5l-1 5l-1 4l-1 5l-1 5l0 5l-1 5l0 5l-1 5l0 5l0 5l0 5l0 5l0 5l0 5l0 5l0 5l0 5l0 5l-1 0l0-5l0-5l0-5l0-5l0-5l0-5l0-5l0-5l0-5l0-5l-1-5l0-5l-1-5l0-5l-1-5l-1-5l-1-4l0-5l-1-5l-1-5l-1-5l0-5l-1-5l-1-5l0-5l-1-5l-1-5l-2-5l-1-5l-1-5l-2-5l-2-5l-1-5l-2-5l-1-5l-2-5l-1-5l-1-5l-1-5l-1-5l0-5l-1-5l0-5l1-5l0-5l0-5l1-5l0-5l1-5l1-4l1-5l1-5l1-5l1-5l1-5l1-5l1-5l2-5l1-5l1-5l1-5l1-5l1-5l1-5l2-5l1-5l0-5l1-5l1-5l1-5l1-5l0-5l0-5l0-5l0-5l0-5l0-5l1-5l1-5zM2135 2357l2 5l2 5l0 5l1 5l1 5l1 5l2 5l1 5l2 5l2 5l2 5l2 5l1 5l2 5l1 5l1 5l1 5l1 5l0 5l0 5l0 5l0 5l0 5l0 5l0 5l0 5l0 5l0 5l-1 5l-1 5l0 5l-1 5l-1 5l-1 5l-1 5l-1 5l-1 5l-1 5l-1 5l-1 5l-1 5l-2 5l-1 5l-1 5l-1 5l-1 5l-1 5l-1 5l0 5l-1 5l0 5l0 5l0 5l-1 5l0 5l0 5l-1 5l0 5l-1 5l-1 5l-1 5l0 5l-1 5l-1 5l-1 5l0 5l-1 5l0 5l0 5l0 5l0 5l0 5l-2 0l0-5l0-5l0-5l0-5l0-5l-1-5l0-5l-1-5l-1-5l-1-5l0-5l-1-5l-1-5l-1-5l0-5l-1-5l0-5l0-5l-1-5l0-5l0-5l0-5l-1-5l0-5l-1-5l-1-5l-1-5l-1-5l-1-5l-1-5l-2-5l-1-5l-1-5l-1-5l-1-5l-1-5l-1-5l-1-5l-1-5l-1-5l-1-5l0-5l-1-5l-1-5l0-5l0-5l0-5l0-5l0-5l0-5l0-5l0-5l0-5l0-5l1-5l1-5l1-5l1-5l2-5l1-5l2-5l2-5l2-5l2-5l1-5l2-5l1-5l1-5l1-5l0-5l2-5l2-5zM2365 2478l1 5l1 5l2 5l1 5l1 5l1 5l0 5l1 5l0 5l0 5l0 5l0 5l1 5l1 5l0 5l1 5l1 5l1 5l1 4l1 5l1 5l1 5l1 5l1 5l1 5l1 5l0 5l1 5l1 5l0 5l1 5l0 5l1 5l0 5l0 5l0 5l0 5l0 5l0 5l0 5l0 5l0 5l0 5l0 5l0 5l0 5l0 5l0 5l0 5l0 5l0 5l0 5l0 5l0 5l0 5l0 5l0 4l0 5l0 5l0 5l-1 5l-2 5l-2 5l-3 5l-2 5l-3 5l-3 5l-2 5l-3 5l-2 5l-2 5l-1 5l-1 5l-1 5l-1 5l-4 0l0-5l-1-5l-2-5l-1-5l-2-5l-2-5l-2-5l-3-5l-3-5l-2-5l-3-5l-2-5l-3-5l-1-5l-1-5l-1-5l0-5l0-5l0-4l0-5l0-5l0-5l0-5l0-5l0-5l0-5l0-5l0-5l0-5l0-5l0-5l0-5l0-5l0-5l0-5l0-5l0-5l0-5l0-5l0-5l0-5l1-5l0-5l0-5l1-5l1-5l0-5l1-5l1-5l1-5l0-5l1-5l1-5l1-5l1-5l1-5l1-4l1-5l1-5l1-5l1-5l0-5l1-5l0-5l0-5l1-5l0-5l0-5l1-5l1-5l1-5l1-5l1-5l1-5l1-5zM2618 2423l0 5l0 5l0 5l0 5l0 5l0 5l0 5l0 5l0 5l0 5l0 5l0 5l0 5l0 5l0 5l0 5l0 5l0 5l0 5l0 5l0 5l0 4l0 5l1 5l0 5l0 5l1 5l0 5l1 5l0 5l1 5l1 5l0 5l1 5l1 5l0 5l0 5l0 5l1 5l0 5l0 5l0 5l1 5l1 5l0 5l1 5l1 5l1 5l1 5l1 5l1 5l2 5l1 5l1 5l1 5l1 5l2 5l1 5l1 5l1 5l1 5l0 5l1 5l1 5l0 4l1 5l0 5l0 5l0 5l0 5l-1 5l-1 5l-1 5l-1 5l-2 5l-1 5l-2 5l-2 5l-2 5l-2 5l-2 5l-1 5l-2 5l-2 5l-1 5l-1 5l-14 0l-1-5l-2-5l-1-5l-2-5l-2-5l-2-5l-1-5l-2-5l-2-5l-2-5l-2-5l-1-5l-2-5l-1-5l-1-5l0-5l0-5l0-5l0-5l0-5l0-5l1-4l1-5l0-5l1-5l1-5l1-5l1-5l1-5l1-5l1-5l2-5l1-5l1-5l1-5l1-5l1-5l2-5l1-5l1-5l0-5l1-5l1-5l0-5l1-5l0-5l0-5l0-5l0-5l1-5l0-5l1-5l0-5l1-5l1-5l0-5l1-5l1-5l0-5l0-5l1-5l0-5l0-5l0-5l0-4l0-5l0-5l0-5l0-5l0-5l0-5l0-5l0-5l0-5l0-5l0-5l0-5l0-5l0-5l0-5l0-5l0-5l0-5l0-5l0-5l0-5z" fill="#E41A1C" stroke="#E41A1C" stroke-width="1.2" stroke-linejoin="round"/>
<path d="M541.1 887V938M690.6 897V944M820.2 877V978M1064.5 838V958M182.8 1288V1334M296.7 1262V1330M461.8 1177V1288M655.6 1240V1320M690.6 1182V1283M690.6 1402V1423M785.2 1199V1240" stroke="#fff" stroke-opacity="0.85" stroke-width="2.2" stroke-linecap="round" fill="none"/>
<path transform="scale(.5)" d="M1152 1679zm418-4zm559-2zm230 10zm0 4zm-1048-7zm-716 15zm-2-11zm-1 0zm-226 9zm223 18zm7-1zm2-8zm326-6zm0 11zm158-2zm229 2zm520 3zm458-2zm0 2zm329-3zm0 20zm0-6zm0 1zm0-6zm-787-2zm-679 10zm-70-1zm0-1zm-158 5zm-70-3zm-191-5zm0 6zm-66-7zm-4 9zm-1-13zm0 3zm0-1zm4 25zm1-13zm1 2zm2 9zm5 3zm59-11zm260-1zm158 11zm70-6zm159 2zm0 3zm514-4zm4-1zm3 6zm456-10zm1 2zm0 2zm0 2zm71 6zm260 4zm-1 10zm-3-10zm-1 0zm-256 0zm-69 1zm-388 4zm-1-6zm-3 13zm-54-4zm-5-9zm-8 1zm-5 5zm-8 0zm-6 5zm-172-7zm-70 1zm-259 2zm-229-7zm0 12zm0-4zm0 1zm-158 4zm-70-6zm0-3zm-191-2zm-54 9zm-1-2zm-12-4zm-6 4zm0 2zm-2-11zm-1 5zm0-5zm-1 10zm-2 2zm0-3zm-2-8zm-8 20zm13-6zm5 3zm3 1zm2-1zm3 5zm9-8zm2 9zm1 5zm1-1zm1-1zm0-4zm50-1zm260-3zm158 7zm0-12zm70 0zm1 13zm657 2zm2 0zm13-10zm1 8zm1-2zm4-1zm2 2zm8-5zm2-4zm6 4zm47 2zm233-5zm157 8zm76-12zm258 9zm7 21zm-8-9zm-3 4zm-2 0zm0-8zm-5 5zm-3 6zm-252-11zm-68 8zm0-6zm-1-1zm-226 5zm-212-7zm0 6zm-4 7zm-1 0zm-1 1zm-12-11zm-3 3zm0 1zm-2 1zm-10-7zm-3 14zm-4-14zm-237 4zm0 7zm-189 3zm0 0zm-70-1zm-158-9zm-71 7zm-228-4zm-187 6zm-8 0zm-41-7zm-1 0zm-2-1zm-7 1zm-3 4zm-8-9zm-11 1zm0 8zm-1 1zm-7-1zm-3 2zm-1 2zm-1 0zm-4-13zm-133 5zm0 0zm-1 5zm-70 3zm0 9zm68 6zm4-1zm136-3zm8-7zm7 5zm2-8zm0 5zm1 2zm3 7zm6-10zm1 10zm2-12zm5 13zm2 0zm1-12zm1 10zm2-9zm4 10zm2-11zm36 10zm10 0zm188 2zm1 0zm68-6zm6-5zm218 11zm2-9zm5-2zm655 3zm0-1zm2 8zm2-12zm4 4zm0 0zm0 3zm1-6zm17 1zm9 2zm3-6zm1 4zm2 5zm2-6zm3 9zm37-5zm10 4zm3-4zm154 2zm70-4zm157 10zm3-1zm2-9zm2 6zm58 2zm9 1zm4-13zm0 6zm2 8zm232-6zm3-2zm4-6zm4 0zm4 11zm3-6zm13-4zm11 13zm-12 10zm-10-1zm-248-6zm-1 4zm-22 0zm-1 8zm-4-5zm-49-9zm-1 4zm-1 9zm-7-2zm-2-10zm-371 13zm-2 0zm-1-4zm0 2zm-51 0zm-2-9zm-2 11zm-3-6zm-4 3zm-3-4zm0 6zm-4 2zm-3-1zm-11-10zm-5 8zm-8 2zm-2-4zm-2-6zm-238-1zm0 12zm-412-11zm-5-4zm-2 5zm-3 4zm-2 3zm-219-6zm-6 6zm-66-5zm-1 6zm-1-13zm-181 5zm-4-2zm-8 4zm-41-2zm-3-2zm-3 3zm-7 4zm-2 4zm-10 1zm-7-2zm-3-2zm-7-8zm-4-3zm-1 6zm-3-6zm-134 12zm0 1zm-71 2zm-2 3zm1 3zm0-5zm2 3zm0 11zm68-2zm1-6zm137 1zm5 5zm3-1zm1-11zm5 8zm15-8zm11 4zm41-2zm3 10zm1-5zm4-6zm1 4zm6 2zm4-6zm1 13zm182-4zm0-8zm67 6zm3 2zm5-6zm153-2zm63 8zm6-10zm1 11zm9-4zm479-7zm0 6zm170-1zm4 7zm10-7zm2 0zm3-2zm7 1zm1 10zm6-1zm2-6zm1 3zm5-3zm4-7zm30 13zm3-13zm8 12zm4-1zm5-6zm224-1zm147 9zm4-7zm6 5zm4 4zm1-5zm61 2zm4 2zm9-14zm2 15zm2-14zm1 14zm3-8zm7 6zm218-9zm4 8zm4-11zm4 12zm3-8zm2 5zm7 2zm4-3zm9-5zm2 11zm5-4zm2-3zm0 19zm-1-6zm-7 5zm-1-2zm-7 0zm-12-8zm0 11zm-6 1zm-9 1zm-8-3zm-215-10zm-1 12zm-10 0zm-5-8zm-3 7zm-3-3zm0 4zm-7-4zm-6-8zm0 6zm-37-4zm-2 1zm-7 1zm0 0zm-8 2zm-1 3zm0 5zm-3-3zm0-8zm-8 5zm-1 6zm-1-14zm-4 8zm-212-5zm-140 5zm-10-3zm-3-1zm-2-2zm-1 4zm-4 1zm-5 2zm-1 1zm-12-9zm0 14zm-31-4zm-21-4zm-9 6zm-2-2zm-2-3zm-5 5zm-171-9zm0 2zm-70 5zm-405 1zm-2-10zm-3 3zm-1-4zm-1 5zm-7 0zm-3 8zm-2-9zm-213 10zm-3-7zm0-4zm-2 5zm-2 4zm-2-5zm-8-5zm-238 11zm-1-7zm-12 6zm-1-4zm-3-2zm-1 2zm-2-6zm0 12zm-5-4zm-3-7zm-2 5zm-1-3zm0 1zm-38-1zm-4 0zm-6 0zm0 4zm-1 0zm-10 4zm-5-11zm0 10zm-2 2zm-139-14zm-4 0zm-71 2zm-3-2zm-2 14zm-1-15zm-2 15zm-1 0zm3 14zm2-4zm1 4zm6-9zm0-1zm4 5zm2 4zm54-4zm6 1zm1 4zm6 1zm139-6zm2-6zm8 12zm1-9zm1-5zm8 8zm5-2zm38-2zm6-2zm10 5zm2-6zm6 3zm3 6zm2-5zm5 8zm3-10zm231 3zm7 3zm2 5zm7-10zm0 9zm5-6zm1-5zm197 13zm5-9zm0 4zm4-4zm11 9zm1-6zm1 2zm3-9zm3 3zm4-4zm5 1zm143 13zm0-4zm1 2zm503-9zm4 11zm6 0zm15-15zm2 12zm3-1zm3-9zm40 3zm17 1zm3 9zm17-2zm133-9zm3 7zm67-3zm139-5zm4 5zm1 0zm10-4zm18 11zm2-14zm3-1zm4 14zm1-2zm2-8zm26-4zm4 12zm12 2zm7-5zm8-2zm4 4zm4 4zm2-1zm1-6zm2-5zm165 5zm46-8zm5 15zm10-12zm35 0zm-15 19zm-13-3zm-3 5zm-229-4zm-4 2zm0 1zm-12-2zm-4 1zm-1 3zm-19 2zm-2-3zm-6 0zm-22 2zm-7 4zm-3-12zm-4-2zm0 2zm-3 8zm-1-3zm-1 8zm-4-4zm-10-8zm-2 4zm-12 0zm-138 4zm-68-10zm-4 9zm0-5zm-148 3zm-5-5zm-3 2zm-8-4zm-5 12zm0 1zm-3-3zm-10-11zm-32 9zm-2-8zm-1 1zm-2 2zm-3 4zm-1-8zm-5 6zm-2 8zm-4-8zm-2-1zm0 2zm-4-5zm-436 10zm-66 1zm-2-9zm0-3zm-9 12zm-128 1zm-4-9zm-2-1zm-6 7zm-5 0zm-4 0zm-2-11zm-12 0zm-2 7zm-216 0zm-2 5zm-1 3zm-4-3zm-3 3zm0-13zm-1-2zm-5 13zm-221-9zm-3 0zm0 11zm-2-2zm-1-1zm-21 1zm-7-5zm-5-3zm0 1zm-2-5zm-2-1zm-46 8zm-8 3zm-138-6zm-7 4zm-4-9zm-4 6zm-10-4zm-1 11zm-3-10zm-45-2zm-2 10zm-3-2zm-2-4zm-4 3zm-7-6zm-6 2zm-3 24zm10-11zm0 11zm2 3zm0-5zm7-3zm1-6zm13 7zm0 3zm31-2zm6 3zm12-10zm5 12zm10-2zm141-12zm2 2zm0 1zm1 10zm1-10zm3 10zm2-3zm58 1zm1-6zm3 10zm7-2zm6-3zm1-9zm2 5zm1 6zm178-6zm0 7zm50-5zm3 4zm5-3zm4-6zm7 11zm3-10zm11 11zm1-3zm0 0zm6 3zm137-3zm1 3zm1-1zm61-4zm4-6zm1 3zm8-6zm1 10zm3-11zm6 3zm4-1zm5 5zm0 4zm121 4zm2-2zm4-9zm2 7zm1-11zm2 6zm2 6zm2-8zm1 8zm7 2zm2-8zm318 7zm180-8zm2 2zm1-4zm3 2zm7 4zm0 2zm1 4zm6-5zm43-6zm7 4zm5-8zm12 2zm1 7zm8 5zm4 1zm5-1zm129-6zm11 7zm206-9zm2 3zm3-1zm1 3zm1-2zm1-1zm4-1zm1-4zm5 1zm4 3zm1 7zm11-6zm3-5zm4 3zm20 0zm1-5zm1 4zm15-5zm28 1zm6 1zm0 9zm3-5zm163-3zm56-1zm4 13zm5-2zm8-7zm2-6zm1 5zm12 3zm6-8zm2 21zm-1-1zm-2 6zm-1-4zm-5 5zm-3-9zm-3-2zm-27 2zm-1 13zm-1-10zm-5 1zm-2 8zm-3-2zm-38 0zm-9-5zm-2-1zm-161-1zm-9 0zm-9-5zm-7 11zm0 2zm-8-9zm-4 11zm-4-8zm-1 7zm-25-14zm-5 7zm-3 2zm-3-3zm-5 9zm-9-1zm-1-8zm-3 4zm-2-7zm-6 3zm-10-2zm-205 3zm-3 1zm-2-7zm0-1zm-4 5zm-130-5zm-3 3zm-9 7zm-7-3zm-14 6zm-50-7zm-15 8zm-255-4zm-188 2zm0 1zm-1-7zm-55 6zm-1 1zm0 2zm-1-14zm-2 1zm-4 11zm-3-1zm-2 2zm-12-6zm-4-5zm-2 11zm-2-7zm0 0zm-122-1zm-10-5zm-2-1zm-15 13zm0 0zm-2-10zm-4 4zm-9 6zm-44 0zm0-12zm-2 6zm-1 7zm-1 1zm-1-2zm-1-5zm-132-1zm-5 8zm-2-14zm-1 8zm-4 0zm-4-8zm-2-1zm-1 8zm-1 1zm-9 0zm-1 6zm-6-2zm-56-11zm-3 1zm-164 5zm-4-5zm-3 6zm-1-6zm-1 9zm-8 0zm0-11zm-10-1zm0 4zm-12 4zm-5 7zm-6-9zm-46-4zm-1 9zm0-9zm-131 8zm-6-7zm-8 2zm-1-2zm-9 7zm-1 5zm-2-13zm-2 4zm-1 6zm0 1zm-2-2zm-3 3zm0-8zm-1-6zm-5 1zm-3 0zm-6 12zm-29-3zm-8 0zm0-9zm-3 4zm-3-5zm-11 15zm-4 0zm-1-14zm-7 28zm1-8zm12 8zm30-13zm2 2zm0 4zm20-5zm0 2zm13 1zm26 1zm13 10zm132-15zm54 14zm2 0zm10-4zm0-7zm0 8zm2-11zm6 12zm5 1zm3-11zm4 12zm167-1zm11-11zm5 5zm0 3zm43 1zm1-3zm1 5zm0-2zm5-1zm1-1zm12 4zm2 2zm7-6zm11 2zm3 4zm0-11zm125 5zm0-4zm1 8zm0-11zm1 10zm4-8zm2 3zm3 8zm0-8zm1 7zm2-6zm39-3zm2-4zm3 2zm2 5zm2-4zm4 11zm5-9zm1 3zm2-7zm3 8zm5-8zm1 8zm4 3zm2-12zm7 1zm0 7zm3-9zm0 8zm0-3zm115-5zm0 2zm0 13zm0-2zm6-6zm3-1zm5 4zm4 0zm0-5zm1 6zm1 3zm5-10zm8-4zm3 12zm317-11zm186 9zm12-3zm55 3zm20-4zm1-3zm3 10zm3-5zm4 1zm2-2zm128-6zm1 14zm4-12zm209-3zm6 11zm9-3zm2 0zm2 3zm6 2zm1-8zm0 10zm0-1zm3-2zm8-7zm29-3zm3 0zm22 2zm1 9zm12-11zm0 8zm2-3zm10 3zm2 3zm150-1zm1-6zm1 8zm1-8zm2 6zm4 1zm4 0zm1-2zm1-11zm0 13zm5-8zm1-2zm47 5zm1-2zm11-3zm5-3zm12 7zm4-7zm-3 28zm-10 0zm-1-11zm-7 10zm-3-9zm-1 6zm-14-3zm0-5zm-41 15zm-2-15zm-1 6zm0 2zm-1-5zm-4 3zm-3 3zm-1-8zm-4 7zm-7-2zm-6 8zm-146-11zm-19 12zm-7-6zm-1-8zm-21 13zm-31-9zm-5 10zm-4-2zm-8 0zm-1-13zm0 14zm-1-1zm-2-5zm-5-3zm-1-3zm-3 3zm-144 4zm0-3zm-65 4zm-7 0zm-3 3zm-134-1zm-10-1zm-12-5zm-2 6zm-5-4zm-8 1zm-5 2zm-46-4zm-262-4zm0 9zm-185 3zm0-5zm-1-2zm-1 0zm-2-3zm-47 6zm-2 4zm-3-13zm-4 1zm0 1zm-4 5zm-6-3zm-1-5zm0 14zm-2-12zm-3 3zm-1-2zm-4 1zm0-3zm-1-2zm0 4zm-2 0zm-3 10zm-1-6zm-1 5zm-1 1zm-2-10zm-1-4zm-140 0zm-7 7zm-1-1zm-6-3zm-38 7zm-1 2zm-2-7zm-3-4zm-3 14zm-1-8zm0-2zm-4 9zm-2-12zm0 11zm-1 0zm-3-10zm-2-2zm-2 8zm0-9zm-2 15zm-5-11zm0 2zm-3 8zm-119-13zm-1 9zm0-3zm-11-7zm-2 2zm-3 7zm-2-8zm-6 6zm-2-7zm-3 0zm-15 3zm-35 6zm0 4zm-2-3zm-1-9zm-4 0zm0 12zm-7-2zm-3-7zm-7 10zm0-13zm-3 5zm-156 8zm-11-1zm0-6zm-6 7zm-6-1zm0-6zm-3-5zm-3 8zm-4 1zm-2-3zm-56-8zm-1 0zm-156 0zm-3 14zm-13-5zm-9-4zm0 4zm0 6zm-27-4zm-1-10zm-7 5zm-14 6zm-17-11zm-2 3zm-3 9zm-1 4zm3 12zm1-4zm1-5zm9-2zm2 6zm6 2zm2-2zm3 5zm1-12zm0 1zm16 3zm1 0zm2 3zm5-1zm23-6zm13 7zm0 5zm2-5zm5 1zm9-8zm7 4zm2 6zm0-9zm8 8zm1-9zm184 11zm10 3zm0-15zm3 15zm3-8zm8-1zm6 7zm2-2zm2-7zm3 4zm150 4zm7-4zm4-8zm1 4zm1 7zm4-2zm2-8zm2-1zm7 12zm0 3zm6-11zm7 1zm38-4zm4 4zm1 1zm5-6zm1 9zm7-5zm3-3zm12 6zm117-2zm2 4zm1-7zm3 6zm0-2zm2 2zm2-3zm1 8zm5-7zm2 4zm5 5zm1-14zm2 4zm1-5zm5 14zm0-2zm0 2zm4-14zm3 12zm1-7zm33-2zm8 9zm2-1zm13 4zm5-9zm0-3zm5-1zm0 12zm4-1zm2-6zm115-7zm2 4zm1 1zm0 5zm6-1zm0-8zm0 3zm5-3zm1 9zm2-8zm2 5zm2-1zm2-3zm1 7zm0 5zm2-9zm1-1zm8-1zm4 4zm1 0zm3-6zm0 2zm1 8zm41-3zm3-1zm2 6zm2-12zm2 6zm6 4zm2 3zm181-3zm0 3zm253-13zm0-1zm13-1zm39 10zm16-6zm19-4zm9 6zm139-1zm3 0zm218 2zm13 2zm46-4zm34 5zm156-2zm1 4zm3-3zm4 5zm2-3zm4-11zm2 15zm5-12zm3 11zm4-9zm3 3zm1 6zm1-4zm2-8zm3 4zm24-6zm2 13zm4-11zm1-1zm0 12zm13-8zm2-5zm29 12zm1 3zm-6 15zm-18-3zm-14 0zm-32-9zm-2 11zm-1-2zm-1-11zm-1 4zm-10 3zm-15-1zm-2 3zm-1 6zm-2-10zm-3 7zm-7-4zm-146-6zm0 11zm-9-11zm-3-1zm-1 1zm-11 10zm-2 2zm-2-6zm-5 6zm-6-10zm-5 5zm-4-1zm-1-4zm-36 1zm-3 7zm-3 3zm-1-4zm-1 0zm-159-8zm-1-2zm0 9zm-70-6zm-133 5zm-9 6zm-20-5zm-3 4zm-7-1zm-52-7zm-1-2zm-5 10zm-187-12zm0 8zm-3-1zm0-9zm-1 4zm-2 11zm-247-15zm0 3zm-13 12zm-1-14zm-2 8zm-46-6zm-4 10zm-5-9zm-6-3zm-4 6zm-1 2zm-9-3zm-140 0zm-8-5zm-1 8zm-1-3zm-2-3zm0 4zm-6-6zm-34 4zm-1-5zm-5 1zm-1 1zm-6 0zm-4 10zm-1 0zm-6-3zm0-1zm-6 6zm-6-9zm-2 1zm-2 3zm-6-7zm-2 7zm-111 6zm-7-13zm-4 2zm0 7zm-20-3zm-4 6zm-6-9zm-3 8zm-32-2zm-1 0zm-2-6zm-7-1zm-1-2zm-5-1zm-4 0zm-11 13zm-4-8zm-4 6zm-156 0zm-6 2zm-9-14zm-4 9zm-3-6zm-193-1zm-36 9zm-4-4zm-8 7zm-2-10zm-24 0zm0 4zm-4-4zm-2 5zm-4-5zm-5 8zm-2-4zm-2-7zm0 13zm-1-3zm-4 3zm-7-8zm-13-3zm-1-3zm6 25zm2-4zm13 3zm5 2zm1 4zm10-2zm0-1zm1-1zm0 4zm2-1zm9-13zm20 6zm4 0zm1 3zm5 4zm0 1zm1-3zm5 3zm18-11zm3 2zm4 5zm2-5zm6-1zm133 0zm65 6zm2-9zm1 8zm6-5zm3 11zm1-10zm163 9zm3-1zm4-13zm2 8zm7-2zm0 8zm1-2zm0 0zm3-8zm1 5zm1-9zm7 0zm5 15zm40-12zm0 5zm4 1zm5 1zm7 1zm0 4zm5-7zm8-3zm123 3zm3-6zm7 6zm3-2zm0 9zm3-5zm4 3zm9-7zm8 5zm3-1zm43-4zm11-1zm3 4zm0 6zm1-8zm1-2zm0 1zm4 1zm138-7zm7 1zm3 0zm0 2zm3-2zm1 10zm0 0zm2-4zm0 5zm2-7zm1-3zm45 6zm7-7zm7-1zm1 10zm0-7zm3 6zm11-9zm2 11zm3 1zm164 3zm3-2zm4-7zm0 8zm1-6zm1-4zm0 2zm1 9zm2-8zm0-7zm65 4zm3 11zm0-9zm2-5zm184 11zm49-9zm4 4zm2 6zm18-4zm5 1zm15-2zm1 2zm129-9zm1 1zm1 7zm5-4zm0 9zm3-12zm0 7zm3-6zm60 12zm4-6zm0-4zm0-2zm3 10zm156-13zm2 15zm2-5zm2-5zm1 5zm41-4zm5 3zm17-7zm8-2zm4 7zm161-7zm1 4zm2-3zm0 0zm17 7zm0 5zm1-3zm0 2zm0 3zm7-4zm0 0zm5-7zm4 3zm0 3zm2 4zm1-9zm2-3zm24-1zm4 7zm10-7zm19 3zm1-3zm0 6zm-5 9zm-5 11zm-6-1zm-3-3zm-7 0zm-2-5zm-32 4zm-8-4zm-11 8zm-14-8zm-3 4zm-2 0zm-5 9zm-2-4zm-3-11zm-147 10zm-10 3zm-5-5zm-10 2zm-3-6zm-221 0zm-2 3zm-1 3zm-55 4zm-10-8zm-2 2zm-1-4zm-5-2zm-132 7zm-20 6zm-4-6zm0-7zm-2 10zm-7-7zm-55 5zm0 4zm-183-6zm-7 5zm-1-5zm-1 1zm-1-7zm-56 8zm-2-5zm-6-5zm-2 7zm-2-1zm-5 8zm-164-6zm-6-6zm-3 7zm-1-4zm-7-2zm0 10zm0-9zm-1 4zm-8 6zm-2-6zm-3 7zm-6-8zm-51-6zm-1 1zm-164 10zm-4-3zm-1-8zm-50 10zm-1-1zm-3-3zm0-6zm0 8zm-2-2zm-1-3zm-17 7zm-136 4zm-1-2zm-2-3zm-2-5zm-5 4zm-2-3zm-9 9zm-2-8zm-1-4zm-37 0zm-1-2zm-2-1zm0 1zm-1 6zm-1 4zm-3-5zm-2 1zm0-1zm-3-5zm-1 4zm0 3zm-6-3zm-5 10zm0-4zm-1 0zm-13-6zm-1 6zm0-5zm-3-5zm-162 2zm-9-3zm-1 9zm-199 5zm-8-7zm-1-3zm0 2zm-2 6zm-9-1zm-7-1zm-7-8zm-4 9zm-1-5zm-4 6zm-43 1zm-7-6zm-1 5zm-1 1zm-8-13zm0 6zm0-3zm-1 12zm-8-12zm12 13zm7 10zm0-3zm1 6zm69-4zm1 5zm1-6zm18 2zm3 1zm201-9zm183 5zm5-6zm4 5zm1-2zm4 7zm12-4zm0 2zm51-5zm158-3zm0 8zm2-1zm2 5zm3-12zm1 6zm3 4zm0-9zm2 1zm61 4zm2 8zm4-11zm153-2zm49 5zm2 8zm4-10zm5 2zm0-6zm9 9zm18-10zm0 15zm5 0zm2-6zm0-2zm1-5zm152 0zm2 0zm2 8zm0 1zm10-11zm0 5zm1-3zm8 6zm2-6zm5 8zm44-5zm0 0zm8-3zm10 9zm241-9zm9 3zm8 6zm0 4zm1-8zm8 5zm133-5zm6-3zm7 7zm2-2zm2-1zm4 1zm3 0zm51-6zm4 1zm0-3zm4 4zm157 6zm0-6zm0-4zm2 0zm72 1zm4 12zm2-12zm169 12zm0-9zm3 0zm2 7zm1-5zm2 3zm1 3zm5-11zm13 8zm0-10zm55 5zm0 22zm-1 3zm-2-2zm-58-1zm0 0zm0 4zm-1-15zm-1 0zm-8 15zm0-7zm0-5zm-2 1zm-2 10zm-2 0zm-1-6zm0 2zm-5 4zm-169-11zm-4 5zm-3-5zm-5 1zm-5-2zm-213 10zm-2 1zm-7-13zm-1 1zm-3 14zm-1-11zm-54 8zm-1-4zm-10-5zm-4 5zm-1-5zm-1 2zm-3 1zm-1 0zm-2-3zm-6 7zm0-2zm-126-1zm-8 5zm-254-6zm-3-5zm0 2zm-2 11zm-2-8zm-1 9zm-2-7zm0-2zm0 2zm-4-3zm0 10zm-2-13zm0 13zm-1-4zm-6 4zm-1-15zm0 1zm-3 9zm-41 4zm-4-4zm-6 5zm-2-3zm-6-11zm-2 7zm-2-1zm-6-2zm-6 8zm0-11zm-161 1zm-1 3zm0-5zm-3 4zm-12 8zm-6-8zm-4 6zm-2 0zm-3-1zm-4 0zm0-5zm-44 5zm0-6zm0 3zm0-1zm0 4zm-161-4zm-227 2zm-2 4zm0-8zm0 1zm-63 9zm-1-9zm-2-2zm0 1zm-3 2zm-4 7zm-187-9zm-1 0zm-67 11zm-149-1zm-1-14zm-1 0zm-3 13zm-10-5zm-3-6zm-1 8zm0-2zm-6 5zm-46-9zm0-2zm-12 10zm0-4zm4 18zm1 2zm61-10zm3 9zm4-6zm1 1zm11 2zm219 0zm184-7zm3 10zm1 0zm0 3zm2 1zm1-7zm64 6zm3 1zm5-14zm1-1zm153 14zm2-13zm68 4zm204 2zm11-4zm6 6zm0 6zm2-15zm7 11zm4-10zm2 10zm8 0zm154-2zm7 3zm6-9zm12 4zm6 3zm1-1zm1-9zm4 3zm1 3zm40 5zm5 1zm2-6zm11-1zm1 1zm14 9zm170-14zm0 0zm65 1zm3 10zm1-8zm1 2zm6 7zm1-1zm6-11zm123 10zm2-8zm2 7zm1-9zm4 2zm4 5zm3 6zm24-1zm40-3zm3 2zm6-4zm2-2zm1 7zm0-8zm0-5zm1 9zm7-3zm1 7zm2 1zm217-4zm4 0zm1 0zm178 4zm5-3zm1-7zm3 11zm1-4zm1-10zm67 14zm-66 5zm-1 2zm-3 7zm-2-12zm-407 5zm-3 3zm-1 3zm-2-12zm-2 7zm-6 7zm-2-5zm-6-3zm-3 7zm-42-3zm-5-10zm-5 7zm-9-6zm-6 8zm-1-2zm0-2zm-1 1zm-140 8zm-1-10zm0 9zm-4-2zm-1-6zm-4 5zm-2-9zm-231 8zm-3 1zm-7-7zm-9-2zm-3 8zm-11-4zm-3-2zm0 6zm-1-7zm-4 10zm-3-6zm-2 8zm-24-8zm-3 3zm-1-6zm-16 3zm-1 6zm-6-7zm-13 3zm-2-6zm-3 12zm0-14zm-3 15zm-149-6zm-12 6zm-2-12zm-5 4zm-1 8zm-5-1zm-5-4zm-6 2zm-274-4zm-1 7zm-1-7zm-1 4zm-2-9zm-156-1zm-68-2zm0 7zm-1-5zm0 8zm-3 5zm-1-9zm-187 5zm-223-3zm-1 0zm-1 7zm-2-15zm-71 6zm-1-1zm1 11zm0 0zm67 7zm2-2zm1 8zm1-9zm414 10zm2-3zm1-10zm0 9zm5-8zm293 1zm211 3zm8-5zm1 7zm1 0zm1 7zm3-4zm0-10zm2 9zm2-5zm0-3zm1 11zm7-7zm2 1zm0 8zm2-6zm3-5zm1 9zm153-1zm6 0zm1-1zm1-10zm0 2zm5 11zm0-11zm2 8zm1-1zm1-7zm0 8zm2-6zm1 6zm5-5zm2 1zm0 5zm5-12zm2 7zm1 5zm2-12zm6 0zm25 5zm3 6zm2 4zm1-12zm4 0zm10 10zm2-6zm2-6zm1 1zm3 13zm4-7zm1-8zm0 14zm5-8zm9 5zm234-6zm135 4zm2-5zm0 1zm1 4zm5-2zm6 4zm3-5zm8 7zm0-4zm1-5zm14-4zm6 3zm35 2zm3-5zm0 5zm1 6zm0-4zm1 6zm5-6zm1 8zm3-15zm4 9zm5-8zm3 9zm1-3zm7 4zm1 2zm209-3zm1-1zm186-7zm72 19zm-70 4zm-395-1zm-9-7zm-12 12zm-9-8zm-1 10zm-2-14zm-4 1zm-1-1zm-4 3zm0-1zm-6 3zm0 7zm-20 1zm0 0zm-8-13zm-2 10zm-5 2zm-1-3zm-1-1zm-8 6zm-4-10zm-7-1zm-7 6zm-1 4zm-136-2zm-3-11zm0 14zm-1-7zm-2 0zm-234 2zm0-8zm-5 1zm-3-1zm-3 7zm-16 2zm-4-5zm-14-2zm-3 8zm-1-12zm-1 4zm-1 6zm-26-5zm-2-4zm-3 10zm-1-10zm0 9zm-11 2zm-14-2zm-1 3zm-3-2zm-1-5zm-158-6zm-3 14zm-2 1zm-5-3zm-1-12zm-2 1zm-4 3zm-1-4zm-9 0zm-215 3zm-295-2zm-2-1zm0 13zm-1-12zm-3 4zm-2-5zm5 18zm228 13zm292-2zm3-10zm3 9zm0 2zm4-4zm2 3zm168-11zm2 2zm4 5zm4-9zm5 4zm3 0zm6-1zm0 2zm4 6zm1-8zm37-2zm5 0zm0-1zm1 1zm2 0zm0 0zm6 5zm1 0zm2 0zm2-3zm7 10zm3-11zm6 11zm3 2zm3-6zm1-6zm0 8zm238-4zm1 4zm1 0zm136 1zm5-3zm1-8zm12 1zm2-2zm0 14zm6 1zm13-8zm1-7zm7 13zm21-9zm3-1zm0-1zm1 3zm12 10zm5-2zm1-6zm4 2zm1-5zm2 2zm3 3zm3 4zm4-1zm3-4zm8-7zm393-1zm69 14zm0-10zm-70 12zm-397 11zm-3-10zm0 10zm-3 2zm-1-11zm-4 8zm-7-10zm-2 7zm-16 7zm-2-11zm-31-2zm-5 10zm-22 0zm-8-8zm-5 9zm0 0zm-2-10zm-139 10zm-243-12zm-12 3zm-1 7zm-14-3zm-4-2zm-49 2zm-1 2zm-2-6zm0 8zm-2-10zm-8 9zm-177-10zm-5 12zm0-6zm0 2zm-5-2zm-296 3zm486 9zm6 6zm3-8zm58 8zm4 6zm1-5zm6-4zm0 7zm255-1zm0-5zm140-4zm4-2zm6 0zm3 5zm2 2zm7-3zm18 0zm28 0zm1 9zm1 1zm2-9zm0-5zm3 2zm1 8zm4 4zm1 1zm1-12zm3 5zm3 7zm2-13zm10-2zm6 4zm401 8zm0-11zm0 29zm-1-9zm-188 9zm-217 0zm-2-11zm-3-1zm-4 7zm-1-5zm-3 10zm-8-8zm-47-1zm-4 9zm-5-9zm-6 9zm-158 0zm0-10zm-261 10zm0-6zm-1-7zm-1 9zm-1-10zm-1 1zm0 6zm-63-3zm-1 7zm-2 3zm0-12zm-3-2zm-186 14zm0-2zm-229 2zm-298-1zm-191 1zm-227 0zm0-9zm-70 8zm558 177zm1624 7zm0 7zm-259-9zm-160 2zm-4 7zm-1 1zm-293-11zm-191 10zm-5 0zm-254-4zm-70-6zm0 9zm0-5zm-159 1zm-228 6zm-261-2zm0 0zm-297-3zm0 1zm-10 20zm2 0zm0 2zm6-5zm2-8zm3 2zm4 8zm0-7zm3 6zm2 0zm1453 3zm296-9zm13 19zm-2 4zm-1-11zm-7 12zm-2-12zm0 6zm-3-5zm-1 6zm-472 2zm-2-5zm-3-2zm-6-3zm-71 10zm-259-5zm0 3zm-159 1zm-70 2zm-646-10zm-58 9zm-1-6zm-2-4zm-4 5zm0 1zm-1-1zm-1-4zm0 5zm-1 0zm-2-5zm-3 1zm-2 2zm-4 7zm-3-9zm-4 8zm-7 5zm1 4zm0-2zm7 11zm7 0zm7-11zm0 5zm0 2zm0-5zm1 5zm1 7zm5-12zm0 10zm4 1zm2-7zm1 7zm6-1zm1-12zm4 11zm2-2zm760 0zm483-9zm1 7zm7 4zm1-7zm2-3zm7 1zm473-1zm4 3zm12 7zm405-9zm2 4zm69 16zm-68 3zm-405-3zm-4-4zm-2 11zm-2-9zm-3-5zm0 11zm-2-11zm0 10zm-3-5zm-2 0zm-12-3zm-4-2zm-280 0zm0 5zm-1-3zm-1 9zm-171 1zm-8-1zm-3-1zm-5-5zm0 0zm-10 7zm-4-6zm-3 2zm-3-2zm-959-4zm-1 11zm-271-10zm-1 6zm-10-2zm-2 5zm-1-2zm-13 5zm-17-2zm-1 0zm-5 2zm-1-14zm0 1zm0-2zm2 20zm3 8zm0-4zm1-5zm3 6zm4 1zm0-8zm3 8zm2 2zm0 0zm6-3zm0-8zm5 10zm2-9zm1 13zm7-14zm4 2zm4-1zm1 7zm0-2zm46-1zm228 9zm1-9zm1-2zm1-2zm0 11zm646 0zm306-3zm8 5zm2-3zm4-5zm1 8zm2-1zm7-4zm9-3zm15 8zm163 0zm1 0zm0-14zm2 12zm3-1zm1-2zm0-2zm275-5zm6 1zm7 3zm5-6zm4 0zm12 8zm2 1zm0 4zm2-8zm2-5zm1 10zm394-2zm5 7zm-8 9zm-252-5zm-6 3zm-135 0zm-4 5zm-3-7zm-27 1zm-4 2zm-210 2zm-75-7zm0-3zm-163 2zm-3-2zm0 12zm-8 0zm0-4zm-4 0zm0 2zm-6-6zm-2 8zm-8-4zm-2-3zm-2 0zm-3-2zm-55-3zm-908 0zm-1 7zm-1-7zm-222 0zm-2 10zm-51-6zm0 0zm-2-2zm-3-1zm-1 1zm-9 5zm-9-2zm-7-1zm-4 3zm3 11zm2 8zm4-10zm1 8zm7-4zm1 0zm2 0zm1 6zm9-5zm281 2zm4 1zm1-8zm258 7zm219 2zm19-3zm149 4zm0-9zm259 1zm43 13zm1-13zm9 6zm24-5zm9 9zm5-3zm164 2zm2-7zm2-4zm3 8zm1 2zm1-1zm3-1zm63-3zm1-1zm207 4zm0 5zm2-4zm3-7zm4-2zm31 6zm137 3zm2-9zm72 14zm0 0zm259 1zm-66 5zm-5 1zm-4-5zm-181 6zm-1-2zm-7 4zm-61-6zm-5 4zm-1 4zm-6-9zm-137 3zm-7 10zm-3-11zm-10 5zm-2 7zm-2-10zm-2 0zm-9 4zm-6 5zm-1-3zm-201-1zm0 5zm-58 0zm-1-4zm0 2zm-4 2zm-5-1zm-2-3zm-1-6zm-9 1zm-164 2zm-3 1zm-3-4zm-8-5zm-4 12zm-1-3zm-2 2zm-1-9zm0 3zm-2-1zm-1 9zm-8-2zm-8-4zm0 1zm0 5zm-453-10zm-4-2zm-5 0zm-1 13zm-1-5zm-2 1zm-1-10zm-2 11zm-5-1zm-60-7zm-228 12zm-190-13zm-4 6zm-224-8zm-63 11zm0 0zm0 0zm-3 1zm-2-8zm-3 9zm-2-7zm-5-1zm-1 6zm5 6zm4 10zm1 2zm3-6zm0-6zm66 3zm226 2zm192 6zm0-2zm70 5zm215 0zm21-6zm1-5zm4-1zm146-3zm0 0zm0 6zm70-6zm190 3zm0 2zm0 3zm45 3zm19-11zm8 1zm4 4zm0 10zm9-1zm1-4zm2 0zm4-4zm0 6zm2-9zm152 10zm0-2zm9-7zm1 2zm4-6zm1 1zm1 14zm2-14zm5 12zm2-6zm1 0zm3 0zm0-1zm53 6zm208 3zm13-6zm1 1zm2-4zm14-6zm10 2zm2 13zm127-8zm3 1zm3 6zm3-1zm3-7zm5 1zm12 4zm62 2zm1-2zm170 1zm9-8zm11 12zm-3 5zm-11 4zm-4-5zm-4 10zm-167-12zm-19 7zm-60-2zm-5 5zm-6 2zm-5-2zm-3-4zm-120-7zm-3 2zm-12 10zm0-7zm-6 1zm-3-5zm-5 12zm-1-3zm-5-3zm0-6zm-1 0zm-7 13zm-205-5zm0 3zm-8-6zm-47-3zm-19 5zm-9-4zm-1-4zm-4 10zm-153-10zm0 12zm-1-6zm-23 2zm-7 5zm-4-12zm-4-1zm-52 1zm-1 12zm-400-6zm-1 0zm-1-4zm-14 2zm0-6zm-1 4zm-4-1zm0-1zm-14 9zm-53 0zm-420-11zm0 8zm-1 5zm-3-12zm-2 9zm-63-2zm-153 7zm-5-15zm-2 4zm-64 1zm-3 5zm-4 1zm1 11zm2-6zm0 0zm65 9zm3-1zm3-5zm5 8zm0-10zm3 14zm149 0zm70 0zm2-9zm2 5zm1 0zm1-3zm4 4zm181-9zm297-3zm10 3zm1 10zm2-7zm454 3zm3 1zm10 2zm1-10zm3 3zm5-1zm7 8zm165 3zm5-8zm0-2zm0-5zm1 8zm2 2zm6-10zm7 2zm4-2zm1 3zm13 5zm46 1zm1-7zm3 8zm4-6zm4 5zm201-2zm1 7zm1-13zm0 13zm6-12zm2 3zm1 0zm3-2zm8 2zm5 1zm6-4zm5 11zm1-13zm125 14zm4-8zm1-6zm8 4zm11 4zm2-6zm1 9zm5-7zm7 6zm37-1zm1 5zm7 0zm1-5zm3 1zm2-2zm1 3zm0 3zm174-9zm1-1zm1-4zm2 11zm3-3zm6-2zm66-4zm-70 27zm-3 2zm-188-6zm-2-3zm-44-5zm-7 14zm-1-3zm-5-4zm-4-5zm-16 4zm0-1zm-5-6zm-6 9zm-2 3zm-1-7zm-123 0zm-5-3zm-11 13zm-4-6zm-211-5zm0 0zm-3 2zm-5 6zm0 0zm-2-6zm-9 3zm0-2zm-37 4zm-2-3zm-8-8zm-3 3zm-3 8zm-3-7zm-7-4zm-4 2zm-2 0zm-1 6zm-1-1zm-1 5zm-6-2zm-1-10zm-6 5zm-2 9zm0 0zm-146-12zm-11 0zm-6 8zm-10-1zm-2-5zm-1 11zm-9-6zm-479-6zm-1 7zm-10-1zm-42 0zm-2-1zm-5 4zm-2-4zm0 2zm-224-10zm-188 2zm-8 11zm-65 0zm0-8zm-227 1zm0 2zm67 11zm4-2zm15 14zm141-8zm54 5zm12-12zm5 11zm12-6zm4 1zm174-2zm226 0zm0 2zm2-4zm51 3zm4 8zm3-8zm0 5zm0 1zm2 4zm0-5zm1-5zm6 3zm2 4zm4 3zm8-2zm3-6zm11 4zm204-2zm246-8zm17 0zm5 3zm168 3zm1-5zm4 1zm5 7zm7-8zm2 10zm3 3zm10-3zm1-2zm1 2zm4-11zm0 9zm32-9zm2 8zm1 6zm10-7zm2 0zm6-7zm8 4zm139 0zm4-3zm6 10zm51-4zm6 1zm0 4zm3 0zm1-8zm0 3zm1 0zm15-7zm128 12zm2-11zm4 4zm10-6zm9 13zm6 1zm0-12zm62 2zm8 6zm180-9zm68 22zm-1-5zm-1 3zm-1 2zm-62-5zm-8 9zm0 2zm-3-10zm-3 5zm0 6zm-163-3zm-14 4zm-6-8zm-7-2zm-3 7zm-5-4zm-30-7zm-12 8zm-4-3zm-21-6zm-4 14zm-1-1zm-148-10zm-1 8zm-3-10zm-49 11zm-2-11zm-2 9zm-5-3zm0 4zm-2 2zm-4-4zm-1 4zm-1-1zm-2-3zm-133 3zm-5-4zm-9 7zm-13-11zm-1 10zm-36-14zm-2 11zm-5-6zm-7-3zm-1 5zm-15-2zm-3 0zm-1 8zm0 0zm-163 2zm-8-11zm-1 9zm-3-2zm-262-11zm-3 14zm-201-14zm-17 6zm-7 7zm-8-8zm-4 0zm0-2zm-4 8zm-12-5zm-36 8zm-1 0zm-3-9zm0-2zm-1 7zm-1-2zm-6-3zm-3 4zm-391 4zm-5-12zm-17 2zm-10 1zm-2 8zm-57-3zm-149-3zm-2-5zm-15 5zm-6-4zm-1 2zm-4 4zm-50 17zm0-6zm53-3zm4 14zm15-6zm1 3zm19-1zm184-9zm2 14zm1-7zm3 3zm2-11zm7 9zm5-7zm7 4zm14 9zm4-6zm237-6zm150 7zm0-8zm0-2zm5 7zm1-2zm1 1zm0 8zm3-9zm47 7zm0 3zm7-1zm1-3zm0-1zm4-3zm2-3zm7 2zm4 7zm3-6zm5 7zm5-5zm3-5zm139 4zm0 5zm63-2zm2 1zm3-5zm2-3zm191 5zm62 1zm5-1zm4-1zm7 7zm166-3zm3-10zm10 8zm1-3zm2-2zm12 6zm34-6zm9 3zm1-7zm0 8zm1 0zm1-5zm5-1zm2-2zm1 0zm5 4zm5 10zm6-11zm5-1zm4 6zm120 4zm6-9zm0 2zm1-5zm6 12zm5-11zm4 2zm0 7zm57-2zm1 2zm4 0zm1-6zm0-5zm0 2zm1 11zm135-11zm5-2zm3 1zm1 4zm7 8zm0-4zm3-7zm2 13zm5-5zm9 5zm11-5zm30-2zm14 4zm0-3zm3-3zm7-1zm2 1zm10 7zm5 1zm152-14zm1 5zm6 7zm2-9zm6-1zm17 10zm2-1zm49-10zm3-1zm3 29zm-1 0zm-1-12zm-6 1zm-46 8zm-5-3zm-9 6zm-6-12zm-6 10zm-5-8zm0-1zm-2 12zm-158-1zm-10-4zm-3-1zm-19-4zm-6 8zm-2-4zm0 7zm-23-13zm-2 11zm-5-5zm-4-7zm-11 6zm-11 1zm-8 0zm-2 5zm-138-3zm-1 1zm-4-11zm-53 0zm-1 6zm-8-6zm-4 7zm-7 5zm-5-2zm-2 3zm0-4zm-2-3zm0 0zm-1 2zm-119 2zm-7-1zm-3 3zm-11 3zm0-8zm-2 8zm-9-6zm-3 4zm-2-5zm-1-7zm-9 5zm-41 2zm-2 3zm-9-1zm-182-2zm-4 1zm-1-1zm0-8zm-5 8zm-66-4zm-1 4zm-176 3zm-1-7zm-14 11zm-2-1zm0-4zm-64-8zm0 10zm-141-7zm0 5zm-3 4zm-6 0zm-2-12zm-1 2zm-3 3zm-6-3zm0 10zm-21-8zm-38-3zm0 11zm-2-6zm-4 2zm-1-4zm-3-4zm-3 7zm-8 3zm0-1zm-380-10zm0 11zm-7-11zm-4 8zm-3 5zm-4-10zm-8 4zm0 1zm-4 6zm-4-1zm-7-5zm-10-3zm-176 2zm-1 7zm-6-7zm0 1zm-8-3zm-8-4zm-15 3zm0-4zm-2 14zm-1-3zm-55 5zm44 3zm1 5zm2-1zm0-8zm3 14zm8-5zm13-9zm0 6zm207-4zm3 7zm8 3zm9-6zm17-6zm4 3zm239 11zm1-13zm0 8zm145 3zm1-8zm2 2zm4 6zm3 1zm5 0zm2 2zm3-14zm7 11zm0-1zm1-5zm0 6zm2 3zm29-7zm4 4zm2 2zm10-9zm8 1zm0-1zm22 9zm136-10zm62-1zm0 4zm5-7zm1 5zm1 1zm4-6zm1 14zm6 1zm8-4zm1 2zm161-2zm13-5zm2-2zm0 7zm1-2zm58-5zm11 11zm184-3zm0-11zm1 10zm5-5zm39-3zm1 7zm1-7zm21 11zm0-4zm4-3zm9 0zm2-2zm127 0zm2-1zm7 9zm11-5zm1 0zm3 6zm2-8zm0 4zm4-5zm4 7zm1-1zm0-2zm1-7zm55 11zm2-3zm138-9zm5 13zm6-12zm11 1zm7-3zm0 3zm0 3zm6 1zm32 6zm9-10zm2 9zm1-10zm5 3zm1 8zm17-12zm154-1zm17 0zm4 14zm64-2zm3-2zm1-4zm10 24zm-9-4zm-2 5zm-2-13zm-1 3zm-1 4zm-37 1zm-9-5zm-19-1zm-4 0zm-16-4zm-142 3zm-11 8zm-7 1zm-17-3zm-6-1zm-5 2zm-33-4zm-4 5zm-1 3zm-1 1zm0-2zm-10-6zm-1-2zm-3 9zm-4-1zm-3-10zm-5 4zm-4-6zm-139 6zm-3 4zm-46-4zm-2 8zm-21-5zm-1 0zm-4 0zm-1-4zm0 1zm-8 8zm-4-11zm-113-3zm-8 4zm-10 9zm-2-14zm-3 6zm-7-6zm-2 13zm-5-3zm-4-4zm-4-1zm-5 2zm-43 0zm-1 4zm-1 3zm-1 1zm-1 0zm-1-9zm-180 2zm-2-4zm-11-2zm-53 0zm-6 0zm0 3zm0-1zm-3-2zm-13-1zm-1 12zm-5-3zm-1 2zm-148 0zm-1-1zm-6-9zm-2 9zm-9 4zm-2-5zm-4-4zm-1 4zm-1 3zm-8-1zm-1-8zm-1 3zm-2 4zm-1-1zm0 4zm-1-4zm-10-1zm-45-8zm0 10zm0-1zm-136-8zm-4 3zm-1-4zm-8 2zm-1-3zm-3 6zm-1-4zm-1 6zm-8-8zm-1 9zm-6-5zm-3 11zm-6-8zm-32 4zm-1-2zm-1 1zm-1 1zm-4 2zm0-10zm-2-3zm-5 0zm-7 14zm-2-14zm-3 0zm-3 7zm-2 0zm0 8zm-6-14zm-1 4zm-1-2zm-2 12zm0-3zm-133-10zm-1 9zm-74 3zm-163-6zm-7-1zm-6 1zm-4-6zm-1-1zm-3 7zm-3 4zm-13 3zm-1 0zm-1-9zm-5-5zm0 9zm-5-10zm-46 6zm-140 7zm-2 2zm-7-9zm-7 3zm-3 2zm-1 0zm-1 3zm-1-12zm-10 10zm-5-6zm-4 3zm-2 17zm2-1zm1 2zm2-5zm2 7zm11-13zm7 9zm0-6zm7 11zm6-8zm4 2zm9-4zm132 10zm54 1zm1-2zm3-11zm0-2zm2 4zm13-3zm3 10zm3-1zm1-7zm2 2zm6 7zm3 1zm167-13zm5 14zm64-11zm1-3zm1 14zm1-1zm6-9zm127 8zm1-8zm3 6zm2-9zm1 6zm3-5zm3 8zm16-7zm4 6zm12-7zm3 6zm2 2zm2-4zm38-2zm5-1zm11 8zm0-9zm0-1zm9-1zm139 10zm0 4zm1-3zm1-9zm45-1zm2 9zm0-7zm2-2zm1 14zm1-10zm8 10zm3-13zm3 10zm6 0zm3-2zm8-10zm3 12zm10-2zm146-4zm0 1zm2 1zm1 6zm5-6zm6-6zm4 7zm5-4zm0-3zm9 2zm2 4zm59 6zm0-3zm185-7zm51 0zm3-4zm10 9zm8 1zm1 3zm12-13zm8 4zm111-2zm8 1zm4 1zm8 0zm3 9zm2-3zm1-1zm4 6zm3-12zm4 7zm3 0zm7 2zm0-1zm46-10zm1 5zm149 3zm1 4zm9 2zm9-9zm6 5zm37-2zm5-1zm8-2zm2 3zm1-1zm2 5zm16-3zm3 2zm5-3zm2-6zm160 5zm14-3zm2 10zm6-5zm2-8zm3 7zm43 0zm13 5zm6 15zm-12-5zm-4 4zm-2-5zm-4 2zm-4-8zm-1-1zm-3 14zm-29-10zm-9 6zm-1-10zm-2 14zm-10-9zm-4 4zm-17-5zm-146 2zm-7 6zm-5-10zm-29 8zm-1-10zm-3 1zm-44 1zm-1 2zm0 5zm-4 1zm0-7zm-211 8zm-2-9zm-3 2zm-1 10zm-8-14zm-1 2zm-2 5zm0 7zm-1-10zm-5 4zm0 2zm-10-1zm-1-2zm0 8zm-1-2zm-4-13zm0 3zm-3 12zm-1-15zm-122 14zm-2-5zm-4-1zm-2-8zm-2 1zm-4 10zm-7-1zm-3-5zm-61 5zm0 5zm-237-10zm-4-2zm-11 3zm-10-3zm-3 5zm-3 7zm-2-15zm-1 0zm-2 2zm-5 9zm-1-4zm-2-7zm-4 12zm-144 0zm-1 0zm-2-1zm-5-2zm-2 4zm0-12zm-5 10zm-6-3zm-4 7zm-1-14zm0 6zm-3-6zm-2 4zm-3 3zm-1 0zm-1 6zm-1-3zm-1 3zm-3-9zm-1 3zm-1-6zm-49 11zm-141-10zm-8 2zm-20 4zm-5-2zm-1-4zm-26 1zm-4 2zm0 7zm-4-12zm-2 2zm-10 0zm-2 12zm-9-6zm-3 3zm-1-10zm-1 2zm-6 0zm-1 8zm-4-8zm-132 2zm-8-4zm-1 0zm0 2zm-3-4zm-1 10zm0 5zm-2-2zm-2 2zm-55-13zm0 9zm-1 4zm-2-13zm0 7zm-4 1zm-1-5zm-173-4zm-3 9zm-4-6zm-5 11zm-2-5zm-5-8zm-13-2zm-51 1zm-1 13zm-136-8zm-23 4zm-1 5zm0-9zm-14 5zm-52-11zm43 21zm3 7zm5 1zm5-3zm10 5zm12-5zm3-6zm2-4zm1 2zm9 2zm2 9zm1-13zm129 13zm2-3zm0 1zm3 4zm60-15zm8 11zm6-4zm0 7zm3-3zm179 4zm1-14zm0 1zm55 8zm7 3zm4-1zm1-10zm1 11zm4-12zm3 2zm1 11zm1 0zm2-1zm5-1zm0-2zm123-8zm2 5zm11-5zm1-2zm0 7zm4-4zm14 0zm0 8zm5 4zm44-10zm1 4zm4-9zm14 11zm4-7zm144 3zm3-6zm1 10zm4 0zm49 3zm2-5zm5 3zm1-4zm0-5zm4 0zm0-3zm2 10zm4 1zm2-5zm0-3zm0 6zm2 6zm1-3zm9 2zm3-10zm0 5zm0-5zm150 3zm8-7zm0 15zm1-15zm4 1zm7 5zm0 1zm3-7zm1 10zm10-9zm8-1zm50 6zm189 7zm55-11zm1 9zm2 0zm1-3zm2-1zm1-2zm8-3zm11 5zm128-4zm1 3zm5 4zm15-9zm4-1zm3 15zm1-2zm0-1zm5-6zm3 0zm205 6zm0 1zm0-12zm1 6zm1 2zm10 4zm42-3zm36-1zm12-7zm143 5zm3-1zm5 1zm9 2zm14 0zm9 4zm34 1zm8-12zm3 10zm2 0zm5-1zm0 1zm1-6zm0-4zm1 6zm1-6zm0 12zm9-5zm1 16zm-1-6zm-1 12zm-2-10zm-7-4zm-2 14zm-17 0zm-3-3zm-32 3zm-5-10zm-2-3zm-15 3zm-17 8zm-2-13zm-144 0zm-3 13zm-14-4zm-5-3zm-13 9zm-10-12zm-43 11zm-3-12zm0-2zm-3 2zm-1 12zm-3-1zm0-1zm-155 1zm-58 0zm-2 0zm-4-9zm-15 6zm-2-6zm0 10zm-6-14zm-132 6zm-2 5zm-1-4zm-2 3zm-1 3zm-3-8zm-7 7zm-1-2zm-2-3zm-297 4zm-3-8zm-3-3zm-2 0zm0 13zm-6-4zm-1 2zm-1-3zm-6-8zm-2 10zm-1 5zm-7-11zm-6 1zm-5 0zm-3 6zm-1-3zm0-7zm-152 3zm-1 0zm0-4zm-5 11zm-3-9zm-5-2zm-3 3zm-2 10zm-1-9zm-1 11zm0-12zm-3 8zm-3-6zm-46 2zm-4-3zm0 0zm-1 7zm-4-7zm0-2zm-2 9zm-1-7zm-1 10zm0-4zm-1 2zm-1-1zm-3-2zm-1-3zm-3 9zm-1-6zm-1 0zm-147-7zm-4 13zm-4-2zm-45-10zm-13 1zm-2 9zm-1-4zm-2-8zm-1 11zm-1-10zm0 12zm-7-4zm-124 5zm-2-4zm-3-4zm-1 6zm-6-1zm-3-5zm-10 6zm-2-9zm0-4zm0 13zm-3-7zm0 7zm-3-1zm-2-7zm-7 3zm-47 0zm-9-7zm-183 3zm-7 5zm-2-7zm-3-1zm-61 8zm-2-9zm-131 12zm-8-1zm-9 3zm-4-12zm-8 6zm-2 7zm-5-7zm-1 2zm-8 2zm-4-6zm5 23zm16-5zm10 3zm0-5zm4-2zm142 5zm1-2zm1 6zm1-7zm3 6zm2 1zm0-12zm1 10zm1 4zm2-5zm61 0zm2 0zm1-4zm0 3zm1-5zm1 4zm181 0zm6-7zm0 4zm2 1zm0 7zm0-2zm1-11zm0 12zm2-6zm45 9zm1 0zm4-15zm9 11zm2-6zm2 4zm2 1zm2-8zm1 13zm1-14zm4 1zm2 0zm2 8zm1-8zm1 13zm3-4zm2-4zm4-3zm2 0zm128 1zm7-2zm1-1zm2 3zm67-2zm139 8zm1-2zm2 1zm4 0zm0-7zm2-2zm6-1zm6 13zm0 0zm4-3zm2-5zm1 7zm1-11zm5 7zm0 5zm3-13zm51 14zm5-4zm1-4zm164-1zm0 2zm3-4zm3 7zm5 4zm1-13zm2 8zm3-9zm1 14zm3-8zm11-2zm5 11zm1-14zm5 1zm47 11zm0-2zm257-2zm0-1zm11-1zm142 1zm1 4zm7-10zm3 1zm2 12zm2-7zm225-1zm44 8zm10-1zm6-4zm3 5zm2-2zm5-2zm7-1zm4 1zm160-3zm11 0zm0 1zm3 4zm2 0zm20-9zm32 11zm3-10zm1 2zm1 7zm6-14zm8 7zm9 3zm4-5zm3 7zm2-8zm1-4zm4 19zm-6 12zm-2-11zm-11 0zm-2 9zm-5-7zm-9 1zm-1-5zm-4-1zm0 14zm0-4zm0-4zm-5-7zm-31 1zm-6 10zm-9 4zm-13-2zm-15-6zm-144-6zm-2 12zm-15-6zm-17 3zm-54-3zm-1 8zm0 0zm0-6zm0-6zm-1-1zm-221 6zm-7 6zm-154-7zm-4-4zm-326-2zm-4 5zm-1-1zm-3 7zm-2-3zm-4 5zm-2-4zm0 1zm0-10zm-2 12zm-1-7zm-173 4zm-2-6zm-3-3zm0 1zm-1 0zm-44 1zm-1-3zm-1 15zm-4-14zm-1 3zm-4 8zm-1-10zm-1 9zm-4-11zm-1 14zm-1 0zm-1-10zm-2-1zm0 11zm-2-12zm0 3zm0 8zm-5 2zm-3-8zm-6-3zm0 6zm0 5zm-5-2zm-1-13zm-2 9zm-1-2zm-3-2zm-130 5zm-207-9zm-1 4zm0-3zm-1 3zm0 6zm-1-11zm-2 2zm-3 12zm-2-11zm0 3zm-5 8zm-4-12zm-10 5zm-9 4zm-9-6zm-1 1zm-38 1zm-1-7zm-6 6zm-2 3zm-1 3zm-1-9zm-3 9zm-182-3zm0-7zm-55 11zm-4-2zm-2-2zm-3-9zm-2 6zm0 3zm0 2zm-9 1zm-1 0zm0-10zm0 11zm-4-3zm-2-9zm0 0zm-1 10zm0-4zm-3-1zm0 0zm-2 7zm-124-9zm-4 7zm-2-4zm0-2zm0 8zm-6 1zm-1-2zm0-12zm-2 9zm-3 3zm-5-1zm-10 4zm6 7zm3 1zm5 7zm139-7zm2 4zm11-8zm0-3zm5 2zm2 4zm1 4zm3 1zm1 4zm10-1zm5-12zm48-1zm2 5zm3 5zm170 1zm0 3zm4-13zm2 9zm7-8zm0 10zm4-3zm7-7zm1 3zm1-4zm1-1zm2 14zm1-9zm1 7zm1-2zm0-5zm1 6zm32-10zm10-1zm6 2zm0-1zm11 0zm2 5zm0 0zm4 6zm3 2zm0-2zm0-1zm1 0zm4-5zm1 8zm140 0zm67-15zm142 7zm6-4zm1 0zm6 1zm0 7zm1-11zm6 13zm4-5zm3 5zm8-1zm0-4zm1-6zm0 7zm2-2zm51 7zm1-1zm182-8zm1 1zm1 8zm5-5zm2 4zm0-9zm1 2zm1 1zm2-7zm2 5zm0-4zm61 11zm191-5zm0-4zm0 2zm71 9zm0-6zm151-3zm2 1zm1 2zm6 4zm3-9zm267 1zm4-2zm2 8zm2 0zm4-8zm0 9zm1-1zm0-5zm8 2zm21 1zm150 2zm5 3zm6 1zm6-9zm2 7zm7-8zm6 0zm6-1zm36 0zm11 3zm0 1zm6-4zm5 4zm6-3zm4 1zm7-5zm4 11zm-10 20zm-2 0zm-3-14zm-1 10zm-5 4zm-10-6zm-1-5zm-1 7zm-7-6zm-28 3zm-2 0zm-7-7zm-4 5zm0-5zm-5 12zm-7-4zm-2 3zm-4 3zm-13-14zm-146 8zm-12 6zm-3-5zm-21 1zm-8-3zm-279-8zm-3 13zm-157-4zm-326-1zm-2 7zm-3-5zm-188 5zm0-8zm0-2zm-56-5zm-7 5zm-2 6zm-1-5zm-1-5zm0 4zm-2 9zm-9-6zm0 0zm-2-1zm-217-5zm-146 6zm-5 1zm-5 2zm-6 1zm-2-12zm0 7zm-1-4zm-8 5zm-2 3zm0-6zm-35 4zm-5 0zm0 0zm-1 0zm-4 5zm-1-11zm-1 10zm-6-11zm-1 10zm-2-3zm-2-5zm-4 5zm-6-1zm-4-1zm-5 6zm0 2zm-2-2zm-1 0zm-165-12zm-1 4zm-45 9zm-7-2zm0-5zm-3 3zm0 5zm-1-7zm-3 4zm-1-2zm-1-6zm0 0zm-4-1zm-2-2zm-5 3zm-14 7zm-5-3zm0-3zm0 1zm-1-1zm-128-3zm-6 6zm-7 4zm-3-8zm9 14zm131-1zm9 12zm7-3zm0-3zm6 7zm1 1zm2-8zm0-6zm4 10zm3-11zm4 5zm1-4zm2 9zm0 1zm3-7zm0 9zm4-6zm0-4zm1 5zm1 5zm0-11zm214 1zm0 10zm3-13zm13 7zm5-4zm3 10zm2-9zm4 5zm4 1zm1-1zm4-6zm0 10zm3-4zm7-6zm0-2zm35-1zm2 1zm0 5zm2 7zm2-10zm2 0zm0 4zm5 1zm156-4zm70 2zm157 1zm1-7zm0 8zm1 2zm1 3zm2-6zm3-7zm64 0zm0 9zm186-7zm2 5zm1 3zm1 0zm330-6zm442-2zm6-2zm8 8zm2 6zm2 0zm6-7zm16-7zm148 6zm7 5zm6 3zm15-5zm0 4zm7-10zm29-3zm8 10zm6-8zm5 3zm1-1zm3-4zm0 4zm2 4zm0-2zm1 8zm3-10zm0 2zm3-6zm5 2zm-1 29zm-8-3zm-5-12zm-3 11zm-4-8zm-2 6zm-7-1zm-42-7zm-12 9zm-178-4zm-11 6zm-9-12zm-6 4zm-285-4zm-489 6zm-257 1zm-2-1zm-229 0zm-155 3zm-1-6zm-2 6zm-2-4zm-2 3zm-45 6zm-8-11zm-4 3zm-12 5zm-4 3zm-1-8zm-1-3zm-1 12zm0-12zm-10 8zm-2-4zm-221-3zm-2 1zm-1-4zm0 2zm-3 2zm-3 5zm0 0zm-1-8zm-1 8zm0-3zm-3 1zm-2-7zm-4 10zm-5-1zm-4 0zm-1 3zm-4-6zm9 18zm4-6zm4-2zm4 8zm1 1zm4-10zm1 2zm236 2zm4 2zm9 4zm0 2zm0 1zm7-10zm1 5zm1 6zm1-8zm1 2zm2-6zm1 6zm5-2zm1-5zm209 6zm70-5zm418-1zm331 5zm0-3zm158-3zm0 3zm0 3zm297 0zm188 8zm2-8zm6 0zm55-1zm1-2zm15 8zm-2 17zm-6 3zm-5-12zm-250 8zm-1 2zm-2-13zm-456 9zm-590 4zm0-6zm-448-7zm-6 9zm0-4zm0 8zm-1-4zm-1 0zm-3-4zm-2 2zm-1 4zm-3-9zm-249 1zm-4 12zm0-2zm-157 6zm157 0zm261 0zm228-1zm299 0zm189 0zm331 1zm158 0zm300 0zm188-1zm1 1zm70 0zm1-1z" stroke="#1a1a1a" stroke-opacity="0.85" stroke-width="5.2" stroke-linecap="round" fill="none"/>
<path d="M182.8 883.2V1063.7" stroke="#333" stroke-width="1.2"/>
<rect x="178.1" y="950.9" width="9.4" height="45.1" fill="#fff" stroke="#333" stroke-width="1.3"/>
<path d="M178.1 977.5h9.4" stroke="#333" stroke-width="2.3"/>
<path d="M217.8 891.3V1085.2" stroke="#333" stroke-width="1.2"/>
<rect x="213.1" y="958.4" width="9.4" height="50.7" fill="#fff" stroke="#333" stroke-width="1.3"/>
<path d="M213.1 987h9.4" stroke="#333" stroke-width="2.3"/>
<path d="M296.7 842.2V1003.3" stroke="#333" stroke-width="1.2"/>
<rect x="292" y="890.8" width="9.4" height="45" fill="#fff" stroke="#333" stroke-width="1.3"/>
<path d="M292 908h9.4" stroke="#333" stroke-width="2.3"/>
<path d="M331.7 859.7V1058.3" stroke="#333" stroke-width="1.2"/>
<rect x="327" y="927.3" width="9.4" height="52.4" fill="#fff" stroke="#333" stroke-width="1.3"/>
<path d="M327 954.1h9.4" stroke="#333" stroke-width="2.3"/>
<path d="M426.8 930.6V1067.8" stroke="#333" stroke-width="1.2"/>
<rect x="422.1" y="982" width="9.4" height="34.3" fill="#fff" stroke="#333" stroke-width="1.3"/>
<path d="M422.1 995.5h9.4" stroke="#333" stroke-width="2.3"/>
<path d="M461.8 869V1033.2" stroke="#333" stroke-width="1.2"/>
<rect x="457.1" y="941" width="9.4" height="48" fill="#fff" stroke="#333" stroke-width="1.3"/>
<path d="M457.1 972.6h9.4" stroke="#333" stroke-width="2.3"/>
<path d="M541.1 926.5V1055.3" stroke="#333" stroke-width="1.2"/>
<rect x="536.4" y="974.8" width="9.4" height="32.2" fill="#fff" stroke="#333" stroke-width="1.3"/>
<path d="M536.4 988.2h9.4" stroke="#333" stroke-width="2.3"/>
<path d="M576.1 870V1042" stroke="#333" stroke-width="1.2"/>
<rect x="571.4" y="934.5" width="9.4" height="43" fill="#fff" stroke="#333" stroke-width="1.3"/>
<path d="M571.4 957h9.4" stroke="#333" stroke-width="2.3"/>
<path d="M655.6 917.6V1020.9" stroke="#333" stroke-width="1.2"/>
<rect x="650.9" y="956.8" width="9.4" height="26.1" fill="#fff" stroke="#333" stroke-width="1.3"/>
<path d="M650.9 968.5h9.4" stroke="#333" stroke-width="2.3"/>
<path d="M690.6 960.1V1087.2" stroke="#333" stroke-width="1.2"/>
<rect x="685.9" y="1009.1" width="9.4" height="32.7" fill="#fff" stroke="#333" stroke-width="1.3"/>
<path d="M685.9 1023.4h9.4" stroke="#333" stroke-width="2.3"/>
<path d="M785.2 967.8V1087.2" stroke="#333" stroke-width="1.2"/>
<rect x="780.5" y="1017.3" width="9.4" height="33" fill="#fff" stroke="#333" stroke-width="1.3"/>
<path d="M780.5 1034.8h9.4" stroke="#333" stroke-width="2.3"/>
<path d="M820.2 972.9V1087.2" stroke="#333" stroke-width="1.2"/>
<rect x="815.5" y="1023.8" width="9.4" height="33.9" fill="#fff" stroke="#333" stroke-width="1.3"/>
<path d="M815.5 1045.8h9.4" stroke="#333" stroke-width="2.3"/>
<path d="M915.3 854.8V1021.3" stroke="#333" stroke-width="1.2"/>
<rect x="910.6" y="892" width="9.4" height="51.7" fill="#fff" stroke="#333" stroke-width="1.3"/>
<path d="M910.6 908.8h9.4" stroke="#333" stroke-width="2.3"/>
<path d="M950.3 872.8V1087.2" stroke="#333" stroke-width="1.2"/>
<rect x="945.6" y="931.7" width="9.4" height="79.4" fill="#fff" stroke="#333" stroke-width="1.3"/>
<path d="M945.6 970.2h9.4" stroke="#333" stroke-width="2.3"/>
<path d="M1029.5 893.3V1087.2" stroke="#333" stroke-width="1.2"/>
<rect x="1024.8" y="994.4" width="9.4" height="67.4" fill="#fff" stroke="#333" stroke-width="1.3"/>
<path d="M1024.8 1036.9h9.4" stroke="#333" stroke-width="2.3"/>
<path d="M1064.5 984.4V1087.2" stroke="#333" stroke-width="1.2"/>
<rect x="1059.8" y="1035.6" width="9.4" height="34.1" fill="#fff" stroke="#333" stroke-width="1.3"/>
<path d="M1059.8 1053.3h9.4" stroke="#333" stroke-width="2.3"/>
<path d="M1144.6 866.2V1013.5" stroke="#333" stroke-width="1.2"/>
<rect x="1139.9" y="926.8" width="9.4" height="40.4" fill="#fff" stroke="#333" stroke-width="1.3"/>
<path d="M1139.9 945.3h9.4" stroke="#333" stroke-width="2.3"/>
<path d="M1179.6 841.7V1083.6" stroke="#333" stroke-width="1.2"/>
<rect x="1174.9" y="930.6" width="9.4" height="61.2" fill="#fff" stroke="#333" stroke-width="1.3"/>
<path d="M1174.9 962.3h9.4" stroke="#333" stroke-width="2.3"/>
<path d="M1273.9 932.2V1072.9" stroke="#333" stroke-width="1.2"/>
<rect x="1269.2" y="982.9" width="9.4" height="36" fill="#fff" stroke="#333" stroke-width="1.3"/>
<path d="M1269.2 998.5h9.4" stroke="#333" stroke-width="2.3"/>
<path d="M1308.9 853.7V1063.1" stroke="#333" stroke-width="1.2"/>
<rect x="1304.2" y="921.4" width="9.4" height="58.9" fill="#fff" stroke="#333" stroke-width="1.3"/>
<path d="M1304.2 952.2h9.4" stroke="#333" stroke-width="2.3"/>
<path d="M182.8 1180.1V1276.6" stroke="#333" stroke-width="1.2"/>
<rect x="178.1" y="1203.8" width="9.4" height="29.1" fill="#fff" stroke="#333" stroke-width="1.3"/>
<path d="M178.1 1215.6h9.4" stroke="#333" stroke-width="2.3"/>
<path d="M217.8 1192.7V1425.5" stroke="#333" stroke-width="1.2"/>
<rect x="213.1" y="1289.2" width="9.4" height="70.9" fill="#fff" stroke="#333" stroke-width="1.3"/>
<path d="M213.1 1327.4h9.4" stroke="#333" stroke-width="2.3"/>
<path d="M296.7 1340.4V1425.5" stroke="#333" stroke-width="1.2"/>
<rect x="292" y="1374.8" width="9.4" height="22.9" fill="#fff" stroke="#333" stroke-width="1.3"/>
<path d="M292 1387.4h9.4" stroke="#333" stroke-width="2.3"/>
<path d="M331.7 1199.1V1386.7" stroke="#333" stroke-width="1.2"/>
<rect x="327" y="1278.3" width="9.4" height="52.8" fill="#fff" stroke="#333" stroke-width="1.3"/>
<path d="M327 1314.3h9.4" stroke="#333" stroke-width="2.3"/>
<path d="M426.8 1295.3V1425.5" stroke="#333" stroke-width="1.2"/>
<rect x="422.1" y="1358.4" width="9.4" height="42.1" fill="#fff" stroke="#333" stroke-width="1.3"/>
<path d="M422.1 1387.9h9.4" stroke="#333" stroke-width="2.3"/>
<path d="M461.8 1309.4V1404.3" stroke="#333" stroke-width="1.2"/>
<rect x="457.1" y="1351.1" width="9.4" height="27.8" fill="#fff" stroke="#333" stroke-width="1.3"/>
<path d="M457.1 1365.5h9.4" stroke="#333" stroke-width="2.3"/>
<path d="M541.1 1254.6V1407.1" stroke="#333" stroke-width="1.2"/>
<rect x="536.4" y="1311.8" width="9.4" height="38.1" fill="#fff" stroke="#333" stroke-width="1.3"/>
<path d="M536.4 1335.5h9.4" stroke="#333" stroke-width="2.3"/>
<path d="M576.1 1179.3V1409.2" stroke="#333" stroke-width="1.2"/>
<rect x="571.4" y="1262.4" width="9.4" height="61.7" fill="#fff" stroke="#333" stroke-width="1.3"/>
<path d="M571.4 1298.4h9.4" stroke="#333" stroke-width="2.3"/>
<path d="M655.6 1314.7V1417.5" stroke="#333" stroke-width="1.2"/>
<rect x="650.9" y="1353.2" width="9.4" height="25.7" fill="#fff" stroke="#333" stroke-width="1.3"/>
<path d="M650.9 1367.9h9.4" stroke="#333" stroke-width="2.3"/>
<path d="M690.6 1283.5V1384.3" stroke="#333" stroke-width="1.2"/>
<rect x="685.9" y="1321.3" width="9.4" height="25.2" fill="#fff" stroke="#333" stroke-width="1.3"/>
<path d="M685.9 1333.6h9.4" stroke="#333" stroke-width="2.3"/>
<path d="M785.2 1281.2V1410.8" stroke="#333" stroke-width="1.2"/>
<rect x="780.5" y="1329.8" width="9.4" height="32.4" fill="#fff" stroke="#333" stroke-width="1.3"/>
<path d="M780.5 1347h9.4" stroke="#333" stroke-width="2.3"/>
<path d="M820.2 1182.2V1381.8" stroke="#333" stroke-width="1.2"/>
<rect x="815.5" y="1223.8" width="9.4" height="65.1" fill="#fff" stroke="#333" stroke-width="1.3"/>
<path d="M815.5 1251.6h9.4" stroke="#333" stroke-width="2.3"/>
<path d="M915.3 1205V1359" stroke="#333" stroke-width="1.2"/>
<rect x="910.6" y="1262.7" width="9.4" height="38.5" fill="#fff" stroke="#333" stroke-width="1.3"/>
<path d="M910.6 1279.1h9.4" stroke="#333" stroke-width="2.3"/>
<path d="M950.3 1229.2V1408.8" stroke="#333" stroke-width="1.2"/>
<rect x="945.6" y="1285.3" width="9.4" height="49.4" fill="#fff" stroke="#333" stroke-width="1.3"/>
<path d="M945.6 1314.3h9.4" stroke="#333" stroke-width="2.3"/>
<path d="M1029.5 1281V1399.8" stroke="#333" stroke-width="1.2"/>
<rect x="1024.8" y="1311.8" width="9.4" height="35.2" fill="#fff" stroke="#333" stroke-width="1.3"/>
<path d="M1024.8 1327.4h9.4" stroke="#333" stroke-width="2.3"/>
<path d="M1064.5 1178.5V1354.4" stroke="#333" stroke-width="1.2"/>
<rect x="1059.8" y="1223.4" width="9.4" height="52.4" fill="#fff" stroke="#333" stroke-width="1.3"/>
<path d="M1059.8 1247.2h9.4" stroke="#333" stroke-width="2.3"/>
<path d="M1144.6 1195.3V1375.6" stroke="#333" stroke-width="1.2"/>
<rect x="1139.9" y="1270.6" width="9.4" height="50.2" fill="#fff" stroke="#333" stroke-width="1.3"/>
<path d="M1139.9 1293.8h9.4" stroke="#333" stroke-width="2.3"/>
<path d="M1179.6 1239V1425.5" stroke="#333" stroke-width="1.2"/>
<rect x="1174.9" y="1308.5" width="9.4" height="68.8" fill="#fff" stroke="#333" stroke-width="1.3"/>
<path d="M1174.9 1342.9h9.4" stroke="#333" stroke-width="2.3"/>
<path d="M1273.9 1178.5V1425.5" stroke="#333" stroke-width="1.2"/>
<rect x="1269.2" y="1287.6" width="9.4" height="85.1" fill="#fff" stroke="#333" stroke-width="1.3"/>
<path d="M1269.2 1333.9h9.4" stroke="#333" stroke-width="2.3"/>
<path d="M1308.9 1285.2V1425.5" stroke="#333" stroke-width="1.2"/>
<rect x="1304.2" y="1350.7" width="9.4" height="43.7" fill="#fff" stroke="#333" stroke-width="1.3"/>
<path d="M1304.2 1372.3h9.4" stroke="#333" stroke-width="2.3"/>
<path d="M161.7 811.5V1100.3H239.4M275.6 811.5V1100.3H353.3M405.7 811.5V1100.3H483.4M520 811.5V1100.3H597.7M634.5 811.5V1100.3H712.2M764.1 811.5V1100.3H841.8M894.2 811.5V1100.3H971.9M1008.4 811.5V1100.3H1086.1M1123.5 811.5V1100.3H1201.2M1252.8 811.5V1100.3H1330.5M161.7 1149.5V1438.1H239.4M275.6 1149.5V1438.1H353.3M405.7 1149.5V1438.1H483.4M520 1149.5V1438.1H597.7M634.5 1149.5V1438.1H712.2M764.1 1149.5V1438.1H841.8M894.2 1149.5V1438.1H971.9M1008.4 1149.5V1438.1H1086.1M1123.5 1149.5V1438.1H1201.2M1252.8 1149.5V1438.1H1330.5" stroke="#000" stroke-width="1.3" fill="none"/>
<path d="M156.7 819.6h5M156.7 872.5h5M156.7 925.3h5M156.7 978h5M156.7 1030.7h5M156.7 1083.9h5M270.6 846.3h5M270.6 934.7h5M270.6 1022.9h5M400.7 867.4h5M400.7 923.7h5M400.7 980h5M400.7 1036.1h5M400.7 1092.4h5M515 827h5M515 898.8h5M515 970.7h5M515 1042.5h5M629.5 843.4h5M629.5 918.1h5M629.5 994.2h5M629.5 1069.2h5M759.1 850.4h5M759.1 911.6h5M759.1 972.1h5M759.1 1033.2h5M759.1 1094.5h5M889.2 871.2h5M889.2 946.9h5M889.2 1022.9h5M889.2 1099.1h5M1003.4 860.2h5M1003.4 918.1h5M1003.4 975.9h5M1003.4 1033.7h5M1003.4 1091.6h5M1118.5 869h5M1118.5 953.8h5M1118.5 1038.1h5M1247.8 831.1h5M1247.8 904.4h5M1247.8 978h5M1247.8 1051.5h5M156.7 1182.9h5M156.7 1271.4h5M156.7 1360.6h5M270.6 1160h5M270.6 1252.2h5M270.6 1344.5h5M270.6 1437h5M400.7 1173.5h5M400.7 1238.2h5M400.7 1303h5M400.7 1367.8h5M400.7 1432.9h5M515 1229.5h5M515 1312.1h5M515 1395.3h5M629.5 1208.4h5M629.5 1277.1h5M629.5 1346.2h5M629.5 1415.2h5M759.1 1153.4h5M759.1 1202.5h5M759.1 1252.1h5M759.1 1301.2h5M759.1 1350.6h5M759.1 1399.8h5M889.2 1155.5h5M889.2 1225.9h5M889.2 1296.3h5M889.2 1366.6h5M889.2 1437h5M1003.4 1211.5h5M1003.4 1290.9h5M1003.4 1370.7h5M1118.5 1169.5h5M1118.5 1243.4h5M1118.5 1317.2h5M1118.5 1391.5h5M1247.8 1189.1h5M1247.8 1268.8h5M1247.8 1348.3h5M1247.8 1428.3h5" stroke="#000" stroke-width="1.3" fill="none"/>
<path d="M182.8 832.7V825.4H217.8V832.7M296.7 832.7V825.4H331.7V832.7M426.8 832.7V825.4H461.8V832.7M541.1 832.7V825.4H576.1V832.7M655.6 832.7V825.4H690.6V832.7M785.2 832.7V825.4H820.2V832.7M915.3 832.7V825.4H950.3V832.7M1029.5 832.7V825.4H1064.5V832.7M1144.6 832.7V825.4H1179.6V832.7M1273.9 832.7V825.4H1308.9V832.7M182.8 1170.7V1163.4H217.8V1170.7M296.7 1170.7V1163.4H331.7V1170.7M426.8 1170.7V1163.4H461.8V1170.7M541.1 1170.7V1163.4H576.1V1170.7M655.6 1170.7V1163.4H690.6V1170.7M785.2 1170.7V1163.4H820.2V1170.7M915.3 1170.7V1163.4H950.3V1170.7M1029.5 1170.7V1163.4H1064.5V1170.7M1144.6 1170.7V1163.4H1179.6V1170.7M1273.9 1170.7V1163.4H1308.9V1170.7" stroke="#333" stroke-width="1" fill="none"/>
<g font-size="17.6" text-anchor="end">
<text x="150.5" y="825.9">1.5</text>
<text x="150.5" y="878.8">1.0</text>
<text x="150.5" y="931.6">0.5</text>
<text x="150.5" y="984.3">0.0</text>
<text x="150.5" y="1037">-0.5</text>
<text x="150.5" y="1090.2">-1.0</text>
<text x="264.4" y="852.6">1</text>
<text x="264.4" y="941">0</text>
<text x="264.4" y="1029.2">-1</text>
<text x="394.5" y="873.7">1.0</text>
<text x="394.5" y="930">0.5</text>
<text x="394.5" y="986.3">0.0</text>
<text x="394.5" y="1042.4">-0.5</text>
<text x="394.5" y="1098.7">-1.0</text>
<text x="508.8" y="833.3">2</text>
<text x="508.8" y="905.1">1</text>
<text x="508.8" y="977">0</text>
<text x="508.8" y="1048.8">-1</text>
<text x="623.3" y="849.7">2</text>
<text x="623.3" y="924.4">1</text>
<text x="623.3" y="1000.5">0</text>
<text x="623.3" y="1075.5">-1</text>
<text x="752.9" y="856.7">3</text>
<text x="752.9" y="917.9">2</text>
<text x="752.9" y="978.4">1</text>
<text x="752.9" y="1039.5">0</text>
<text x="752.9" y="1100.8">-1</text>
<text x="883" y="877.5">0.5</text>
<text x="883" y="953.2">0.0</text>
<text x="883" y="1029.2">-0.5</text>
<text x="883" y="1105.4">-1.0</text>
<text x="997.2" y="866.5">3</text>
<text x="997.2" y="924.4">2</text>
<text x="997.2" y="982.2">1</text>
<text x="997.2" y="1040">0</text>
<text x="997.2" y="1097.9">-1</text>
<text x="1112.3" y="875.3">1</text>
<text x="1112.3" y="960.1">0</text>
<text x="1112.3" y="1044.4">-1</text>
<text x="1241.6" y="837.4">1.0</text>
<text x="1241.6" y="910.7">0.5</text>
<text x="1241.6" y="984.3">0.0</text>
<text x="1241.6" y="1057.8">-0.5</text>
<text x="150.5" y="1189.2">1</text>
<text x="150.5" y="1277.7">0</text>
<text x="150.5" y="1366.9">-1</text>
<text x="264.4" y="1166.3">2</text>
<text x="264.4" y="1258.5">1</text>
<text x="264.4" y="1350.8">0</text>
<text x="264.4" y="1443.3">-1</text>
<text x="394.5" y="1179.8">3</text>
<text x="394.5" y="1244.5">2</text>
<text x="394.5" y="1309.3">1</text>
<text x="394.5" y="1374.1">0</text>
<text x="394.5" y="1439.2">-1</text>
<text x="508.8" y="1235.8">1</text>
<text x="508.8" y="1318.4">0</text>
<text x="508.8" y="1401.6">-1</text>
<text x="623.3" y="1214.7">2</text>
<text x="623.3" y="1283.4">1</text>
<text x="623.3" y="1352.5">0</text>
<text x="623.3" y="1421.5">-1</text>
<text x="752.9" y="1159.7">1.5</text>
<text x="752.9" y="1208.8">1.0</text>
<text x="752.9" y="1258.4">0.5</text>
<text x="752.9" y="1307.5">0.0</text>
<text x="752.9" y="1356.9">-0.5</text>
<text x="752.9" y="1406.1">-1.0</text>
<text x="883" y="1161.8">2</text>
<text x="883" y="1232.2">1</text>
<text x="883" y="1302.6">0</text>
<text x="883" y="1372.9">-1</text>
<text x="883" y="1443.3">-2</text>
<text x="997.2" y="1217.8">1</text>
<text x="997.2" y="1297.2">0</text>
<text x="997.2" y="1377">-1</text>
<text x="1112.3" y="1175.8">2</text>
<text x="1112.3" y="1249.7">1</text>
<text x="1112.3" y="1323.5">0</text>
<text x="1112.3" y="1397.8">-1</text>
<text x="1241.6" y="1195.4">2</text>
<text x="1241.6" y="1275.1">1</text>
<text x="1241.6" y="1354.6">0</text>
<text x="1241.6" y="1434.6">-1</text>
</g>
<g font-size="17.6" text-anchor="middle">
<text x="200.5" y="1131.5">01</text>
<text x="314.5" y="1131.5">02</text>
<text x="444.6" y="1131.5">03</text>
<text x="558.9" y="1131.5">04</text>
<text x="673.4" y="1131.5">05</text>
<text x="803" y="1131.5">06</text>
<text x="933.1" y="1131.5">07</text>
<text x="1047.2" y="1131.5">08</text>
<text x="1162.3" y="1131.5">09</text>
<text x="1291.6" y="1131.5">10</text>
<text x="200.5" y="1469.3">11</text>
<text x="314.5" y="1469.3">12</text>
<text x="444.6" y="1469.3">13</text>
<text x="558.9" y="1469.3">14</text>
<text x="673.4" y="1469.3">15</text>
<text x="803" y="1469.3">16</text>
<text x="933.1" y="1469.3">17</text>
<text x="1047.2" y="1469.3">18</text>
<text x="1162.3" y="1469.3">19</text>
<text x="1291.6" y="1469.3">20</text>
</g>
<g font-size="13.8" text-anchor="middle" fill="#333">
<text x="200.3" y="822.3">p=0.062</text>
<text x="314.2" y="822.3">p=1.59e-13</text>
<text x="444.3" y="822.3">p=3.05e-10</text>
<text x="558.6" y="822.3">p=1.55e-11</text>
<text x="673.1" y="822.3">p=1.71e-31</text>
<text x="802.7" y="822.3">p=0.01</text>
<text x="932.8" y="822.3">p=1.21e-15</text>
<text x="1047" y="822.3">p=3.72e-04</text>
<text x="1162.1" y="822.3">p=8.42e-04</text>
<text x="1291.4" y="822.3">p=1.3e-19</text>
<text x="200.3" y="1160.3">p=2.27e-35</text>
<text x="314.2" y="1160.3">p=8.07e-36</text>
<text x="444.3" y="1160.3">p=3.88e-07</text>
<text x="558.6" y="1160.3">p=6.87e-10</text>
<text x="673.1" y="1160.3">p=5.75e-18</text>
<text x="802.7" y="1160.3">p=3.52e-30</text>
<text x="932.8" y="1160.3">p=3.52e-10</text>
<text x="1047" y="1160.3">p=1.26e-33</text>
<text x="1162.1" y="1160.3">p=3.22e-14</text>
<text x="1291.4" y="1160.3">p=1.16e-08</text>
</g>
</g>
<g id="pd">
<text x="1.2" y="1555.4" font-size="58" font-weight="bold">d</text>
<path d="M574.2 1569.1H1288M574.2 1593.9H1288M574.2 1618.8H1288M574.2 1643.6H1288M574.2 1668.4H1288M574.2 1693.2H1288M574.2 1718.1H1288M574.2 1742.9H1288M574.2 1767.7H1288M574.2 1792.6H1288M574.2 1817.4H1288M574.2 1842.2H1288M574.2 1867.1H1288M574.2 1891.9H1288M574.2 1916.7H1288M574.2 1941.5H1288M574.2 1966.4H1288M574.2 1991.2H1288M574.2 2016H1288M574.2 2040.9H1288M574.2 2065.7H1288M574.2 2090.5H1288M574.2 2115.4H1288M574.2 2140.2H1288M574.2 2165H1288M574.2 2189.8H1288M574.2 2214.7H1288M574.2 2239.5H1288M574.2 2264.3H1288M574.2 2289.2H1288M574.2 2314H1288M597.9 1556V2327M639.5 1556V2327M681.1 1556V2327M722.8 1556V2327M764.4 1556V2327M806 1556V2327M847.6 1556V2327M889.3 1556V2327M930.9 1556V2327M972.5 1556V2327M1014.1 1556V2327M1055.8 1556V2327M1097.4 1556V2327M1139 1556V2327M1180.7 1556V2327M1222.3 1556V2327M1263.9 1556V2327" stroke="#EBEBEB" stroke-width="1.3" fill="none"/>
<circle cx="1180.7" cy="1569.1" r="7.5" fill="#FF9800"/>
<circle cx="1263.9" cy="1569.1" r="13" fill="#FF0000"/>
<circle cx="1055.8" cy="1593.9" r="10.7" fill="#FF0000"/>
<circle cx="1180.7" cy="1593.9" r="8.3" fill="#FF6A00"/>
<circle cx="1014.1" cy="1618.8" r="9.5" fill="#FF0500"/>
<circle cx="1014.1" cy="1643.6" r="9.3" fill="#FF0500"/>
<circle cx="639.5" cy="1668.4" r="9.3" fill="#FF0000"/>
<circle cx="681.1" cy="1668.4" r="7.4" fill="#FF9100"/>
<circle cx="1014.1" cy="1668.4" r="7.5" fill="#FF7000"/>
<circle cx="1263.9" cy="1668.4" r="7" fill="#FF9B00"/>
<circle cx="1263.9" cy="1693.2" r="9.4" fill="#FF0800"/>
<circle cx="1055.8" cy="1718.1" r="8" fill="#FF7700"/>
<circle cx="1180.7" cy="1718.1" r="9" fill="#FF0500"/>
<circle cx="1263.9" cy="1718.1" r="9.2" fill="#FF3500"/>
<circle cx="1055.8" cy="1742.9" r="8" fill="#FF6D00"/>
<circle cx="1263.9" cy="1742.9" r="8.3" fill="#FF7400"/>
<circle cx="1263.9" cy="1767.7" r="8" fill="#FF6D00"/>
<circle cx="1055.8" cy="1792.6" r="8" fill="#FF6F00"/>
<circle cx="1180.7" cy="1792.6" r="7.8" fill="#FF8900"/>
<circle cx="1263.9" cy="1792.6" r="7.8" fill="#FF8C00"/>
<circle cx="1222.3" cy="1817.4" r="7.8" fill="#FF7800"/>
<circle cx="1055.8" cy="1842.2" r="7.3" fill="#FF9400"/>
<circle cx="1180.7" cy="1842.2" r="8" fill="#FF8100"/>
<circle cx="1263.9" cy="1867.1" r="7.8" fill="#FF8400"/>
<circle cx="889.3" cy="1891.9" r="10.7" fill="#FF7D00"/>
<circle cx="1014.1" cy="1891.9" r="5.8" fill="#FF9D00"/>
<circle cx="1014.1" cy="1916.7" r="7" fill="#FF8B00"/>
<circle cx="1097.4" cy="1916.7" r="7.2" fill="#FF9B00"/>
<circle cx="1139" cy="1916.7" r="7.5" fill="#FF8400"/>
<circle cx="972.5" cy="1941.5" r="7" fill="#FF9B00"/>
<circle cx="1055.8" cy="1941.5" r="7" fill="#FF9900"/>
<circle cx="1180.7" cy="1941.5" r="7.5" fill="#FF8900"/>
<circle cx="1263.9" cy="1941.5" r="7" fill="#FF9900"/>
<circle cx="1055.8" cy="1966.4" r="5.8" fill="#FF9900"/>
<circle cx="1180.7" cy="1966.4" r="5.5" fill="#FF9900"/>
<circle cx="1263.9" cy="1966.4" r="6.2" fill="#FF8B00"/>
<circle cx="1014.1" cy="1991.2" r="7" fill="#FF8900"/>
<circle cx="1222.3" cy="1991.2" r="7" fill="#FF9B00"/>
<circle cx="1139" cy="2016" r="7.2" fill="#FF8C00"/>
<circle cx="806" cy="2040.9" r="6.8" fill="#FF9D00"/>
<circle cx="1014.1" cy="2040.9" r="6.8" fill="#FF9400"/>
<circle cx="722.8" cy="2065.7" r="7.2" fill="#FF8E00"/>
<circle cx="1263.9" cy="2065.7" r="7" fill="#FF9B00"/>
<circle cx="639.5" cy="2090.5" r="6.8" fill="#FF9D00"/>
<circle cx="764.4" cy="2090.5" r="7.2" fill="#FF9D00"/>
<circle cx="847.6" cy="2090.5" r="7.5" fill="#FF9800"/>
<circle cx="972.5" cy="2090.5" r="7.2" fill="#FF9400"/>
<circle cx="1180.7" cy="2115.4" r="6.4" fill="#FF9800"/>
<circle cx="1014.1" cy="2140.2" r="6.5" fill="#FF9900"/>
<circle cx="1139" cy="2140.2" r="7" fill="#FF9900"/>
<circle cx="639.5" cy="2165" r="6.5" fill="#FF9800"/>
<circle cx="972.5" cy="2165" r="6.4" fill="#FF9800"/>
<circle cx="1263.9" cy="2165" r="6.2" fill="#FF9B00"/>
<circle cx="597.9" cy="2189.8" r="6.7" fill="#FF9B00"/>
<circle cx="597.9" cy="2214.7" r="7.5" fill="#FF9D00"/>
<circle cx="681.1" cy="2214.7" r="6.8" fill="#FF9D00"/>
<circle cx="930.9" cy="2214.7" r="8.8" fill="#FF9E00"/>
<circle cx="1263.9" cy="2239.5" r="5.2" fill="#FF9B00"/>
<circle cx="1097.4" cy="2264.3" r="5.7" fill="#FF9800"/>
<circle cx="1014.1" cy="2289.2" r="3.7" fill="#FF9B00"/>
<circle cx="1222.3" cy="2314" r="7" fill="#FF9E00"/>
<rect x="574.2" y="1556" width="713.8" height="771" fill="none" stroke="#333" stroke-width="2"/>
<path d="M565.7 1569.1H574.2M565.7 1593.9H574.2M565.7 1618.8H574.2M565.7 1643.6H574.2M565.7 1668.4H574.2M565.7 1693.2H574.2M565.7 1718.1H574.2M565.7 1742.9H574.2M565.7 1767.7H574.2M565.7 1792.6H574.2M565.7 1817.4H574.2M565.7 1842.2H574.2M565.7 1867.1H574.2M565.7 1891.9H574.2M565.7 1916.7H574.2M565.7 1941.5H574.2M565.7 1966.4H574.2M565.7 1991.2H574.2M565.7 2016H574.2M565.7 2040.9H574.2M565.7 2065.7H574.2M565.7 2090.5H574.2M565.7 2115.4H574.2M565.7 2140.2H574.2M565.7 2165H574.2M565.7 2189.8H574.2M565.7 2214.7H574.2M565.7 2239.5H574.2M565.7 2264.3H574.2M565.7 2289.2H574.2M565.7 2314H574.2M597.9 2327V2335.5M639.5 2327V2335.5M681.1 2327V2335.5M722.8 2327V2335.5M764.4 2327V2335.5M806 2327V2335.5M847.6 2327V2335.5M889.3 2327V2335.5M930.9 2327V2335.5M972.5 2327V2335.5M1014.1 2327V2335.5M1055.8 2327V2335.5M1097.4 2327V2335.5M1139 2327V2335.5M1180.7 2327V2335.5M1222.3 2327V2335.5M1263.9 2327V2335.5" stroke="#333" stroke-width="1.5" fill="none"/>
<g font-size="20.8" fill="#4D4D4D" text-anchor="end">
<text x="559.5" y="1576.5">TNFA SIGNALING VIA NFKB</text>
<text x="559.5" y="1601.3">ALLOGRAFT REJECTION</text>
<text x="559.5" y="1626.2">G2M CHECKPOINT</text>
<text x="559.5" y="1651">E2F TARGETS</text>
<text x="559.5" y="1675.8">EPITHELIAL MESENCHYMAL TRANSITION</text>
<text x="559.5" y="1700.7">HYPOXIA</text>
<text x="559.5" y="1725.5">INFLAMMATORY RESPONSE</text>
<text x="559.5" y="1750.3">IL2 STAT5 SIGNALING</text>
<text x="559.5" y="1775.1">APOPTOSIS</text>
<text x="559.5" y="1800">INTERFERON GAMMA RESPONSE</text>
<text x="559.5" y="1824.8">OXIDATIVE PHOSPHORYLATION</text>
<text x="559.5" y="1849.6">COMPLEMENT</text>
<text x="559.5" y="1874.5">UV RESPONSE UP</text>
<text x="559.5" y="1899.3">SPERMATOGENESIS</text>
<text x="559.5" y="1924.1">GLYCOLYSIS</text>
<text x="559.5" y="1949">KRAS SIGNALING UP</text>
<text x="559.5" y="1973.8">IL6 JAK STAT3 SIGNALING</text>
<text x="559.5" y="1998.6">MTORC1 SIGNALING</text>
<text x="559.5" y="2023.4">ESTROGEN RESPONSE EARLY</text>
<text x="559.5" y="2048.3">MITOTIC SPINDLE</text>
<text x="559.5" y="2073.1">P53 PATHWAY</text>
<text x="559.5" y="2097.9">MYOGENESIS</text>
<text x="559.5" y="2122.8">INTERFERON ALPHA RESPONSE</text>
<text x="559.5" y="2147.6">ESTROGEN RESPONSE LATE</text>
<text x="559.5" y="2172.4">UV RESPONSE DN</text>
<text x="559.5" y="2197.2">BILE ACID METABOLISM</text>
<text x="559.5" y="2222.1">KRAS SIGNALING DN</text>
<text x="559.5" y="2246.9">TGF BETA SIGNALING</text>
<text x="559.5" y="2271.7">MYC TARGETS V2</text>
<text x="559.5" y="2296.6">ANGIOGENESIS</text>
<text x="559.5" y="2321.4">MYC TARGETS V1</text>
</g>
<g font-size="21.6" fill="#4D4D4D" text-anchor="end">
<text transform="translate(606.4 2351.5) rotate(-45)">Module_1</text>
<text transform="translate(648 2351.5) rotate(-45)">Module_2</text>
<text transform="translate(689.6 2351.5) rotate(-45)">Module_3</text>
<text transform="translate(731.3 2351.5) rotate(-45)">Module_4</text>
<text transform="translate(772.9 2351.5) rotate(-45)">Module_5</text>
<text transform="translate(814.5 2351.5) rotate(-45)">Module_6</text>
<text transform="translate(856.1 2351.5) rotate(-45)">Module_7</text>
<text transform="translate(897.8 2351.5) rotate(-45)">Module_8</text>
<text transform="translate(939.4 2351.5) rotate(-45)">Module_9</text>
<text transform="translate(981 2351.5) rotate(-45)">Module_11</text>
<text transform="translate(1022.6 2351.5) rotate(-45)">Module_12</text>
<text transform="translate(1064.3 2351.5) rotate(-45)">Module_14</text>
<text transform="translate(1105.9 2351.5) rotate(-45)">Module_15</text>
<text transform="translate(1147.5 2351.5) rotate(-45)">Module_16</text>
<text transform="translate(1189.2 2351.5) rotate(-45)">Module_17</text>
<text transform="translate(1230.8 2351.5) rotate(-45)">Module_18</text>
<text transform="translate(1272.4 2351.5) rotate(-45)">Module_20</text>
</g>
<text x="931" y="2465.5" font-size="36.5" text-anchor="middle">Module</text>
<text transform="translate(125.6 1941) rotate(-90)" font-size="36.5" text-anchor="middle">Hallmarks of Cancer</text>
<text x="1333.6" y="1660.4" font-size="36.5">Gene Ratio</text>
<circle cx="1355.5" cy="1707.7" r="7" fill="#000"/>
<text x="1397" y="1715.5" font-size="22">0.1</text>
<circle cx="1355.5" cy="1753" r="8.9" fill="#000"/>
<text x="1397" y="1760.8" font-size="22">0.2</text>
<circle cx="1355.5" cy="1798.6" r="10.3" fill="#000"/>
<text x="1397" y="1806.4" font-size="22">0.3</text>
<circle cx="1355.5" cy="1844.2" r="11.5" fill="#000"/>
<text x="1397" y="1852" font-size="22">0.4</text>
<circle cx="1355.5" cy="1889.7" r="12.3" fill="#000"/>
<text x="1397" y="1897.5" font-size="22">0.5</text>
<text x="1333.6" y="2003" font-size="36.5">-log10(p-value)</text>
<rect x="1332.8" y="2027.3" width="45.6" height="228.1" fill="url(#gd)"/>
<text x="1397" y="2035.8" font-size="22">9</text>
<path d="M1332.8 2086.5h9M1378.4 2086.5h-9" stroke="#fff" stroke-width="1" opacity="0.8"/>
<text x="1397" y="2094.3" font-size="22">7</text>
<path d="M1332.8 2146.4h9M1378.4 2146.4h-9" stroke="#fff" stroke-width="1" opacity="0.8"/>
<text x="1397" y="2154.2" font-size="22">5</text>
<path d="M1332.8 2205.8h9M1378.4 2205.8h-9" stroke="#fff" stroke-width="1" opacity="0.8"/>
<text x="1397" y="2213.6" font-size="22">3</text>
</g>
</svg></body></html>
